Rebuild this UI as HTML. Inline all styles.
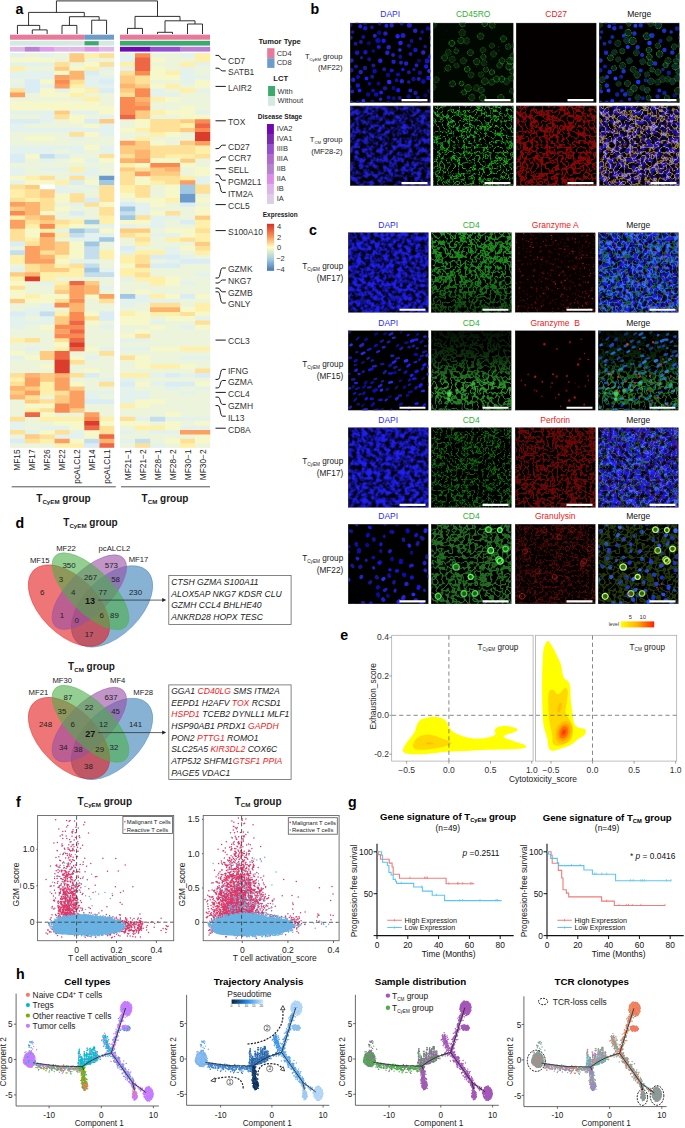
<!DOCTYPE html>
<html><head><meta charset="utf-8"><style>
html,body{margin:0;background:#fff;overflow:hidden;width:685px;height:1128px}
svg{display:block}
text{font-family:"Liberation Sans",sans-serif;fill:#1a1a1a}
.gl{font-size:8.5px;fill:#333}
.lt{font-size:7.6px;font-weight:bold;fill:#1a1a1a}
.lg{font-size:7.5px;fill:#333}
.cl{font-size:8.3px;fill:#222}
.gt{font-size:10px;font-weight:bold}
.pl{font-size:14.2px;font-weight:bold;fill:#000}
.ml{font-size:8.5px}
.vl{font-size:7.7px;fill:#222}
.vn{font-size:7.9px;fill:#222}
.vb{font-size:9px;font-weight:bold;fill:#111}
.bx{font-size:8.6px;font-style:italic;fill:#222}
.rd{fill:#ee1c1c}
.tk{font-size:8.5px;fill:#333}
.ax{font-size:8.4px;fill:#222}
.tn{font-size:4.4px;fill:#333}
.tf{font-size:8.6px;fill:#222}
.af{font-size:8.5px;fill:#222}
.lf{font-size:5.9px;fill:#222}
.tg{font-size:8.4px;fill:#111}
.tg2{font-size:8.4px;fill:#222}
.lk{font-size:7.2px;fill:#111}
.tt{font-size:9.6px;font-weight:bold;fill:#000}
.th{font-size:8.2px;fill:#222}
.ht{font-size:9.8px;font-weight:bold;fill:#000}
.hl{font-size:8.4px;fill:#222}
.tn2{font-size:3.3px;fill:#333}
.cn{font-size:5.2px;fill:#333}
.rl{font-size:7.6px;fill:#222}
.rl2{font-size:8.2px;fill:#222}
</style></head><body>
<svg width="685" height="1128" viewBox="0 0 685 1128">
<path d="M32.29 34V29.9H47.14V34M17.43 34V25.4H39.71V29.9M62 34V25.4H76.86V34M91.71 34V20.2H106.57V34M69.43 25.4V16.7H99.14V20.2M28.57 25.4V12.4H84.29V16.7M127.5 34V28.4H142.5V34M157.5 34V32.3H172.5V34M187.5 34V24H202.5V34M165 32.3V20.8H195V24M135 28.4V16.4H180V20.8M56.43 12.4V0.9H157.5V16.4" fill="none" stroke="#1a1a1a" stroke-width="0.9"/>
<rect x="10" y="34.7" width="74.29" height="5" fill="#E8799A"/>
<rect x="84.29" y="34.7" width="29.71" height="5" fill="#6F9BC8"/>
<rect x="120" y="34.7" width="90" height="5" fill="#E8799A"/>
<rect x="10" y="40.8" width="104" height="4.8" fill="#D2EAE0"/>
<rect x="84.59" y="41.2" width="14.06" height="4.1" fill="#3DAA6D"/>
<rect x="120" y="40.8" width="90" height="4.8" fill="#3DAA6D"/>
<rect x="10" y="46.8" width="15.06" height="4.8" fill="#DFB8E6"/>
<rect x="24.86" y="46.8" width="15.06" height="4.8" fill="#B983D3"/>
<rect x="39.71" y="46.8" width="15.06" height="4.8" fill="#DE9CE9"/>
<rect x="54.57" y="46.8" width="15.06" height="4.8" fill="#DFB8E8"/>
<rect x="69.43" y="46.8" width="15.06" height="4.8" fill="#DFB8E8"/>
<rect x="84.29" y="46.8" width="15.06" height="4.8" fill="#DE96EA"/>
<rect x="99.14" y="46.8" width="15.06" height="4.8" fill="#DFB8E8"/>
<rect x="120" y="46.8" width="15.2" height="4.8" fill="#6E0AAE"/>
<rect x="135" y="46.8" width="15.2" height="4.8" fill="#6E0AAE"/>
<rect x="150" y="46.8" width="15.2" height="4.8" fill="#9550D0"/>
<rect x="165" y="46.8" width="15.2" height="4.8" fill="#9550D0"/>
<rect x="180" y="46.8" width="15.2" height="4.8" fill="#B87ED4"/>
<rect x="195" y="46.8" width="15.2" height="4.8" fill="#B87ED4"/>
<rect x="10" y="53.2" width="104" height="394.2" fill="#ECF5DC"/><rect x="120" y="53.2" width="90" height="394.2" fill="#ECF5DC"/>
<path d="M10 53.2h15.11v4.68h-15.11zM39.71 53.2h15.11v4.68h-15.11zM120 53.2h15.25v4.68h-15.25zM180 53.2h15.25v4.68h-15.25zM120 57.58h15.25v4.68h-15.25zM10 61.96h44.82v4.68h-44.82zM195 61.96h15.25v4.68h-15.25zM99.14 66.34h15.11v4.68h-15.11zM120 66.34h15.25v4.68h-15.25zM180 66.34h15.25v4.68h-15.25zM10 70.72h44.82v4.68h-44.82zM180 70.72h15.25v4.68h-15.25zM10 75.1h44.82v4.68h-44.82zM84.29 75.1h29.96v4.68h-29.96zM180 75.1h30.25v4.68h-30.25zM84.29 79.48h15.11v4.68h-15.11zM180 79.48h15.25v4.68h-15.25zM10 83.86h15.11v4.68h-15.11zM39.71 83.86h15.11v4.68h-15.11zM84.29 83.86h29.96v4.68h-29.96zM54.57 88.24h15.11v4.68h-15.11zM150 88.24h15.25v4.68h-15.25zM195 88.24h15.25v4.68h-15.25zM150 92.62h30.25v4.68h-30.25zM10 110.14h44.82v4.68h-44.82zM69.43 110.14h29.96v4.68h-29.96zM195 110.14h15.25v4.68h-15.25zM39.71 114.52h15.11v4.68h-15.11zM99.14 114.52h15.11v4.68h-15.11zM39.71 118.9h15.11v4.68h-15.11zM10 123.28h15.11v4.68h-15.11zM99.14 123.28h15.11v4.68h-15.11zM10 127.66h104.25v4.68h-104.25zM99.14 132.04h15.11v4.68h-15.11zM69.43 136.42h15.11v4.68h-15.11zM10 145.18h74.54v4.68h-74.54zM99.14 145.18h15.11v4.68h-15.11zM10 149.56h44.82v4.68h-44.82zM69.43 149.56h15.11v4.68h-15.11zM99.14 149.56h15.11v4.68h-15.11zM39.71 158.32h15.11v4.68h-15.11zM84.29 158.32h15.11v4.68h-15.11zM10 167.08h15.11v4.68h-15.11zM39.71 167.08h29.96v4.68h-29.96zM84.29 167.08h15.11v4.68h-15.11zM10 171.46h15.11v4.68h-15.11zM69.43 171.46h29.96v4.68h-29.96zM195 175.84h15.25v4.68h-15.25zM10 180.22h15.11v4.68h-15.11zM195 180.22h15.25v4.68h-15.25zM54.57 184.6h15.11v4.68h-15.11zM84.29 184.6h15.11v4.68h-15.11zM54.57 188.98h29.96v4.68h-29.96zM69.43 202.12h15.11v4.68h-15.11zM135 202.12h15.25v4.68h-15.25zM135 206.5h15.25v4.68h-15.25zM135 210.88h15.25v4.68h-15.25zM150 215.26h30.25v4.68h-30.25zM150 219.64h15.25v4.68h-15.25zM99.14 224.02h15.11v4.68h-15.11zM120 224.02h15.25v4.68h-15.25zM150 224.02h15.25v4.68h-15.25zM54.57 228.4h15.11v4.68h-15.11zM84.29 232.78h29.96v4.68h-29.96zM150 232.78h30.25v4.68h-30.25zM69.43 237.16h29.96v4.68h-29.96zM165 245.92h15.25v4.68h-15.25zM120 250.3h15.25v4.68h-15.25zM165 250.3h15.25v4.68h-15.25zM180 254.68h15.25v4.68h-15.25zM69.43 259.06h29.96v4.68h-29.96zM165 259.06h15.25v4.68h-15.25zM10 267.82h15.11v4.68h-15.11zM99.14 267.82h15.11v4.68h-15.11zM195 272.2h15.25v4.68h-15.25zM120 276.58h15.25v4.68h-15.25zM39.71 280.96h15.11v4.68h-15.11zM180 280.96h15.25v4.68h-15.25zM99.14 285.34h15.11v4.68h-15.11zM135 294.1h15.25v4.68h-15.25zM120 298.48h60.25v4.68h-60.25zM39.71 302.86h15.11v4.68h-15.11zM120 302.86h15.25v4.68h-15.25zM24.86 307.24h29.96v4.68h-29.96zM24.86 311.62h15.11v4.68h-15.11zM10 316h15.11v4.68h-15.11zM39.71 316h15.11v4.68h-15.11zM195 316h15.25v4.68h-15.25zM10 320.38h44.82v4.68h-44.82zM150 320.38h15.25v4.68h-15.25zM10 324.76h15.11v4.68h-15.11zM99.14 324.76h15.11v4.68h-15.11zM180 324.76h15.25v4.68h-15.25zM120 337.9h30.25v4.68h-30.25zM24.86 346.66h15.11v4.68h-15.11zM99.14 346.66h15.11v4.68h-15.11zM120 346.66h30.25v4.68h-30.25zM10 355.42h15.11v4.68h-15.11zM84.29 355.42h15.11v4.68h-15.11zM180 355.42h30.25v4.68h-30.25zM150 372.94h15.25v4.68h-15.25zM180 372.94h15.25v4.68h-15.25zM99.14 377.32h15.11v4.68h-15.11zM120 377.32h15.25v4.68h-15.25zM150 381.7h15.25v4.68h-15.25zM120 386.08h15.25v4.68h-15.25zM165 386.08h15.25v4.68h-15.25zM195 386.08h15.25v4.68h-15.25zM84.29 390.46h29.96v4.68h-29.96zM120 390.46h30.25v4.68h-30.25zM180 390.46h15.25v4.68h-15.25zM84.29 394.84h15.11v4.68h-15.11zM120 394.84h30.25v4.68h-30.25zM120 399.22h15.25v4.68h-15.25zM135 416.74h15.25v4.68h-15.25zM165 416.74h45.25v4.68h-45.25zM10 421.12h15.11v4.68h-15.11zM10 425.5h15.11v4.68h-15.11zM39.71 425.5h29.96v4.68h-29.96zM180 425.5h30.25v4.68h-30.25zM24.86 429.88h15.11v4.68h-15.11zM69.43 429.88h15.11v4.68h-15.11zM120 429.88h15.25v4.68h-15.25zM150 429.88h30.25v4.68h-30.25zM54.57 434.26h29.96v4.68h-29.96zM120 438.64h15.25v4.68h-15.25zM150 443.02h15.25v4.68h-15.25z" fill="#E3F2EC"/>
<path d="M24.86 53.2h15.11v4.68h-15.11zM54.57 53.2h15.11v4.68h-15.11zM150 53.2h30.25v4.68h-30.25zM54.57 57.58h15.11v4.68h-15.11zM84.29 57.58h29.96v4.68h-29.96zM165 57.58h30.25v4.68h-30.25zM69.43 61.96h15.11v4.68h-15.11zM150 61.96h30.25v4.68h-30.25zM24.86 66.34h29.96v4.68h-29.96zM165 66.34h15.25v4.68h-15.25zM195 66.34h15.25v4.68h-15.25zM99.14 70.72h15.11v4.68h-15.11zM195 70.72h15.25v4.68h-15.25zM10 79.48h15.11v4.68h-15.11zM150 79.48h30.25v4.68h-30.25zM180 83.86h15.25v4.68h-15.25zM165 88.24h15.25v4.68h-15.25zM24.86 92.62h15.11v4.68h-15.11zM84.29 92.62h29.96v4.68h-29.96zM180 92.62h30.25v4.68h-30.25zM10 97h74.54v4.68h-74.54zM99.14 97h15.11v4.68h-15.11zM180 97h30.25v4.68h-30.25zM99.14 101.38h15.11v4.68h-15.11zM150 101.38h60.25v4.68h-60.25zM150 105.76h30.25v4.68h-30.25zM195 105.76h15.25v4.68h-15.25zM10 114.52h29.96v4.68h-29.96zM84.29 114.52h15.11v4.68h-15.11zM150 114.52h30.25v4.68h-30.25zM54.57 118.9h15.11v4.68h-15.11zM120 118.9h15.25v4.68h-15.25zM24.86 123.28h59.68v4.68h-59.68zM120 123.28h15.25v4.68h-15.25zM10 132.04h59.68v4.68h-59.68zM120 132.04h30.25v4.68h-30.25zM180 132.04h15.25v4.68h-15.25zM10 136.42h15.11v4.68h-15.11zM54.57 136.42h15.11v4.68h-15.11zM84.29 136.42h29.96v4.68h-29.96zM120 136.42h15.25v4.68h-15.25zM150 136.42h45.25v4.68h-45.25zM10 140.8h104.25v4.68h-104.25zM165 140.8h15.25v4.68h-15.25zM54.57 149.56h15.11v4.68h-15.11zM84.29 149.56h15.11v4.68h-15.11zM69.43 153.94h29.96v4.68h-29.96zM24.86 158.32h15.11v4.68h-15.11zM54.57 158.32h15.11v4.68h-15.11zM195 158.32h15.25v4.68h-15.25zM10 162.7h104.25v4.68h-104.25zM195 162.7h15.25v4.68h-15.25zM24.86 167.08h15.11v4.68h-15.11zM99.14 167.08h15.11v4.68h-15.11zM180 167.08h15.25v4.68h-15.25zM24.86 171.46h44.82v4.68h-44.82zM99.14 171.46h15.11v4.68h-15.11zM180 171.46h15.25v4.68h-15.25zM54.57 175.84h15.11v4.68h-15.11zM84.29 175.84h15.11v4.68h-15.11zM69.43 184.6h15.11v4.68h-15.11zM150 184.6h15.25v4.68h-15.25zM84.29 188.98h15.11v4.68h-15.11zM150 188.98h15.25v4.68h-15.25zM84.29 193.36h15.11v4.68h-15.11zM150 193.36h15.25v4.68h-15.25zM195 193.36h15.25v4.68h-15.25zM120 197.74h15.25v4.68h-15.25zM54.57 202.12h15.11v4.68h-15.11zM165 202.12h15.25v4.68h-15.25zM195 202.12h15.25v4.68h-15.25zM69.43 206.5h29.96v4.68h-29.96zM150 206.5h45.25v4.68h-45.25zM54.57 210.88h15.11v4.68h-15.11zM84.29 210.88h15.11v4.68h-15.11zM180 210.88h15.25v4.68h-15.25zM54.57 215.26h44.82v4.68h-44.82zM180 215.26h15.25v4.68h-15.25zM165 219.64h15.25v4.68h-15.25zM84.29 224.02h15.11v4.68h-15.11zM135 224.02h15.25v4.68h-15.25zM165 224.02h30.25v4.68h-30.25zM150 228.4h15.25v4.68h-15.25zM54.57 237.16h15.11v4.68h-15.11zM120 237.16h15.25v4.68h-15.25zM150 237.16h15.25v4.68h-15.25zM99.14 241.54h15.11v4.68h-15.11zM120 241.54h15.25v4.68h-15.25zM150 241.54h45.25v4.68h-45.25zM10 245.92h15.11v4.68h-15.11zM99.14 245.92h15.11v4.68h-15.11zM135 245.92h30.25v4.68h-30.25zM180 250.3h15.25v4.68h-15.25zM195 254.68h15.25v4.68h-15.25zM99.14 259.06h15.11v4.68h-15.11zM150 259.06h15.25v4.68h-15.25zM10 263.44h15.11v4.68h-15.11zM99.14 263.44h15.11v4.68h-15.11zM180 263.44h30.25v4.68h-30.25zM150 267.82h60.25v4.68h-60.25zM150 272.2h45.25v4.68h-45.25zM54.57 276.58h59.68v4.68h-59.68zM180 276.58h30.25v4.68h-30.25zM24.86 280.96h15.11v4.68h-15.11zM99.14 280.96h15.11v4.68h-15.11zM120 280.96h30.25v4.68h-30.25zM195 280.96h15.25v4.68h-15.25zM24.86 285.34h29.96v4.68h-29.96zM120 285.34h90.25v4.68h-90.25zM24.86 289.72h29.96v4.68h-29.96zM99.14 289.72h15.11v4.68h-15.11zM120 289.72h15.25v4.68h-15.25zM150 289.72h60.25v4.68h-60.25zM84.29 298.48h15.11v4.68h-15.11zM180 298.48h30.25v4.68h-30.25zM10 302.86h29.96v4.68h-29.96zM84.29 302.86h29.96v4.68h-29.96zM135 302.86h15.25v4.68h-15.25zM180 302.86h15.25v4.68h-15.25zM10 307.24h15.11v4.68h-15.11zM54.57 307.24h15.11v4.68h-15.11zM84.29 307.24h29.96v4.68h-29.96zM120 307.24h30.25v4.68h-30.25zM24.86 316h15.11v4.68h-15.11zM150 316h15.25v4.68h-15.25zM99.14 320.38h15.11v4.68h-15.11zM165 320.38h30.25v4.68h-30.25zM24.86 324.76h15.11v4.68h-15.11zM84.29 324.76h15.11v4.68h-15.11zM120 324.76h30.25v4.68h-30.25zM165 324.76h15.25v4.68h-15.25zM10 329.14h44.82v4.68h-44.82zM84.29 329.14h29.96v4.68h-29.96zM120 329.14h15.25v4.68h-15.25zM150 329.14h60.25v4.68h-60.25zM10 333.52h44.82v4.68h-44.82zM84.29 333.52h29.96v4.68h-29.96zM150 333.52h60.25v4.68h-60.25zM39.71 337.9h15.11v4.68h-15.11zM84.29 337.9h29.96v4.68h-29.96zM150 337.9h60.25v4.68h-60.25zM10 342.28h44.82v4.68h-44.82zM84.29 342.28h29.96v4.68h-29.96zM120 342.28h90.25v4.68h-90.25zM10 346.66h15.11v4.68h-15.11zM39.71 346.66h15.11v4.68h-15.11zM24.86 351.04h15.11v4.68h-15.11zM69.43 351.04h29.96v4.68h-29.96zM120 351.04h90.25v4.68h-90.25zM99.14 355.42h15.11v4.68h-15.11zM150 355.42h30.25v4.68h-30.25zM10 359.8h44.82v4.68h-44.82zM84.29 359.8h29.96v4.68h-29.96zM120 359.8h15.25v4.68h-15.25zM150 359.8h60.25v4.68h-60.25zM10 364.18h29.96v4.68h-29.96zM69.43 364.18h44.82v4.68h-44.82zM120 364.18h15.25v4.68h-15.25zM195 364.18h15.25v4.68h-15.25zM10 368.56h44.82v4.68h-44.82zM69.43 368.56h15.11v4.68h-15.11zM99.14 368.56h15.11v4.68h-15.11zM120 368.56h75.25v4.68h-75.25zM99.14 372.94h15.11v4.68h-15.11zM69.43 377.32h29.96v4.68h-29.96zM135 377.32h75.25v4.68h-75.25zM84.29 381.7h15.11v4.68h-15.11zM84.29 386.08h29.96v4.68h-29.96zM135 386.08h30.25v4.68h-30.25zM180 386.08h15.25v4.68h-15.25zM150 390.46h30.25v4.68h-30.25zM195 390.46h15.25v4.68h-15.25zM39.71 394.84h15.11v4.68h-15.11zM99.14 394.84h15.11v4.68h-15.11zM150 394.84h60.25v4.68h-60.25zM10 399.22h15.11v4.68h-15.11zM165 399.22h45.25v4.68h-45.25zM10 403.6h15.11v4.68h-15.11zM84.29 403.6h29.96v4.68h-29.96zM150 403.6h60.25v4.68h-60.25zM10 407.98h15.11v4.68h-15.11zM84.29 407.98h29.96v4.68h-29.96zM120 407.98h90.25v4.68h-90.25zM10 412.36h15.11v4.68h-15.11zM54.57 412.36h29.96v4.68h-29.96zM99.14 412.36h15.11v4.68h-15.11zM120 412.36h45.25v4.68h-45.25zM180 412.36h30.25v4.68h-30.25zM24.86 416.74h15.11v4.68h-15.11zM24.86 421.12h29.96v4.68h-29.96zM150 421.12h15.25v4.68h-15.25zM180 421.12h15.25v4.68h-15.25zM24.86 425.5h15.11v4.68h-15.11zM120 425.5h15.25v4.68h-15.25zM135 429.88h15.25v4.68h-15.25zM10 434.26h15.11v4.68h-15.11zM120 434.26h75.25v4.68h-75.25zM150 438.64h15.25v4.68h-15.25zM10 443.02h44.82v4.68h-44.82zM120 443.02h15.25v4.68h-15.25zM165 443.02h15.25v4.68h-15.25zM195 443.02h15.25v4.68h-15.25z" fill="#ECF5DC"/>
<path d="M69.43 53.2h15.11v4.68h-15.11zM69.43 57.58h15.11v4.68h-15.11zM54.57 66.34h15.11v4.68h-15.11zM120 75.1h15.25v4.68h-15.25zM120 79.48h15.25v4.68h-15.25zM135 83.86h15.25v4.68h-15.25zM120 88.24h15.25v4.68h-15.25zM54.57 110.14h15.11v4.68h-15.11zM135 110.14h15.25v4.68h-15.25zM135 114.52h15.25v4.68h-15.25zM99.14 118.9h15.11v4.68h-15.11zM180 118.9h15.25v4.68h-15.25zM180 127.66h15.25v4.68h-15.25zM135 140.8h15.25v4.68h-15.25zM180 140.8h15.25v4.68h-15.25zM120 145.18h30.25v4.68h-30.25zM120 149.56h15.25v4.68h-15.25zM180 158.32h15.25v4.68h-15.25zM120 167.08h15.25v4.68h-15.25zM150 167.08h15.25v4.68h-15.25zM150 171.46h30.25v4.68h-30.25zM24.86 184.6h15.11v4.68h-15.11zM39.71 188.98h15.11v4.68h-15.11zM39.71 193.36h15.11v4.68h-15.11zM10 206.5h15.11v4.68h-15.11zM24.86 215.26h15.11v4.68h-15.11zM195 215.26h15.25v4.68h-15.25zM39.71 219.64h15.11v4.68h-15.11zM120 228.4h30.25v4.68h-30.25zM54.57 241.54h15.11v4.68h-15.11zM195 241.54h15.25v4.68h-15.25zM54.57 245.92h15.11v4.68h-15.11zM54.57 250.3h15.11v4.68h-15.11zM39.71 263.44h15.11v4.68h-15.11zM135 263.44h15.25v4.68h-15.25zM39.71 267.82h29.96v4.68h-29.96zM10 272.2h15.11v4.68h-15.11zM84.29 280.96h15.11v4.68h-15.11zM54.57 289.72h15.11v4.68h-15.11zM10 298.48h15.11v4.68h-15.11zM54.57 316h15.11v4.68h-15.11zM54.57 320.38h15.11v4.68h-15.11zM39.71 351.04h15.11v4.68h-15.11zM39.71 355.42h15.11v4.68h-15.11zM39.71 372.94h15.11v4.68h-15.11zM39.71 377.32h15.11v4.68h-15.11zM24.86 386.08h15.11v4.68h-15.11zM69.43 386.08h15.11v4.68h-15.11zM10 390.46h15.11v4.68h-15.11zM54.57 394.84h15.11v4.68h-15.11zM24.86 399.22h15.11v4.68h-15.11zM54.57 399.22h15.11v4.68h-15.11zM69.43 407.98h15.11v4.68h-15.11zM24.86 434.26h15.11v4.68h-15.11z" fill="#FDCB82"/>
<path d="M84.29 53.2h15.11v4.68h-15.11zM195 53.2h15.25v4.68h-15.25zM195 57.58h15.25v4.68h-15.25zM120 61.96h15.25v4.68h-15.25zM180 61.96h15.25v4.68h-15.25zM10 66.34h15.11v4.68h-15.11zM84.29 66.34h15.11v4.68h-15.11zM165 70.72h15.25v4.68h-15.25zM69.43 83.86h15.11v4.68h-15.11zM165 83.86h15.25v4.68h-15.25zM84.29 88.24h15.11v4.68h-15.11zM180 88.24h15.25v4.68h-15.25zM69.43 92.62h15.11v4.68h-15.11zM84.29 97h15.11v4.68h-15.11zM150 97h15.25v4.68h-15.25zM150 110.14h15.25v4.68h-15.25zM180 123.28h15.25v4.68h-15.25zM135 127.66h15.25v4.68h-15.25zM150 132.04h15.25v4.68h-15.25zM135 136.42h15.25v4.68h-15.25zM195 145.18h15.25v4.68h-15.25zM195 149.56h15.25v4.68h-15.25zM165 153.94h30.25v4.68h-30.25zM120 162.7h15.25v4.68h-15.25zM69.43 167.08h15.11v4.68h-15.11zM24.86 175.84h15.11v4.68h-15.11zM180 175.84h15.25v4.68h-15.25zM54.57 180.22h15.11v4.68h-15.11zM150 180.22h15.25v4.68h-15.25zM120 184.6h15.25v4.68h-15.25zM10 188.98h15.11v4.68h-15.11zM120 188.98h15.25v4.68h-15.25zM10 193.36h15.11v4.68h-15.11zM24.86 197.74h15.11v4.68h-15.11zM165 197.74h15.25v4.68h-15.25zM10 215.26h15.11v4.68h-15.11zM99.14 215.26h15.11v4.68h-15.11zM69.43 219.64h15.11v4.68h-15.11zM99.14 219.64h15.11v4.68h-15.11zM195 219.64h15.25v4.68h-15.25zM24.86 224.02h15.11v4.68h-15.11zM54.57 224.02h15.11v4.68h-15.11zM195 224.02h15.25v4.68h-15.25zM39.71 228.4h15.11v4.68h-15.11zM54.57 232.78h15.11v4.68h-15.11zM135 232.78h15.25v4.68h-15.25zM195 232.78h15.25v4.68h-15.25zM24.86 237.16h15.11v4.68h-15.11zM165 237.16h15.25v4.68h-15.25zM195 237.16h15.25v4.68h-15.25zM135 241.54h15.25v4.68h-15.25zM99.14 250.3h15.11v4.68h-15.11zM135 250.3h30.25v4.68h-30.25zM195 250.3h15.25v4.68h-15.25zM10 254.68h15.11v4.68h-15.11zM54.57 254.68h15.11v4.68h-15.11zM99.14 254.68h15.11v4.68h-15.11zM120 254.68h15.25v4.68h-15.25zM10 259.06h15.11v4.68h-15.11zM120 259.06h15.25v4.68h-15.25zM54.57 263.44h15.11v4.68h-15.11zM69.43 267.82h15.11v4.68h-15.11zM120 267.82h30.25v4.68h-30.25zM39.71 272.2h44.82v4.68h-44.82zM120 272.2h15.25v4.68h-15.25zM10 276.58h15.11v4.68h-15.11zM39.71 276.58h15.11v4.68h-15.11zM135 276.58h30.25v4.68h-30.25zM54.57 280.96h15.11v4.68h-15.11zM150 280.96h15.25v4.68h-15.25zM24.86 294.1h15.11v4.68h-15.11zM150 294.1h15.25v4.68h-15.25zM195 302.86h15.25v4.68h-15.25zM195 307.24h15.25v4.68h-15.25zM54.57 311.62h15.11v4.68h-15.11zM120 311.62h15.25v4.68h-15.25zM150 311.62h30.25v4.68h-30.25zM10 337.9h15.11v4.68h-15.11zM54.57 346.66h15.11v4.68h-15.11zM180 346.66h30.25v4.68h-30.25zM150 364.18h30.25v4.68h-30.25zM120 372.94h30.25v4.68h-30.25zM10 377.32h15.11v4.68h-15.11zM39.71 381.7h15.11v4.68h-15.11zM39.71 386.08h15.11v4.68h-15.11zM39.71 390.46h15.11v4.68h-15.11zM120 403.6h15.25v4.68h-15.25zM24.86 407.98h15.11v4.68h-15.11zM39.71 416.74h44.82v4.68h-44.82zM99.14 416.74h15.11v4.68h-15.11zM135 425.5h30.25v4.68h-30.25zM39.71 438.64h15.11v4.68h-15.11zM54.57 443.02h29.96v4.68h-29.96zM180 443.02h15.25v4.68h-15.25z" fill="#FEF0A8"/>
<path d="M99.14 53.2h15.11v4.68h-15.11zM54.57 61.96h15.11v4.68h-15.11zM99.14 61.96h15.11v4.68h-15.11zM120 70.72h15.25v4.68h-15.25zM135 75.1h15.25v4.68h-15.25zM69.43 79.48h15.11v4.68h-15.11zM135 79.48h15.25v4.68h-15.25zM10 88.24h15.11v4.68h-15.11zM120 92.62h15.25v4.68h-15.25zM54.57 114.52h15.11v4.68h-15.11zM150 118.9h30.25v4.68h-30.25zM150 123.28h30.25v4.68h-30.25zM150 127.66h30.25v4.68h-30.25zM69.43 132.04h15.11v4.68h-15.11zM150 145.18h45.25v4.68h-45.25zM150 149.56h45.25v4.68h-45.25zM99.14 153.94h15.11v4.68h-15.11zM120 153.94h15.25v4.68h-15.25zM150 153.94h15.25v4.68h-15.25zM195 153.94h15.25v4.68h-15.25zM135 167.08h15.25v4.68h-15.25zM120 171.46h15.25v4.68h-15.25zM39.71 175.84h15.11v4.68h-15.11zM69.43 175.84h15.11v4.68h-15.11zM120 175.84h15.25v4.68h-15.25zM150 175.84h30.25v4.68h-30.25zM120 180.22h15.25v4.68h-15.25zM165 180.22h15.25v4.68h-15.25zM10 184.6h15.11v4.68h-15.11zM99.14 184.6h15.11v4.68h-15.11zM135 184.6h15.25v4.68h-15.25zM195 184.6h15.25v4.68h-15.25zM24.86 188.98h15.11v4.68h-15.11zM99.14 188.98h15.11v4.68h-15.11zM135 188.98h15.25v4.68h-15.25zM195 188.98h15.25v4.68h-15.25zM24.86 193.36h15.11v4.68h-15.11zM69.43 193.36h15.11v4.68h-15.11zM99.14 193.36h15.11v4.68h-15.11zM135 193.36h15.25v4.68h-15.25zM10 197.74h15.11v4.68h-15.11zM39.71 197.74h15.11v4.68h-15.11zM69.43 197.74h15.11v4.68h-15.11zM99.14 197.74h15.11v4.68h-15.11zM39.71 202.12h15.11v4.68h-15.11zM84.29 202.12h15.11v4.68h-15.11zM39.71 206.5h15.11v4.68h-15.11zM99.14 206.5h15.11v4.68h-15.11zM99.14 210.88h15.11v4.68h-15.11zM165 210.88h15.25v4.68h-15.25zM135 215.26h15.25v4.68h-15.25zM24.86 219.64h15.11v4.68h-15.11zM54.57 219.64h15.11v4.68h-15.11zM10 228.4h15.11v4.68h-15.11zM195 228.4h15.25v4.68h-15.25zM10 232.78h15.11v4.68h-15.11zM120 232.78h15.25v4.68h-15.25zM10 237.16h15.11v4.68h-15.11zM135 237.16h15.25v4.68h-15.25zM180 237.16h15.25v4.68h-15.25zM24.86 241.54h15.11v4.68h-15.11zM195 245.92h15.25v4.68h-15.25zM39.71 250.3h15.11v4.68h-15.11zM135 254.68h15.25v4.68h-15.25zM135 259.06h15.25v4.68h-15.25zM24.86 263.44h15.11v4.68h-15.11zM69.43 263.44h15.11v4.68h-15.11zM24.86 267.82h15.11v4.68h-15.11zM135 272.2h15.25v4.68h-15.25zM10 285.34h15.11v4.68h-15.11zM54.57 285.34h15.11v4.68h-15.11zM54.57 298.48h15.11v4.68h-15.11zM99.14 298.48h15.11v4.68h-15.11zM150 302.86h30.25v4.68h-30.25zM180 311.62h15.25v4.68h-15.25zM84.29 316h15.11v4.68h-15.11zM195 320.38h15.25v4.68h-15.25zM135 333.52h15.25v4.68h-15.25zM24.86 337.9h15.11v4.68h-15.11zM54.57 337.9h15.11v4.68h-15.11zM99.14 351.04h15.11v4.68h-15.11zM120 355.42h15.25v4.68h-15.25zM69.43 359.8h15.11v4.68h-15.11zM195 368.56h15.25v4.68h-15.25zM10 372.94h15.11v4.68h-15.11zM69.43 372.94h15.11v4.68h-15.11zM10 381.7h15.11v4.68h-15.11zM99.14 381.7h15.11v4.68h-15.11zM54.57 390.46h15.11v4.68h-15.11zM24.86 394.84h15.11v4.68h-15.11zM39.71 399.22h15.11v4.68h-15.11zM39.71 407.98h15.11v4.68h-15.11zM10 416.74h15.11v4.68h-15.11zM120 416.74h15.25v4.68h-15.25zM99.14 425.5h15.11v4.68h-15.11zM10 429.88h15.11v4.68h-15.11zM54.57 429.88h15.11v4.68h-15.11zM99.14 429.88h15.11v4.68h-15.11zM39.71 434.26h15.11v4.68h-15.11zM24.86 438.64h15.11v4.68h-15.11zM180 438.64h15.25v4.68h-15.25zM135 443.02h15.25v4.68h-15.25z" fill="#FEE096"/>
<path d="M135 53.2h15.25v4.68h-15.25zM135 70.72h15.25v4.68h-15.25zM54.57 79.48h15.11v4.68h-15.11zM135 88.24h15.25v4.68h-15.25zM135 92.62h15.25v4.68h-15.25zM120 97h15.25v4.68h-15.25zM120 101.38h15.25v4.68h-15.25zM120 105.76h30.25v4.68h-30.25zM120 110.14h15.25v4.68h-15.25zM195 118.9h15.25v4.68h-15.25zM195 127.66h15.25v4.68h-15.25zM150 162.7h30.25v4.68h-30.25zM10 210.88h15.11v4.68h-15.11zM39.71 224.02h15.11v4.68h-15.11zM39.71 232.78h15.11v4.68h-15.11zM69.43 298.48h15.11v4.68h-15.11zM54.57 302.86h15.11v4.68h-15.11zM69.43 311.62h15.11v4.68h-15.11zM69.43 316h15.11v4.68h-15.11zM54.57 324.76h29.96v4.68h-29.96zM54.57 333.52h29.96v4.68h-29.96zM54.57 403.6h15.11v4.68h-15.11zM54.57 407.98h15.11v4.68h-15.11zM84.29 416.74h15.11v4.68h-15.11z" fill="#F88A52"/>
<path d="M10 57.58h44.82v4.68h-44.82zM150 57.58h15.25v4.68h-15.25zM84.29 61.96h15.11v4.68h-15.11zM69.43 66.34h15.11v4.68h-15.11zM150 66.34h15.25v4.68h-15.25zM54.57 70.72h15.11v4.68h-15.11zM150 70.72h15.25v4.68h-15.25zM150 75.1h30.25v4.68h-30.25zM39.71 79.48h15.11v4.68h-15.11zM195 79.48h15.25v4.68h-15.25zM150 83.86h15.25v4.68h-15.25zM195 83.86h15.25v4.68h-15.25zM39.71 88.24h15.11v4.68h-15.11zM69.43 88.24h15.11v4.68h-15.11zM39.71 92.62h29.96v4.68h-29.96zM165 97h15.25v4.68h-15.25zM10 101.38h89.39v4.68h-89.39zM10 105.76h104.25v4.68h-104.25zM180 105.76h15.25v4.68h-15.25zM99.14 110.14h15.11v4.68h-15.11zM165 110.14h30.25v4.68h-30.25zM69.43 114.52h15.11v4.68h-15.11zM180 114.52h30.25v4.68h-30.25zM69.43 118.9h15.11v4.68h-15.11zM135 118.9h15.25v4.68h-15.25zM84.29 123.28h15.11v4.68h-15.11zM135 123.28h15.25v4.68h-15.25zM120 127.66h15.25v4.68h-15.25zM84.29 132.04h15.11v4.68h-15.11zM165 132.04h15.25v4.68h-15.25zM24.86 136.42h29.96v4.68h-29.96zM150 140.8h15.25v4.68h-15.25zM84.29 145.18h15.11v4.68h-15.11zM24.86 153.94h15.11v4.68h-15.11zM69.43 158.32h15.11v4.68h-15.11zM99.14 158.32h15.11v4.68h-15.11zM150 158.32h30.25v4.68h-30.25zM135 162.7h15.25v4.68h-15.25zM180 162.7h15.25v4.68h-15.25zM195 167.08h15.25v4.68h-15.25zM195 171.46h15.25v4.68h-15.25zM10 175.84h15.11v4.68h-15.11zM135 175.84h15.25v4.68h-15.25zM24.86 180.22h29.96v4.68h-29.96zM84.29 180.22h15.11v4.68h-15.11zM135 180.22h15.25v4.68h-15.25zM165 184.6h15.25v4.68h-15.25zM165 188.98h15.25v4.68h-15.25zM54.57 193.36h15.11v4.68h-15.11zM120 193.36h15.25v4.68h-15.25zM165 193.36h15.25v4.68h-15.25zM54.57 197.74h15.11v4.68h-15.11zM135 197.74h30.25v4.68h-30.25zM195 197.74h15.25v4.68h-15.25zM99.14 202.12h15.11v4.68h-15.11zM150 202.12h15.25v4.68h-15.25zM54.57 206.5h15.11v4.68h-15.11zM195 206.5h15.25v4.68h-15.25zM39.71 210.88h15.11v4.68h-15.11zM150 210.88h15.25v4.68h-15.25zM195 210.88h15.25v4.68h-15.25zM120 219.64h30.25v4.68h-30.25zM69.43 224.02h15.11v4.68h-15.11zM24.86 228.4h15.11v4.68h-15.11zM99.14 228.4h15.11v4.68h-15.11zM165 228.4h30.25v4.68h-30.25zM24.86 232.78h15.11v4.68h-15.11zM180 232.78h15.25v4.68h-15.25zM69.43 241.54h15.11v4.68h-15.11zM69.43 245.92h15.11v4.68h-15.11zM180 245.92h15.25v4.68h-15.25zM69.43 250.3h15.11v4.68h-15.11zM69.43 254.68h15.11v4.68h-15.11zM54.57 259.06h15.11v4.68h-15.11zM120 263.44h15.25v4.68h-15.25zM165 276.58h15.25v4.68h-15.25zM10 280.96h15.11v4.68h-15.11zM165 280.96h15.25v4.68h-15.25zM10 289.72h15.11v4.68h-15.11zM135 289.72h15.25v4.68h-15.25zM10 294.1h15.11v4.68h-15.11zM39.71 294.1h29.96v4.68h-29.96zM84.29 294.1h15.11v4.68h-15.11zM165 294.1h15.25v4.68h-15.25zM195 294.1h15.25v4.68h-15.25zM24.86 298.48h29.96v4.68h-29.96zM180 307.24h15.25v4.68h-15.25zM84.29 311.62h15.11v4.68h-15.11zM135 311.62h15.25v4.68h-15.25zM195 311.62h15.25v4.68h-15.25zM120 316h30.25v4.68h-30.25zM165 316h30.25v4.68h-30.25zM84.29 320.38h15.11v4.68h-15.11zM120 320.38h30.25v4.68h-30.25zM39.71 324.76h15.11v4.68h-15.11zM150 324.76h15.25v4.68h-15.25zM195 324.76h15.25v4.68h-15.25zM135 329.14h15.25v4.68h-15.25zM120 333.52h15.25v4.68h-15.25zM54.57 342.28h15.11v4.68h-15.11zM84.29 346.66h15.11v4.68h-15.11zM150 346.66h30.25v4.68h-30.25zM10 351.04h15.11v4.68h-15.11zM24.86 355.42h15.11v4.68h-15.11zM69.43 355.42h15.11v4.68h-15.11zM135 355.42h15.25v4.68h-15.25zM135 359.8h15.25v4.68h-15.25zM39.71 364.18h15.11v4.68h-15.11zM135 364.18h15.25v4.68h-15.25zM180 364.18h15.25v4.68h-15.25zM84.29 368.56h15.11v4.68h-15.11zM69.43 381.7h15.11v4.68h-15.11zM135 381.7h15.25v4.68h-15.25zM195 381.7h15.25v4.68h-15.25zM135 399.22h30.25v4.68h-30.25zM24.86 403.6h29.96v4.68h-29.96zM135 403.6h15.25v4.68h-15.25zM39.71 412.36h15.11v4.68h-15.11zM165 412.36h15.25v4.68h-15.25zM54.57 421.12h29.96v4.68h-29.96zM99.14 421.12h15.11v4.68h-15.11zM120 421.12h30.25v4.68h-30.25zM165 421.12h15.25v4.68h-15.25zM195 421.12h15.25v4.68h-15.25zM69.43 425.5h15.11v4.68h-15.11zM165 425.5h15.25v4.68h-15.25zM39.71 429.88h15.11v4.68h-15.11zM84.29 429.88h15.11v4.68h-15.11zM84.29 434.26h15.11v4.68h-15.11zM195 434.26h15.25v4.68h-15.25zM69.43 438.64h15.11v4.68h-15.11zM165 438.64h15.25v4.68h-15.25zM195 438.64h15.25v4.68h-15.25z" fill="#F7F8CA"/>
<path d="M135 57.58h15.25v4.68h-15.25zM135 61.96h15.25v4.68h-15.25zM135 66.34h15.25v4.68h-15.25zM120 114.52h15.25v4.68h-15.25zM195 123.28h15.25v4.68h-15.25zM69.43 280.96h15.11v4.68h-15.11zM69.43 320.38h15.11v4.68h-15.11zM69.43 329.14h15.11v4.68h-15.11zM69.43 337.9h15.11v4.68h-15.11zM69.43 346.66h15.11v4.68h-15.11zM54.57 351.04h15.11v4.68h-15.11zM54.57 355.42h15.11v4.68h-15.11zM24.86 412.36h15.11v4.68h-15.11zM84.29 425.5h15.11v4.68h-15.11zM99.14 434.26h15.11v4.68h-15.11zM99.14 443.02h15.11v4.68h-15.11z" fill="#EE6643"/>
<path d="M69.43 70.72h15.11v4.68h-15.11zM69.43 75.1h15.11v4.68h-15.11zM120 83.86h15.25v4.68h-15.25zM135 97h15.25v4.68h-15.25zM135 149.56h15.25v4.68h-15.25zM135 153.94h15.25v4.68h-15.25zM120 158.32h15.25v4.68h-15.25zM165 167.08h15.25v4.68h-15.25zM24.86 202.12h15.11v4.68h-15.11zM24.86 206.5h15.11v4.68h-15.11zM24.86 210.88h15.11v4.68h-15.11zM39.71 215.26h15.11v4.68h-15.11zM39.71 237.16h15.11v4.68h-15.11zM39.71 241.54h15.11v4.68h-15.11zM39.71 245.92h15.11v4.68h-15.11zM39.71 254.68h15.11v4.68h-15.11zM24.86 272.2h15.11v4.68h-15.11zM84.29 285.34h15.11v4.68h-15.11zM84.29 289.72h15.11v4.68h-15.11zM69.43 302.86h15.11v4.68h-15.11zM69.43 307.24h15.11v4.68h-15.11zM150 307.24h30.25v4.68h-30.25zM24.86 372.94h15.11v4.68h-15.11zM54.57 372.94h15.11v4.68h-15.11zM10 386.08h15.11v4.68h-15.11zM10 394.84h15.11v4.68h-15.11zM99.14 438.64h15.11v4.68h-15.11z" fill="#FDB46E"/>
<path d="M84.29 70.72h15.11v4.68h-15.11zM24.86 79.48h15.11v4.68h-15.11zM99.14 79.48h15.11v4.68h-15.11zM24.86 83.86h15.11v4.68h-15.11zM24.86 88.24h15.11v4.68h-15.11zM99.14 88.24h15.11v4.68h-15.11zM10 118.9h29.96v4.68h-29.96zM84.29 118.9h15.11v4.68h-15.11zM10 153.94h15.11v4.68h-15.11zM54.57 153.94h15.11v4.68h-15.11zM10 158.32h15.11v4.68h-15.11zM69.43 180.22h15.11v4.68h-15.11zM84.29 197.74h15.11v4.68h-15.11zM120 202.12h15.25v4.68h-15.25zM180 202.12h15.25v4.68h-15.25zM69.43 210.88h15.11v4.68h-15.11zM180 219.64h15.25v4.68h-15.25zM10 241.54h15.11v4.68h-15.11zM120 245.92h15.25v4.68h-15.25zM150 254.68h30.25v4.68h-30.25zM180 259.06h30.25v4.68h-30.25zM150 263.44h30.25v4.68h-30.25zM180 294.1h15.25v4.68h-15.25zM10 311.62h15.11v4.68h-15.11zM99.14 311.62h15.11v4.68h-15.11zM99.14 316h15.11v4.68h-15.11zM84.29 372.94h15.11v4.68h-15.11zM165 372.94h15.25v4.68h-15.25zM195 372.94h15.25v4.68h-15.25zM120 381.7h15.25v4.68h-15.25zM165 381.7h30.25v4.68h-30.25zM84.29 399.22h29.96v4.68h-29.96zM10 438.64h15.11v4.68h-15.11zM84.29 443.02h15.11v4.68h-15.11z" fill="#DAECF4"/>
<path d="M54.57 75.1h15.11v4.68h-15.11zM54.57 83.86h15.11v4.68h-15.11zM10 92.62h15.11v4.68h-15.11zM135 101.38h15.25v4.68h-15.25zM120 140.8h15.25v4.68h-15.25zM195 140.8h15.25v4.68h-15.25zM135 158.32h15.25v4.68h-15.25zM135 171.46h15.25v4.68h-15.25zM180 180.22h15.25v4.68h-15.25zM10 202.12h15.11v4.68h-15.11zM10 219.64h15.11v4.68h-15.11zM10 224.02h15.11v4.68h-15.11zM24.86 245.92h15.11v4.68h-15.11zM24.86 250.3h15.11v4.68h-15.11zM24.86 254.68h15.11v4.68h-15.11zM24.86 259.06h29.96v4.68h-29.96zM69.43 285.34h15.11v4.68h-15.11zM69.43 289.72h15.11v4.68h-15.11zM69.43 294.1h15.11v4.68h-15.11zM99.14 294.1h15.11v4.68h-15.11zM54.57 329.14h15.11v4.68h-15.11zM24.86 377.32h15.11v4.68h-15.11zM54.57 377.32h15.11v4.68h-15.11zM24.86 381.7h15.11v4.68h-15.11zM54.57 381.7h15.11v4.68h-15.11zM54.57 386.08h15.11v4.68h-15.11zM24.86 390.46h15.11v4.68h-15.11zM69.43 390.46h15.11v4.68h-15.11zM69.43 394.84h15.11v4.68h-15.11zM69.43 399.22h15.11v4.68h-15.11zM69.43 403.6h15.11v4.68h-15.11zM84.29 412.36h15.11v4.68h-15.11zM180 429.88h30.25v4.68h-30.25zM54.57 438.64h15.11v4.68h-15.11z" fill="#FCA062"/>
<path d="M195 132.04h15.25v4.68h-15.25zM195 136.42h15.25v4.68h-15.25zM24.86 276.58h15.11v4.68h-15.11zM69.43 342.28h15.11v4.68h-15.11zM54.57 359.8h15.11v4.68h-15.11zM54.57 364.18h15.11v4.68h-15.11zM54.57 368.56h15.11v4.68h-15.11zM84.29 421.12h15.11v4.68h-15.11z" fill="#DB3D2C"/>
<path d="M39.71 153.94h15.11v4.68h-15.11zM120 210.88h15.25v4.68h-15.25zM84.29 228.4h15.11v4.68h-15.11zM69.43 232.78h15.11v4.68h-15.11zM84.29 245.92h15.11v4.68h-15.11zM10 250.3h15.11v4.68h-15.11zM84.29 250.3h15.11v4.68h-15.11zM84.29 254.68h15.11v4.68h-15.11zM84.29 263.44h15.11v4.68h-15.11zM84.29 272.2h29.96v4.68h-29.96zM39.71 311.62h15.11v4.68h-15.11zM150 416.74h15.25v4.68h-15.25zM84.29 438.64h15.11v4.68h-15.11zM135 438.64h15.25v4.68h-15.25z" fill="#C4DEEE"/>
<path d="M99.14 175.84h15.11v4.68h-15.11zM180 193.36h15.25v4.68h-15.25zM180 197.74h15.25v4.68h-15.25z" fill="#6C9BCB"/>
<path d="M99.14 180.22h15.11v4.68h-15.11zM180 184.6h15.25v4.68h-15.25zM180 188.98h15.25v4.68h-15.25zM120 206.5h15.25v4.68h-15.25zM120 215.26h15.25v4.68h-15.25zM84.29 219.64h15.11v4.68h-15.11zM69.43 228.4h15.11v4.68h-15.11zM99.14 237.16h15.11v4.68h-15.11zM84.29 241.54h15.11v4.68h-15.11zM84.29 267.82h15.11v4.68h-15.11zM120 294.1h15.25v4.68h-15.25z" fill="#A0C8E2"/>
<path d="M39.71 184.6h15.11v4.68h-15.11z" fill="#FFFFFF"/>
<path d="M215.5 55.4H218 C220.5 55.4 220 59.2 222.5 59.2 H225.8M215.5 68.2H218 C220.5 68.2 220 70.9 222.5 70.9 H225.8M215.5 86.4H225.8M215.5 120.8H225.8M215.5 148.6H218 C220.5 148.6 220 145.2 222.5 145.2 H225.8M215.5 160.8H218 C220.5 160.8 220 157 222.5 157 H225.8M215.5 168.7H225.8M215.5 174.8H218 C220.5 174.8 220 180.2 222.5 180.2 H225.8M215.5 182.6H218 C220.5 182.6 220 192.4 222.5 192.4 H225.8M215.5 204.6H225.8M215.5 230.6H225.8M215.5 278H218 C220.5 278 220 268 222.5 268 H225.8M215.5 283H218 C220.5 283 220 280 222.5 280 H225.8M215.5 288.1H218 C220.5 288.1 220 291.8 222.5 291.8 H225.8M215.5 291.8H218 C220.5 291.8 220 303 222.5 303 H225.8M215.5 340.1H225.8M215.5 379.4H218 C220.5 379.4 220 369.4 222.5 369.4 H225.8M215.5 387.9H218 C220.5 387.9 220 380.5 222.5 380.5 H225.8M215.5 392.4H225.8M215.5 397.1H218 C220.5 397.1 220 404.4 222.5 404.4 H225.8M215.5 405.6H218 C220.5 405.6 220 416.2 222.5 416.2 H225.8M215.5 428.2H225.8" fill="none" stroke="#1a1a1a" stroke-width="1"/>
<text x="228" y="63.5" class="gl">CD7</text>
<text x="228" y="75.2" class="gl">SATB1</text>
<text x="228" y="90.7" class="gl">LAIR2</text>
<text x="228" y="125.1" class="gl">TOX</text>
<text x="228" y="149.5" class="gl">CD27</text>
<text x="228" y="161.3" class="gl">CCR7</text>
<text x="228" y="173" class="gl">SELL</text>
<text x="228" y="184.5" class="gl">PGM2L1</text>
<text x="228" y="196.7" class="gl">ITM2A</text>
<text x="228" y="208.9" class="gl">CCL5</text>
<text x="228" y="234.9" class="gl">S100A10</text>
<text x="228" y="272.3" class="gl">GZMK</text>
<text x="228" y="284.3" class="gl">NKG7</text>
<text x="228" y="296.1" class="gl">GZMB</text>
<text x="228" y="307.3" class="gl">GNLY</text>
<text x="228" y="344.4" class="gl">CCL3</text>
<text x="228" y="373.7" class="gl">IFNG</text>
<text x="228" y="384.8" class="gl">GZMA</text>
<text x="228" y="396.7" class="gl">CCL4</text>
<text x="228" y="408.7" class="gl">GZMH</text>
<text x="228" y="420.5" class="gl">IL13</text>
<text x="228" y="432.5" class="gl">CD8A</text>
<text x="258.5" y="43.8" class="lt">Tumor Type</text>
<rect x="267.2" y="48.2" width="7.3" height="10" fill="#E8799A"/>
<rect x="267.2" y="58.2" width="7.3" height="9.7" fill="#6F9BC8"/>
<text x="276.7" y="55.8" class="lg">CD4</text>
<text x="276.7" y="64.5" class="lg">CD8</text>
<text x="280.7" y="81.2" class="lt" text-anchor="middle">LCT</text>
<rect x="268.1" y="86" width="7" height="10" fill="#3DAA6D"/>
<rect x="268.1" y="96" width="7" height="9.8" fill="#D2EAE0"/>
<text x="277.6" y="93.8" class="lg">With</text>
<text x="277.6" y="102.6" class="lg">Without</text>
<text x="257.7" y="119" class="lt" textLength="44.5" lengthAdjust="spacingAndGlyphs">Disease Stage</text>
<rect x="267" y="124" width="6.9" height="10.1" fill="#7209B0"/>
<text x="276.7" y="130.7" class="lg">IVA2</text>
<rect x="267" y="133.98" width="6.9" height="10.1" fill="#7A2AAE"/>
<text x="276.7" y="140.68" class="lg">IVA1</text>
<rect x="267" y="143.96" width="6.9" height="10.1" fill="#9550D0"/>
<text x="276.7" y="150.66" class="lg">IIIB</text>
<rect x="267" y="153.94" width="6.9" height="10.1" fill="#B26BC8"/>
<text x="276.7" y="160.64" class="lg">IIIA</text>
<rect x="267" y="163.92" width="6.9" height="10.1" fill="#B582CE"/>
<text x="276.7" y="170.62" class="lg">IIB</text>
<rect x="267" y="173.9" width="6.9" height="10.1" fill="#DD8CE8"/>
<text x="276.7" y="180.6" class="lg">IIA</text>
<rect x="267" y="183.88" width="6.9" height="10.1" fill="#DDB5E8"/>
<text x="276.7" y="190.58" class="lg">IB</text>
<rect x="267" y="193.86" width="6.9" height="10.1" fill="#DDCDE8"/>
<text x="276.7" y="200.56" class="lg">IA</text>
<text x="262.8" y="217" class="lt" textLength="34.8" lengthAdjust="spacingAndGlyphs">Expression</text>
<defs><linearGradient id="expg" x1="0" y1="0" x2="0" y2="1"><stop offset="0" stop-color="#D73027"/><stop offset="0.25" stop-color="#F88D52"/><stop offset="0.5" stop-color="#FFFFBF"/><stop offset="0.75" stop-color="#A5CDE3"/><stop offset="1" stop-color="#4575B4"/></linearGradient></defs>
<rect x="267" y="223.8" width="7.1" height="47" fill="url(#expg)"/>
<text x="276.9" y="228.8" class="lg">4</text>
<text x="276.9" y="239.7" class="lg">2</text>
<text x="276.9" y="250.3" class="lg">0</text>
<text x="276.2" y="261.2" class="lg">−2</text>
<text x="276.2" y="271.8" class="lg">−4</text>
<text transform="translate(20.43 449.5) rotate(-90)" text-anchor="end" class="cl">MF15</text>
<text transform="translate(35.29 449.5) rotate(-90)" text-anchor="end" class="cl">MF17</text>
<text transform="translate(50.14 449.5) rotate(-90)" text-anchor="end" class="cl">MF26</text>
<text transform="translate(65 449.5) rotate(-90)" text-anchor="end" class="cl">MF22</text>
<text transform="translate(79.86 449.5) rotate(-90)" text-anchor="end" class="cl">pcALCL2</text>
<text transform="translate(94.71 449.5) rotate(-90)" text-anchor="end" class="cl">MF14</text>
<text transform="translate(109.57 449.5) rotate(-90)" text-anchor="end" class="cl">pcALCL1</text>
<text transform="translate(130.5 449.5) rotate(-90)" text-anchor="end" class="cl">MF21−1</text>
<text transform="translate(145.5 449.5) rotate(-90)" text-anchor="end" class="cl">MF21−2</text>
<text transform="translate(160.5 449.5) rotate(-90)" text-anchor="end" class="cl">MF28−1</text>
<text transform="translate(175.5 449.5) rotate(-90)" text-anchor="end" class="cl">MF28−2</text>
<text transform="translate(190.5 449.5) rotate(-90)" text-anchor="end" class="cl">MF30−1</text>
<text transform="translate(205.5 449.5) rotate(-90)" text-anchor="end" class="cl">MF30−2</text>
<path d="M11.7 486.8H115.8M121 486.8H210" stroke="#555" stroke-width="1"/>
<text x="63.5" y="502" class="gt" text-anchor="middle">T<tspan font-size="6.2" dy="2">CyEM</tspan><tspan dy="-2"> group</tspan></text>
<text x="165" y="502" class="gt" text-anchor="middle">T<tspan font-size="6.2" dy="2">CM</tspan><tspan dy="-2"> group</tspan></text>
<text x="15.5" y="13.8" class="pl">a</text>
<defs><filter id="mb" x="-5%" y="-5%" width="110%" height="110%"><feGaussianBlur stdDeviation=".4"/></filter><filter id="q1b" x="0" y="0" width="100%" height="100%" color-interpolation-filters="sRGB"><feTurbulence type="fractalNoise" baseFrequency="0.21" numOctaves="2" seed="11"/><feComponentTransfer><feFuncR type="table" tableValues="0 0 0 .08 .4 .8 1 1 1"/></feComponentTransfer><feColorMatrix type="matrix" values="0.12 0 0 0 0 0.12 0 0 0 0 0.85 0 0 0 0 0 0 0 0 1" result="b"/><feGaussianBlur in="b" stdDeviation="0.3"/></filter><filter id="q1g" x="0" y="0" width="100%" height="100%" color-interpolation-filters="sRGB"><feTurbulence type="fractalNoise" baseFrequency="0.19" numOctaves="2" seed="12"/><feComponentTransfer><feFuncR type="table" tableValues="0 0 0 0 0 0 0 0 0 0 .35 1 .35 0 0 0 0 0 0 0 0 0 0"/></feComponentTransfer><feColorMatrix type="matrix" values="0.12 0 0 0 0 0.7 0 0 0 0 0.12 0 0 0 0 0 0 0 0 1" result="g"/><feGaussianBlur in="g" stdDeviation="0.3"/></filter><filter id="q1r" x="0" y="0" width="100%" height="100%" color-interpolation-filters="sRGB"><feTurbulence type="fractalNoise" baseFrequency="0.19" numOctaves="2" seed="12"/><feComponentTransfer><feFuncR type="table" tableValues="0 0 0 0 0 0 0 0 0 .25 .85 1 .85 .25 0 0 0 0 0 0 0 0 0"/></feComponentTransfer><feColorMatrix type="matrix" values="0.56 0 0 0 0 0.03 0 0 0 0 0.03 0 0 0 0 0 0 0 0 1" result="r"/><feGaussianBlur in="r" stdDeviation="0.3"/></filter><filter id="q1m" x="0" y="0" width="100%" height="100%" color-interpolation-filters="sRGB"><feTurbulence type="fractalNoise" baseFrequency="0.21" numOctaves="2" seed="11"/><feComponentTransfer><feFuncR type="table" tableValues="0 0 0 .08 .4 .8 1 1 1"/></feComponentTransfer><feColorMatrix type="matrix" values="0.108 0 0 0 0 0.108 0 0 0 0 0.765 0 0 0 0 0 0 0 0 1" result="b"/><feTurbulence type="fractalNoise" baseFrequency="0.19" numOctaves="2" seed="12"/><feComponentTransfer><feFuncR type="table" tableValues="0 0 0 0 0 0 0 0 0 0 .35 1 .35 0 0 0 0 0 0 0 0 0 0"/></feComponentTransfer><feColorMatrix type="matrix" values="0.096 0 0 0 0 0.56 0 0 0 0 0.096 0 0 0 0 0 0 0 0 1" result="g"/><feTurbulence type="fractalNoise" baseFrequency="0.19" numOctaves="2" seed="12"/><feComponentTransfer><feFuncR type="table" tableValues="0 0 0 0 0 0 0 0 0 .25 .85 1 .85 .25 0 0 0 0 0 0 0 0 0"/></feComponentTransfer><feColorMatrix type="matrix" values="0.42 0 0 0 0 0.0225 0 0 0 0 0.0225 0 0 0 0 0 0 0 0 1" result="r"/><feComposite in="b" in2="g" operator="arithmetic" k2="1" k3="1" result="s0"/><feComposite in="s0" in2="r" operator="arithmetic" k2="1" k3="1" result="s1"/><feGaussianBlur in="s1" stdDeviation="0.3"/></filter><linearGradient id="gm1" x1="0" y1="0" x2="0" y2="1"><stop offset="0" stop-color="#000" stop-opacity="0"/><stop offset=".55" stop-color="#000" stop-opacity=".1"/><stop offset="1" stop-color="#000" stop-opacity=".55"/></linearGradient><filter id="t1r" x="0" y="0" width="100%" height="100%" color-interpolation-filters="sRGB"><feTurbulence type="fractalNoise" baseFrequency="0.33" numOctaves="2" seed="23"/><feComponentTransfer><feFuncR type="table" tableValues="0 0 0 0 0 .05 .35 .8 1"/></feComponentTransfer><feColorMatrix type="matrix" values="0 0 0 0 0.753 0 0 0 0 0.078 0 0 0 0 0.078 0.8 0 0 0 0"/><feGaussianBlur stdDeviation="0.3"/></filter><filter id="q2b" x="0" y="0" width="100%" height="100%" color-interpolation-filters="sRGB"><feTurbulence type="fractalNoise" baseFrequency="0.22" numOctaves="2" seed="21"/><feComponentTransfer><feFuncR type="table" tableValues="0 0 .05 .2 .55 .9 1 1 1"/></feComponentTransfer><feColorMatrix type="matrix" values="0.12 0 0 0 0 0.12 0 0 0 0 0.95 0 0 0 0 0 0 0 0 1" result="b"/><feGaussianBlur in="b" stdDeviation="0.3"/></filter><filter id="q2g" x="0" y="0" width="100%" height="100%" color-interpolation-filters="sRGB"><feTurbulence type="fractalNoise" baseFrequency="0.2" numOctaves="2" seed="22"/><feComponentTransfer><feFuncR type="table" tableValues="0 0 0 0 0 0 0 0 0 .25 .85 1 .85 .25 0 0 0 0 0 0 0 0 0"/></feComponentTransfer><feColorMatrix type="matrix" values="0.12 0 0 0 0 0.6 0 0 0 0 0.12 0 0 0 0 0 0 0 0 1" result="g"/><feGaussianBlur in="g" stdDeviation="0.3"/></filter><filter id="q2m" x="0" y="0" width="100%" height="100%" color-interpolation-filters="sRGB"><feTurbulence type="fractalNoise" baseFrequency="0.22" numOctaves="2" seed="21"/><feComponentTransfer><feFuncR type="table" tableValues="0 0 .05 .2 .55 .9 1 1 1"/></feComponentTransfer><feColorMatrix type="matrix" values="0.12 0 0 0 0 0.12 0 0 0 0 0.95 0 0 0 0 0 0 0 0 1" result="b"/><feTurbulence type="fractalNoise" baseFrequency="0.2" numOctaves="2" seed="22"/><feComponentTransfer><feFuncR type="table" tableValues="0 0 0 0 0 0 0 0 0 .25 .85 1 .85 .25 0 0 0 0 0 0 0 0 0"/></feComponentTransfer><feColorMatrix type="matrix" values="0.072 0 0 0 0 0.36 0 0 0 0 0.072 0 0 0 0 0 0 0 0 1" result="g"/><feComposite in="b" in2="g" operator="arithmetic" k2="1" k3="1" result="s0"/><feGaussianBlur in="s0" stdDeviation="0.3"/></filter><linearGradient id="gm2" x1="0" y1="0" x2="0" y2="1"><stop offset="0" stop-color="#fff" stop-opacity=".12"/><stop offset=".35" stop-color="#fff" stop-opacity=".35"/><stop offset=".7" stop-color="#fff" stop-opacity="1"/><stop offset="1" stop-color="#fff" stop-opacity=".75"/></linearGradient><mask id="mk2" maskContentUnits="objectBoundingBox"><rect width="1" height="1" fill="url(#gm2)"/></mask><filter id="t2g" x="0" y="0" width="100%" height="100%" color-interpolation-filters="sRGB"><feTurbulence type="fractalNoise" baseFrequency="0.19" numOctaves="2" seed="41"/><feComponentTransfer><feFuncR type="table" tableValues="0 0 0 0 0 0 0 0 0 .25 .85 1 .85 .25 0 0 0 0 0 0 0 0 0"/></feComponentTransfer><feColorMatrix type="matrix" values="0 0 0 0 0.227 0 0 0 0 0.824 0 0 0 0 0.227 0.75 0 0 0 0"/><feGaussianBlur stdDeviation="0.3"/></filter><filter id="q3b" x="0" y="0" width="100%" height="100%" color-interpolation-filters="sRGB"><feTurbulence type="fractalNoise" baseFrequency="0.21" numOctaves="2" seed="31"/><feComponentTransfer><feFuncR type="table" tableValues="0 0 .05 .2 .55 .9 1 1 1"/></feComponentTransfer><feColorMatrix type="matrix" values="0.12 0 0 0 0 0.12 0 0 0 0 0.95 0 0 0 0 0 0 0 0 1" result="b"/><feGaussianBlur in="b" stdDeviation="0.3"/></filter><filter id="q3g" x="0" y="0" width="100%" height="100%" color-interpolation-filters="sRGB"><feTurbulence type="fractalNoise" baseFrequency="0.19" numOctaves="2" seed="32"/><feComponentTransfer><feFuncR type="table" tableValues="0 0 0 0 0 0 0 0 0 0 .35 1 .35 0 0 0 0 0 0 0 0 0 0"/></feComponentTransfer><feColorMatrix type="matrix" values="0.07 0 0 0 0 0.44 0 0 0 0 0.07 0 0 0 0 0 0 0 0 1" result="g"/><feGaussianBlur in="g" stdDeviation="0.3"/></filter><filter id="q3r" x="0" y="0" width="100%" height="100%" color-interpolation-filters="sRGB"><feTurbulence type="fractalNoise" baseFrequency="0.21" numOctaves="2" seed="33"/><feComponentTransfer><feFuncR type="table" tableValues="0 0 0 0 0 0 0 0 0 .25 .85 1 .85 .25 0 0 0 0 0 0 0 0 0"/></feComponentTransfer><feColorMatrix type="matrix" values="0.45 0 0 0 0 0.03 0 0 0 0 0.03 0 0 0 0 0 0 0 0 1" result="r"/><feGaussianBlur in="r" stdDeviation="0.3"/></filter><filter id="q3m" x="0" y="0" width="100%" height="100%" color-interpolation-filters="sRGB"><feTurbulence type="fractalNoise" baseFrequency="0.21" numOctaves="2" seed="31"/><feComponentTransfer><feFuncR type="table" tableValues="0 0 .05 .2 .55 .9 1 1 1"/></feComponentTransfer><feColorMatrix type="matrix" values="0.12 0 0 0 0 0.12 0 0 0 0 0.95 0 0 0 0 0 0 0 0 1" result="b"/><feTurbulence type="fractalNoise" baseFrequency="0.19" numOctaves="2" seed="32"/><feComponentTransfer><feFuncR type="table" tableValues="0 0 0 0 0 0 0 0 0 0 .35 1 .35 0 0 0 0 0 0 0 0 0 0"/></feComponentTransfer><feColorMatrix type="matrix" values="0.056 0 0 0 0 0.352 0 0 0 0 0.056 0 0 0 0 0 0 0 0 1" result="g"/><feTurbulence type="fractalNoise" baseFrequency="0.21" numOctaves="2" seed="33"/><feComponentTransfer><feFuncR type="table" tableValues="0 0 0 0 0 0 0 0 0 .25 .85 1 .85 .25 0 0 0 0 0 0 0 0 0"/></feComponentTransfer><feColorMatrix type="matrix" values="0.135 0 0 0 0 0.009 0 0 0 0 0.009 0 0 0 0 0 0 0 0 1" result="r"/><feComposite in="b" in2="g" operator="arithmetic" k2="1" k3="1" result="s0"/><feComposite in="s0" in2="r" operator="arithmetic" k2="1" k3="1" result="s1"/><feGaussianBlur in="s1" stdDeviation="0.3"/></filter><filter id="t4g" x="0" y="0" width="100%" height="100%" color-interpolation-filters="sRGB"><feTurbulence type="fractalNoise" baseFrequency="0.18" numOctaves="2" seed="51"/><feComponentTransfer><feFuncR type="table" tableValues="0 0 0 0 0 0 0 0 0 .25 .85 1 .85 .25 0 0 0 0 0 0 0 0 0"/></feComponentTransfer><feColorMatrix type="matrix" values="0 0 0 0 0.204 0 0 0 0 0.659 0 0 0 0 0.204 0.68 0 0 0 0"/><feGaussianBlur stdDeviation="0.35"/></filter><filter id="t4r" x="0" y="0" width="100%" height="100%" color-interpolation-filters="sRGB"><feTurbulence type="fractalNoise" baseFrequency="0.19" numOctaves="2" seed="52"/><feComponentTransfer><feFuncR type="table" tableValues="0 0 0 0 0 0 0 0 0 0 .35 1 .35 0 0 0 0 0 0 0 0 0 0"/></feComponentTransfer><feColorMatrix type="matrix" values="0 0 0 0 0.604 0 0 0 0 0.078 0 0 0 0 0.078 0.55 0 0 0 0"/><feGaussianBlur stdDeviation="0.35"/></filter><filter id="t4m" x="0" y="0" width="100%" height="100%" color-interpolation-filters="sRGB"><feTurbulence type="fractalNoise" baseFrequency="0.18" numOctaves="2" seed="51"/><feComponentTransfer><feFuncR type="table" tableValues="0 0 0 0 0 0 0 0 0 .25 .85 1 .85 .25 0 0 0 0 0 0 0 0 0"/></feComponentTransfer><feColorMatrix type="matrix" values="0 0 0 0 0.290 0 0 0 0 0.478 0 0 0 0 0.102 0.5 0 0 0 0"/><feGaussianBlur stdDeviation="0.35"/></filter></defs>
<svg x="350" y="22.8" width="80.5" height="80"><rect width="100%" height="100%" fill="#000"/><g filter="url(#mb)"><path d="M22.4 78.8h0" stroke="#2c2cff" stroke-width="4" stroke-linecap="round" stroke-opacity=".4"/><path d="M23.2 28.3h0" stroke="#1414ec" stroke-width="3.5" stroke-linecap="round" stroke-opacity=".6"/><path d="M10.3 3.5h0m26.1-.5h0" stroke="#2424f4" stroke-width="4" stroke-linecap="round"/><path d="M41.7 2.5h0m23.5 5.4h0m-27.9 22h0m1.3-5.4h0m34.7 5.1h0m-21.5 28.9h0" stroke="#2c2cff" stroke-width="4.5" stroke-linecap="round" stroke-opacity=".8"/><path d="M.3 2.3h0m77.6 3.4h0m-8.1 44.2h0m-6.3 6.4h0m-64 7.9h0" stroke="#1a1aff" stroke-width="4.5" stroke-linecap="round" stroke-opacity=".6"/><path d="M46.9 -1.2h0m-18.4 61.8h0m14.9 4.5h0m.4 10.3h0" stroke="#1414ec" stroke-width="4" stroke-linecap="round" stroke-opacity=".6"/><path d="M79.2 48.3h0m-65.9 29.9h0" stroke="#2c2cff" stroke-width="4" stroke-linecap="round"/><path d="M15 45.2h0m-13.6 2.3h0m64 22.7h0" stroke="#2c2cff" stroke-width="4.5" stroke-linecap="round" stroke-opacity=".6"/><path d="M.8 15h0m10.1 4.3h0m49.6 11.9h0m-26.3 15.3h0m-10.8-3.7h0m35.5 6.6h0m-9.3 25.7h0" stroke="#2c2cff" stroke-width="4" stroke-linecap="round" stroke-opacity=".6"/><path d="M33.6 18h0m42.5 25.8h0m2.3 11.4h0m-30.2 12.2h0" stroke="#1414ec" stroke-width="4.5" stroke-linecap="round"/><path d="M24.8 12.9h0m35.5 54.7h0m-59.1 12h0" stroke="#2c2cff" stroke-width="4" stroke-linecap="round" stroke-opacity=".8"/><path d="M43.1 32.1h0m7.9 7.8h0m15.5 2.5h0m2.2 13.9h0m-66.6 12.4h0" stroke="#2424f4" stroke-width="4" stroke-linecap="round" stroke-opacity=".8"/><path d="M29.2 9.9h0m8.9 42.3h0m-19.9 19.5h0m40.4 1.9h0m11.4 6.4h0" stroke="#1414ec" stroke-width="4.5" stroke-linecap="round" stroke-opacity=".6"/><path d="M-1.9 32.1h0m41.1 27.2h0" stroke="#2c2cff" stroke-width="4.5" stroke-linecap="round"/><path d="M22 4.5h0m29.7-3.5h0m-46.2 19.9h0m.5 22.9h0m16.2 10.2h0" stroke="#2424f4" stroke-width="4" stroke-linecap="round" stroke-opacity=".6"/><path d="M52.9 46.8h0" stroke="#1414ec" stroke-width="3.5" stroke-linecap="round"/><path d="M6.9 -1.5h0m8.4 6.9h0m67 3.8h0m-75.2 20.7h0m8.3-.4h0m50-2.3h0m14.8 6.7h0m-72.4 28.8h0" stroke="#1a1aff" stroke-width="4.5" stroke-linecap="round" stroke-opacity=".8"/><path d="M13.3 14.2h0m48.2 4.1h0m-2.6 4.6h0m-8.6 11.1h0m-31.1 2.5h0m27.4 21h0m-23.6 10.2h0m44.8 7.2h0m12.7 3.4h0" stroke="#1a1aff" stroke-width="4" stroke-linecap="round" stroke-opacity=".6"/><path d="M77.2 38.1h0" stroke="#1a1aff" stroke-width="5" stroke-linecap="round" stroke-opacity=".8"/><path d="M2.6 9.2h0m56.2 50.1h0" stroke="#2c2cff" stroke-width="3.5" stroke-linecap="round" stroke-opacity=".6"/><path d="M80.4 -1.5h0m-10 17.5h0m4.7 7.8h0m-63.6 11.2h0m52.4 11.8h0" stroke="#2424f4" stroke-width="3.5" stroke-linecap="round" stroke-opacity=".6"/><path d="M16.5 55.6h0m14.6 14h0m-21.6-1.8h0m34.8 13.3h0" stroke="#1a1aff" stroke-width="4" stroke-linecap="round"/><path d="M35.4 10.7h0m46.2 4.2h0m-80.1 22.7h0m42.1 1.3h0m12.5 1.8h0m-45.4 8.6h0m-7.5 7.6h0m35.2 23.8h0" stroke="#2424f4" stroke-width="4.5" stroke-linecap="round" stroke-opacity=".8"/><path d="M29.6 1h0m42.6 8.3h0m-52.7 51.7h0" stroke="#1414ec" stroke-width="3.5" stroke-linecap="round" stroke-opacity=".8"/><path d="M18.8 20.5h0m50.2 17.5h0" stroke="#1414ec" stroke-width="4.5" stroke-linecap="round" stroke-opacity=".4"/><path d="M81.6 22.6h0" stroke="#1a1aff" stroke-width="3.5" stroke-linecap="round" stroke-opacity=".8"/><path d="M75.5 72.6h0" stroke="#1a1aff" stroke-width="4.5" stroke-linecap="round" stroke-opacity=".4"/><path d="M48 51.7h0m-40 2.5h0m30.7 20.4h0m-30.9 5.1h0" stroke="#1414ec" stroke-width="4" stroke-linecap="round" stroke-opacity=".8"/><path d="M24.6 48.4h0m48.8 10.2h0m-47.2 13.1h0" stroke="#1414ec" stroke-width="4.5" stroke-linecap="round" stroke-opacity=".8"/><path d="M47.6 13.5h0m2.9 6.6h0m-20.2 17.9h0" stroke="#2424f4" stroke-width="4.5" stroke-linecap="round"/><path d="M59.3 2.5h0" stroke="#2c2cff" stroke-width="5" stroke-linecap="round" stroke-opacity=".8"/><path d="M27.9 17.7h0" stroke="#1414ec" stroke-width="5" stroke-linecap="round" stroke-opacity=".8"/><path d="M49.9 27.3h0" stroke="#2c2cff" stroke-width="3.5" stroke-linecap="round"/><path d="M41.7 47.8h0" stroke="#1a1aff" stroke-width="4" stroke-linecap="round" stroke-opacity=".8"/><path d="M15 .1h0" stroke="#2c2cff" stroke-width="4.5" stroke-linecap="round" stroke-opacity=".4"/><path d="M28.8 24.2h0" stroke="#1414ec" stroke-width="4" stroke-linecap="round"/><path d="M30.6 76.4h0" stroke="#2c2cff" stroke-width="3.5" stroke-linecap="round" stroke-opacity=".8"/><path d="M53 12.7h0" stroke="#2424f4" stroke-width="5" stroke-linecap="round" stroke-opacity=".8"/><path d="M35 65.4h0" stroke="#2424f4" stroke-width="4.5" stroke-linecap="round" stroke-opacity=".6"/><path d="M78.9 68.1h0" stroke="#1a1aff" stroke-width="4" stroke-linecap="round" stroke-opacity=".4"/></g><path d="M51.5 77.3h26" stroke="#fff" stroke-width="2.1"/><rect x=".25" y=".25" width="80" height="79.5" fill="none" stroke="#4a4a4a" stroke-width=".5"/></svg>
<svg x="433" y="22.8" width="80.5" height="80"><rect width="100%" height="100%" fill="#010801"/><g filter="url(#mb)"><path d="M.3 5.3a3 3 0 1 1 .1 0zm29.3-1.3a3 3 0 1 1 .1 0zm22.1-.2a2.8 2.8 0 1 1 .1 0zm7.6 1.7a3 3 0 1 1 .1 0zm-30.1 7.8a3.4 3.4 0 1 1 .1 0zm18.4 3.4a3.2 3.2 0 1 1 .1 0zm22.8 2.3a3 3 0 1 1 .1 0zm-36.8 2.2a3.2 3.2 0 1 1 .1 0zm-5.7-.3a3.2 3.2 0 1 1 .1 0zm-9.1 2.6a3 3 0 1 1 .1 0zm40.1 2a2.6 2.6 0 1 1 .1 0zm16.2 1.1a2.8 2.8 0 1 1 .1 0zm6.5-1.4a2.6 2.6 0 1 1 .1 0zm-21.1 9a3 3 0 1 1 .1 0zm-10.6-4.1a2.8 2.8 0 1 1 .1 0zm-12.6 2.8a3 3 0 1 1 .1 0zm-14.1-2.2a2.4 2.4 0 1 1 .1 0zm-7.8 1.8a3 3 0 1 1 .1 0zm-3.9 5.5a3 3 0 1 1 .1 0zm7.7 1.7a3.2 3.2 0 1 1 .1 0zm11.1 1.5a3.2 3.2 0 1 1 .1 0zm20-4.6a2.6 2.6 0 1 1 .1 0zm18.7 4.4a3 3 0 1 1 .1 0zm8.2 .7a3.6 3.6 0 1 1 .1 0zm3-4.2a3.6 3.6 0 1 1 .1 0zm-4.1 9.7a3.4 3.4 0 1 1 .1 0zm-9.6-2a2.8 2.8 0 1 1 .1 0zm-15.5-2.3a3 3 0 1 1 .1 0zm-7.4-.8a3.2 3.2 0 1 1 .1 0zm-20.2 3.3a2.6 2.6 0 1 1 .1 0zm-8.4 2.8a3 3 0 1 1 .1 0zm19.2 1.1a2.8 2.8 0 1 1 .1 0zm18.7 .1a2.6 2.6 0 1 1 .1 0zm6 2.6a2.6 2.6 0 1 1 .1 0zm20.3-.9a2.8 2.8 0 1 1 .1 0zm-.8 7.1a3 3 0 1 1 .1 0zm-9.7 1.1a3 3 0 1 1 .1 0zm-5.2 .2a3.2 3.2 0 1 1 .1 0zm-15.5-5a2.8 2.8 0 1 1 .1 0zm-9.9 .7a3 3 0 1 1 .1 0zm-34.9 4.7a3 3 0 1 1 .1 0zm16.3 4.1a3 3 0 1 1 .1 0zm9-1a2.4 2.4 0 1 1 .1 0zm23.3-1.1a3.4 3.4 0 1 1 .1 0zm7 .4a3 3 0 1 1 .1 0zm14.6-.5a3.2 3.2 0 1 1 .1 0zm5.5 8.9a2.6 2.6 0 1 1 .1 0zm-30.7-.3a3 3 0 1 1 .1 0zm-4.8-2.1a3.2 3.2 0 1 1 .1 0zm-8.4 .7a3.6 3.6 0 1 1 .1 0zm-35.5-1.4a3.4 3.4 0 1 1 .1 0zm31.6 4.6a2.6 2.6 0 1 1 .1 0zm7.6 5.6a3.2 3.2 0 1 1 .1 0zm41.8 3.5a3 3 0 1 1 .1 0zm-12.7-3.2a3.2 3.2 0 1 1 .1 0zm-18.2 .2a3.2 3.2 0 1 1 .1 0z" fill="#092609" fill-opacity=".8"/><path d="M75.1 26.6a2.8 2.8 0 1 1 .1 0m-52 4.1a2.4 2.4 0 1 1 .1 0m20.3 11.4a3.2 3.2 0 1 1 .1 0m35.5 9a2.8 2.8 0 1 1 .1 0m-15.8 8.4a3.2 3.2 0 1 1 .1 0m-44.1 4.5a3 3 0 1 1 .1 0m28.6 6.4a3 3 0 1 1 .1 0m19.5 7.7a3.2 3.2 0 1 1 .1 0" fill="none" stroke="#239023" stroke-width="1" stroke-dasharray="3.2 .9" stroke-opacity=".6"/><path d="M33.6 21.2a3.2 3.2 0 1 1 .1 0m25.2 4.3a2.6 2.6 0 1 1 .1 0m-43.6 7a3 3 0 1 1 .1 0m3.7 7.2a3.2 3.2 0 1 1 .1 0m31.7 3.2a3 3 0 1 1 .1 0m-13 12.3a3 3 0 1 1 .1 0m35.2 6.6a3.2 3.2 0 1 1 .1 0m5.4 8.9a2.6 2.6 0 1 1 .1 0m-35.6-2.4a3.2 3.2 0 1 1 .1 0m-44-.7a3.4 3.4 0 1 1 .1 0" fill="none" stroke="#239023" stroke-width="1" stroke-dasharray="5 1.2 1.5 .8" stroke-opacity=".4"/><path d="M49.6 78.3a3.2 3.2 0 1 1 .1 0" fill="none" stroke="#239023" stroke-width="1" stroke-dasharray="3.2 .9" stroke-opacity=".8"/><path d="M59.3 5.5a3 3 0 1 1 .1 0m-31.5 15.4a3.2 3.2 0 1 1 .1 0m22.3 15.7a2.6 2.6 0 1 1 .1 0m29.8 .9a3.6 3.6 0 1 1 .1 0m-4.2 9.7a3.4 3.4 0 1 1 .1 0m-9.7-2a2.8 2.8 0 1 1 .1 0m-51.6 3a3 3 0 1 1 .1 0m43.7 14.1a3 3 0 1 1 .1 0m-23.9 6.7a3.6 3.6 0 1 1 .1 0m3.6 8.8a3.2 3.2 0 1 1 .1 0" fill="none" stroke="#239023" stroke-width="1" stroke-dasharray="5 1.2 1.5 .8" stroke-opacity=".6"/><path d="M47.6 16.7a3.2 3.2 0 1 1 .1 0m22.7 2.3a3 3 0 1 1 .1 0m-33.2 13.9a3 3 0 1 1 .1 0m-25.9 5.1a3 3 0 1 1 .1 0m57.4 3a3 3 0 1 1 .1 0m-16.2 8.4a2.6 2.6 0 1 1 .1 0m-1.2 12.5a3.4 3.4 0 1 1 .1 0m-20.8 10.3a2.6 2.6 0 1 1 .1 0" fill="none" stroke="#239023" stroke-width="1" stroke-dasharray="2.2 .7 4 1" stroke-opacity=".6"/><path d="M.3 5.3a3 3 0 1 1 .1 0m60.1 28.9a3 3 0 1 1 .1 0m-10.7-4.1a2.8 2.8 0 1 1 .1 0m-26.6 15.3a2.6 2.6 0 1 1 .1 0m54.9 12.8a3 3 0 1 1 .1 0m-75.3 1.7a3 3 0 1 1 .1 0m77.2 21.4a3 3 0 1 1 .1 0" fill="none" stroke="#239023" stroke-width="1" stroke-dasharray="2.2 .7 4 1" stroke-opacity=".4"/><path d="M29.6 4a3 3 0 1 1 .1 0m47.5 37.7a3.6 3.6 0 1 1 .1 0m-18.4 10.3a2.6 2.6 0 1 1 .1 0" fill="none" stroke="#239023" stroke-width="1" stroke-dasharray="5 1.2 1.5 .8" stroke-opacity=".8"/><path d="M29.2 13.3a3.4 3.4 0 1 1 .1 0m52.3 11.9a2.6 2.6 0 1 1 .1 0m-51.4 16a3.2 3.2 0 1 1 .1 0m17.6 13.3a2.8 2.8 0 1 1 .1 0" fill="none" stroke="#239023" stroke-width="1" stroke-dasharray="3.2 .9" stroke-opacity=".4"/><path d="M51.7 3.8a2.8 2.8 0 1 1 .1 0m-33 19.7a3 3 0 1 1 .1 0m15.3 25.8a2.8 2.8 0 1 1 .1 0m34.4 10a3 3 0 1 1 .1 0m-40.3 3.7a2.4 2.4 0 1 1 .1 0" fill="none" stroke="#239023" stroke-width="1" stroke-dasharray="2.2 .7 4 1" stroke-opacity=".8"/><path d="M76.9 10h0m-17.9-2.2h0m7.2 8.3h0m-52.4 10.3h0m66.4 6.9h0m-51.2-.7h0m-13 2.4h0m18.5 2h0m30.2 9.2h0m12.8 17.9h0" stroke="#239023" stroke-width="0.5" stroke-linecap="round" stroke-opacity=".6"/><path d="M68.5 19.5h0m-19 10h0m13.4 1.5h0m-31.1 6.2h0m26.7-1h0m-14.7 7.5h0m-38.1 6.3h0m33.9 3.9h0m23.3 4.2h0m-2.5-1.9h0m-11.3 3.9h0m26.8 10.9h0m-29.9-3.6h0m5.6 12.1h0" stroke="#239023" stroke-width="1" stroke-linecap="round" stroke-opacity=".4"/><path d="M22.7 24.8h0m42.9-.6h0m.4 3.4h0m-54.4 20.8h0m65.8 5.2h0m.4 2.2h0m-30.4 6.8h0m-3.3 6.2h0m-16.8 .8h0" stroke="#239023" stroke-width="1" stroke-linecap="round" stroke-opacity=".6"/><path d="M10.6 16.9h0m1.6 12.6h0m11.5 6.1h0m17.2 24.3h0m-20.9 3.9h0m6.2 10.2h0" stroke="#239023" stroke-width="1" stroke-linecap="round" stroke-opacity=".2"/><path d="M13.8 8.3h0" stroke="#239023" stroke-width="0.5" stroke-linecap="round" stroke-opacity=".4"/></g><path d="M51.5 77.3h26" stroke="#fff" stroke-width="2.1"/><rect x=".25" y=".25" width="80" height="79.5" fill="none" stroke="#4a4a4a" stroke-width=".5"/></svg>
<svg x="516" y="22.8" width="80.5" height="80"><rect width="100%" height="100%" fill="#050000"/><path d="M51.5 77.3h26" stroke="#fff" stroke-width="2.1"/><rect x=".25" y=".25" width="80" height="79.5" fill="none" stroke="#4a4a4a" stroke-width=".5"/></svg>
<svg x="599" y="22.8" width="80.5" height="80"><rect width="100%" height="100%" fill="#000"/><g filter="url(#mb)"><path d="M22.4 78.8h0" stroke="#2040f8" stroke-width="4" stroke-linecap="round" stroke-opacity=".4"/><path d="M70.4 16h0m4.7 7.8h0m-51.9 4.5h0m40.7 18.5h0" stroke="#2040f8" stroke-width="3.5" stroke-linecap="round" stroke-opacity=".6"/><path d="M10.3 3.5h0m26.1-.5h0m-19.9 52.6h0m-7 12.2h0" stroke="#2040f8" stroke-width="4" stroke-linecap="round"/><path d="M6.9 -1.5h0m34.8 4h0m-6.3 8.2h0m46.2 4.2h0m-44.3 15h0m1.3-5.4h0m26.8 2.7h0m7.9 2.4h0m6.9 4.3h0m-78.7 3.7h0m23.1 10.8h0" stroke="#2040f8" stroke-width="4.5" stroke-linecap="round" stroke-opacity=".8"/><path d="M77.9 5.7h0m-48.7 4.2h0m-27.8 37.6h0m68.4 2.4h0m-70.3 14.3h0m65.9 6h0m-47.2 1.5h0" stroke="#1838ff" stroke-width="4.5" stroke-linecap="round" stroke-opacity=".6"/><path d="M46.9 -1.2h0m14.6 19.5h0m-55.5 25.5h0m16.2 10.2h0m24.4 3.5h0m-2.8 17.9h0" stroke="#1838ff" stroke-width="4" stroke-linecap="round" stroke-opacity=".6"/><path d="M79.2 48.3h0m-48.1 21.3h0m13.2 11.5h0m-31-2.9h0" stroke="#1838ff" stroke-width="4" stroke-linecap="round"/><path d="M22 4.5h0m-21.2 10.5h0m12.5-.8h0m-2.4 5.1h0m49.6 11.9h0m-41.3 5.3h0m24.2 28.6h0m6.2 10h0" stroke="#1a40ff" stroke-width="4" stroke-linecap="round" stroke-opacity=".6"/><path d="M33.6 18h0m14-4.5h0m28.5 30.3h0" stroke="#2040f8" stroke-width="4.5" stroke-linecap="round"/><path d="M24.8 12.9h0m18.3 19.2h0m-35.1 22.1h0m30.7 20.4h0m-37.5 5h0" stroke="#1a40ff" stroke-width="4" stroke-linecap="round" stroke-opacity=".8"/><path d="M30.3 38h0m8.9 21.3h0m9 8.1h0" stroke="#1838ff" stroke-width="4.5" stroke-linecap="round"/><path d="M15 45.2h0m48.5 11.1h0m-4.9 17.3h0m11.4 6.4h0" stroke="#1a40ff" stroke-width="4.5" stroke-linecap="round" stroke-opacity=".6"/><path d="M51 39.9h0m9.3 27.7h0m-58.2 1.1h0m5.7 11h0" stroke="#1838ff" stroke-width="4" stroke-linecap="round" stroke-opacity=".8"/><path d="M51.7 1h0m7.2 21.9h0m-53.4-2h0m44.8 13.1h0m-16.1 12.5h0m-10.8-3.7h0m35.5 6.6h0m-30.4 11.2h0m-5.5 7.1h0m44.8 7.2h0m12.7 3.4h0" stroke="#2040f8" stroke-width="4" stroke-linecap="round" stroke-opacity=".6"/><path d="M52.9 46.8h0" stroke="#1a40ff" stroke-width="3.5" stroke-linecap="round"/><path d="M77.2 38.1h0" stroke="#2040f8" stroke-width="5" stroke-linecap="round" stroke-opacity=".8"/><path d="M80.4 -1.5h0m-77.8 10.7h0m56.2 50.1h0" stroke="#1a40ff" stroke-width="3.5" stroke-linecap="round" stroke-opacity=".6"/><path d="M15.3 5.4h0m-8.2 24.5h0m8.3-.4h0m36.4 29h0m-25.6 13.2h0m12.2 9h0" stroke="#1838ff" stroke-width="4.5" stroke-linecap="round" stroke-opacity=".8"/><path d="M11.5 35h0" stroke="#1838ff" stroke-width="3.5" stroke-linecap="round" stroke-opacity=".6"/><path d="M50.5 20.1h0m-52.4 12h0m80.3 23.1h0" stroke="#1a40ff" stroke-width="4.5" stroke-linecap="round"/><path d="M29.6 1h0" stroke="#1a40ff" stroke-width="3.5" stroke-linecap="round" stroke-opacity=".8"/><path d="M18.8 20.5h0m56.7 52.1h0" stroke="#1838ff" stroke-width="4.5" stroke-linecap="round" stroke-opacity=".4"/><path d="M81.6 22.6h0m-62.1 38.4h0" stroke="#1838ff" stroke-width="3.5" stroke-linecap="round" stroke-opacity=".8"/><path d="M.3 2.3h0m37.8 49.9h0m-3.1 13.2h0" stroke="#2040f8" stroke-width="4.5" stroke-linecap="round" stroke-opacity=".6"/><path d="M66.5 42.4h0m-24.8 5.4h0m6.3 3.9h0m20.7 4.6h0" stroke="#2040f8" stroke-width="4" stroke-linecap="round" stroke-opacity=".8"/><path d="M82.3 9.2h0m-17.1-1.3h0m-21.6 31h0m12.5 1.8h0m-45.4 8.6h0m62.7 9.3h0m-70.2-1.7h0m4.6 5.8h0" stroke="#1a40ff" stroke-width="4.5" stroke-linecap="round" stroke-opacity=".8"/><path d="M72.2 9.3h0m-41.6 67.1h0" stroke="#2040f8" stroke-width="3.5" stroke-linecap="round" stroke-opacity=".8"/><path d="M59.3 2.5h0" stroke="#1838ff" stroke-width="5" stroke-linecap="round" stroke-opacity=".8"/><path d="M27.9 17.7h0m25.1-5h0" stroke="#1a40ff" stroke-width="5" stroke-linecap="round" stroke-opacity=".8"/><path d="M49.9 27.3h0" stroke="#2040f8" stroke-width="3.5" stroke-linecap="round"/><path d="M15 .1h0m54 37.9h0" stroke="#1a40ff" stroke-width="4.5" stroke-linecap="round" stroke-opacity=".4"/><path d="M28.8 24.2h0" stroke="#1a40ff" stroke-width="4" stroke-linecap="round"/><path d="M78.9 68.1h0" stroke="#1838ff" stroke-width="4" stroke-linecap="round" stroke-opacity=".4"/><path d="M.3 5.3a3 3 0 1 1 .1 0zm29.3-1.9a2.4 2.4 0 1 1 .1 0zm22.1 .4a2.8 2.8 0 1 1 .1 0zm7.6 2.1a3.4 3.4 0 1 1 .1 0zm-30.1 7.4a3.4 3.4 0 1 1 .1 0zm18.4 3.6a3.4 3.4 0 1 1 .1 0zm22.8 1.7a2.6 2.6 0 1 1 .1 0zm-36.8 3a3.6 3.6 0 1 1 .1 0zm-5.7-.7a3.2 3.2 0 1 1 .1 0zm-9.1 2.8a3.2 3.2 0 1 1 .1 0zm40.1 2a2.8 2.8 0 1 1 .1 0zm16.2 .9a2.8 2.8 0 1 1 .1 0zm6.5-1.2a2.8 2.8 0 1 1 .1 0zm-21.1 9a3.2 3.2 0 1 1 .1 0zm-10.6-4.3a2.8 2.8 0 1 1 .1 0zm-12.6 2.8a3 3 0 1 1 .1 0zm-14.1-2a2.6 2.6 0 1 1 .1 0zm-7.8 1.4a2.8 2.8 0 1 1 .1 0zm-3.9 5.7a3 3 0 1 1 .1 0zm7.7 1.1a2.6 2.6 0 1 1 .1 0zm11.1 1.9a3 3 0 1 1 .1 0zm13.3 .9a3 3 0 1 1 .1 0zm6.7-5.1a2.8 2.8 0 1 1 .1 0zm18.7 4.4a3.2 3.2 0 1 1 .1 0zm8.2-.1a3 3 0 1 1 .1 0zm3-4a3.2 3.2 0 1 1 .1 0zm-4.1 9.9a3.2 3.2 0 1 1 .1 0zm-9.6-2a2.6 2.6 0 1 1 .1 0zm-15.5-2.1a3 3 0 1 1 .1 0zm-27.6 3.1a3.2 3.2 0 1 1 .1 0zm-8.4 1.8a2.6 2.6 0 1 1 .1 0zm19.2 1.7a3 3 0 1 1 .1 0zm18.7-.3a2.4 2.4 0 1 1 .1 0zm6 3.2a3 3 0 1 1 .1 0zm20.3-1.3a2.8 2.8 0 1 1 .1 0zm-.8 7.3a3.2 3.2 0 1 1 .1 0zm-9.7 .9a3 3 0 1 1 .1 0zm-5.2 .4a3.4 3.4 0 1 1 .1 0zm-15.5-5.2a2.8 2.8 0 1 1 .1 0zm-9.9 .9a3.2 3.2 0 1 1 .1 0zm-34.9 4.5a3 3 0 1 1 .1 0zm16.3 3.7a2.6 2.6 0 1 1 .1 0zm9 0a3 3 0 1 1 .1 0zm23.3-1.9a3.2 3.2 0 1 1 .1 0zm7 .6a3 3 0 1 1 .1 0zm14.6-.5a3.2 3.2 0 1 1 .1 0zm5.5 9.7a3.4 3.4 0 1 1 .1 0zm-30.7-1.3a2.8 2.8 0 1 1 .1 0zm-4.8-2.5a2.6 2.6 0 1 1 .1 0zm-8.4 .9a3.2 3.2 0 1 1 .1 0zm-35.5-1.2a3.2 3.2 0 1 1 .1 0zm31.6 5.4a3.2 3.2 0 1 1 .1 0zm7.6 4.6a2.8 2.8 0 1 1 .1 0zm10.9 .3a2.6 2.6 0 1 1 .1 0zm18.2-.2a2.6 2.6 0 1 1 .1 0zm12.7 3.6a2.8 2.8 0 1 1 .1 0z" fill="#092609" fill-opacity=".8"/><path d="M58.9 25.7a2.8 2.8 0 1 1 .1 0m-35.8 5.2a2.6 2.6 0 1 1 .1 0m56.9 6.2a3.2 3.2 0 1 1 .1 0m-4.2 9.9a3.2 3.2 0 1 1 .1 0m-23.3 2.2a2.4 2.4 0 1 1 .1 0m26.2 1.9a2.8 2.8 0 1 1 .1 0m-41.2 4.3a3.2 3.2 0 1 1 .1 0m40.7 16.1a3.4 3.4 0 1 1 .1 0m-29.4 6.2a2.6 2.6 0 1 1 .1 0" fill="none" stroke="#2a9a2a" stroke-width="1" stroke-dasharray="3.2 .9" stroke-opacity=".6"/><path d="M75.1 26.6a2.8 2.8 0 1 1 .1 0m-6.2 14.6a3.2 3.2 0 1 1 .1 0m-45.7 4.8a3.2 3.2 0 1 1 .1 0m10.7 3.5a3 3 0 1 1 .1 0m44.1 8.9a3.2 3.2 0 1 1 .1 0m-75.3 1.5a3 3 0 1 1 .1 0m44.9 10.3a2.8 2.8 0 1 1 .1 0m-48.8-2.8a3.2 3.2 0 1 1 .1 0m68.2 10.1a2.6 2.6 0 1 1 .1 0" fill="none" stroke="#2a9a2a" stroke-width="1" stroke-dasharray="5 1.2 1.5 .8" stroke-opacity=".6"/><path d="M29.2 13.3a3.4 3.4 0 1 1 .1 0m-17.8 24.7a3 3 0 1 1 .1 0m38.7-1.2a2.8 2.8 0 1 1 .1 0m.6 6.1a3 3 0 1 1 .1 0" fill="none" stroke="#2a9a2a" stroke-width="1" stroke-dasharray="5 1.2 1.5 .8" stroke-opacity=".8"/><path d="M.3 5.3a3 3 0 1 1 .1 0m29.9 35.7a3 3 0 1 1 .1 0m13.2 .9a3 3 0 1 1 .1 0m19.8 17.8a3.4 3.4 0 1 1 .1 0m-15.6-5.2a2.8 2.8 0 1 1 .1 0m25.3 7.3a3.2 3.2 0 1 1 .1 0m-42.4 11a3.2 3.2 0 1 1 .1 0" fill="none" stroke="#2a9a2a" stroke-width="1" stroke-dasharray="3.2 .9" stroke-opacity=".4"/><path d="M70.4 18.6a2.6 2.6 0 1 1 .1 0m-51.7 5.1a3.2 3.2 0 1 1 .1 0m62.7 1.7a2.8 2.8 0 1 1 .1 0m-66.3 6.9a2.8 2.8 0 1 1 .1 0m3.7 6.8a2.6 2.6 0 1 1 .1 0m.2 24.5a2.6 2.6 0 1 1 .1 0m19.1 13.8a2.8 2.8 0 1 1 .1 0m41.7 3.7a2.8 2.8 0 1 1 .1 0" fill="none" stroke="#2a9a2a" stroke-width="1" stroke-dasharray="5 1.2 1.5 .8" stroke-opacity=".4"/><path d="M51.7 3.8a2.8 2.8 0 1 1 .1 0m-23.9 17.1a3.2 3.2 0 1 1 .1 0m9.3 12a3 3 0 1 1 .1 0m39.8 8.2a3 3 0 1 1 .1 0m-8.6 18.2a3 3 0 1 1 .1 0m-10 3a3 3 0 1 1 .1 0m-15.5 5.4a2.6 2.6 0 1 1 .1 0" fill="none" stroke="#2a9a2a" stroke-width="1" stroke-dasharray="2.2 .7 4 1" stroke-opacity=".4"/><path d="M29.6 3.4a2.4 2.4 0 1 1 .1 0m-14.7 44.4a2.6 2.6 0 1 1 .1 0m43.8 4.6a3 3 0 1 1 .1 0m-30.5 11.2a3 3 0 1 1 .1 0m23.2-1.9a3.2 3.2 0 1 1 .1 0" fill="none" stroke="#2a9a2a" stroke-width="1" stroke-dasharray="2.2 .7 4 1" stroke-opacity=".6"/><path d="M59.3 5.9a3.4 3.4 0 1 1 .1 0m-11.8 11a3.4 3.4 0 1 1 .1 0" fill="none" stroke="#2a9a2a" stroke-width="1" stroke-dasharray="3.2 .9" stroke-opacity=".8"/><path d="M33.6 21.6a3.6 3.6 0 1 1 .1 0m26.8 12.8a3.2 3.2 0 1 1 .1 0m-10.7-4.3a2.8 2.8 0 1 1 .1 0m16.5 14.9a2.6 2.6 0 1 1 .1 0m-31.6 23.6a3.2 3.2 0 1 1 .1 0" fill="none" stroke="#2a9a2a" stroke-width="1" stroke-dasharray="2.2 .7 4 1" stroke-opacity=".8"/></g><path d="M51.5 77.3h26" stroke="#fff" stroke-width="2.1"/><rect x=".25" y=".25" width="80" height="79.5" fill="none" stroke="#4a4a4a" stroke-width=".5"/></svg>
<svg x="350" y="105.8" width="80.5" height="80"><rect width="100%" height="100%" filter="url(#q1b)"/><path d="M51.5 77.3h26" stroke="#fff" stroke-width="2.1"/><rect x=".25" y=".25" width="80" height="79.5" fill="none" stroke="#4a4a4a" stroke-width=".5"/></svg>
<svg x="433" y="105.8" width="80.5" height="80"><rect width="100%" height="100%" filter="url(#q1g)"/><path d="M51.5 77.3h26" stroke="#fff" stroke-width="2.1"/><rect x=".25" y=".25" width="80" height="79.5" fill="none" stroke="#4a4a4a" stroke-width=".5"/></svg>
<svg x="516" y="105.8" width="80.5" height="80"><rect width="100%" height="100%" filter="url(#q1r)"/><path d="M51.5 77.3h26" stroke="#fff" stroke-width="2.1"/><rect x=".25" y=".25" width="80" height="79.5" fill="none" stroke="#4a4a4a" stroke-width=".5"/></svg>
<svg x="599" y="105.8" width="80.5" height="80"><rect width="100%" height="100%" filter="url(#q1m)"/><path d="M51.5 77.3h26" stroke="#fff" stroke-width="2.1"/><rect x=".25" y=".25" width="80" height="79.5" fill="none" stroke="#4a4a4a" stroke-width=".5"/></svg>
<svg x="348" y="232.5" width="80.5" height="80"><rect width="100%" height="100%" filter="url(#q2b)"/><path d="M51.5 77.3h26" stroke="#fff" stroke-width="2.1"/><rect x=".25" y=".25" width="80" height="79.5" fill="none" stroke="#4a4a4a" stroke-width=".5"/></svg>
<svg x="431" y="232.5" width="80.5" height="80"><rect width="100%" height="100%" filter="url(#q2g)"/><rect width="100%" height="100%" fill="url(#gm1)"/><path d="M51.5 77.3h26" stroke="#fff" stroke-width="2.1"/><rect x=".25" y=".25" width="80" height="79.5" fill="none" stroke="#4a4a4a" stroke-width=".5"/></svg>
<svg x="598" y="232.5" width="80.5" height="80"><rect width="100%" height="100%" filter="url(#q2m)"/><rect width="100%" height="100%" filter="url(#t1r)" opacity=".5"/><g filter="url(#mb)"><path d="M42.1 2.4h0m29.5 2h0m6.7 7.6h0m-31-5.1h0m-21.4 4h0m-11.7-1.2h0m34.3 4.2h0m1 2h0m13.8-.6h0m7.1 .1h0m8.5-2.1h0m-14.2 10h0m-14.6 .5h0m-35.5 3.6h0m12.9 1.9h0m19.7-.3h0m-6.7 6.5h0m-37.7-1.1h0m16.5 4.9h0m16.1-1.7h0m.8 3.9h0m11.1-2.3h0m-23.2 4.1h0m-5.8 .4h0m29.2 9.3h0m29.1 3.2h0m-44.9 .7h0m2.1 6.6h0m14.8 1.4h0m3.1-2.4h0m25.4 8.3h0m-3.8 .8h0m-.5-1.6h0m-.9 0h0m-21.8 .2h0m-23.6 .2h0m-23.4-3.7h0m8.7 10.3h0m14.3-3.8h0m-25.2 6.5h0" stroke="#e02080" stroke-width="1" stroke-linecap="round" stroke-opacity=".4"/><path d="M16.8 2.5h0m62.3 6.1h0m-18.5 1.1h0m-22.5-.1h0m-9.5-.6h0m-15 0h0m-1.9-.7h0m13.8 6.1h0m30.7 4.5h0m-1.6 1.9h0m-42.8-1.5h0m53.4 16.5h0m-5.3-2.5h0m-2.8 2.2h0m-56.4-3.5h0m5 7.3h0m21.2 .8h0m47.8 2.7h0m-30.2 .3h0m-14 2.8h0m-11.8-2.6h0m41.4 10.2h0m10.6 5.5h0m-7.6 3.7h0m6.8 2.9h0m-9.4 1.3h0m-1.1 3.2h0m-46.2 4.8h0m35.4-2.4h0m29.7 4.7h0m-7.3 2.7h0m-10.1-1.8h0m-48.2 1.7h0" stroke="#e02080" stroke-width="1" stroke-linecap="round" stroke-opacity=".8"/><path d="M57.7 5.6h0m-14.5 6.2h0m-25.9-1.6h0m58.5 10.1h0m-60.1 2.8h0m25 3.4h0m33.7 11h0m-9.8 8.9h0m-14.3-3.7h0m-1.1 12.7h0m21.6 15.9h0m-35.5-.8h0m-22.8-4.1h0m-9.4 7.3h0m13.1-1.7h0m40.1 3.8h0m20.5 2.7h0" stroke="#e02080" stroke-width="1.5" stroke-linecap="round" stroke-opacity=".4"/><path d="M1.6 9.9h0m44.3 6.4h0m25.9 6.5h0m-3.9-.2h0m-48.9 4.6h0m59.5 6.7h0m-40.4-2.1h0m10.2 6.9h0m-4.3 3.9h0m23.7 17.1h0m-39.5 1.1h0m.5 .1h0m16.9 2.9h0m28 0h0m-53.3 6h0m-16.9 4h0m60.2 1.2h0m12.1 1.3h0m3.2 3.2h0" stroke="#e02080" stroke-width="1.5" stroke-linecap="round" stroke-opacity=".6"/><path d="M49.3 10.8h0m-11.1 .6h0m-17.3-5.3h0m-4.1 .4h0m-.7 3.5h0m50.9 8.8h0m-.7 3.7h0m-64.2 2.8h0m23.6 1.3h0m46.2-1.8h0m-.2 7.1h0m-19.1 14.5h0m-17.1-3.4h0m-8 1.9h0m11.3 4.4h0m13 7.7h0m-36-1.9h0m13.2 5.5h0m45.3 2.5h0m-33.2 3.9h0m-38.3 9.1h0m22.2 .2h0m42.9-2.2h0m-9.5 4.2h0" stroke="#e02080" stroke-width="1" stroke-linecap="round" stroke-opacity=".6"/><path d="M72.3 3h0m7.3-.6h0m-8.6 6.9h0m-10.6-2.7h0m-19.7 1.5h0m9.2 8.9h0m19.7 18.5h0m-1.5-4.6h0m3.6 40.5h0m-20 4.2h0m15.8-2.4h0" stroke="#e02080" stroke-width="1.5" stroke-linecap="round" stroke-opacity=".8"/><path d="M1.1 .6h0m13.9 13.4h0m49.5 12.4h0m10.9 14.6h0m-48.6 8.1h0m15.9 6.9h0m-9.3 .6h0m29.4 12.5h0m-45.6 6.3h0m3.1 .2h0m6.3-1.6h0m21.4 4.3h0m-41.5 1.7h0" stroke="#e02080" stroke-width="1" stroke-linecap="round"/><path d="M50.5 43.7h0m-29.7 6.2h0m48.9 9h0m-50.8 3.6h0" stroke="#e02080" stroke-width="1" stroke-linecap="round" stroke-opacity=".2"/><path d="M8.6 1h0m27.9 2.1h0m-18.5 11.6h0m39.9 4.4h0m-31.1 8h0m39.7-1.9h0m-13.2 9.2h0m5.8 2.2h0m-9.1 11.2h0m-9.6 3.7h0m32.7-1.7h0m4.2 16.3h0m-24.2 8.7h0" stroke="#e02080" stroke-width="1.5" stroke-linecap="round"/><path d="M2.4 28.1h0m47.5-3.8h0m-36.4 55.6h0" stroke="#e02080" stroke-width="0.5" stroke-linecap="round" stroke-opacity=".4"/><path d="M36.8 20h0m-3.5 10.6h0m-27.6 34.4h0" stroke="#e02080" stroke-width="0.5" stroke-linecap="round" stroke-opacity=".8"/><path d="M0 2.8h0m8.6 4.8h0m60.9 17.4h0m-64.2 24.9h0m18.4-1.5h0m8.1 5.4h0m-1 7.7h0" stroke="#e02080" stroke-width="1.5" stroke-linecap="round" stroke-opacity=".2"/><path d="M8.9 12.7h0" stroke="#e02080" stroke-width="0.5" stroke-linecap="round"/><path d="M47.7 13.4h0" stroke="#e02080" stroke-width="0.5" stroke-linecap="round" stroke-opacity=".2"/><path d="M64.3 31.1h0" stroke="#e02080" stroke-width="0.5" stroke-linecap="round" stroke-opacity=".6"/></g><path d="M51.5 77.3h26" stroke="#fff" stroke-width="2.1"/><rect x=".25" y=".25" width="80" height="79.5" fill="none" stroke="#4a4a4a" stroke-width=".5"/></svg>
<svg x="515" y="232.5" width="80.5" height="80"><rect width="100%" height="100%" fill="#080000"/><rect width="100%" height="100%" filter="url(#t1r)"/><g filter="url(#mb)"><path d="M42.1 2.4h0m29.5 2h0m6.7 7.6h0m-31-5.1h0m-21.4 4h0m-11.7-1.2h0m34.3 4.2h0m1 2h0m13.8-.6h0m7.1 .1h0m8.5-2.1h0m-14.2 10h0m-14.6 .5h0m-35.5 3.6h0m12.9 1.9h0m19.7-.3h0m-6.7 6.5h0m-37.7-1.1h0m16.5 4.9h0m16.1-1.7h0m.8 3.9h0m11.1-2.3h0m-23.2 4.1h0m-5.8 .4h0m29.2 9.3h0m29.1 3.2h0m-44.9 .7h0m2.1 6.6h0m14.8 1.4h0m3.1-2.4h0m25.4 8.3h0m-3.8 .8h0m-.5-1.6h0m-.9 0h0m-21.8 .2h0m-23.6 .2h0m-23.4-3.7h0m8.7 10.3h0m14.3-3.8h0m-25.2 6.5h0" stroke="#c81a1a" stroke-width="1" stroke-linecap="round" stroke-opacity=".4"/><path d="M16.8 2.5h0m62.3 6.1h0m-18.5 1.1h0m-22.5-.1h0m-9.5-.6h0m-15 0h0m-1.9-.7h0m13.8 6.1h0m30.7 4.5h0m-1.6 1.9h0m-42.8-1.5h0m53.4 16.5h0m-5.3-2.5h0m-2.8 2.2h0m-56.4-3.5h0m5 7.3h0m21.2 .8h0m47.8 2.7h0m-30.2 .3h0m-14 2.8h0m-11.8-2.6h0m41.4 10.2h0m10.6 5.5h0m-7.6 3.7h0m6.8 2.9h0m-9.4 1.3h0m-1.1 3.2h0m-46.2 4.8h0m35.4-2.4h0m29.7 4.7h0m-7.3 2.7h0m-10.1-1.8h0m-48.2 1.7h0" stroke="#c81a1a" stroke-width="1" stroke-linecap="round" stroke-opacity=".8"/><path d="M57.7 5.6h0m-14.5 6.2h0m-25.9-1.6h0m58.5 10.1h0m-60.1 2.8h0m25 3.4h0m33.7 11h0m-9.8 8.9h0m-14.3-3.7h0m-1.1 12.7h0m21.6 15.9h0m-35.5-.8h0m-22.8-4.1h0m-9.4 7.3h0m13.1-1.7h0m40.1 3.8h0m20.5 2.7h0" stroke="#c81a1a" stroke-width="1.5" stroke-linecap="round" stroke-opacity=".4"/><path d="M1.6 9.9h0m44.3 6.4h0m25.9 6.5h0m-3.9-.2h0m-48.9 4.6h0m59.5 6.7h0m-40.4-2.1h0m10.2 6.9h0m-4.3 3.9h0m23.7 17.1h0m-39.5 1.1h0m.5 .1h0m16.9 2.9h0m28 0h0m-53.3 6h0m-16.9 4h0m60.2 1.2h0m12.1 1.3h0m3.2 3.2h0" stroke="#c81a1a" stroke-width="1.5" stroke-linecap="round" stroke-opacity=".6"/><path d="M49.3 10.8h0m-11.1 .6h0m-17.3-5.3h0m-4.1 .4h0m-.7 3.5h0m50.9 8.8h0m-.7 3.7h0m-64.2 2.8h0m23.6 1.3h0m46.2-1.8h0m-.2 7.1h0m-19.1 14.5h0m-17.1-3.4h0m-8 1.9h0m11.3 4.4h0m13 7.7h0m-36-1.9h0m13.2 5.5h0m45.3 2.5h0m-33.2 3.9h0m-38.3 9.1h0m22.2 .2h0m42.9-2.2h0m-9.5 4.2h0" stroke="#c81a1a" stroke-width="1" stroke-linecap="round" stroke-opacity=".6"/><path d="M72.3 3h0m7.3-.6h0m-8.6 6.9h0m-10.6-2.7h0m-19.7 1.5h0m9.2 8.9h0m19.7 18.5h0m-1.5-4.6h0m3.6 40.5h0m-20 4.2h0m15.8-2.4h0" stroke="#c81a1a" stroke-width="1.5" stroke-linecap="round" stroke-opacity=".8"/><path d="M1.1 .6h0m13.9 13.4h0m49.5 12.4h0m10.9 14.6h0m-48.6 8.1h0m15.9 6.9h0m-9.3 .6h0m29.4 12.5h0m-45.6 6.3h0m3.1 .2h0m6.3-1.6h0m21.4 4.3h0m-41.5 1.7h0" stroke="#c81a1a" stroke-width="1" stroke-linecap="round"/><path d="M50.5 43.7h0m-29.7 6.2h0m48.9 9h0m-50.8 3.6h0" stroke="#c81a1a" stroke-width="1" stroke-linecap="round" stroke-opacity=".2"/><path d="M8.6 1h0m27.9 2.1h0m-18.5 11.6h0m39.9 4.4h0m-31.1 8h0m39.7-1.9h0m-13.2 9.2h0m5.8 2.2h0m-9.1 11.2h0m-9.6 3.7h0m32.7-1.7h0m4.2 16.3h0m-24.2 8.7h0" stroke="#c81a1a" stroke-width="1.5" stroke-linecap="round"/><path d="M2.4 28.1h0m47.5-3.8h0m-36.4 55.6h0" stroke="#c81a1a" stroke-width="0.5" stroke-linecap="round" stroke-opacity=".4"/><path d="M36.8 20h0m-3.5 10.6h0m-27.6 34.4h0" stroke="#c81a1a" stroke-width="0.5" stroke-linecap="round" stroke-opacity=".8"/><path d="M0 2.8h0m8.6 4.8h0m60.9 17.4h0m-64.2 24.9h0m18.4-1.5h0m8.1 5.4h0m-1 7.7h0" stroke="#c81a1a" stroke-width="1.5" stroke-linecap="round" stroke-opacity=".2"/><path d="M8.9 12.7h0" stroke="#c81a1a" stroke-width="0.5" stroke-linecap="round"/><path d="M47.7 13.4h0" stroke="#c81a1a" stroke-width="0.5" stroke-linecap="round" stroke-opacity=".2"/><path d="M64.3 31.1h0" stroke="#c81a1a" stroke-width="0.5" stroke-linecap="round" stroke-opacity=".6"/></g><path d="M51.5 77.3h26" stroke="#fff" stroke-width="2.1"/><rect x=".25" y=".25" width="80" height="79.5" fill="none" stroke="#4a4a4a" stroke-width=".5"/></svg>
<svg x="348" y="330.4" width="80.5" height="80"><rect width="100%" height="100%" fill="#000"/><g filter="url(#mb)"><path d="M66.4 32l2.1-.7m-55.9 50.7l1.7-.5" stroke="#2424f4" stroke-width="2" stroke-linecap="round" stroke-opacity=".8"/><path d="M74.4 48.6l1.7-1.1" stroke="#2424f4" stroke-width="2" stroke-linecap="round" stroke-opacity=".4"/><path d="M68.4 -1.8l1.6-.4m6.3 8.6l1.3-.2m-42.8 10.8l1.7-.3m6.9 8.7l1.8-.1m-20.1 10.7l2.7-.4m-20.7 17.1l1.9-.1m-9.3 5.9l2.4-.7m-.1 19.5l.8-1" stroke="#2424f4" stroke-width="2.5" stroke-linecap="round" stroke-opacity=".8"/><path d="M69.1 4.3l.9-.8m-20.9 12.1l1.1-1.1m7.1-2.1l2.3-.3m-14.7 30.5l2.9-.6m-30.9 11.1l1.5-1.7m37.7 5.8l1-1.1m-18.5 3.3l1.6-1m-24.9-1.4l1.8-1.4m44 6.4l2.6-.9" stroke="#1414ec" stroke-width="2.5" stroke-linecap="round" stroke-opacity=".6"/><path d="M49.7 -1.1l1.5-.8m9.7 51.8l1.4-.8m-35.7 30.7l2.8-.4" stroke="#1a1aff" stroke-width="2.5" stroke-linecap="round" stroke-opacity=".6"/><path d="M39.7 11.9l1.6-.7m23.4 4.6l1.4-.5m-13.7 3.4l1.9-1.3m-34.7 10.9l1.4-1m27.4 .9l2.5-.6m23 11.3l1.4-1.5m-39.4 5.3l1.9-2m-33.7 8.4l2.2-.3m13.9 8.4l2.3-.5m28.6 8.6l1.7-.3" stroke="#2c2cff" stroke-width="2.5" stroke-linecap="round" stroke-opacity=".6"/><path d="M33 11.2l1.8-1.1m25.7 6.8l1.1-.3m19.7-3.9l1.3-.3m-7.4 9.5l2.5-.9m3.2 7.9l2.7-.1m-50.3 5.1l1.9-.2m-11.5-3.2l1.1-.7m-10 11.9l1-.8m30.3-3.5l2.3-1" stroke="#2424f4" stroke-width="2.5" stroke-linecap="round" stroke-opacity=".6"/><path d="M2.5 14.9l1.1-.7m10.2 9.2l2.5-1.1m63.9 14.4l1.2-1m-1.7 8.2l1.5-.2m-39.9 8.5l2.5-.6m37 2.3l1.3-1.2m-49.1 7.4l1-.8" stroke="#2c2cff" stroke-width="2.5" stroke-linecap="round"/><path d="M71.8 55.7l1.5-1.5m-13.3 28.3l1.3-1.3" stroke="#1a1aff" stroke-width="3" stroke-linecap="round"/><path d="M41.8 4.2l2.4-1.2m34.2 22.3l2-1.3m-49.4 32.2l2.3-1.7" stroke="#2c2cff" stroke-width="2.5" stroke-linecap="round" stroke-opacity=".8"/><path d="M67.6 9.3l1.6-.1m6.3 25.8l1.9-1.3m-17.9 2.3l2-1.8m1.4 11.3l1.5-1m3.2 28.8l1.9-.2" stroke="#1a1aff" stroke-width="2.5" stroke-linecap="round"/><path d="M4.7 56.9l1-.9m3.9 17.9l1.3-.1" stroke="#2c2cff" stroke-width="2.5" stroke-linecap="round" stroke-opacity=".4"/><path d="M21.4 39.5l2.7-1" stroke="#1a1aff" stroke-width="3" stroke-linecap="round" stroke-opacity=".8"/><path d="M41.6 35.4l1.5-1.2m13.8 8.1l1.4-1.1" stroke="#1a1aff" stroke-width="3" stroke-linecap="round" stroke-opacity=".6"/><path d="M20.1 19.5l2.4-1m-25.5 .7l2.1-.8m42.1 24.7l2.1 0m-11.9 26.6l2.2-.3m-10.9-1.1l2.1 0" stroke="#1a1aff" stroke-width="2.5" stroke-linecap="round" stroke-opacity=".8"/><path d="M-2.7 24.7l1.3-.7m42.5 42.7l1.8-.9" stroke="#1414ec" stroke-width="2.5" stroke-linecap="round" stroke-opacity=".4"/><path d="M36.1 4l2-1.2m13.6 48l1.5-.8m-10.9 29.9l1.4-1.1" stroke="#1414ec" stroke-width="2" stroke-linecap="round" stroke-opacity=".6"/><path d="M24.4 -.3l2.3-1.4m50.2 17.4l1.4-.2m-9.7 2.6l1.3-.5m2.8 8.2l2.8-.8m-24.7 14.7l1.6-.5m-25.9 9.6l1.9-.6m5.4 3.1l1.4-.8m-24 13.7l1.1-.5" stroke="#2c2cff" stroke-width="2" stroke-linecap="round" stroke-opacity=".6"/><path d="M67.7 41.4l1.7-.7" stroke="#1414ec" stroke-width="3" stroke-linecap="round"/><path d="M57.1 30.7l1.8-.6" stroke="#2c2cff" stroke-width="3" stroke-linecap="round"/><path d="M12.5 15.6l2.3-1.6m33.5 54.7l1.2-1.1m-33.9 12.1l2.9-.5" stroke="#2c2cff" stroke-width="3" stroke-linecap="round" stroke-opacity=".8"/><path d="M65.2 48.3l2.3-.2m-49.8 20.7l1.1-.9m41.5 9.6l1.1-.8m13.9-.8l1.7-1.9" stroke="#1414ec" stroke-width="2.5" stroke-linecap="round"/><path d="M29.1 21.7l2-1" stroke="#2424f4" stroke-width="2" stroke-linecap="round"/><path d="M6.1 63.3l1.4-.7" stroke="#1a1aff" stroke-width="2" stroke-linecap="round" stroke-opacity=".8"/><path d="M17.6 9.5l.9-1" stroke="#1414ec" stroke-width="3" stroke-linecap="round" stroke-opacity=".6"/><path d="M13.8 32.6l2.2-1.1m31.5 26.6l2-2" stroke="#2c2cff" stroke-width="2" stroke-linecap="round" stroke-opacity=".4"/><path d="M8 21.9l1.6-.3m51.2 33.1l1.5-1" stroke="#2424f4" stroke-width="2" stroke-linecap="round" stroke-opacity=".6"/><path d="M72.4 12.1l2.2-1.5m-75.5 33.2l2.6-.4m21.6 9.3l1.8-.9m-17.1 6.8l2.7-1.2m48.2 7.8l1.3-.2m-53.8 5.2l1.9-2" stroke="#1414ec" stroke-width="2" stroke-linecap="round" stroke-opacity=".8"/><path d="M80.7 8.5l1.3-.3m-55 7.5l1.6-1m38.2 9.3l1.9 0m2.5 5.4l1-.7m-65.4 2.1l1.7-1.1m6.8 33.7l1.2-1.3m7.4 13l1.9-2m26.4 1.1l1.5-.9" stroke="#1414ec" stroke-width="2.5" stroke-linecap="round" stroke-opacity=".8"/><path d="M45 32.2l2.4-1.2m26.8 29.7l1.6-.4" stroke="#2424f4" stroke-width="2.5" stroke-linecap="round"/><path d="M27.2 4l1.8-.8" stroke="#1414ec" stroke-width="3" stroke-linecap="round" stroke-opacity=".4"/><path d="M59.7 5l1-.7m-50.3 39.2l1.4 0" stroke="#1a1aff" stroke-width="2" stroke-linecap="round"/><path d="M-.6 2.2l2-.8m-1 26.3l2.3-.3m64.9 30.5l1-1" stroke="#2424f4" stroke-width="3" stroke-linecap="round" stroke-opacity=".6"/><path d="M44.7 7.5l2.2-.3m-9.4 62.8l1.5-1.1" stroke="#2c2cff" stroke-width="2" stroke-linecap="round" stroke-opacity=".8"/><path d="M14 75.9l2-2" stroke="#1a1aff" stroke-width="2" stroke-linecap="round" stroke-opacity=".4"/><path d="M8.6 9.2l2-2.1m-3.8 27.5l1.5-.2" stroke="#1a1aff" stroke-width="2" stroke-linecap="round" stroke-opacity=".6"/><path d="M63.3 10.7l2.1-.8" stroke="#2424f4" stroke-width="3" stroke-linecap="round"/><path d="M7.6 40.2l1-.7" stroke="#2424f4" stroke-width="3" stroke-linecap="round" stroke-opacity=".8"/><path d="M33.3 79.8l1.4-1.1" stroke="#2424f4" stroke-width="2.5" stroke-linecap="round" stroke-opacity=".4"/><path d="M25.9 60.7l2.5-1.5" stroke="#1414ec" stroke-width="3" stroke-linecap="round" stroke-opacity=".8"/><path d="M52.4 2.6l1.3-1.2" stroke="#1414ec" stroke-width="2" stroke-linecap="round" stroke-opacity=".4"/></g><path d="M51.5 77.3h26" stroke="#fff" stroke-width="2.1"/><rect x=".25" y=".25" width="80" height="79.5" fill="none" stroke="#4a4a4a" stroke-width=".5"/></svg>
<svg x="431" y="330.4" width="80.5" height="80"><rect width="100%" height="100%" fill="#000"/><rect width="100%" height="100%" filter="url(#t2g)" mask="url(#mk2)"/><g mask="url(#mk2)"><g filter="url(#mb)"><path d="M17.7 37.6a2.6 2.6 0 1 1 .1 0zm33.5 16.1a2.8 2.8 0 1 1 .1 0zm4.8-5.2a2.6 2.6 0 1 1 .1 0zm-12.7 11.5a1.8 1.8 0 1 1 .1 0zm-7.7-2.4a2.2 2.2 0 1 1 .1 0zm-17.4 5.9a2.2 2.2 0 1 1 .1 0zm7.6-2.1a1.8 1.8 0 1 1 .1 0zm38.5 15.3a1.8 1.8 0 1 1 .1 0z" fill="#50e050" fill-opacity=".6"/><path d="M62.7 44.5a2.8 2.8 0 1 1 .1 0zm-25-2.3a2.2 2.2 0 1 1 .1 0zm25.1 12.7a1.8 1.8 0 1 1 .1 0zm-20.2 .4a2 2 0 1 1 .1 0zm-24.4 11a2.4 2.4 0 1 1 .1 0zm-.6 4.4a1.8 1.8 0 1 1 .1 0z" fill="#50e050" fill-opacity=".8"/></g></g><path d="M51.5 77.3h26" stroke="#fff" stroke-width="2.1"/><rect x=".25" y=".25" width="80" height="79.5" fill="none" stroke="#4a4a4a" stroke-width=".5"/></svg>
<svg x="515" y="330.4" width="80.5" height="80"><rect width="100%" height="100%" fill="#040000"/><g filter="url(#mb)"><path d="M66.2 8.8h0m3.4 14.2h0m-63.2 27h0m67-.2h0m-3.1 6h0m-43.3 10.1h0m18.6 10h0" stroke="#c81818" stroke-width="1.5" stroke-linecap="round" stroke-opacity=".8"/><path d="M51.9 45.5h0m-13.9-1.6h0m-10.6 7.5h0m16.4 12.7h0m25.4 9.9h0" stroke="#c81818" stroke-width="2" stroke-linecap="round" stroke-opacity=".8"/><path d="M63.8 56.6h0m-28.3-.1h0m-16.1 3h0m21.3 8.2h0" stroke="#c81818" stroke-width="1.5" stroke-linecap="round" stroke-opacity=".6"/><path d="M29.4 13.8h0m33.7 20.3h0m-42.9 12.2h0m39.5 20.9h0m-5.5 3h0" stroke="#c81818" stroke-width="2.5" stroke-linecap="round" stroke-opacity=".8"/><path d="M41.9 18.7h0m23.1 9.8h0m7.8 17.2h0m-59.5-1.6h0m23.8 8.6h0m16.7-1.2h0m-43.5 3h0m11.2 6h0" stroke="#c81818" stroke-width="2" stroke-linecap="round" stroke-opacity=".6"/><path d="M55 11.9h0m-13.3 34.2h0" stroke="#c81818" stroke-width="2.5" stroke-linecap="round" stroke-opacity=".6"/><path d="M73.2 29.2h0" stroke="#c81818" stroke-width="1.5" stroke-linecap="round"/><path d="M60.2 52.6h0" stroke="#c81818" stroke-width="1.5" stroke-linecap="round" stroke-opacity=".4"/><path d="M51.5 60.3h0" stroke="#c81818" stroke-width="2.5" stroke-linecap="round" stroke-opacity=".4"/></g><path d="M51.5 77.3h26" stroke="#fff" stroke-width="2.1"/><rect x=".25" y=".25" width="80" height="79.5" fill="none" stroke="#4a4a4a" stroke-width=".5"/></svg>
<svg x="598" y="330.4" width="80.5" height="80"><rect width="100%" height="100%" fill="#000"/><g filter="url(#mb)"><path d="M-.9 43.8l2.6-.4m35.8 26.6l1.5-1.1m-26.4 13.1l1.7-.5" stroke="#1e4ef0" stroke-width="2" stroke-linecap="round" stroke-opacity=".8"/><path d="M52.4 2.6l1.3-1.2m20.7 47.2l1.7-1.1" stroke="#1a60e0" stroke-width="2" stroke-linecap="round" stroke-opacity=".4"/><path d="M41.8 4.2l2.4-1.2m-47.2 16.2l2.1-.8m72.1 11l1-.7m6.2-3.4l2-1.3m-73.6 6.8l1.7-1.1m22.9 40l2.2-.3m-10.9-1.1l2.1 0m-22.8 9l.8-1" stroke="#2a6ae8" stroke-width="2.5" stroke-linecap="round" stroke-opacity=".8"/><path d="M49.7 -1.1l1.5-.8m-11.5 13.8l1.6-.7m19.2 5.7l1.1-.3m19.7-3.9l1.3-.3m-30.2 6.3l1.9-1.3m-21 16.5l1.9-.2m10.9 3.7l2.3-1m25.5 2.5l1.4-1.5m-30.4 5.2l2.9-.6m-30.9 11.1l1.5-1.7m-3.1 5.6l1.8-1.4m34 9.7l1.7-.3" stroke="#1a60e0" stroke-width="2.5" stroke-linecap="round" stroke-opacity=".6"/><path d="M69.1 4.3l.9-.8m-37 7.7l1.8-1.1m14.3 5.5l1.1-1.1m7.1-2.1l2.3-.3m21.3 16.8l2.7-.1m-68.8 12.9l1-.8m45.1 9l1.4-.8m-6.2 8.1l1-1.1m-36.9 1.1l2.3-.5m4.1 23.1l2.8-.4" stroke="#2a6ae8" stroke-width="2.5" stroke-linecap="round" stroke-opacity=".6"/><path d="M64.7 15.8l1.4-.5m9.1 6.6l2.5-.9m-58.1 7.3l1.4-1m27.4 .9l2.5-.6m-27.2 2.9l1.1-.7m11.1 12.9l1.9-2m-33.7 8.4l2.2-.3m32.3 10.6l1.6-1m20.9 3.6l2.6-.9" stroke="#1e4ef0" stroke-width="2.5" stroke-linecap="round" stroke-opacity=".6"/><path d="M45 32.2l2.4-1.2m-6.1 21.2l2.5-.6m37 2.3l1.3-1.2m-7.9 8l1.6-.4" stroke="#2a6ae8" stroke-width="2.5" stroke-linecap="round"/><path d="M63.3 10.7l2.1-.8m6.4 45.8l1.5-1.5" stroke="#1a60e0" stroke-width="3" stroke-linecap="round"/><path d="M68.4 -1.8l1.6-.4m10.7 10.7l1.3-.3m-5.7-1.8l1.3-.2m-57.5 13.3l2.4-1m44.3 5.5l1.9 0m-43.6 12l2.7-.4m-12.5 27.8l1.2-1.3m7.4 13l1.9-2m26.4 1.1l1.5-.9" stroke="#1e4ef0" stroke-width="2.5" stroke-linecap="round" stroke-opacity=".8"/><path d="M27 15.7l1.6-1m6.2 2.3l1.7-.3m6.9 8.7l1.8-.1m-4 17.8l2.1 0m-36.2 9.6l1.9-.1m22 3.6l2.3-1.7m-33.6 4l2.4-.7" stroke="#1a60e0" stroke-width="2.5" stroke-linecap="round" stroke-opacity=".8"/><path d="M67.6 9.3l1.6-.1m-66.7 5.7l1.1-.7m10.2 9.2l2.5-1.1m63.9 14.4l1.2-1m-48.4 24.4l1-.8m-16.3 9.5l1.1-.9m41.5 9.6l1.1-.8m6.2-3.4l1.9-.2m5.8 2.8l1.7-1.9" stroke="#1a60e0" stroke-width="2.5" stroke-linecap="round"/><path d="M4.7 56.9l1-.9m3.9 17.9l1.3-.1" stroke="#1e4ef0" stroke-width="2.5" stroke-linecap="round" stroke-opacity=".4"/><path d="M21.4 39.5l2.7-1m1.8 22.2l2.5-1.5" stroke="#2a6ae8" stroke-width="3" stroke-linecap="round" stroke-opacity=".8"/><path d="M-.6 2.2l2-.8m16.2 8.1l.9-1m-18.1 19.2l2.3-.3m38.9 8l1.5-1.2m13.8 8.1l1.4-1.1m9.3 16.7l1-1" stroke="#1e4ef0" stroke-width="3" stroke-linecap="round" stroke-opacity=".6"/><path d="M-2.7 24.7l1.3-.7m34.7 55.8l1.4-1.1" stroke="#2a6ae8" stroke-width="2.5" stroke-linecap="round" stroke-opacity=".4"/><path d="M24.4 -.3l2.3-1.4m-18.1 10.9l2-2.1m-2.6 14.8l1.6-.3m41.2 18.1l1.6-.5m-.7 11.6l1.5-.8m7.6 4.7l1.5-1m-51.1 10.5l1.1-.5" stroke="#1e4ef0" stroke-width="2" stroke-linecap="round" stroke-opacity=".6"/><path d="M57.1 30.7l1.8-.6m8.8 11.3l1.7-.7" stroke="#2a6ae8" stroke-width="3" stroke-linecap="round"/><path d="M68.6 18.1l1.3-.5m-63.1 17l1.5-.2m34 45.5l1.4-1.1" stroke="#2a6ae8" stroke-width="2" stroke-linecap="round" stroke-opacity=".6"/><path d="M12.5 15.6l2.3-1.6m-7.2 26.2l1-.7m7 40.2l2.9-.5" stroke="#1e4ef0" stroke-width="3" stroke-linecap="round" stroke-opacity=".8"/><path d="M29.1 21.7l2-1" stroke="#1a60e0" stroke-width="2" stroke-linecap="round"/><path d="M66.4 32l2.1-.7m-60.5 27.3l2.7-1.2m-4.6 5.9l1.4-.7m-1.1 7.6l1.9-2" stroke="#2a6ae8" stroke-width="2" stroke-linecap="round" stroke-opacity=".8"/><path d="M47.5 58.1l2-2" stroke="#2a6ae8" stroke-width="2" stroke-linecap="round" stroke-opacity=".4"/><path d="M44.7 7.5l2.2-.3m25.5 4.9l2.2-1.5m-51.3 42.1l1.8-.9m33.8 13.4l1.3-.2" stroke="#1a60e0" stroke-width="2" stroke-linecap="round" stroke-opacity=".8"/><path d="M41.1 66.7l1.8-.9" stroke="#1a60e0" stroke-width="2.5" stroke-linecap="round" stroke-opacity=".4"/><path d="M75.5 35l1.9-1.3m-17.9 2.3l2-1.8m18.2 9.7l1.5-.2m-18.3 1.8l1.5-1m.8 3.8l2.3-.2" stroke="#1e4ef0" stroke-width="2.5" stroke-linecap="round"/><path d="M60 82.5l1.3-1.3" stroke="#1e4ef0" stroke-width="3" stroke-linecap="round"/><path d="M27.2 4l1.8-.8" stroke="#1a60e0" stroke-width="3" stroke-linecap="round" stroke-opacity=".4"/><path d="M59.7 5l1-.7" stroke="#1e4ef0" stroke-width="2" stroke-linecap="round"/><path d="M36.1 4l2-1.2m38.8 12.9l1.4-.2m-5.6 10.3l2.8-.8m-49 23.8l1.9-.6m5.4 3.1l1.4-.8" stroke="#1a60e0" stroke-width="2" stroke-linecap="round" stroke-opacity=".6"/><path d="M13.8 32.6l2.2-1.1m-2 44.4l2-2" stroke="#1e4ef0" stroke-width="2" stroke-linecap="round" stroke-opacity=".4"/><path d="M10.4 43.5l1.4 0" stroke="#2a6ae8" stroke-width="2" stroke-linecap="round"/><path d="M48.3 68.7l1.2-1.1" stroke="#1a60e0" stroke-width="3" stroke-linecap="round" stroke-opacity=".8"/></g><rect width="100%" height="100%" filter="url(#t2g)" mask="url(#mk2)" opacity=".8"/><g mask="url(#mk2)"><g filter="url(#mb)"><path d="M17.7 37.6a2.6 2.6 0 1 1 .1 0zm33.5 16.1a2.8 2.8 0 1 1 .1 0zm4.8-5.2a2.6 2.6 0 1 1 .1 0zm-12.7 11.5a1.8 1.8 0 1 1 .1 0zm-7.7-2.4a2.2 2.2 0 1 1 .1 0zm-17.4 5.9a2.2 2.2 0 1 1 .1 0zm7.6-2.1a1.8 1.8 0 1 1 .1 0zm38.5 15.3a1.8 1.8 0 1 1 .1 0z" fill="#50e050" fill-opacity=".6"/><path d="M62.7 44.5a2.8 2.8 0 1 1 .1 0zm-25-2.3a2.2 2.2 0 1 1 .1 0zm25.1 12.7a1.8 1.8 0 1 1 .1 0zm-20.2 .4a2 2 0 1 1 .1 0zm-24.4 11a2.4 2.4 0 1 1 .1 0zm-.6 4.4a1.8 1.8 0 1 1 .1 0z" fill="#50e050" fill-opacity=".8"/></g></g><g filter="url(#mb)"><path d="M69.6 23h0m-63.2 27h0m63.9 5.8h0m-50.9 3.7h0m26.2 16.4h0" stroke="#e03040" stroke-width="1.5" stroke-linecap="round" stroke-opacity=".6"/><path d="M51.9 45.5h0m-38.6-1.4h0" stroke="#e03040" stroke-width="2" stroke-linecap="round"/><path d="M66.2 8.8h0m7 20.4h0m.2 20.6h0m-9.6 6.8h0m-23.1 11.1h0" stroke="#e03040" stroke-width="1.5" stroke-linecap="round" stroke-opacity=".8"/><path d="M51.5 60.3h0m8.2 6.9h0m-5.5 3h0" stroke="#e03040" stroke-width="2.5" stroke-linecap="round" stroke-opacity=".6"/><path d="M65 28.5h0m-11.2 23h0m-10 12.6h0" stroke="#e03040" stroke-width="2" stroke-linecap="round" stroke-opacity=".6"/><path d="M41.9 18.7h0m30.9 27h0m-34.8-1.8h0m-10.6 7.5h0m9.7 1.3h0m-26.8 1.8h0m11.2 6h0m47.7 13.5h0" stroke="#e03040" stroke-width="2" stroke-linecap="round" stroke-opacity=".8"/><path d="M55 11.9h0m8.1 22.2h0m-21.4 12h0m-21.5 .2h0" stroke="#e03040" stroke-width="2.5" stroke-linecap="round" stroke-opacity=".8"/><path d="M60.2 52.6h0m-24.7 3.9h0m-8.5 9.4h0" stroke="#e03040" stroke-width="1.5" stroke-linecap="round"/><path d="M29.4 13.8h0" stroke="#e03040" stroke-width="2.5" stroke-linecap="round"/></g><path d="M51.5 77.3h26" stroke="#fff" stroke-width="2.1"/><rect x=".25" y=".25" width="80" height="79.5" fill="none" stroke="#4a4a4a" stroke-width=".5"/></svg>
<svg x="348" y="427.6" width="80.5" height="80"><rect width="100%" height="100%" filter="url(#q3b)"/><path d="M51.5 77.3h26" stroke="#fff" stroke-width="2.1"/><rect x=".25" y=".25" width="80" height="79.5" fill="none" stroke="#4a4a4a" stroke-width=".5"/></svg>
<svg x="431" y="427.6" width="80.5" height="80"><rect width="100%" height="100%" filter="url(#q3g)"/><path d="M51.5 77.3h26" stroke="#fff" stroke-width="2.1"/><rect x=".25" y=".25" width="80" height="79.5" fill="none" stroke="#4a4a4a" stroke-width=".5"/></svg>
<svg x="515" y="427.6" width="80.5" height="80"><rect width="100%" height="100%" filter="url(#q3r)"/><path d="M51.5 77.3h26" stroke="#fff" stroke-width="2.1"/><rect x=".25" y=".25" width="80" height="79.5" fill="none" stroke="#4a4a4a" stroke-width=".5"/></svg>
<svg x="598" y="427.6" width="80.5" height="80"><rect width="100%" height="100%" filter="url(#q3m)"/><path d="M51.5 77.3h26" stroke="#fff" stroke-width="2.1"/><rect x=".25" y=".25" width="80" height="79.5" fill="none" stroke="#4a4a4a" stroke-width=".5"/></svg>
<svg x="348" y="524.1" width="80.5" height="80"><rect width="100%" height="100%" fill="#000"/><g filter="url(#mb)"><path d="M37.9 -1.2l-.8 .8m21.6 60.2l-.4 .1m-2.7 13l-.5 1.4" stroke="#2c2cff" stroke-width="4" stroke-linecap="round" stroke-opacity=".8"/><path d="M42.2 26.8l-.6 .7m-32.4 6.7l.5 .5m54.4 6.5l-1.5 .6m-24.7 23.6l-1.4 .7m31.9 9.7l-1.2 .1" stroke="#2424f4" stroke-width="3.5" stroke-linecap="round" stroke-opacity=".8"/><path d="M48.9 -.8l0 1m-30 20.7l.6 .1m24.5 13.7l0 .4m-14.1 35l.4 1.4" stroke="#1414ec" stroke-width="4" stroke-linecap="round" stroke-opacity=".6"/><path d="M36.4 12.1l-.3 .3m-3.3 13.9l0 1.1" stroke="#1a1aff" stroke-width="3" stroke-linecap="round" stroke-opacity=".6"/><path d="M59.4 6.2l.4 .9m-48.8 18.8l-.1 1.6m42 9.2l0 1.4m3 12.5l.5 .2m-26.3 12.1l-.3 .4" stroke="#1414ec" stroke-width="4" stroke-linecap="round" stroke-opacity=".8"/><path d="M73.6 13.5l1.2 1.1m-62.3 28l-.5 .3m16.6 10.2l.4 .3" stroke="#2424f4" stroke-width="4" stroke-linecap="round" stroke-opacity=".6"/><path d="M55.3 15l.3 1.1m23.5 15.9l-.4 1.3m-74.8 7.9l1 1.2m41.2 15.2l-.3 1.2m-23.2-1.1l-.9 1" stroke="#2424f4" stroke-width="3.5" stroke-linecap="round" stroke-opacity=".6"/><path d="M61.1 21.2l.4 .6" stroke="#2424f4" stroke-width="3.5" stroke-linecap="round"/><path d="M70.4 -.5l-.8 .3m.3 18.9l-.6 1.5m-54.7 58.5l1 .2" stroke="#2c2cff" stroke-width="3.5" stroke-linecap="round" stroke-opacity=".6"/><path d="M.3 28l-1.2 .8m5.7 52l-1.1 .4" stroke="#1a1aff" stroke-width="3" stroke-linecap="round" stroke-opacity=".8"/><path d="M18.2 35.9l0 .6" stroke="#2c2cff" stroke-width="3" stroke-linecap="round" stroke-opacity=".6"/><path d="M2.3 6.9l1.1 .3m22.3 26.3l-.6 .1m15.8 17.4l.5 1.3" stroke="#1a1aff" stroke-width="3.5" stroke-linecap="round" stroke-opacity=".6"/><path d="M20.3 10.3l-.8 1.4" stroke="#1414ec" stroke-width="3.5" stroke-linecap="round" stroke-opacity=".8"/><path d="M.5 22.3l.5 .3m-2.5 38.8l.4 .3" stroke="#1414ec" stroke-width="3" stroke-linecap="round" stroke-opacity=".8"/><path d="M22.8 79.2l.2 .4" stroke="#1414ec" stroke-width="3.5" stroke-linecap="round"/><path d="M7.7 -.9l1 1.2" stroke="#2c2cff" stroke-width="3" stroke-linecap="round"/><path d="M63.7 28.4l0 .4m-23.9 42.8l.4 .3" stroke="#1414ec" stroke-width="3.5" stroke-linecap="round" stroke-opacity=".6"/><path d="M47.3 66l-.4 1.1" stroke="#2424f4" stroke-width="3" stroke-linecap="round" stroke-opacity=".8"/><path d="M21.3 3.2l1 .4m10.7 16.2l-.3 .7m9 25.1l.4 .2" stroke="#1414ec" stroke-width="3" stroke-linecap="round"/><path d="M76.6 38.7l-.1 .5m-41.6 35.9l.5 .8" stroke="#2424f4" stroke-width="4" stroke-linecap="round" stroke-opacity=".8"/><path d="M43.3 7.6l1.3 .2m-18.9 7.2l.2 .6m-17.8 4.1l.3 1m72.3 31.7l.8 .7" stroke="#1a1aff" stroke-width="4" stroke-linecap="round" stroke-opacity=".6"/><path d="M77.1 46.1l.4 .5m-64 5.9l-.5 .9m-12.4 2.1l.2 .4" stroke="#2c2cff" stroke-width="3.5" stroke-linecap="round" stroke-opacity=".8"/><path d="M76.4 66l.3 .6" stroke="#2424f4" stroke-width="3" stroke-linecap="round" stroke-opacity=".6"/><path d="M77.7 6.1l-.3 1m-26.1 70l-1 .9" stroke="#2424f4" stroke-width="4" stroke-linecap="round"/><path d="M73.3 79.7l.9 .3" stroke="#1a1aff" stroke-width="4" stroke-linecap="round"/><path d="M70.8 62.7l-.4 1.1" stroke="#1414ec" stroke-width="4" stroke-linecap="round"/><path d="M68.5 10.6l-.7 .7m-18.4 35.4l-1 .1" stroke="#1a1aff" stroke-width="3.5" stroke-linecap="round" stroke-opacity=".8"/><path d="M32 38.2l-.8 .7m32.8 14.3l-.3 .3" stroke="#1a1aff" stroke-width="4" stroke-linecap="round" stroke-opacity=".8"/><path d="M25.5 43.6l.3 .3" stroke="#2c2cff" stroke-width="3" stroke-linecap="round" stroke-opacity=".8"/><path d="M-1.4 -1.8l.9 .6" stroke="#1414ec" stroke-width="3" stroke-linecap="round" stroke-opacity=".6"/><path d="M35.8 54.6l-.8 .5m30.1 15.2l.6 .1" stroke="#2c2cff" stroke-width="3.5" stroke-linecap="round"/></g><path d="M51.5 77.3h26" stroke="#fff" stroke-width="2.1"/><rect x=".25" y=".25" width="80" height="79.5" fill="none" stroke="#4a4a4a" stroke-width=".5"/></svg>
<svg x="431" y="524.1" width="80.5" height="80"><rect width="100%" height="100%" fill="#000"/><rect width="100%" height="100%" filter="url(#t4g)"/><g filter="url(#mb)"><path d="M68.8 8.4a2.4 2.4 0 1 1 .1 0zm-11.4 0a2.8 2.8 0 1 1 .1 0zm2.3 20.9a3 3 0 1 1 .1 0zm14.8-1.8a2.8 2.8 0 1 1 .1 0zm-6.7 10.9a3 3 0 1 1 .1 0zm1.3 1.7a3 3 0 1 1 .1 0zm-44 6a3.2 3.2 0 1 1 .1 0zm14.5 9.3a2.6 2.6 0 1 1 .1 0zm-32.5 19.8a3 3 0 1 1 .1 0zm25.8-2.6a3 3 0 1 1 .1 0zm11-.4a2.8 2.8 0 1 1 .1 0z" fill="#1e7a1e" fill-opacity=".8"/><path d="M57.4 8.4a2.8 2.8 0 1 1 .1 0m17 19.1a2.8 2.8 0 1 1 .1 0m-6.8 10.9a3 3 0 1 1 .1 0m-42.8 7.7a3.2 3.2 0 1 1 .1 0m-18.1 29.1a3 3 0 1 1 .1 0m25.7-2.6a3 3 0 1 1 .1 0m10.9-.4a2.8 2.8 0 1 1 .1 0" fill="none" stroke="#62ff62" stroke-width="1.25" stroke-opacity=".8"/><path d="M68.8 8.4a2.4 2.4 0 1 1 .1 0m-9.2 20.9a3 3 0 1 1 .1 0m9.3 10.8a3 3 0 1 1 .1 0m-29.6 15.3a2.6 2.6 0 1 1 .1 0" fill="none" stroke="#62ff62" stroke-width="1.25"/></g><path d="M51.5 77.3h26" stroke="#fff" stroke-width="2.1"/><rect x=".25" y=".25" width="80" height="79.5" fill="none" stroke="#4a4a4a" stroke-width=".5"/></svg>
<svg x="515" y="524.1" width="80.5" height="80"><rect width="100%" height="100%" fill="#060000"/><rect width="100%" height="100%" filter="url(#t4r)"/><g filter="url(#mb)"><path d="M57.4 8.2a2.6 2.6 0 1 1 .1 0m17 19.1a2.6 2.6 0 1 1 .1 0" fill="none" stroke="#c01818" stroke-width="1" stroke-opacity=".6"/><path d="M69.1 39.7a2.6 2.6 0 1 1 .1 0m-29.6 15.5a2.4 2.4 0 1 1 .1 0" fill="none" stroke="#c01818" stroke-width="1" stroke-opacity=".8"/><path d="M7.1 75a2.8 2.8 0 1 1 .1 0" fill="none" stroke="#c01818" stroke-width="1"/><path d="M44.1 14.9a2.2 2.2 0 1 1 .1 0m-34.3 14.8a2.4 2.4 0 1 1 .1 0m57.8 12.2a2.4 2.4 0 1 1 .1 0" fill="none" stroke="#a01414" stroke-width="1" stroke-opacity=".8"/><path d="M29.1 8.6a2.6 2.6 0 1 1 .1 0m23.1 18.1a2.2 2.2 0 1 1 .1 0m-30.1 22.9a2.4 2.4 0 1 1 .1 0" fill="none" stroke="#a01414" stroke-width="1" stroke-opacity=".6"/><path d="M43.2 7.7a1.8 1.8 0 1 1 .1 0m-28.9 42.2a2.6 2.6 0 1 1 .1 0" fill="none" stroke="#a01414" stroke-width="1" stroke-opacity=".4"/></g><path d="M51.5 77.3h26" stroke="#fff" stroke-width="2.1"/><rect x=".25" y=".25" width="80" height="79.5" fill="none" stroke="#4a4a4a" stroke-width=".5"/></svg>
<svg x="598" y="524.1" width="80.5" height="80"><rect width="100%" height="100%" fill="#000"/><rect width="100%" height="100%" filter="url(#t4m)"/><g filter="url(#mb)"><path d="M37.9 -1.2l-.8 .8" stroke="#2a6aff" stroke-width="4" stroke-linecap="round" stroke-opacity=".8"/><path d="M42.2 26.8l-.6 .7m22.5 13.7l-1.5 .6m-13.2 4.9l-1 .1m20 29l-1.2 .1" stroke="#2a50ff" stroke-width="3.5" stroke-linecap="round" stroke-opacity=".8"/><path d="M48.9 -.8l0 1m-23.2 14.8l.2 .6" stroke="#2a50ff" stroke-width="4" stroke-linecap="round" stroke-opacity=".6"/><path d="M-1.4 -1.8l.9 .6m36.9 13.3l-.3 .3m-3.3 13.9l0 1.1m-14.6 8.5l0 .6m58.2 29.5l.3 .6" stroke="#2a6aff" stroke-width="3" stroke-linecap="round" stroke-opacity=".6"/><path d="M59.4 6.2l.4 .9m-48.8 18.8l-.1 1.6m21.1 10.7l-.8 .7m21.7-2.2l0 1.4m23.7 .6l-.1 .5m-20.6 11.4l.5 .2m7.6 2.4l-.3 .3m-5 6.3l-.4 .1m-28.2 3l-.3 .4m25.8 9.6l-.5 1.4" stroke="#1e40f0" stroke-width="4" stroke-linecap="round" stroke-opacity=".8"/><path d="M43.3 7.6l1.3 .2m-36.5 11.9l.3 1m35.6 14l0 .4m-31.5 7.5l-.5 .3" stroke="#2a6aff" stroke-width="4" stroke-linecap="round" stroke-opacity=".6"/><path d="M73.6 13.5l1.2 1.1m-55.9 6.3l.6 .1m9.1 32.1l.4 .3m51.7-1l.8 .7m-51.6 17l.4 1.4" stroke="#1e40f0" stroke-width="4" stroke-linecap="round" stroke-opacity=".6"/><path d="M55.3 15l.3 1.1m8.1 12.3l0 .4m15.4 3.2l-.4 1.3m-38.9 38.3l.4 .3" stroke="#1e40f0" stroke-width="3.5" stroke-linecap="round" stroke-opacity=".6"/><path d="M61.1 21.2l.4 .6m3.6 48.5l.6 .1m-42.9 8.8l.2 .4" stroke="#2a50ff" stroke-width="3.5" stroke-linecap="round"/><path d="M68.5 10.6l-.7 .7m-47.5-1l-.8 1.4m-6 40.8l-.5 .9m-12.4 2.1l.2 .4m37.1 9.5l-1.4 .7" stroke="#2a6aff" stroke-width="3.5" stroke-linecap="round" stroke-opacity=".8"/><path d="M70.4 -.5l-.8 .3m-67.3 7.1l1.1 .3m.5 34l1 1.2m41.2 15.2l-.3 1.2" stroke="#2a50ff" stroke-width="3.5" stroke-linecap="round" stroke-opacity=".6"/><path d="M.3 28l-1.2 .8" stroke="#2a6aff" stroke-width="3" stroke-linecap="round" stroke-opacity=".8"/><path d="M69.9 18.7l-.6 1.5m-43.6 13.3l-.6 .1m15.8 17.4l.5 1.3m-18.8 5.4l-.9 1m-7.1 20l1 .2" stroke="#2a6aff" stroke-width="3.5" stroke-linecap="round" stroke-opacity=".6"/><path d="M.5 22.3l.5 .3m24.5 21l.3 .3m-27.3 17.5l.4 .3m48.4 4.3l-.4 1.1m-42.1 13.7l-1.1 .4" stroke="#2a50ff" stroke-width="3" stroke-linecap="round" stroke-opacity=".8"/><path d="M7.7 -.9l1 1.2m12.6 2.9l1 .4m19.4 42l.4 .2" stroke="#2a6aff" stroke-width="3" stroke-linecap="round"/><path d="M34.9 75.1l.5 .8" stroke="#2a50ff" stroke-width="4" stroke-linecap="round" stroke-opacity=".8"/><path d="M77.7 6.1l-.3 1m-4.1 72.6l.9 .3" stroke="#2a6aff" stroke-width="4" stroke-linecap="round"/><path d="M70.8 62.7l-.4 1.1" stroke="#1e40f0" stroke-width="4" stroke-linecap="round"/><path d="M51.3 77.1l-1 .9" stroke="#2a50ff" stroke-width="4" stroke-linecap="round"/><path d="M9.2 34.2l.5 .5m67.4 11.4l.4 .5" stroke="#1e40f0" stroke-width="3.5" stroke-linecap="round" stroke-opacity=".8"/><path d="M33 19.8l-.3 .7" stroke="#1e40f0" stroke-width="3" stroke-linecap="round"/><path d="M35.8 54.6l-.8 .5" stroke="#2a6aff" stroke-width="3.5" stroke-linecap="round"/></g><g filter="url(#mb)"><path d="M68.8 8.4a2.4 2.4 0 1 1 .1 0zm-11.4 0a2.8 2.8 0 1 1 .1 0zm2.3 20.9a3 3 0 1 1 .1 0zm14.8-1.8a2.8 2.8 0 1 1 .1 0zm-6.7 10.9a3 3 0 1 1 .1 0zm1.3 1.7a3 3 0 1 1 .1 0zm-44 6a3.2 3.2 0 1 1 .1 0zm14.5 9.3a2.6 2.6 0 1 1 .1 0zm-32.5 19.8a3 3 0 1 1 .1 0zm25.8-2.6a3 3 0 1 1 .1 0zm11-.4a2.8 2.8 0 1 1 .1 0z" fill="#3a7a1a" fill-opacity=".8"/><path d="M68.8 8.4a2.4 2.4 0 1 1 .1 0m-11.5 0a2.8 2.8 0 1 1 .1 0m17 19.1a2.8 2.8 0 1 1 .1 0m-5.5 12.6a3 3 0 1 1 .1 0m-44.1 6a3.2 3.2 0 1 1 .1 0m14.4 9.3a2.6 2.6 0 1 1 .1 0m-32.6 19.8a3 3 0 1 1 .1 0" fill="none" stroke="#c8ff68" stroke-width="1.25"/><path d="M59.7 29.3a3 3 0 1 1 .1 0m8 9.1a3 3 0 1 1 .1 0m-35 34.2a3 3 0 1 1 .1 0m10.9-.4a2.8 2.8 0 1 1 .1 0" fill="none" stroke="#c8ff68" stroke-width="1.25" stroke-opacity=".8"/></g><g filter="url(#mb)"><path d="M59.1 63.4h0m4.8-3.3h0" stroke="#d02080" stroke-width="2" stroke-linecap="round" stroke-opacity=".8"/><path d="M31.3 70h0" stroke="#d02080" stroke-width="2.5" stroke-linecap="round" stroke-opacity=".8"/></g><path d="M51.5 77.3h26" stroke="#fff" stroke-width="2.1"/><rect x=".25" y=".25" width="80" height="79.5" fill="none" stroke="#4a4a4a" stroke-width=".5"/></svg>
<text x="390.2" y="17.3" text-anchor="middle" class="ml" style="fill:#2b2bf0">DAPI</text>
<text x="473.2" y="17.3" text-anchor="middle" class="ml" style="fill:#2fb32f">CD45RO</text>
<text x="556.2" y="17.3" text-anchor="middle" class="ml" style="fill:#ee2020">CD27</text>
<text x="639.2" y="17.3" text-anchor="middle" class="ml" style="fill:#111">Merge</text>
<text x="388.2" y="227.5" text-anchor="middle" class="ml" style="fill:#2b2bf0">DAPI</text>
<text x="471.2" y="227.5" text-anchor="middle" class="ml" style="fill:#2fb32f">CD4</text>
<text x="555.2" y="227.5" text-anchor="middle" class="ml" style="fill:#ee2020">Granzyme A</text>
<text x="638.2" y="227.5" text-anchor="middle" class="ml" style="fill:#111">Merge</text>
<text x="388.2" y="325.6" text-anchor="middle" class="ml" style="fill:#2b2bf0">DAPI</text>
<text x="471.2" y="325.6" text-anchor="middle" class="ml" style="fill:#2fb32f">CD4</text>
<text x="555.2" y="325.6" text-anchor="middle" class="ml" style="fill:#ee2020">Granzyme&#160;&#160;B</text>
<text x="638.2" y="325.6" text-anchor="middle" class="ml" style="fill:#111">Merge</text>
<text x="388.2" y="422.6" text-anchor="middle" class="ml" style="fill:#2b2bf0">DAPI</text>
<text x="471.2" y="422.6" text-anchor="middle" class="ml" style="fill:#2fb32f">CD4</text>
<text x="555.2" y="422.6" text-anchor="middle" class="ml" style="fill:#ee2020">Perforin</text>
<text x="638.2" y="422.6" text-anchor="middle" class="ml" style="fill:#111">Merge</text>
<text x="388.2" y="519.3" text-anchor="middle" class="ml" style="fill:#2b2bf0">DAPI</text>
<text x="471.2" y="519.3" text-anchor="middle" class="ml" style="fill:#2fb32f">CD4</text>
<text x="555.2" y="519.3" text-anchor="middle" class="ml" style="fill:#ee2020">Granulysin</text>
<text x="638.2" y="519.3" text-anchor="middle" class="ml" style="fill:#111">Merge</text>
<text x="342.5" y="59.2" text-anchor="end" class="rl">T<tspan font-size="4.2" dy="1.8">CyEM</tspan><tspan dy="-1.8"> group</tspan></text>
<text x="342.5" y="70.1" text-anchor="end" class="rl">(MF22)</text>
<text x="342.5" y="142.2" text-anchor="end" class="rl">T<tspan font-size="4.2" dy="1.8">CM</tspan><tspan dy="-1.8"> group</tspan></text>
<text x="342.5" y="153.6" text-anchor="end" class="rl">(MF28-2)</text>
<text x="343.2" y="268.9" text-anchor="end" class="rl2">T<tspan font-size="4.7" dy="1.8">CyEM</tspan><tspan dy="-1.8"> group</tspan></text>
<text x="343.2" y="280.6" text-anchor="end" class="rl2">(MF17)</text>
<text x="343.2" y="367.4" text-anchor="end" class="rl2">T<tspan font-size="4.7" dy="1.8">CyEM</tspan><tspan dy="-1.8"> group</tspan></text>
<text x="343.2" y="378.9" text-anchor="end" class="rl2">(MF15)</text>
<text x="343.2" y="464.1" text-anchor="end" class="rl2">T<tspan font-size="4.7" dy="1.8">CyEM</tspan><tspan dy="-1.8"> group</tspan></text>
<text x="343.2" y="476.4" text-anchor="end" class="rl2">(MF17)</text>
<text x="343.2" y="561.1" text-anchor="end" class="rl2">T<tspan font-size="4.7" dy="1.8">CyEM</tspan><tspan dy="-1.8"> group</tspan></text>
<text x="343.2" y="572.5" text-anchor="end" class="rl2">(MF22)</text>
<text x="310.5" y="14.3" class="pl">b</text>
<text x="309" y="234.6" class="pl">c</text>
<text x="15.5" y="528" class="pl">d</text>
<text x="90.5" y="526.3" class="gt" text-anchor="middle">T<tspan font-size="6.2" dy="2">CyEM</tspan><tspan dy="-2"> group</tspan></text>
<text x="91.5" y="669.5" class="gt" text-anchor="middle">T<tspan font-size="6.2" dy="2">CM</tspan><tspan dy="-2"> group</tspan></text>
<ellipse cx="112" cy="606.4" rx="50" ry="28.6" transform="rotate(-45 112 606.4)" fill="#377EB8" fill-opacity=".6" stroke="#377EB8" stroke-opacity=".7" stroke-width=".6"/>
<ellipse cx="69" cy="605.6" rx="50" ry="28.6" transform="rotate(45 69 605.6)" fill="#E41A1C" fill-opacity=".6" stroke="#E41A1C" stroke-opacity=".7" stroke-width=".6"/>
<ellipse cx="89.3" cy="592.1" rx="48.2" ry="21.4" transform="rotate(-45 89.3 592.1)" fill="#984EA3" fill-opacity=".6" stroke="#984EA3" stroke-opacity=".7" stroke-width=".6"/>
<ellipse cx="90.5" cy="591.3" rx="50" ry="21.4" transform="rotate(45 90.5 591.3)" fill="#4DAF4A" fill-opacity=".6" stroke="#4DAF4A" stroke-opacity=".7" stroke-width=".6"/>
<text x="39.8" y="562.7" text-anchor="middle" class="vl">MF15</text>
<text x="66" y="550.7" text-anchor="middle" class="vl">MF22</text>
<text x="114.4" y="550.7" text-anchor="middle" class="vl">pcALCL2</text>
<text x="138.5" y="562.3" text-anchor="middle" class="vl">MF17</text>
<text x="42.1" y="595" text-anchor="middle" class="vn">6</text>
<text x="69" y="568.4" text-anchor="middle" class="vn">350</text>
<text x="111.4" y="568.4" text-anchor="middle" class="vn">573</text>
<text x="135.5" y="595" text-anchor="middle" class="vn">230</text>
<text x="60.9" y="581.7" text-anchor="middle" class="vn">3</text>
<text x="90.5" y="579.7" text-anchor="middle" class="vn">267</text>
<text x="115.6" y="581.7" text-anchor="middle" class="vn">58</text>
<text x="73.1" y="595" text-anchor="middle" class="vn">4</text>
<text x="102.8" y="595" text-anchor="middle" class="vn">77</text>
<text x="61.9" y="617.5" text-anchor="middle" class="vn">1</text>
<text x="76.8" y="622.6" text-anchor="middle" class="vn">0</text>
<text x="101.7" y="617.5" text-anchor="middle" class="vn">6</text>
<text x="114.4" y="617.5" text-anchor="middle" class="vn">89</text>
<text x="89.1" y="636.9" text-anchor="middle" class="vn">17</text>
<text x="90" y="604.3" text-anchor="middle" class="vb">13</text>
<ellipse cx="112" cy="738.9" rx="50" ry="28.6" transform="rotate(-45 112 738.9)" fill="#377EB8" fill-opacity=".6" stroke="#377EB8" stroke-opacity=".7" stroke-width=".6"/>
<ellipse cx="69" cy="738.1" rx="50" ry="28.6" transform="rotate(45 69 738.1)" fill="#E41A1C" fill-opacity=".6" stroke="#E41A1C" stroke-opacity=".7" stroke-width=".6"/>
<ellipse cx="89.3" cy="724.6" rx="48.2" ry="21.4" transform="rotate(-45 89.3 724.6)" fill="#984EA3" fill-opacity=".6" stroke="#984EA3" stroke-opacity=".7" stroke-width=".6"/>
<ellipse cx="90.5" cy="723.8" rx="50" ry="21.4" transform="rotate(45 90.5 723.8)" fill="#4DAF4A" fill-opacity=".6" stroke="#4DAF4A" stroke-opacity=".7" stroke-width=".6"/>
<text x="38.4" y="694.6" text-anchor="middle" class="vl">MF21</text>
<text x="62.3" y="682.7" text-anchor="middle" class="vl">MF30</text>
<text x="117.7" y="682.7" text-anchor="middle" class="vl">MF4</text>
<text x="143.2" y="694.6" text-anchor="middle" class="vl">MF28</text>
<text x="68" y="700.1" text-anchor="middle" class="vn">87</text>
<text x="111" y="700.1" text-anchor="middle" class="vn">637</text>
<text x="61.9" y="714" text-anchor="middle" class="vn">35</text>
<text x="89.1" y="710.3" text-anchor="middle" class="vn">22</text>
<text x="115.6" y="714" text-anchor="middle" class="vn">45</text>
<text x="45.5" y="727.3" text-anchor="middle" class="vn">248</text>
<text x="72.7" y="727.3" text-anchor="middle" class="vn">6</text>
<text x="103.4" y="727.3" text-anchor="middle" class="vn">12</text>
<text x="135.5" y="727.3" text-anchor="middle" class="vn">141</text>
<text x="63.3" y="749.8" text-anchor="middle" class="vn">34</text>
<text x="78.2" y="752.2" text-anchor="middle" class="vn">38</text>
<text x="99.7" y="752.2" text-anchor="middle" class="vn">29</text>
<text x="114" y="749.8" text-anchor="middle" class="vn">32</text>
<text x="88.5" y="768.8" text-anchor="middle" class="vn">38</text>
<text x="90.2" y="736.8" text-anchor="middle" class="vb">27</text>
<path d="M98 600.1H163M98 732.6H163" stroke="#222" stroke-width=".7"/>
<path d="M166.2 600.1l-4 -2v4zM166.2 732.6l-4 -2v4z" fill="#222"/>
<rect x="168.8" y="575.6" width="122.3" height="49" fill="#fff" stroke="#666" stroke-width=".8"/>
<rect x="168.8" y="684.9" width="122.3" height="94.6" fill="#fff" stroke="#666" stroke-width=".8"/>
<text x="171.2" y="585" class="bx">CTSH GZMA S100A11</text>
<text x="171.2" y="596.6" class="bx">ALOX5AP NKG7 KDSR CLU</text>
<text x="171.2" y="608.3" class="bx">GZMH CCL4 BHLHE40</text>
<text x="171.2" y="620" class="bx">ANKRD28 HOPX TESC</text>
<text x="171.2" y="694" class="bx">GGA1 <tspan class="rd">CD40LG</tspan> SMS ITM2A</text>
<text x="171.2" y="705.7" class="bx">EEPD1 H2AFV <tspan class="rd">TOX</tspan> RCSD1</text>
<text x="171.2" y="717.4" class="bx"><tspan class="rd">HSPD1</tspan> TCEB2 DYNLL1 MLF1</text>
<text x="171.2" y="729" class="bx">HSP90AB1 PRDX1 <tspan class="rd">GAPDH</tspan></text>
<text x="171.2" y="740.7" class="bx">PON2 <tspan class="rd">PTTG1</tspan> ROMO1</text>
<text x="171.2" y="752.4" class="bx">SLC25A5 <tspan class="rd">KIR3DL2</tspan> COX6C</text>
<text x="171.2" y="764.1" class="bx">ATP5J2 SHFM1<tspan class="rd">GTSF1 PPIA</tspan></text>
<text x="171.2" y="775.8" class="bx">PAGE5 VDAC1</text>
<text x="340.2" y="640.2" class="pl">e</text>
<rect x="391.7" y="635.3" width="141.4" height="125.8" fill="#fff" stroke="#a8a8a8" stroke-width=".75"/>
<rect x="535.5" y="635.3" width="141.2" height="125.8" fill="#fff" stroke="#a8a8a8" stroke-width=".75"/>
<path d="M403.2 748.9C403.8 747.2 405.4 744.5 407.3 741.8C409.2 739.1 412.8 735.5 414.4 732.6C416 729.7 415.9 726.6 417.1 724.4C418.3 722.2 419.2 720.5 421.6 719.3C424.1 718 428.4 717.1 431.8 716.9C435.2 716.7 439.4 717.4 442 718.3C444.6 719.2 445.9 720.9 447.1 722.4C448.3 723.9 448 725.8 449.2 727.5C450.4 729.2 451.8 731.1 454.3 732.6C456.9 734.1 460.8 735.7 464.5 736.7C468.2 737.7 472.6 738.6 476.7 738.7C480.8 738.8 485.9 738 489 737.3C492.1 736.6 494.6 735.7 495.5 734.6C496.4 733.5 494.2 731.8 494.6 730.5C495 729.2 495.9 727.8 498 727.1C500.1 726.4 504.3 725.9 507.4 726.1C510.5 726.3 515.2 727.6 516.6 728.5C518 729.4 517.8 730.3 515.6 731.6C513.4 732.9 504 734.7 503.5 736.2C503 737.7 508.9 739.3 512.5 740.8C516 742.2 522.8 743.7 524.8 744.9C526.8 746.1 527.1 747.2 524.5 747.9C521.9 748.6 515.6 748.9 509.4 749.2C503.1 749.5 494.1 749.5 487 749.8C479.9 750.1 473.3 750.7 466.5 751C459.7 751.3 452.9 751.3 446.1 751.8C439.3 752.3 431.8 753.6 425.7 754C419.6 754.4 413 754.3 409.3 754C405.6 753.7 404.6 752.9 403.6 752C402.6 751.1 402.6 750.6 403.2 748.9Z" fill="#FFFF00"/>
<path d="M413.4 743.8C414.1 742.3 415.1 739.2 417.5 737.7C419.9 736.2 423.9 734.6 427.7 734.6C431.4 734.6 436.1 736.3 440 737.7C443.9 739.1 450.2 741.4 451.2 742.8C452.2 744.2 449.3 744.9 446.1 745.9C442.9 746.9 436.6 748.3 431.8 748.9C427 749.5 420.6 749.9 417.5 749.6C414.4 749.3 414.1 747.9 413.4 746.9C412.7 745.9 412.7 745.3 413.4 743.8Z" fill="#FFD800"/>
<ellipse cx="429.7" cy="743.4" rx="3.8" ry="1.2" fill="#FFBE00"/>
<path d="M548.3 641.1C549.6 641.8 551.8 645.8 553.3 648.3C554.8 650.8 555.8 653.2 557.1 656C558.4 658.8 560.1 661.9 561 664.9C561.9 667.9 562.2 671.5 562.7 673.8C563.2 676.1 563.4 677.2 564.3 678.5C565.2 679.8 567.2 680.1 568.2 681.5C569.2 682.9 569.8 684 570.2 687C570.6 690 570.4 695.3 570.7 699.2C571 703.1 571.6 706.4 572.1 710.3C572.6 714.2 572.8 719.6 573.8 722.5C574.8 725.4 576.6 726.6 578.2 727.6C579.9 728.6 582.4 728 583.7 728.6C585 729.2 585.9 730.1 585.9 731.3C585.9 732.5 585 734.5 583.7 735.8C582.4 737.1 580.2 737.6 578.2 739.1C576.2 740.6 574.1 743.1 571.5 744.6C568.9 746.1 565.8 747 562.7 748C559.6 749 555 750.7 552.7 750.7C550.4 750.7 549.7 750.1 548.8 748C547.9 745.9 548.1 742.1 547.2 738C546.3 733.9 544.1 729.7 543.3 723.6C542.5 717.5 542.4 709.7 542.2 701.4C542 693.1 542 682.1 542.2 673.8C542.4 665.5 542.8 656.6 543.3 651.6C543.8 646.6 544.7 645.6 545.5 643.9C546.3 642.1 547 640.4 548.3 641.1Z" fill="#FFFF00"/>
<path d="M548.8 692.6C549.5 689.7 551.1 689.5 552.7 689.8C554.3 690.1 556.3 694.5 558.3 694.2C560.3 693.9 563.3 688.7 564.9 688.2C566.5 687.8 567.4 688.9 567.7 691.5C568 694.1 567 700.2 566.6 703.7C566.2 707.2 565 709.9 565.5 712.5C566 715.1 568.1 716.8 569.3 719.2C570.5 721.6 572.2 724 572.7 726.9C573.2 729.8 573 734.2 572.1 736.9C571.2 739.6 569.6 741.5 567.1 743C564.6 744.5 559.5 745.7 557.1 745.7C554.7 745.7 553.5 744.8 552.7 743C551.9 741.2 552.8 738.3 552.2 734.7C551.7 731.1 550 726 549.4 721.4C548.8 716.8 548.4 711.8 548.3 707C548.2 702.2 548.1 695.5 548.8 692.6Z" fill="#FFD800"/>
<ellipse cx="559.6" cy="707.5" rx="1.8" ry="5" transform="rotate(15 559.6 707.5)" fill="#FFBE00"/>
<ellipse cx="563.9" cy="732.3" rx="8.3" ry="11.8" transform="rotate(18 563.9 732.3)" fill="#FFBE00"/>
<ellipse cx="563.9" cy="732.3" rx="6.2" ry="9" transform="rotate(18 563.9 732.3)" fill="#FF9E00"/>
<ellipse cx="563.9" cy="732.3" rx="4.3" ry="6.4" transform="rotate(18 563.9 732.3)" fill="#FF7000"/>
<ellipse cx="563.9" cy="732.3" rx="2.4" ry="3.6" transform="rotate(18 563.9 732.3)" fill="#FF5000"/>
<ellipse cx="563.9" cy="732.3" rx="1" ry="1.5" transform="rotate(18 563.9 732.3)" fill="#FF3000"/>
<path d="M448.9 635.5V761M592.5 635.5V761M392 715.3H533M535.8 715.3H676.5" stroke="#6a6a6a" stroke-width=".8" stroke-dasharray="4.2 3"/>
<text x="388.9" y="640.4" text-anchor="end" class="tk">0.4</text>
<text x="388.9" y="679" text-anchor="end" class="tk">0.2</text>
<text x="388.9" y="718.3" text-anchor="end" class="tk">0.0</text>
<text x="388.9" y="757.2" text-anchor="end" class="tk">-0.2</text>
<text x="406.6" y="773" text-anchor="middle" class="tk">−0.5</text>
<text x="448.9" y="773" text-anchor="middle" class="tk">0.0</text>
<text x="490.5" y="773" text-anchor="middle" class="tk">0.5</text>
<text x="531.8" y="773" text-anchor="middle" class="tk">1.0</text>
<text x="551" y="773" text-anchor="middle" class="tk">−0.5</text>
<text x="592.5" y="773" text-anchor="middle" class="tk">0.0</text>
<text x="634.1" y="773" text-anchor="middle" class="tk">0.5</text>
<text x="675.6" y="773" text-anchor="middle" class="tk">1.0</text>
<path d="M389.3 637.4H391.7M389.3 676H391.7M389.3 715.3H391.7M389.3 754.2H391.7M406.6 761.1V763.6M448.9 761.1V763.6M490.5 761.1V763.6M531.8 761.1V763.6M551 761.1V763.6M592.5 761.1V763.6M634.1 761.1V763.6M675.6 761.1V763.6" stroke="#777" stroke-width=".7"/>
<text transform="translate(375.8 696.3) rotate(-90)" text-anchor="middle" class="ax">Exhaustion_score</text>
<text x="542.9" y="782" text-anchor="middle" class="ax">Cytotoxicity_score</text>
<text x="477.4" y="649.6" class="rl2">T<tspan font-size="4.7" dy="1.8">CyEM</tspan><tspan dy="-1.8"> group</tspan></text>
<text x="629.5" y="649.6" class="rl2">T<tspan font-size="4.7" dy="1.8">CM</tspan><tspan dy="-1.8"> group</tspan></text>
<defs><linearGradient id="lvg" x1="0" x2="1" y1="0" y2="0"><stop offset="0" stop-color="#FFFF00"/><stop offset=".5" stop-color="#FFB000"/><stop offset="1" stop-color="#FF2000"/></linearGradient></defs>
<rect x="620.7" y="621.4" width="33.5" height="6" fill="url(#lvg)"/>
<text x="619" y="626.3" text-anchor="end" class="tn" style="font-size:5px">level</text>
<text x="630.3" y="619.4" text-anchor="middle" class="tn" style="font-size:5.8px">5</text>
<text x="642.8" y="619.4" text-anchor="middle" class="tn" style="font-size:5.8px">10</text>
<text x="15.9" y="806.5" class="pl">f</text>
<rect x="37.6" y="815.5" width="136.1" height="125.2" fill="#fff" stroke="#666" stroke-width=".9"/>
<path d="M74.5 821.1h0m-4.4-.5h0m-1 .6h0m-2.5-.7h0m-10.9-.7h0m28.1 5h0m1-2.5h0m-8.9 4.9h0m-8.1-1.7h0m-1.2 1.5h0m-7.8 2.1h0m14.2 .6h0m3.4 .2h0m1.8-1.8h0m10.3 5h0m-13.2-.4h0m-2.5-1.2h0m-.4 1.4h0m-.6-.9h0m-6.4-.8h0m-2.6 .2h0m-2.6 4.7h0m1.9-1.3h0m.4 .1h0m3.7 1.1h0m5.8 .2h0m7-.1h0m.4-.4h0m.3 1.7h0m-4.3 0h0m-5.8 2.2h0m-2.8-1h0m-4-.1h0m-5.4 4h0m12.7-.4h0m.9-.3h0m3.2-1.7h0m3.5 1.7h0m4.9 3.5h0m-4.3-1.6h0m-1.7 1.3h0m-3.1-.5h0m-1.3 .5h0m-3.4-.2h0m-6.2 1h0m-.6-1.8h0m-8.1-1h0m8 3.1h0m2.5 2.1h0m3.6-.5h0m3.1-1.1h0m1.7 1.8h0m1.2-1.7h0m3.5 .6h0m3 .9h0m-2.4 3.1h0m-1.5 .3h0m-2.5-.8h0m-.9-1.2h0m-.5 .2h0m-.4 .9h0m-.3-.1h0m-1.3 .5h0m-.8-.6h0m-.5-1.2h0m-1.3 0h0m-3.3 0h0m-7.4 1.4h0m-.3-.1h0m5.7 4h0m.5-.7h0m.3-.7h0m2.1 .3h0m1.5 .3h0m2.2 .3h0m1.9 .6h0m6.2 1.8h0m-1.1 .2h0m-3.3 .6h0m-2.3-.8h0m-1-.9h0m-.9 1.7h0m-1.5-1.7h0m-8.6 1.1h0m-2.8 .9h0m3.7 2.6h0m.9 .6h0m5-2.7h0m2.9 0h0m.8 1.8h0m.9 .2h0m2.2-.4h0m.8 .2h0m1.1 .6h0m10.5-2.2h0m18.1 0h0m12.9 .3h0m-25 4.9h0m-7.5-1.6h0m-11.7 .1h0m-.3-.6h0m-1 2.4h0m-1.9-.7h0m-.2 .6h0m-4.6-1.8h0m0 0h0m-1 1.1h0m-12.1 2.9h0m5.5-.3h0m.8-.5h0m.2 1.1h0m3.1-.9h0m6.5 1.3h0m.8-.2h0m.3-1.5h0m1-.1h0m.3 1.5h0m4.6-.7h0m.2 .4h0m1.9-.9h0m4.5-.6h0m2.8-.1h0m3.6 1.8h0m38.6-1.1h0m-45.7 4.1h0m-4.3-1.8h0m0 .1h0m-2.8 .2h0m-.8-.7h0m-.4 1.5h0m-.6 1.1h0m-.4 .2h0m-.2-.2h0m-2.9-2.6h0m-1 1.5h0m-1.8-1h0m-.5 .6h0m-4.3-1.1h0m0 .4h0m-.9-.1h0m-.5 2.5h0m-1.9 .9h0m1.8-.6h0m.1 2.3h0m1.6-1.4h0m1.7-.8h0m.1 1.5h0m.3 .1h0m.3-1.6h0m2 .2h0m1.2 .3h0m.1 1.4h0m.8-.3h0m0 1.1h0m.3-.9h0m1.6 .3h0m1-.7h0m3.6 .6h0m.9-1h0m.2-.6h0m.4 .6h0m3 .7h0m.4-.3h0m.6 0h0m1.5 .4h0m5.4-.3h0m22.4-.5h0m10.8-.1h0m-44.9 2.7h0m-.9-.6h0m-.2 1.1h0m-1.1-.4h0m-1.1 .8h0m-.7-.4h0m-.7 .8h0m-.2-1.5h0m-1.1 1h0m0 1h0m-.7-.4h0m-.2-.6h0m-1.3 1.1h0m-.5-2.2h0m-.7 1.5h0m-.5 .2h0m-.1-1.3h0m-.1 1.2h0m-.7-.2h0m-.1-.6h0m-7.6-.5h0m-.3 4.7h0m2.3-2.3h0m.2 2.3h0m.3-2.4h0m2.3 .4h0m1 1.9h0m.8 .2h0m2.5-.9h0m1.2-.1h0m.2-.6h0m.7-1h0m.6 .9h0m.3 1.8h0m.3-.2h0m.2-1.8h0m1.5 .6h0m1.3 .1h0m.2 .9h0m.3-1.4h0m.2-.6h0m.5 .1h0m.5 1.2h0m4.4-.4h0m1.7-1.1h0m.4 1.4h0m2.1 1h0m2.2-.5h0m12.6-1.2h0m1.5-.2h0m-9.6 3.2h0m-11.9 0h0m-.9 .9h0m-1.9-.8h0m-.9-.1h0m-1 1.6h0m0-.2h0m0-2.1h0m-.7 2.2h0m-2 .3h0m-.2-.6h0m-.3 .6h0m-.1-2.5h0m-1.4 1.7h0m-.6-.8h0m0-.9h0m-.1 1.6h0m-.7 .7h0m0-.6h0m-.3 .6h0m-1.2-1.8h0m-.7-.1h0m-.2 2.2h0m-4.3-.1h0m-11.8-2h0m8.5 3.1h0m2.8 .6h0m3.9 .4h0m2.6-.6h0m.7 1.5h0m.5-.9h0m1.8 .2h0m.6 .7h0m1.1 .2h0m1.8-2.5h0m2 1.5h0m.1-1.5h0m.7 .8h0m.3 1.3h0m4.4-.4h0m1.5-1.1h0m2.1 1h0m51.4 2.9h0m-17.5 0h0m-20.2-1.6h0m-14.4 2.5h0m-1.2-2.1h0m-.9 0h0m-.4 .9h0m-1 1.4h0m0-1.4h0m-1.4 .3h0m-.2-1.7h0m-.4 1.9h0m-.2 .6h0m-.6-1.9h0m-1.2-.3h0m-1.4 0h0m-.2 2h0m-2-.8h0m-1.1-1.6h0m-.9 1.3h0m-.2 .9h0m-.3-1.9h0m-2.7 0h0m-.6 1.6h0m-1.4 .2h0m-1.6-1.9h0m-1.3 .6h0m-.5 1.4h0m-.1-1h0m-.9 1.2h0m-4.2-1.6h0m-2.7 .2h0m-.9 .2h0m4.1 4.1h0m5.6-1.2h0m.7 1h0m.4-1.3h0m1.5 .9h0m0 .5h0m.3-.5h0m0-.7h0m.5 .6h0m.7-.9h0m0 1.6h0m.8-1.3h0m.4-1h0m.7 .2h0m.2 2.6h0m.4-.5h0m.1-.5h0m1.1-1.5h0m.2-.3h0m.1 1.8h0m.9-1.6h0m.5 1.3h0m.3 .5h0m.4 .5h0m.8-.8h0m.1-1.4h0m.4-.1h0m.3 .3h0m1.4-.4h0m.1 .6h0m.9 1.4h0m1 .6h0m.5-.8h0m1.6 .8h0m1.9-.7h0m9.6-1.2h0m34.6 2.2h0m-2.9 1.4h0m-27.4 0h0m-10.3 1.1h0m-2.4-1.2h0m-2.9-.6h0m-1.3 .6h0m-.3 0h0m-.8 1.1h0m-.6-2h0m-.1 .2h0m-.5 2.2h0m-.3-2.3h0m-.4 1.8h0m-.3-.9h0m-.7-1h0m-.5 1.4h0m-.2-1.2h0m-.1 2.1h0m-.5-1.1h0m-.7 .3h0m-.2-1.7h0m-.2-.2h0m-.1 2.3h0m0 .2h0m-1-.7h0m-.1 .6h0m-.5-.3h0m-.6-1.5h0m-.3 1.2h0m-.7-1.7h0m-.2 1.8h0m-.2-1.6h0m-.6 1.5h0m-.2 1.1h0m-.3-1.9h0m0-.2h0m-.2 .3h0m-.1 1.7h0m-.1-.2h0m-.5-.3h0m0-.1h0m-.1 .5h0m-.2-1.3h0m-.1-1.2h0m-.2 1.9h0m-.3-1.7h0m-2.8 .9h0m0 1h0m0-1.6h0m-.2 .6h0m-.8 1.6h0m-.2-1.2h0m-3.7 .3h0m-3.8 .5h0m1.7 2.4h0m7.8 .4h0m.2 .3h0m1.4-2.3h0m.1 1.7h0m.5 .5h0m.3-2.3h0m1 .7h0m.4 1.5h0m.2-.8h0m.1 .7h0m.5-1.5h0m.1-.3h0m.5 .4h0m.1-.5h0m.4 1.1h0m.3-.1h0m0-.5h0m.5 1.9h0m.1-.7h0m0-.3h0m.1-.1h0m2.3 .6h0m.2-.9h0m1.9 .5h0m.1-1.9h0m0 1.3h0m.2 .3h0m.5-.9h0m.8 1.2h0m.5-1.9h0m0 1h0m1.3 0h0m6.4-.4h0m30.3 1h0m-34.8 3.9h0m-.3-1h0m-.4-1.4h0m-.4 .4h0m-.7-.5h0m0 1.3h0m-.3 .5h0m-.2-.9h0m-1 .7h0m-.2 .7h0m-.2-1.6h0m-.5 1.8h0m0-1h0m-.6 1.4h0m-.3-2.1h0m-.5-.8h0m-1 2.7h0m-.1 0h0m-.1-1.5h0m-.1 1.4h0m-.1-1.5h0m-.6-.9h0m-.1 1.1h0m-.2-1.1h0m-.1 1.4h0m-.1 1h0m0-.3h0m0-.6h0m-1.3-1.6h0m-.2 .3h0m-.6 1.7h0m-.9 0h0m-.2-1.4h0m-.6-.4h0m-.1 .2h0m-.1-.4h0m0-.1h0m-.2 2.4h0m0-1h0m-.1 .7h0m-.2-.1h0m-.2-.8h0m-.3-1h0m-.2 1.5h0m-1.1-1.6h0m-.1 1.3h0m-.9 0h0m-.1 1h0m-.7-1.7h0m-.6 1.9h0m-.4-1.2h0m-5-.3h0m-2 2.4h0m.7-.4h0m.4 .9h0m3.1 1.1h0m.5-1.1h0m0 .2h0m.3 .5h0m1.5 .6h0m.1-.3h0m.8-.4h0m.4 .6h0m.3-.5h0m.1 1h0m1.4-1.3h0m.6 .6h0m.5 .5h0m.7-.9h0m.1 1.3h0m.1-1.4h0m.1-1.4h0m.1 0h0m.3 1.6h0m.1-.4h0m.6-.4h0m.8-.4h0m.3 1.5h0m.2-.1h0m.3 .4h0m.4-1h0m0-1h0m.1 2.3h0m0-1h0m.1-1.2h0m.3 0h0m.4 1.6h0m.2-1.8h0m.1-.1h0m.1 .6h0m.2 1.4h0m.2-1.3h0m.1-.1h0m.1-.4h0m.9 .7h0m.3 .3h0m.1 .4h0m.2 1.1h0m.4-1.9h0m.6-.2h0m.8-.5h0m.1 0h0m0 .9h0m.6 1.7h0m1.1-2.6h0m.1 2.1h0m1.3-1.8h0m.4 .5h0m.2 1.8h0m1.1-.3h0m2.1-1.8h0m1 1.9h0m38.7-.1h0m1.9 1.8h0m-42.7 1.3h0m-1.1-.1h0m-1.5-1.6h0m-.4 .2h0m-.8 1.7h0m-.2-1.1h0m0-.3h0m-.2-.9h0m-.2 1.6h0m-.2-.9h0m-.2-.1h0m-.8 .6h0m-.2 .1h0m-.2 .9h0m-.1-.6h0m-.2-1.9h0m-.4 1.3h0m-1.1-1.5h0m-.2 2h0m-.5-1.6h0m0 .1h0m-.2 1.3h0m-.2-1.2h0m-.2 1.6h0m-.2-1.7h0m-1 .6h0m-.2 1.2h0m-.1-.8h0m0 1.2h0m-.4-2.5h0m-.2 1.6h0m-.3-.4h0m-.3-1.2h0m-.5 2.5h0m-.7-.9h0m0 .8h0m-.1-.9h0m-.4 .7h0m-.6-2.1h0m-.2 .3h0m-.2 2.3h0m0-1.3h0m-.9-1.3h0m-.2 2h0m-.3 .6h0m-.2-.5h0m-.2-.5h0m-1.1 .7h0m0-1.1h0m-.1-.2h0m-.1 .5h0m-.1-.7h0m-.9-.7h0m-.1 .7h0m-2.4-.5h0m-.3 2h0m-6 2.5h0m.3-1.7h0m2.5 1.8h0m3.1-1.1h0m.8 1.2h0m0-.7h0m.6-1.4h0m.8 .7h0m.1 2h0m.1-1.5h0m.9 .6h0m.8-1h0m.1-.6h0m.9 .8h0m0 .1h0m.6 1h0m0-1.4h0m.2 1.8h0m.1-.2h0m.2-2h0m.1 1.8h0m.1-2.1h0m.1 .2h0m.2 1.1h0m.9-.8h0m.4-.4h0m.3 1.6h0m0 .9h0m.2-1.1h0m.3 .1h0m.3 .6h0m.1 .3h0m0-1.2h0m0 .5h0m.1-1.4h0m.1 1.5h0m.3-2.1h0m.2 .2h0m.1 2.4h0m.4-.9h0m.1 .6h0m0-1.1h0m0 1h0m.1-.2h0m.6 .4h0m.2-2.2h0m.2 1h0m0 1.1h0m.1-.7h0m1.4 .7h0m.7-2h0m1.1 .9h0m.5 1.5h0m.4-2.7h0m.3 .1h0m.2 1.4h0m.2-.3h0m.1 1.4h0m1.1-1h0m.3-1.1h0m1.3 .6h0m.5 1.7h0m.2-.2h0m.9-1.4h0m2 .8h0m1.5 .3h0m6.7-.9h0m1.3 1h0m16.6-1.6h0m-5 3.9h0m-19.4-1h0m-.6 .6h0m-2.5 .8h0m-2.7-1.1h0m-.7-.9h0m-.6 .2h0m-.2 2h0m-.4 .5h0m-.8-.2h0m-.8-.1h0m-.1 0h0m-.1-.9h0m-.2-1.1h0m-.3-.2h0m-.2 .5h0m-.1 .1h0m-.5 .6h0m0-1.4h0m-1.3 0h0m0 1.9h0m-.1 .6h0m-.1-1.4h0m0 1.7h0m-.4-1.8h0m-.1-.6h0m-.3 1h0m-.3 .5h0m-.1-.4h0m0 .1h0m-.1-1.7h0m-.1 1.4h0m-.1-.4h0m-.1-.4h0m-.3-.3h0m0 1.4h0m-.1-1.4h0m0 1.1h0m-.4 .2h0m-.2 .4h0m-.1-1h0m-.2 .6h0m-.1-1.3h0m-.7 1h0m-.8-.3h0m-.1 .4h0m-.2-1.1h0m-.3 .8h0m0 0h0m-.1 1.8h0m-.7 0h0m-.4-2h0m-.1-.9h0m-.2 1.4h0m-.1 .4h0m-.2-1.5h0m-.1 2.4h0m-.4-.4h0m-.4-.9h0m-.1-1.2h0m-1.8 .9h0m-.1 1.6h0m-.2-.9h0m-.3 .9h0m-.3-1.5h0m-.3-.9h0m-.5 2.1h0m-.4-1.2h0m-4.8-1.1h0m-1.6 5.7h0m3.5-.2h0m2.6-1.2h0m.7-.1h0m.3 .4h0m1.7-1.7h0m.4 1.5h0m.2 .8h0m.2-.4h0m.1-1.8h0m.2 1.1h0m.7-.5h0m.4-.2h0m.1 1.7h0m0 0h0m.6 .5h0m.2-2.1h0m.2 .5h0m.5 .4h0m0 .7h0m0 .3h0m.3-.7h0m0 .9h0m.1-.2h0m.1-.8h0m.5-.2h0m.1-.9h0m.1 .2h0m.2 1.6h0m.2-1.4h0m.1 1.1h0m.3-1h0m.1-.9h0m.3 2.4h0m0-.5h0m.4 .3h0m0-.9h0m.3 .5h0m.1-1.5h0m.3 .5h0m0-.5h0m.1 .6h0m.2 .7h0m.4 1h0m0-1.2h0m.2 .5h0m.4-1.4h0m0 1.9h0m.1-.4h0m.3-1.8h0m0 1.9h0m.5 0h0m0 .1h0m.5-.5h0m0-1.3h0m0 .4h0m.6 .4h0m0 .3h0m0-1.2h0m.3 1.5h0m.2-.4h0m0 1.1h0m.3-.1h0m.1 0h0m.3-1.1h0m.5-.4h0m.2 .7h0m.1 .4h0m.6-1.3h0m0 .2h0m.1 1.4h0m.1-.5h0m0-.3h0m.4 .9h0m.5-.7h0m1.8-1h0m.6 1.4h0m.9-.2h0m1.2 .5h0m4.1-2.1h0m5.7 .3h0m1.8 .2h0m3.8 1.3h0m.5 .6h0m3.4-2h0m7.5 1.6h0m13.1 .2h0m20.5-.7h0m-9.6 3.9h0m-4.8-.2h0m-5.2-2.7h0m-4.1 2.2h0m-3.4-.5h0m-3.3-1h0m-4.4 .8h0m-1.9 1.2h0m-1-.8h0m-1.7-.1h0m-.5-.3h0m-5.6 .9h0m-1.5 .3h0m-.3-1.2h0m-.5 1.1h0m-1.2-.7h0m-1.5-.2h0m-.3-.8h0m-.1 .7h0m-.8-.9h0m-.2 .8h0m0-.6h0m-.1 1.1h0m0-.6h0m-2.4 .6h0m-.3 .8h0m-.3-2.8h0m-5.4 1.4h0m-.8-.8h0m-.5 2.1h0m-2.1-1.5h0m-.2 1.3h0m0-1.8h0m-.2 0h0m-.1 1.8h0m-.2-.5h0m-.8-.3h0m-.1 .4h0m-.2-1.2h0m-.1-.7h0m-.1 1.1h0m0-.6h0m-.2 .2h0m-.5-.4h0m0 0h0m-.3 .5h0m-.1 1.3h0m0-.8h0m0 .4h0m-.3-1.9h0m-.1 2.7h0m0 0h0m-.4-2h0m0 0h0m-.1 1.1h0m-.1 .1h0m0-1.4h0m-.2 2h0m-.1-1.6h0m-.4 1.9h0m-.1-2.1h0m-.2 1.3h0m-.3 .3h0m0 .5h0m-.2-2.8h0m-.1 .4h0m-.3 2h0m-.2-.7h0m-.1-.7h0m0 1.8h0m-.1-2.4h0m-.4 2.3h0m0-1.1h0m-.1-.2h0m-.1 .5h0m-.4-1.8h0m-.5 1.9h0m-.3-.9h0m0 .4h0m-.7 .1h0m0 .4h0m-.1 .6h0m-.1 .3h0m-.1-.3h0m-.2-1.4h0m-.1 1h0m-.3-1.5h0m-.2 0h0m-.1 0h0m0 1.1h0m-.1-1.5h0m-.2-.2h0m0 1.2h0m0 .4h0m-.2 1h0m-.2-1h0m-.4 .1h0m-.1 .9h0m-.1-.7h0m-.6-.7h0m-.2 .9h0m0-1.7h0m-.1 1.4h0m0 .1h0m-.1-.1h0m-.6-.1h0m-.1 0h0m0 .7h0m-.1-2.4h0m-.7 2.8h0m-1.6 0h0m-.1-1.3h0m-.4 .5h0m-.3-2.1h0m-.9 2.4h0m-.2-1.6h0m-.7 .4h0m-1.9-.8h0m-5.1 2.4h0m-.9 1.4h0m5.4 1.2h0m1.9 .2h0m.3-.6h0m.8-.3h0m1-1.6h0m2.6-.1h0m.1 .1h0m.5 2.7h0m1.2-2.3h0m0-.2h0m.1 1.5h0m0-1.7h0m.3-.1h0m.1 .4h0m.2 .4h0m0 1h0m.7 .3h0m.7-1.1h0m0-.8h0m0-.1h0m.5 .3h0m.2-.2h0m0 .1h0m.3-.3h0m.3 1.1h0m.2-1.1h0m.4 .1h0m.5 2.2h0m1.2 .5h0m.2-1.2h0m0-1h0m2.2-.2h0m.6 2.4h0m.8-.8h0m1 .6h0m.1-2.4h0m.9 1.8h0m.5-1.2h0m.3-.4h0m.5 1.1h0m.8 1.1h0m.1-1.9h0m0 2.2h0m.1-2.8h0m.3 .2h0m.1 0h0m.1-.3h0m1.6 2.6h0m.2-1.5h0m2.3 1.7h0m.1-.8h0m.3-.3h0m.3 1.1h0m.5-1.6h0m.2 1.5h0m.3-1h0m.1 .7h0m0-1.5h0m1.8 .2h0m.5 .1h0m.1-.7h0m.4 .6h0m.4 1.1h0m.5-.8h0m.3-1.4h0m1 2.1h0m1.4 .6h0m.1-2.1h0m.3 2.2h0m.4-2.6h0m.1 0h0m0-.1h0m.7 2.1h0m.6 .7h0m.6-1h0m0-1.6h0m.5 1.6h0m.2-1.3h0m.4 1.8h0m.6-2.1h0m1.8 .7h0m1.4 1h0m.1-.4h0m.2-.1h0m.4 .6h0m0-1.5h0m1.6 1.7h0m0-1.1h0m.2-.4h0m.2 .7h0m.2 .2h0m.4-.6h0m.5 1.6h0m.3-.7h0m.3-1.4h0m0 .3h0m0 1.2h0m1.3-1.2h0m0-.2h0m1.1 .9h0m1.1 .3h0m.6-.6h0m.1-1.3h0m.5 2.9h0m.1-2.5h0m.2 1.5h0m.4-.5h0m.1-1.3h0m.3 2.8h0m.3 0h0m.7-2.8h0m5 .1h0m.8 2.7h0m0 0h0m.9-2.2h0m1.6 .6h0m2.4 .6h0m.1-1.8h0m.1 1.1h0m.4 1.5h0m1.7 .1h0m.2 0h0m3-1.8h0m1.1-.1h0m.2 1.3h0m5.3-.1h0m1.7-1.5h0m3.6 .7h0m.7-1.3h0m1 2.4h0m1 .4h0m.5-2.2h0m20.3-.3h0m-3.3 3.8h0m-3.1 1.4h0m-2.8-1.7h0m-3.7 .6h0m-5.5 1.3h0m-.2-1.8h0m-.2 1.8h0m-1.2-2.3h0m-.2 2.1h0m-.1-.8h0m-.2-1.4h0m-.3 2.6h0m-.2-1.8h0m0 .5h0m-2.1 .5h0m-1.4-1.3h0m-.3 1.2h0m-1.3-.8h0m-.1-.4h0m-.6 2.1h0m-.2-1h0m-.3 .7h0m-.1-.4h0m-2.4-.2h0m-.2-.1h0m0 .5h0m-.4-2h0m-.2 1.1h0m-1.7-1h0m0 2.2h0m-.5-.6h0m-.8 .1h0m-.4-.6h0m-.7-1.6h0m-.5 1.2h0m-.2 1.5h0m-.1-.2h0m-.3-2.1h0m-.8-.3h0m-.7 2.2h0m-.8-2.3h0m-.1 1.7h0m-.1-1.3h0m-1.3 .2h0m-1.1 .7h0m-.2 1.1h0m-.5-2h0m-.7 1.9h0m-.2-2.2h0m-.4 2.7h0m-.2-1.9h0m0-.4h0m-.2 1.4h0m-.2 .2h0m-.7 .6h0m-.1-2h0m-1 1.6h0m0 .2h0m-.4-1.7h0m-.2 .5h0m-.1 1.6h0m-.1-2.1h0m-.2 1.8h0m-.5-1.7h0m-.4 .8h0m-.3 .1h0m-.6-.6h0m0 1.3h0m-.2-2.3h0m-.3 1.5h0m-.3 .1h0m-.7 .6h0m0-1.1h0m-.4-.9h0m0 .4h0m-.2-.7h0m-.1 2.3h0m-.1-.9h0m-.2 .2h0m-.7 .4h0m0-.9h0m-.5 1h0m-.1-.2h0m-.1-.6h0m-.3 .4h0m-.3 .6h0m0-2h0m-.1 2.1h0m-.9-.7h0m-.3 .8h0m-.5-1.6h0m-1.8 1.9h0m-.7-1.6h0m-.5 1.2h0m-.3 .3h0m-.1-1.4h0m-.3-.3h0m0 1.2h0m-.7-1.5h0m-.3 1.9h0m-.2-2.7h0m0 2.8h0m-.1-.5h0m0-.3h0m-.1 .8h0m0-1.2h0m-.5 1.2h0m-.1-.4h0m-.8-1.3h0m-.3 1.7h0m-.4-1.7h0m-.2 1.2h0m-.3 .5h0m-.6-1.9h0m-.2 1.2h0m0 .1h0m0-1.7h0m-.6 .1h0m-.6 0h0m-.2 1.2h0m0 1.1h0m-.5-2.1h0m-.4 1.4h0m-.1-1.4h0m-.3-.8h0m-.6 2.5h0m-.4-.2h0m-1.2-.4h0m-.1 .8h0m-.3-.3h0m-.4 .2h0m-.1-2.2h0m-.2 2.4h0m-.1 .1h0m-.8-.7h0m-.5-1.5h0m-.1 .7h0m-.4-.8h0m-.1 .1h0m-.1 .4h0m-.1 1.7h0m0-1h0m-.9-.6h0m-.2-.9h0m-.1 1.7h0m-.7-1.1h0m-.2-.3h0m-.4 1.5h0m-.3-1.3h0m-.8 .3h0m0 .1h0m-.6 .5h0m0 .6h0m-.2-.5h0m0 .9h0m0-1h0m-.1 .3h0m-.6 0h0m-.1-1.7h0m0 .3h0m-.8 1.5h0m-.5-1.4h0m-.2 2.2h0m-.2-.1h0m0-2.5h0m-.4 1.8h0m-.2-1.6h0m-.2-.1h0m-1.1 0h0m-.1 1.9h0m0-1.8h0m-.4 .4h0m-.1 .3h0m-.2 .9h0m0-.7h0m-.2-.5h0m-.3 1.4h0m-.2 0h0m0 0h0m-.2-2.3h0m-.1 2.5h0m0-.1h0m-.1-1.9h0m-.3 .9h0m-.2 .6h0m-1-1.8h0m-.5 .7h0m-.2 1.1h0m-.1-.9h0m-.9 1.7h0m-.2-2.3h0m-.4 1.5h0m-.2-1.4h0m-1 .5h0m-.2 .2h0m-.1 1.5h0m-.3-1.5h0m-.5-.3h0m-.3 1.7h0m-.4-1.4h0m-.2 1.5h0m-.6-1.9h0m-.1 .3h0m-.5 .3h0m0 .4h0m-1.6-.5h0m-.2 1.5h0m-.6-.9h0m-.6-1.8h0m-.8 2.7h0m-.1-.7h0m-.6-1.1h0m-.1-.7h0m-.6 1.7h0m-.9 .1h0m-.4-1.5h0m-1.1 2.2h0m-.2-1.1h0m-.2-1h0m-.6 0h0m-1.7 2h0m-.8-1.8h0m-.1 .7h0m-.7 1.1h0m-.6-.9h0m-.7-.7h0m-.3 1.3h0m-.8-.6h0m-.3-.8h0m-.7 .8h0m-2 .5h0m-5-.3h0m-.4 .6h0m1.2 1.4h0m2.1-.4h0m4.9-.7h0m.9 2.3h0m.4-.3h0m1.6 0h0m.8 .6h0m2.6-.4h0m2.1-.1h0m1.1-1h0m.1-.1h0m.1 1.1h0m.3 .6h0m.4-1.8h0m.2 .9h0m1.8-.1h0m.1 1h0m0-2.7h0m.3 1.6h0m.4-.9h0m.2 1h0m.2 .3h0m.9-2h0m0 .1h0m.1 1.9h0m.7-.8h0m.1 .6h0m1.4-1.7h0m0 2.2h0m.2 .1h0m.3-1.5h0m.2 0h0m.1 1.8h0m.2 .1h0m0-.4h0m.1-.6h0m.6-.6h0m.4 1.3h0m.3-1.6h0m.3-.7h0m.4 1.6h0m.1-1.7h0m.1 1.9h0m.2-.3h0m.4 .5h0m.6-.3h0m.3 .5h0m0-.5h0m0 .2h0m.1-1.3h0m.1 1.2h0m.1-.8h0m.2 .6h0m.1 .4h0m.5 .3h0m.4 0h0m.2-1.5h0m.1-.6h0m.4 .8h0m.1 .3h0m.2 .1h0m.4-.8h0m.2 1.5h0m.3-2.1h0m.1 1.8h0m0 .2h0m.1-2.1h0m0 1.3h0m.3 .6h0m.7 .4h0m.3-1.6h0m0-.6h0m.2 .5h0m.2-.5h0m.1 1.1h0m0 1.5h0m.4-1.8h0m.2 .1h0m.3 1.6h0m.1-2.5h0m.1 1.2h0m.3 1h0m.1-1.7h0m.1-.7h0m.5 .5h0m.1 0h0m.2 1.9h0m.1-1.5h0m.1-.5h0m.4-.4h0m.1 1h0m0 .4h0m.2-1h0m.2 .3h0m.3 1.1h0m0-.9h0m0 .2h0m.1 0h0m.1 .6h0m.2-.4h0m.1-.6h0m.1-.3h0m.1-.4h0m.1 1h0m.8 .5h0m.1 .9h0m0 .3h0m.4-1.5h0m.1-.4h0m.5 .7h0m.1 .1h0m.2 .1h0m.2 .3h0m.3 .3h0m.1-.5h0m0-.9h0m.4 1.4h0m.1 .5h0m.1-2.5h0m0 2.5h0m.1-1.4h0m0-.4h0m.1 .7h0m.1 .4h0m.2 .3h0m0-.4h0m.3-.1h0m.1-1.3h0m.6 1.6h0m0-2.1h0m.1 .1h0m.4 .8h0m.2 .7h0m.6-.3h0m.2 .2h0m.5-1.2h0m0 .3h0m.6-.7h0m.7 1.8h0m.1-.9h0m0-.7h0m.4 1h0m.2 0h0m.1 1.5h0m.1-1.3h0m.3-.8h0m.2 1.2h0m.4 .3h0m.2-.9h0m.3 .4h0m.2 .2h0m.3 .8h0m.6-.5h0m.1 .4h0m.4-.2h0m.3 .5h0m.3-1.1h0m.3-1.7h0m.1 .3h0m.2 1.9h0m.5-.2h0m0-1.2h0m.1 .3h0m.4 .3h0m.1 .4h0m.2 1h0m.1-1.3h0m.3-.7h0m.2 1.2h0m0 .2h0m.2 0h0m.1-2.2h0m0 2h0m.1-1.1h0m0 .3h0m0 .7h0m0 .7h0m.2 .2h0m.2-.5h0m0-1.9h0m.1 .6h0m1.3 .2h0m.4 .3h0m0-.8h0m.4-.2h0m.1 1.7h0m.4 .6h0m.1-1.7h0m0-.2h0m0 .5h0m.4 .7h0m.1 .5h0m.2-.3h0m0-.9h0m.1 1.3h0m.1-2.2h0m.3 1.1h0m.6 .2h0m.5-.5h0m.1-.9h0m.1-.3h0m0 2.1h0m.1-1.5h0m.2 1.1h0m.5-.8h0m.9 .8h0m.5-.1h0m0-1h0m.4 1h0m.2-.2h0m.2 .6h0m0-1.9h0m.3 2.7h0m.2-.4h0m0 .4h0m.2-2.8h0m.1 2.7h0m.3-.5h0m.2-1.4h0m.2 1.7h0m.1-2.3h0m.3 1h0m.2-.2h0m.5 .5h0m0-1h0m.1 2.2h0m.1-2.3h0m.9 1.5h0m1.1 .8h0m.1-.1h0m0-.8h0m0-.6h0m0-1.1h0m.1 2.3h0m.1-1.7h0m0 2h0m.1-2.8h0m0 1.6h0m.2 .1h0m.1-.6h0m.4 1.2h0m.8-1.9h0m.1 .9h0m.4-.5h0m.4 1.3h0m0-1h0m1 .6h0m.2-.4h0m.4 .9h0m.1-.2h0m.7-1.3h0m.4 .7h0m.8 1.3h0m.2-2.6h0m1.1 .3h0m.2 1.5h0m.3-1.9h0m.4 2.6h0m.8-1.3h0m.3 1.4h0m.5-1.1h0m.2 1.3h0m.2-2.9h0m.4 1.7h0m.4-.9h0m.1-.2h0m.7-.4h0m.1 1.6h0m.3-.1h0m.1-1.7h0m1 1.6h0m.1 .9h0m.6 .4h0m.3-2.1h0m.4-.1h0m.2-.1h0m.2-.4h0m.8 1h0m.7 1.2h0m.3-2.4h0m1.1 .8h0m.3-.4h0m1.7 1h0m.3 .1h0m.3-1.1h0m.5 1.5h0m.5-1.7h0m.1 2.1h0m.1-.6h0m.9-1.6h0m.4 2.5h0m.7-2.3h0m.1 1.5h0m.5-1.6h0m4.9 1.3h0m19 .3h0m1 .7h0m.9-.2h0m-1.5 3.2h0m-1-.8h0m-2.5-.1h0m-8.9-1.4h0m-7.6 2.7h0m-.2-2.7h0m-3.2 1h0m-1.7-1.1h0m0 1.3h0m-.7 .5h0m-.1-1.3h0m-.1 1.5h0m-.2-.9h0m-.1 .7h0m0 .3h0m-1.2-.2h0m-.2-1.7h0m-.2 .4h0m-.4 .9h0m-.5-1.4h0m-.2 .4h0m-.2 .9h0m-1.6 .9h0m-.9-2.4h0m-.2 1h0m-.1-.1h0m-.2-.9h0m-2.5 .5h0m-.6 .1h0m-.2 1.6h0m-1.3 .7h0m0-2.6h0m-.2 2.6h0m-.1-.1h0m-.4-1.6h0m-.3-.9h0m-.6 1.5h0m-.3 0h0m0-.9h0m-.1 .5h0m-.2 0h0m0-.2h0m-.4-.6h0m-.5 1.7h0m-.6-.5h0m-.1 .8h0m-.3-1.2h0m-.6 1.5h0m-.4-1.6h0m-.6-.7h0m-.2-.2h0m-.3 1.3h0m-.3-.9h0m-.1-.1h0m-.2-.6h0m-.1 2.2h0m-.4-.9h0m-.2 .2h0m-.2-1.1h0m-.4-.5h0m-1 2.3h0m-.3-1.6h0m-.5 1.7h0m0-1.9h0m-.1 1h0m-.2-.1h0m-.2-.4h0m-.4-.9h0m-.4 1.7h0m-.3-1.6h0m-.8 1.6h0m0-.9h0m-.4-.4h0m-.7 1.5h0m-.8-2h0m-.1 1.6h0m0-1.6h0m-.2 2.1h0m-.1-.8h0m-.6-.6h0m-.3 0h0m-.5 1h0m-.3-.5h0m-.4 1.1h0m-1.1-.9h0m-.3 1.3h0m-.2-.9h0m-.4 .1h0m-.1-.9h0m-.4-.7h0m-.2 .9h0m-.8-.6h0m0 0h0m-.3 .1h0m-.2 .5h0m-.3-.1h0m-.4 1.4h0m-.1-.4h0m-.1 .3h0m-.2-.2h0m-.1-1.8h0m-.2 2.1h0m-.2-.3h0m-.4-.1h0m-.8-2.1h0m-.9 .7h0m-.2-.1h0m-.5 1.8h0m-.2-.7h0m-1.3-.9h0m-.4 1.5h0m-.1-2.2h0m-.2 2.2h0m-.5-.3h0m-.2-1.7h0m-.1 2.3h0m-.3-2.6h0m-.1 .4h0m-.1 .6h0m-.6-.7h0m-.2 1.7h0m-.6-.6h0m-.2 .7h0m-.1-1.8h0m-.1 1h0m-.4-1.2h0m0 1.8h0m-.1 .1h0m-.2 .4h0m-.3-.5h0m-.1-.7h0m-.2 .6h0m-.3-1h0m-.6 1.7h0m0-.1h0m-1.3 .3h0m-.9-1.5h0m-.1-.9h0m-.4 1.5h0m-.2-.4h0m-.2-1h0m-.2 1.3h0m0-.5h0m-.2-1.1h0m-.4 .9h0m-.1-1h0m-.1 1.3h0m-.4 .4h0m-.4-.6h0m-.3 1.8h0m-.2-.7h0m-.4-2.1h0m0 2.2h0m0 .2h0m-.4-1.8h0m-.1 1.2h0m-.5-1.9h0m-.1 2.4h0m-.3-1.9h0m0 .3h0m-.1 0h0m0 1.8h0m-.5-2.2h0m0 1.4h0m-.4 .8h0m-.2-1.1h0m0 .6h0m-.1 .6h0m-.2-1.6h0m-.1 .5h0m-.2-1.3h0m-.6 0h0m-.1 2.3h0m-.1-2.2h0m-.1 .5h0m-.2-.1h0m0 1.6h0m-.3-1.8h0m-.7 1.4h0m0 .5h0m-.1 0h0m-.2-.7h0m-1.1-.3h0m-.1-.7h0m-.1 1.8h0m-.2-1.7h0m-.1-.3h0m-1.4 1.6h0m-.2-1.2h0m0 1.5h0m-.1-2.3h0m-.3 1h0m-.1-1.1h0m-.4 1.4h0m-.1-.4h0m-.4 1.1h0m-.5 .2h0m-.3-.1h0m-.1 .5h0m-.2-1.9h0m0 1.7h0m-.1-.4h0m-.7-.8h0m-.3 0h0m-.1-.6h0m-.1 2h0m0-1.9h0m-.1-.5h0m-.1 .4h0m-.2-.5h0m-.8 .1h0m-.5 1.4h0m-.1-1.5h0m-.3 2.3h0m-.1-1.4h0m-.3-1h0m-.3 2h0m-.2 .1h0m0-1.8h0m-.2-.2h0m-.3 1.1h0m-.5 .1h0m-.4 .9h0m0-.5h0m-.2-.4h0m0 .2h0m-.2 1.2h0m-.4-2.9h0m-.3 2.5h0m-.2-2h0m-.1 .4h0m-1.1 1.5h0m-.3 0h0m-.2-.5h0m-.1-1.6h0m-.1 2h0m-.4-1.5h0m-1 1.4h0m0-.4h0m-.5 1.1h0m-.1-.3h0m-.2-1.1h0m-.3-1.4h0m-.5 .5h0m-.8 .1h0m-.2 .3h0m-1.5 .9h0m0-1h0m-.3 .4h0m-.7 0h0m-.3-.2h0m-1.9-.5h0m-1-.5h0m-1.2 2.7h0m-1.2-.9h0m-4.8 .3h0m-2 .3h0m-.3-.5h0m-4.3 .9h0m.6 .2h0m1.2 1.9h0m.2-.5h0m1.3 .4h0m2.5-.1h0m1.8 .9h0m1.6 .2h0m1.8-1.7h0m.5-.5h0m1.2 1.6h0m.5-.3h0m.3-.7h0m.8-.3h0m.3 1.1h0m1-1.4h0m.5-.7h0m1.6 1.2h0m.2-.3h0m1.1-.8h0m.4 .9h0m.8-.3h0m2.1 .4h0m1.6 1.2h0m.1 .2h0m.8-.8h0m.1-1.6h0m.4 0h0m.9 1.1h0m0-1.1h0m.1 .7h0m.3 0h0m.6 .9h0m1.1 1h0m.9-2.4h0m.2 .3h0m.7 1.5h0m.2-1.7h0m.1 0h0m1.2 1.4h0m.1-1h0m.9-.7h0m1.3 1h0m.1 0h0m1.3-.5h0m.7 1.1h0m.8 .8h0m.2-1.3h0m0 .4h0m.3-.7h0m.7 .1h0m0-.1h0m.2 1.9h0m0-2.4h0m.2 .8h0m.2 .1h0m.1 0h0m.2 .2h0m.3-.2h0m.8 .3h0m.3 .9h0m.4-2h0m.3-.1h0m.5 1.6h0m.6 .2h0m.3-2.1h0m.7 .3h0m.7 .1h0m.3 2.1h0m.4-1.9h0m.2-.5h0m.2-.1h0m0 0h0m.6 1.2h0m.6-.5h0m.6-.3h0m.8-.5h0m.2 2.3h0m1.2-.8h0m.3 .2h0m.1-.7h0m.4-.4h0m.6-.1h0m.2 .6h0m.4-.7h0m.4 1h0m.3-1.2h0m1 .3h0m.7 .3h0m.6 .2h0m.5-.9h0m0 .6h0m0 0h0m.1 1.9h0m0-1.5h0m.3-.7h0m.4 .4h0m0-.8h0m.2 1.9h0m.2-1.8h0m2.2 .2h0m.4 2.5h0m.4-1.7h0m1.1 1.4h0m1-.4h0m.9-1.8h0m.2 2.4h0m1.8-2.1h0m0-.3h0m1.5 2.5h0m.2-2.8h0m0 1.9h0m.1-1.6h0m.4 .8h0m.3 .5h0m.4-1.1h0m.1-.4h0m1.1 .1h0m.1 2.2h0m.2-1.8h0m.5 1.6h0m.5-1.9h0m1.1 1h0m1-.6h0m.6 .4h0m2 0h0m0 .4h0m.5-.3h0m.8 .1h0m1.3 .1h0m0 1h0m.5 .5h0m.4-1.4h0m.4-.6h0m.3 1h0m.2-1.2h0m2.7 .1h0m.7 .1h0m1.5-.3h0m.7-.5h0m1.2 .3h0m.4 .8h0m.1-.3h0m.5 .4h0m0 .8h0m.3-1.5h0m.5 .4h0m.4-.5h0m1.6 1.6h0m.3-1.4h0m.2-.5h0m1.5 .9h0m.3 1.2h0m.1-2.3h0m.8 .5h0m1.8-.2h0m7.1 2.2h0m12.6-2.1h0m4.8 2h0m-27.5 .9h0m-3.4 .2h0m-1.4 .7h0m-.6-.4h0m-4.2 0h0m-.8-.1h0m-.3-.2h0m-.3 2.4h0m-8.9-.6h0m-2-1.1h0m-2.3-.8h0m-3.5 .5h0m-.4 1h0m0 .1h0m-.7-.3h0m-.4-.1h0m-1.5 1.2h0m-.2-.3h0m-.6-1.9h0m-.5 .4h0m-2.3-1h0m-2 2h0m-.9-.2h0m-2.3-.3h0m-.6-.7h0m-.2-.8h0m0 2h0m-.7-1.5h0m-3.6-.3h0m-1.4 .2h0m-.9-.4h0m-.5 .1h0m-3.2 2.7h0m-.7-1h0m-.5 0h0m-.5 .7h0m-1.2-2.4h0m-.2 .6h0m-.1 .2h0m-.8-.1h0m-1.6-.6h0m-3.3 1h0m-1 .3h0m-2.4-.1h0m-1 1.4h0m-3.5-2.8h0m-1.4 .1h0m-.3 .4h0m-.6-.2h0m-11.1 2.3h0m-1.4-1.9h0m-.5-.7h0m-8.1 1.1h0m-1.5-1.1h0m15.6 3.9h0m23.5 .4h0m5.9-.6h0m4.6 .5h0m15.8 .6h0m.8-.5h0m2.2-.7h0m5.5-.5h0m10.2-.1h0m2.7 .5h0m2.6 .4h0m4.9 0h0" stroke="#D93A6B" stroke-width="1.5" stroke-linecap="round"/>
<path d="M52.5 927C52.8 924.8 53.8 921.2 56 919.5C58.2 917.8 62.3 917.3 66 916.5C69.7 915.7 73.7 915 78 914.8C82.3 914.6 87.5 915 92 915.5C96.5 916 101.2 916.8 105 917.5C108.8 918.2 112.2 918.6 115 919.5C117.8 920.4 120.3 921.6 121.5 923C122.7 924.4 122.9 926.4 122 928C121.1 929.6 119.7 931.4 116 932.5C112.3 933.6 106 934.1 100 934.5C94 934.9 86.3 935 80 935C73.7 935 66.2 934.9 62 934.5C57.8 934.1 56.1 933.8 54.5 932.5C52.9 931.2 52.2 929.2 52.5 927Z" fill="#69B2E2"/>
<path d="M60.2 854.3h0m4.7-2.1h0m10.5 2.4h0m-8.3 8.9h0m-2.5-.4h0m-.8 2.5h0m7.3 3.5h0m-11-1.6h0m-1.8-.1h0m16.8 4.9h0m16.5 2h0m-37.1 2.4h0m4.1-.5h0m24.7 .6h0m-5 3.9h0m-4.3 .9h0m-10.5-.1h0m-11 .7h0m8.6 2.5h0m19.7-1.3h0m4.3 3.1h0m-8.2 1.3h0m-2-2.6h0m-3.3 .7h0m-5.2-.2h0m13.4 4.9h0m32.4 2.8h0m-7.2-.9h0m-9.5-.8h0m-19.9 .9h0m-25.4-.7h0m8.8 3.5h0m5.7 0h0m4 1h0m16.9-.7h0m3.8 .8h0m9.3-2.4h0m11.6 4.3h0m-19.5 .6h0m-24.2 2.2h0m8.1 1.5h0m3.8-.1h0m13.6 3.1h0m-22.3-2.4h0m-15.4 5.4h0m31.1 .9h0m-13.6 5.2h0m3.2 .1h0m2.1 0h0m2-.2h0m1.1 0h0m1.8 0h0m1.5 .1h0m.2-1.8h0m.7 1.5h0m1.6 .1h0m2.1-.2h0m4.6 .5h0m.4 0h0m2.6-.1h0m.1 0h0m1.5-.4h0m14.2 3.2h0m-1.2-.4h0m0 .7h0m-.8-.8h0m-.9 .1h0m-.6 .2h0m-.3 .1h0m0-.5h0m-.3 .6h0m0 .2h0m-2.1-.3h0m-.4-.8h0m-1.5 .8h0m-.3-.6h0m-.1-1.2h0m-.4 .8h0m-2.1-.4h0m-.1 1.2h0m-1-.7h0m-1.4 .9h0m-.2-1h0m-.5 .7h0m-.3-2.2h0m-.6 1.6h0m-.1 .4h0m-.4-1.5h0m-.4 1.3h0m-.1-.8h0m-2.7-.1h0m-.2 0h0m-.9 .1h0m-.3 .3h0m-.3 .2h0m-.3-.8h0m-.2 1.6h0m-.2-2.3h0m-.8 1h0m-.4-.1h0m-2.3-.7h0m-.2 .4h0m-.7 .7h0m-.1-1.1h0m-.5-.1h0m-.6 .9h0m-.5 .3h0m-.5-1h0m-2.2 .9h0m-.1 0h0m-.3-1h0m-.1 1.4h0m-.1-1h0m-.7 2h0m0-2.2h0m-.1 .1h0m-.2-.1h0m0 .2h0m-2.2-.3h0m-.5 .5h0m-.8-.2h0m-.6 .9h0m-.8-.6h0m-.7 .5h0m-1-1.1h0m-1.4-.3h0m-.6 1h0m-.9 0h0m-.5 .6h0m0-.4h0m-.4 .9h0m-.4-1.9h0m-.2 1.4h0m-.1-1.3h0m-.3-.3h0m-.1 2.6h0m-.8 .3h0m-.1-.9h0m-1.1-.3h0m-.5 .8h0m-.8 .1h0m-.3-1.2h0m-.1-.6h0m-.6 .9h0m-.4-.9h0m-.1 1.5h0m0 0h0m-1.1-.9h0m-2.4 .8h0m-1-.1h0m-1.8 .7h0m-.4-.3h0m-.1 .3h0m-.5-.1h0m-5 2.9h0m3.4-1.4h0m.3 1.6h0m.1-1h0m0 1.1h0m.1-.9h0m0 .6h0m0-.7h0m1.2 .4h0m.8 .4h0m.2-1h0m.2-1.4h0m0 2.5h0m.7-2.1h0m.1 1.8h0m.1 .2h0m.3-2.2h0m.4 2.2h0m1.1-2.1h0m.2 .6h0m.5 .5h0m.2 .1h0m.3-.2h0m1.8-1.4h0m.7 .2h0m1.6 0h0m3.7 2h0m2.4 .4h0m4-.9h0m.3-.3h0m2.5 .2h0m.5-.1h0m1.6 .8h0m.4-2.4h0m.2 2.3h0m.9 .4h0m.4-.6h0m.7 .2h0m.1-1.2h0m.5 1.1h0m.7 .5h0m2.4-.6h0m.9 .4h0m.2 .1h0m0 .2h0m2.8-.7h0m.3 .4h0m.6-1h0m1.2 1.1h0m.6-2.5h0m2.1 2h0m.1-1h0m5.1-1h0m.2 2.2h0m.2 .5h0m.6-2.7h0m3.2 1.8h0m0-1.5h0m.1 .4h0m.8-.9h0m.2 0h0m.6 1.6h0m.6-.1h0m.3-.5h0m2.2-.4h0m.2 .6h0m.1 .7h0m.3 .3h0m1.1-1.5h0m.2 0h0m.2 2.2h0m.4-.8h0m0-2.1h0m.2 1.9h0m.4 .7h0m0 .3h0m1.1-.5h0m0-.8h0m.2 1.2h0m.1-2h0m.6 1.7h0m2.6-.6h0m.7 .6h0m.4-.4h0m1.9 0h0m2.5 3.5h0m-.5-1h0m-.1 .4h0m-.1-.3h0m-1.7 .1h0m-.3-1.7h0m-.4 2.8h0m-.3-.4h0m-.1-2h0m0 2.4h0m0-1.8h0m-.7-.6h0m-.2-.3h0m-.1 2.4h0m-.1-.7h0m-.1 .4h0m-.3 .6h0m-.1-2.7h0m-.4 2.1h0m-.3 .5h0m-1-2.7h0m-.8 .8h0m-.1-.8h0m-.1 1.3h0m-.5-.4h0m-.1 .1h0m0 .2h0m-.2 1.3h0m0-1.6h0m-.1-.7h0m-1.4 .3h0m-.5 1h0m-.7-.4h0m-.6 1.2h0m-1.5 .5h0m-1.2-2.1h0m-2.3 1.7h0m-.1-2h0m-.8 1.7h0m-2.4-1.3h0m-.2 1h0m-2.6-.5h0m-.4 .7h0m-.3-1.5h0m-1.3 .2h0m-.2 1.2h0m-.3-.1h0m-.6-1.2h0m-.4 1.4h0m0-1h0m-.9 1.8h0m-.3-.6h0m-.1-1.1h0m-.3 .2h0m0 1.2h0m-.2 .3h0m0-.5h0m-.1-.5h0m-.3 .5h0m-1.2-1.1h0m-.1 1.6h0m0-.6h0m-.1-.2h0m-.6-1.1h0m-.6 .5h0m-.1-.1h0m0 .2h0m-.4 .9h0m-.2-.8h0m-.5-.9h0m-1 1.6h0m-.9-1.1h0m-.6-1.3h0m0 2.5h0m-.4-1.2h0m-.2 .6h0m0-.1h0m-1.2 .4h0m-.2-.3h0m-.4 .2h0m-.3-1.8h0m-.3 .8h0m0 0h0m-.2-.3h0m-1-.1h0m-.3 1.5h0m-.4 .4h0m-.1-.4h0m-.7-1.8h0m0 1.8h0m-.9-.5h0m-.2 .9h0m-.1-.1h0m0 .1h0m-.4 0h0m-.4-.4h0m-1.1-.7h0m-.1-1.1h0m-.2-.3h0m-1.2 2.6h0m-.6-1.8h0m-.2 1.6h0m-.2-1.9h0m-.3 .3h0m-.5 .9h0m0-1.7h0m-.3 2.4h0m-.4 .4h0m-1.9-2.8h0m-.6 1h0m0 .6h0m0-1.2h0m-.2 .2h0m0 .5h0m0-.9h0m-1.3 1.3h0m-.2-1.1h0m-.6 1.3h0m-.6 .9h0m-.3-1.2h0m-.4 .2h0m-.1 .3h0m-1-1.2h0m-1-.7h0m0 1.9h0m-.8 .3h0m-2-1.4h0m-1.1 .5h0m-1.1 0h0m-3-1.4h0m-.3 .2h0m-.6 1.2h0m-.9-.9h0m-1.1 0h0m0 1.8h0m-.2-2.2h0m-.5 1.6h0m-.2-.3h0m-.2 .7h0m-.2 .4h0m-.6-2.2h0m-.2 2.1h0m-.2 0h0m-.2-1.9h0m-.5 .5h0m-.8 1.1h0m-.9-.2h0m-.1 1h0m-.5-1.2h0m0-1.6h0m-.7 1.5h0m-.9 1.2h0m-.1-1h0m0 2.7h0m.1-1.4h0m.1 0h0m.1 1.3h0m.6 1.5h0m1.1-.3h0m.5 0h0m.3 .2h0m.2-.1h0m.7 0h0m.1 .2h0m.8-.8h0m.1-2h0m.3 2.2h0m.4-1.5h0m.2-.4h0m.2 2.3h0m.1-.5h0m.4-.2h0m.4-.4h0m.1-.3h0m0-.6h0m1.1 1.7h0m1.8-.6h0m.6 .4h0m.2-1.9h0m.3 1.6h0m.7-1.1h0m1.6 1.7h0m.5-.9h0m0-.3h0m.4 .2h0m2.2 .1h0m.2 0h0m.3-.9h0m.1 .9h0m0-1.6h0m.5 2.1h0m.1-1.2h0m1.5 1.8h0m.8-1.9h0m.1 .1h0m.1 .2h0m.3 .2h0m.7 1.4h0m.7-1.3h0m.4-.6h0m.3 1.3h0m.5 .7h0m.2-1.1h0m.6-1.6h0m0 .9h0m.4-.6h0m.1-.4h0m.2 1.4h0m0 .1h0m.2-.3h0m.7-1.2h0m.1 .7h0m.2 .7h0m.1 1.1h0m.7-2.2h0m.1 2h0m.5-.4h0m.2-1.3h0m.4 2.2h0m0-1.2h0m.2-1.2h0m.2 1.2h0m1.2-.2h0m0 1.4h0m.1-2.8h0m0 .4h0m.3-.1h0m.7 .7h0m.3 .4h0m.2 1.2h0m.2-.2h0m0-.2h0m.1-1.4h0m.3-.6h0m.3 1.1h0m.2 1.3h0m0-1.5h0m.2-1h0m.1 1.4h0m.3-.9h0m.5 .2h0m.3-.3h0m.5 .4h0m.5 1.7h0m0-2.5h0m.1 2.6h0m.8-2.6h0m0 1.3h0m.5-.1h0m.1 .6h0m.2-1.1h0m.1 1.6h0m.3-2.2h0m.3 2.3h0m.2-.5h0m.1 .4h0m0 .4h0m.2-.3h0m.3 0h0m.1-.8h0m.1 .9h0m1-1.9h0m.1 1h0m.5 1.1h0m.3-2.3h0m.3 1.4h0m.5 .4h0m0-1.7h0m.1 1.4h0m.3-1.8h0m0 .8h0m.2 1.9h0m.2-2.3h0m.5 1.4h0m.2 .1h0m.3-.1h0m0-1.6h0m.3 2h0m.3-1h0m.3-.9h0m.1 .3h0m.2-.6h0m0 0h0m.2 2.1h0m.6-1.3h0m.1 .3h0m.4-.2h0m.2-.5h0m.1 .1h0m0 .2h0m.3-.1h0m.7 1.9h0m.4-.2h0m.1-1.9h0m.2 1.7h0m.5-1h0m.1 .6h0m0 .2h0m.1 .8h0m0-.6h0m.2-1.3h0m.2 .2h0m.1 .6h0m.8-1.2h0m.7 2.2h0m1-.3h0m.6-.4h0m.5-1.3h0m.4-.6h0m.1 2.5h0m0-.4h0m.6-.6h0m.7-.2h0m.2 1.2h0m0-2.1h0m.7 2.1h0m.2-.4h0m.6-.8h0m.3-1.2h0m.7 1h0m.1 .8h0m.1-.1h0m.9 .7h0m1.2-1.2h0m1 1.2h0m.6-1.9h0m.5 .1h0m.1 .9h0m.4-1.6h0m.6 .6h0m1.6-.4h0m.3-.2h0m.4 .1h0m1.9 1.3h0m1.2 .2h0m.7-1.6h0m.4 .5h0m0 .9h0m.2 1.1h0m.4-1.2h0m.1 1.4h0m.1-.1h0m0-.4h0m.1-.4h0m.2-1.4h0m.3 0h0m.2 .9h0m0-.5h0m.1 .1h0m.1 1.8h0m0-1.3h0m.3-.4h0m1.4 0h0m.1 1.7h0m.2-.5h0m.1-1.8h0m.7 1.6h0m.3-.6h0m.3-.8h0m.1 .6h0m.2-.9h0m.5 2.1h0m.1 .3h0m.1-2.4h0m.2 .7h0m.1-.5h0m.8 2.2h0m.2-2.8h0m.1 2.5h0m.5-1.4h0m3.7 1.3h0m-3.7 .7h0m-.1 .3h0m-1.2 .8h0m-.6 .7h0m-.2-1.5h0m-.4 .4h0m-.8 1.9h0m-.1-2.8h0m-.7 2.5h0m-.8-1.8h0m-.3-.7h0m-.3 1.3h0m-.1 .9h0m-.2-1.2h0m0 1.7h0m-.2-1.7h0m-.7 .4h0m-.3 .3h0m-.4-.4h0m-1.3 .1h0m-.1-.2h0m-.1 1.4h0m-.3-1h0m-.2-.3h0m-.2 0h0m-.2 .8h0m-.4 .3h0m-2.1-1h0m-2.8-.8h0m-1.6 .3h0m-1.4-.8h0m-.5 1.6h0m-.5 .8h0m0-.7h0m0-1.2h0m-.1-.6h0m-1.8 2.2h0m-.2-1.1h0m-1.5-.4h0m-.6 2.2h0m0-1.4h0m-.6-.2h0m-1.1 0h0m-.7-.8h0m-.5 .9h0m-.2-1.2h0m-.1 2h0m-.5-2.2h0m-.3 1.6h0m0 .2h0m-.1 .2h0m-.4-.2h0m-.4 .9h0m-.1-2.5h0m-.3 .1h0m-.4 1.9h0m0-2h0m-.6 .6h0m-.1 .8h0m-.8-.5h0m-.1 .8h0m0-.3h0m-.2-.4h0m-.8 .4h0m-.1 .6h0m-.2-1.6h0m-.7 .8h0m-.4-1.3h0m0 1.4h0m-.5-.9h0m-.5 1.7h0m-.1-.1h0m-.2-.9h0m-.2 .5h0m-.2 .1h0m-.1 .5h0m0-2.4h0m-.1 2.9h0m-.1-1.8h0m-.7-1h0m-.3 1.1h0m-.2-.7h0m-.1-.1h0m-.1 2h0m0-.9h0m0-.3h0m-.3-.3h0m-1.1-.9h0m0 1h0m-.2 .3h0m-.4 1.1h0m-.3-1.6h0m-.3 1.6h0m-1.3-.1h0m-.1-2.2h0m-.4 2.8h0m-.2-2.1h0m-.1 2h0m-.1-.3h0m-.3-2.5h0m-.4 2.6h0m-.1-.4h0m-.2-.6h0m-.1 .3h0m-.2 .1h0m-.2 .9h0m-.3-.5h0m0-1.6h0m-.5 1.5h0m-.1-2.3h0m-1.5 .4h0m-.2 1.5h0m-1.6 .4h0m-.3-.5h0m-.1-1.1h0m-.9 1h0m-.9-.6h0m-.3-.5h0m-.1 1h0m-.4-1.4h0m-.1 .3h0m0 .7h0m-.1 .3h0m-.1-.1h0m-.1 1.1h0m-.4-2.3h0m-.2 1h0m0-.1h0m-.1 1h0m0-2.1h0m-.1 2.9h0m0-.5h0m0-2.3h0m-.4-.1h0m0 1.7h0m-.1 .2h0m-.1-.5h0m0 1.1h0m-.3-1.3h0m-.3 1.4h0m-.6-.7h0m-1.2-1.9h0m-.4 .5h0m-1.2-.2h0m-.8 .5h0m-1.5 .7h0m0-1h0m-1.5 .8h0m-1.3-.2h0m-.2 .6h0m-1.2-.4h0m-.5 .6h0m-1.4 0h0m-1-1.4h0m-.3 .7h0m-.4 .4h0m-.3-1.2h0m-.2 .1h0m-.4 2.4h0m-1.1-1.4h0m-.2 .6h0m-.2-.7h0m-.1 .9h0m-.1-1.8h0m-.1 2.2h0m-.3-2.1h0m-.2 .5h0m-.2-1.1h0m-.1 2.5h0m-.8-1.7h0m-.4 1.8h0m-.2-1.4h0m-1.8-.3h0m-.2-.3h0m-1.5 .8h0m5.9 1.6h0m.1 0h0m.6 0h0m2.2 0h0m0 2.1h0m.2-1.5h0m.3 1.1h0m.4-.6h0m.9-.1h0m.9-.7h0m.6-.1h0m.4 .7h0m.1-.7h0m.3-.2h0m.4 1.1h0m.3 0h0m0 .4h0m.2-.1h0m.1-.2h0m.1 0h0m0 .7h0m.1 .5h0m.6 .3h0m.3-1.7h0m.1 1h0m.3-.4h0m.8-.4h0m.8 .7h0m.2 .8h0m.1-.7h0m.3-.9h0m2.4 1.4h0m1.1 .3h0m.1-1.9h0m.3 0h0m.7 1.5h0m.2-1.9h0m2.5 0h0m1.3 1.4h0m1.8-1h0m1.1-.3h0m.3 .7h0m.1-.8h0m.1 0h0m.2 .7h0m.3-.8h0m1 0h0m4.3 .8h0m1.5-.7h0m1.3-.2h0m.1 2.6h0m.6-2.3h0m.2 .6h0m3-.7h0m.6 1.8h0m.2 .3h0m.1-1.5h0m.2-.3h0m.9 .5h0m1.1 .9h0m1.4-2.1h0m3.8 .6h0m.9 .7h0m3.3-1.1h0m0 2.6h0m2.5-.3h0m2.5-.6h0m.8-.9h0m.2 1h0m0 0h0m.1-.9h0m.5 .6h0m.3 .1h0m1.2-.1h0m.3-.8h0m.5 1.1h0m1.1-1.4h0m.5 .9h0m.5-.9h0m.4-.4h0m.6 2.6h0m.8-2.2h0m1.2 1.2h0m.1-1.1h0m.3 .1h0m0-.4h0m.1 0h0m.4 .5h0m.3 .2h0m-6.8 1.8h0m-2.8 .3h0m-.8-.3h0m-.5 .2h0m-.4 .6h0m-1.1-.4h0m-.2 .6h0m-.3-.2h0m-.7 .4h0m-.5-.9h0m-.6 1.1h0m-.2 0h0m-.3-1.2h0m-.4 .6h0m-.1 .2h0m-.7-.8h0m-.7-.1h0m-.2-.1h0m-.4 1.6h0m-.3 .7h0m-.5-.4h0m-.7 .4h0m-1.9-1.8h0m-.2 .9h0m-.2 1.3h0m-.3-.7h0m-.2-1h0m-.2 0h0m-.1 .1h0m-.2 .7h0m-.6 .7h0m-1-1.2h0m-.6 .4h0m-.2 1.2h0m-.1-1.4h0m-1 1.2h0m-.2-.5h0m-.2-1.1h0m-.1 0h0m-1.2 1.1h0m-.8-.2h0m-1 .4h0m-.9-1.1h0m-.6 0h0m-.5-.1h0m-.5 .8h0m-.1-1h0m-.5-.2h0m-.1 .8h0m0-.7h0m-.2 1.8h0m-1.6-1.9h0m-1.1 1.3h0m-.1-.9h0m-.9-.3h0m-.2 .4h0m-.8 .2h0m-.8-.2h0m0-.5h0m-.1 1.3h0m-.2-1.5h0m-.4 .4h0m0 .2h0m0-.1h0m-.2 .6h0m-.1 1.1h0m-.1 0h0m-.5-2.2h0m-2.7-.3h0m-.1 2.2h0m-.2-.5h0m-.4-.9h0m-2 .2h0m-.4-1h0m-.3-.2h0m-1 0h0m-1 .1h0m-.4 .3h0m-.4-.2h0m-.9-.2h0m-.9 .3h0m-1 .7h0m-.1 .3h0m-.3-.7h0m-1.9 0h0m-.6-.6h0m-3.8 .6h0m21.7 2.4h0m3.4 .1h0m1.6 0h0m1.2 0h0" stroke="#69B2E2" stroke-width="1.5" stroke-linecap="round"/>
<path d="M76.6 815.8V940.4M38 922.2H173.3" stroke="#333" stroke-width=".8" stroke-dasharray="4 2.6"/>
<text x="34.6" y="925.2" text-anchor="end" class="tf">0</text>
<text x="34.6" y="888.8" text-anchor="end" class="tf">0.5</text>
<text x="34.6" y="852.3" text-anchor="end" class="tf">1.0</text>
<text x="76.6" y="952.7" text-anchor="middle" class="tf">0</text>
<text x="116.5" y="952.7" text-anchor="middle" class="tf">0.2</text>
<text x="156.4" y="952.7" text-anchor="middle" class="tf">0.4</text>
<path d="M36.4 922.2H37.6M36.4 885.8H37.6M36.4 849.3H37.6M76.6 940.7V943M116.5 940.7V943M156.4 940.7V943" stroke="#444" stroke-width=".8"/>
<rect x="122.9" y="816.6" width="49.6" height="16.9" fill="#fff" stroke="#555" stroke-width=".8"/>
<path d="M124.9 821.7h0" stroke="#D93A6B" stroke-width="1.6" stroke-linecap="round"/><path d="M124.9 829.5h0" stroke="#69B2E2" stroke-width="1.6" stroke-linecap="round"/>
<text x="126.8" y="823.8" class="lf">Malignant  T cells</text>
<text x="126.8" y="831.6" class="lf">Reactive T cells</text>
<text transform="translate(18.5 884.5) rotate(-90)" text-anchor="middle" class="af">G2M_score</text>
<text x="109.9" y="961" text-anchor="middle" class="af">T cell activation_score</text>
<text x="104.8" y="805.3" class="gt" text-anchor="middle">T<tspan font-size="6.2" dy="2">CyEM</tspan><tspan dy="-2"> group</tspan></text>
<rect x="203.2" y="815.5" width="135.9" height="125.2" fill="#fff" stroke="#666" stroke-width=".9"/>
<path d="M238.4 818h0m7.5 1.1h0m-3.7 0h0m-.1 1.3h0m-10.2 .5h0m2 1.4h0m4.4 1.1h0m5.6 .3h0m.7-.4h0m8.5 1.4h0m-15.9 2.7h0m-1.8 .3h0m-1.5-1.4h0m-.5 .1h0m-.1 3.7h0m3.3-1.3h0m11.3 3.5h0m-4.5-.3h0m-2.9 .5h0m-3.1-.7h0m-2.9 1h0m-4-.1h0m4.7 3.6h0m3.5 .4h0m4.4-.8h0m1.3 .1h0m1.4-1.5h0m8.1 3.4h0m-10-.9h0m-.9 1.7h0m-6.2 .5h0m-.4 0h0m-.5-1.5h0m-3.6 .3h0m-.1-.1h0m-5.9 3.8h0m7 1.2h0m.9-1.1h0m3.7 .6h0m.5 .5h0m.1-1.1h0m.2 0h0m2.6-.6h0m.2 1.4h0m1.7-2.6h0m.1 1.2h0m7 3.6h0m-1.8-.7h0m-1.9 .9h0m-5.6-.1h0m-.2 1h0m-1.2-2.7h0m-.4 .5h0m-.7 .4h0m-4.5 .4h0m-2.3-.3h0m-10.1 .4h0m3.7 3.3h0m4.4-.6h0m1.6-.6h0m.5 2h0m0-.3h0m2.8 0h0m1.3 .3h0m1.1-2.5h0m.6 .6h0m2.4 1.3h0m1.1-.7h0m1.8-.6h0m9 1.8h0m8.8-2h0m-10.6 4.6h0m-1.1-1h0m-.4 1h0m-4.4 0h0m-2.8-.9h0m-.9 .6h0m-1.9 .4h0m-.6-1.2h0m-2.4 1.5h0m-.8-.4h0m-3.2-1.5h0m-.9 .4h0m-7.1 .6h0m-.6 .3h0m-4.9-1.7h0m7.2 3h0m1.7 2.2h0m7-.4h0m1.2 .7h0m.1-1.4h0m.4-.8h0m.7 .5h0m2.6 1h0m.8-1.3h0m1.5-.5h0m0 2.6h0m.1-1.2h0m.4 .3h0m1-1.3h0m.3 .5h0m1.2 .2h0m2.1 1h0m.2-1.3h0m1.8 .8h0m.9-.1h0m-2.8 3.6h0m-.4-1.8h0m-.9 1.9h0m-.7-.5h0m-1.7-1.8h0m-1.7 1.3h0m-.2-.5h0m-1.9 .3h0m-.1 .2h0m-.3 .1h0m-.4-1.3h0m-.4 2.1h0m-1.5-1.1h0m-.9-.1h0m-.7-1h0m-2 1.7h0m-1.6-1.2h0m-1.8 1.8h0m-4.9 .6h0m3.2 1.8h0m.8 1h0m1-.5h0m.4-2.4h0m0 .7h0m.1 2.1h0m1.6-.8h0m.3-.6h0m1.6-1h0m.9 1h0m1.1 1.3h0m.7-1.9h0m.1 .1h0m2.9 .7h0m.2-.3h0m1.1-1.2h0m2 1.7h0m1.8 .2h0m.4-.1h0m2.7-1.1h0m.5 .4h0m4.1 1.4h0m.4-2.6h0m8 .9h0m-6.8 2.3h0m-1.2 1.4h0m-2.3-.6h0m-4 .3h0m-.8 1h0m-1.5-1.6h0m-.2-.5h0m-.1-.2h0m-.1 .7h0m-.5-.4h0m-.9 .4h0m-2.6 2h0m-.5-1.8h0m-.1-.4h0m-2.6 2.2h0m-1.4-1.1h0m-1.1-1h0m-.8 1.2h0m-1.1 .3h0m-.8-1.7h0m-1.1 1.4h0m-4.9 .1h0m-.7-.3h0m-.5 0h0m-2.1 .5h0m-.3-2h0m-2.7 2.4h0m3.8 .8h0m2.6 .3h0m.9 .8h0m.1-.4h0m.8-.1h0m0 1.1h0m.6-.2h0m.7-.5h0m.1-.2h0m1.7-.5h0m.5-.4h0m.9 1.3h0m.8-.1h0m4.5 1.3h0m.4-.9h0m0-.6h0m.2-1h0m.3 .9h0m.9 .8h0m.4-1.1h0m0-.8h0m1.1 1.2h0m1.1 .8h0m1.7-1.3h0m.3-.5h0m.7 .7h0m.1 .8h0m.2-.3h0m1.8-.6h0m1.4-.3h0m1.3 1.2h0m.8 1.1h0m.1-1.6h0m1.1-.5h0m2.6 1.3h0m.3-1.8h0m.1 2.4h0m.6-1.1h0m4.1 1.9h0m-4.6-.1h0m-.9 0h0m-.3 2.2h0m-.1-1.1h0m-3.5 .7h0m-2.1-1.8h0m-.1 1.3h0m-.5 .1h0m-.7 0h0m-1-1.7h0m-.2 .1h0m-.4-.1h0m-.2 2.9h0m-.5-1.6h0m-.2-1.1h0m-.4 2h0m-.4-.6h0m-.2-.8h0m-.4 .9h0m-.1-.9h0m-.1 .4h0m-.8-.5h0m-.1 1.2h0m0 0h0m-1.4-.5h0m-.7-.7h0m-.2 2h0m-.5-.1h0m-.1-2h0m-.1-.2h0m-1.1 1.1h0m-.4 .7h0m-.1-.6h0m-.2-.2h0m-.9 1h0m-.4-.9h0m-.6 1.2h0m-.5-.5h0m-.6 0h0m-.7 .5h0m-.6-2.6h0m-.1 1.7h0m0 .6h0m-1.4-.2h0m0-2.1h0m-.7 .9h0m-1.2 1.7h0m-1.3-2.2h0m-12.1 2.8h0m5.5 1.5h0m1.6-1.8h0m.6 .1h0m4.3 .4h0m1.4 1.8h0m.1-2.2h0m1 2.5h0m1.3-.4h0m0 .1h0m.7-.6h0m2.3-.3h0m1.1 .7h0m.5-.3h0m1.4-.9h0m.3 2h0m1-.8h0m.8-.5h0m.2-1.6h0m.3 .3h0m0 .1h0m.2 .9h0m2.8 0h0m.3-.5h0m.5 2h0m.1-.2h0m1.9-2.4h0m.1 .9h0m.2-.1h0m.8 .4h0m.1 .1h0m.1-.5h0m1.6 .8h0m1.3-1.8h0m1.4 1.5h0m0 1.2h0m6.5-.3h0m6.9 3.5h0m-8.7-1.8h0m-1.7 .9h0m-2.6-1.6h0m-.8 2h0m-.9-1.6h0m-.2 1.6h0m-.6-1.1h0m-.2 .8h0m-.6-1h0m-.2-1h0m-.1 1.9h0m-.5-1h0m-1.5 .7h0m-.2 .8h0m-.2-1.7h0m-.5 .4h0m-.9 .8h0m-.8-1.7h0m-.2 .5h0m-.4 .8h0m-.9 .4h0m-.3-1.3h0m-.4 .7h0m-.6 .7h0m-.4 .5h0m-.6-.7h0m-.2-.7h0m0-1.2h0m-1.1 1.1h0m-.2 .4h0m-.2-1.1h0m-.3 2.3h0m-.2-1.2h0m-1.1 1.3h0m-1.2-.2h0m0-.1h0m-.2-.3h0m-.6 0h0m0-1.4h0m-.2 .1h0m-.2-.2h0m-1 1.6h0m0-.5h0m-.1-.2h0m-.3 .9h0m-.5-.4h0m-.1 .3h0m-.8-.9h0m-.1 .8h0m-.2-1h0m0 1.4h0m-.2-1.4h0m-.2-.9h0m-1.1 2.5h0m-.7-.1h0m-1.6-2h0m-.5 1.7h0m0-2.3h0m0 1.8h0m-.5 .7h0m-.3-1.9h0m-1.9 .9h0m-1.2-.1h0m-.5-.1h0m-2.4-1.2h0m-.8 1.8h0m-1.9 1.7h0m2.5 1.3h0m1.6-.1h0m.4-.3h0m.4 1h0m.3-2.1h0m3 1.1h0m1.5 .5h0m.3-.4h0m.1-.7h0m.7-.6h0m.2 2.3h0m0-1.4h0m1.4-.3h0m.3 .8h0m.3 .7h0m.2-1.4h0m.8-.7h0m.6 .2h0m.4 .1h0m.5 .3h0m.1-.9h0m.3 .2h0m.3-.3h0m.2 2.3h0m.1-2.1h0m.1 1.6h0m0 .9h0m1.2-2.1h0m0 1.6h0m.9-.6h0m.3-.5h0m1.1 1.1h0m.4-2.3h0m.2 2.2h0m.2-.6h0m.2 1.1h0m.1-1.6h0m.2-.5h0m.5 2h0m.3-1h0m.5-1.1h0m.6 1.8h0m.2-1.1h0m.5-.6h0m.1 2h0m.2-1.1h0m0 .5h0m0-1.6h0m.6 2.1h0m.1 .2h0m.6-2.4h0m.4 1.1h0m.8-1h0m0-.3h0m.5 1.2h0m.8 .3h0m.3 1.3h0m.1-1.8h0m.3 1.2h0m1.8-1h0m1.4 1.4h0m.1-.5h0m.6-1.3h0m2.3 .6h0m2.9-1h0m.5 .1h0m3.6 .4h0m2.8 .8h0m35.4 3.6h0m-12.6-1.9h0m-21.3 .5h0m-6-.6h0m-.6 1.4h0m-1.3 .2h0m-.9 .5h0m-.6-.3h0m-.6-1.6h0m-1 .2h0m-.6 .1h0m-.6 .4h0m-.1-1.1h0m-.2 0h0m-.3 0h0m-.1 .2h0m-.1 1.6h0m-.5-1.6h0m-.6 .7h0m-.4 1h0m-.6-1.6h0m-.4 .6h0m-.4-1.1h0m-.3 .8h0m-.5 1.2h0m-.2 .4h0m-.2-.3h0m-.4 .1h0m-.4-1.1h0m-.9 .3h0m-.1 .6h0m-.1-.7h0m-.2 1.3h0m-.3 .2h0m0-.8h0m-.3-1.8h0m-.2 1.9h0m0-.1h0m-.3-1.6h0m-1-.1h0m-.2 1.3h0m-.2-1.4h0m-.2 2.5h0m-.2 .1h0m-.1 .1h0m-1.1-1.8h0m-.5-.7h0m0 2.2h0m-.1-1.9h0m-.5-.7h0m-1 2.3h0m-.6-1.4h0m-.1 1.9h0m-.7-2.6h0m-.3 .4h0m0 2.2h0m-2.2-.2h0m-.2-.7h0m-.4 .2h0m-.1-.8h0m-.2-.5h0m-.6-.6h0m-.1 1.6h0m-.1 0h0m0-.1h0m-.6 1.1h0m-.1-.9h0m-2.5-.7h0m-.6-.3h0m-1.1 .1h0m-.2 0h0m-1 .8h0m-.2 0h0m-.1-1.3h0m-1.1 .1h0m-.1 1.6h0m-.5-.2h0m-.8 .7h0m-.5-1.3h0m-1.4-1.1h0m-3.6 2.1h0m-1 .4h0m-4.2 1.1h0m1.3-.1h0m4-.5h0m1.2 .8h0m1.3 0h0m2.4-.3h0m.3 .2h0m2.3 .8h0m.3-.5h0m1.6-1.3h0m.1 .6h0m.4 .2h0m.2 .8h0m0 0h0m.1-.3h0m0 1.4h0m0-.8h0m.3 .9h0m.5-1.2h0m0-.5h0m.7 1h0m.5 .7h0m0-.1h0m.4-2.7h0m.4 .1h0m.1 .9h0m.9 0h0m.1-.5h0m.2 0h0m.4 2.4h0m1.1-1.8h0m.1-.4h0m.4 1.4h0m.4-2.1h0m.1 .9h0m.1-.9h0m.3 1.8h0m.2-1.5h0m2.1 2.3h0m.5-.5h0m.2 .5h0m.2 .3h0m.1-2.4h0m.3 2h0m.7-.2h0m0 .3h0m0-.4h0m.2-1.3h0m.1 .2h0m.1 .1h0m.9 .6h0m.1 .1h0m.5-.5h0m0 .1h0m.4 .5h0m.2-2h0m0 1.5h0m.2-1.5h0m.1 2.8h0m.5-.9h0m0 0h0m0-.2h0m.1-.6h0m.4 .2h0m.1 .7h0m0 .2h0m1.7 .6h0m.4 .1h0m.1-2.7h0m0 2.4h0m0 .3h0m.2-1.8h0m.3 .7h0m.8 .7h0m0-1.8h0m.5-.1h0m.3 1.5h0m.2 .5h0m.1-.9h0m.4 .2h0m.5-1.9h0m.1 .4h0m.2 2.2h0m.1-1.9h0m.4 .7h0m.1-.9h0m.5 .8h0m.2 1.6h0m.3-2.8h0m0-.1h0m0 .7h0m.1 1.8h0m.2-1.6h0m.3-.2h0m.3-.3h0m.4 .9h0m1.8-1h0m.6 .2h0m.3 .9h0m.2-.6h0m1 .9h0m.7-.4h0m.2-.6h0m2.7 .8h0m4.8-.5h0m.6 1.8h0m67.9 1.7h0m-12.6 1.3h0m-53.8-.4h0m0-.8h0m-4.3 1.3h0m-2-2.8h0m-1 2.3h0m-1.1-.2h0m-2.3-.6h0m-.4-1.2h0m-.5 .2h0m-.5-.2h0m-2.6 .6h0m-.1-.3h0m0-.7h0m-.2 2.4h0m-.2-1.8h0m-.2 1.6h0m-.1 .7h0m-.1-1h0m0-1.9h0m-1 1.8h0m-.1 .5h0m-.1-1.4h0m-.1 .9h0m-.6 .4h0m-.2-2.2h0m-.2 .5h0m-.7 .2h0m-.2 1.3h0m-1.7-1.1h0m-.1 .2h0m-.4 1.6h0m-.2 .1h0m0-2.2h0m-.2-.5h0m-.2 1.6h0m-.3-.6h0m0-.4h0m-.1 1h0m-.4-.6h0m-.1 1.1h0m-.2-.6h0m-.8 .7h0m0 .3h0m-.1-2.5h0m-.3 2.2h0m-.5-.5h0m-.3 .3h0m-.3-.1h0m-1.3 .3h0m-.1-1.5h0m-.1-.2h0m-.2 .9h0m-.3 .6h0m-.1-1.3h0m-.3 .3h0m-.1 1.5h0m-.1-.4h0m-.3 .7h0m-.6-.5h0m-.2-2.1h0m0 1.6h0m-.1-.7h0m-.3 .7h0m-.2 .1h0m-.8-1.1h0m0-.6h0m-.2 .4h0m-.2-.2h0m-.3 2.1h0m-.1-1.5h0m-.2-1h0m-.2 2.8h0m-.1 0h0m0-.7h0m-.2-1.5h0m-.6 .6h0m-.3 .4h0m-.7 .4h0m-.6-.9h0m-.6 0h0m-.5-1.1h0m-.1 1.1h0m-.1-.7h0m-.1 .4h0m-.2 .7h0m0 .2h0m0-1.4h0m-1 1.9h0m-.6 .1h0m-.5-.8h0m-.9-.7h0m-.2 1.1h0m-.3-1.8h0m-.2 1h0m-1.2-.8h0m-1.3 .8h0m-.6-1.2h0m-.8 1.5h0m-.1-.6h0m-.1 1.4h0m0-1.9h0m-.1 .2h0m-.1 2h0m-.4-.5h0m-.3 0h0m-2.3-1.4h0m-.1 1.8h0m-1.4-.7h0m-8.9 4h0m3.4-.9h0m1.5 .9h0m1-.6h0m2.3-.5h0m.2-1.3h0m.2-.1h0m1.1-.3h0m1.5 1.9h0m.1-.6h0m.2-.8h0m1 1.7h0m.8-.3h0m.3 .4h0m2.7-.1h0m0-1.4h0m.8-.1h0m.6 1.1h0m.1-1h0m.5-.5h0m.1 2.3h0m.2-1.2h0m.9 1.1h0m.4-.3h0m0 .2h0m.2 .5h0m0-.3h0m.3-.2h0m0-.3h0m1.6-.8h0m.1-.5h0m0-.4h0m0 .4h0m.1-.5h0m.1 2.4h0m.3 0h0m.1-.5h0m.1-1.5h0m.8 0h0m.2 1.2h0m.6 .6h0m1.2-1.4h0m.1 .7h0m.1 .9h0m.2-1.7h0m0-1h0m.1 2.5h0m0-.9h0m.4 .1h0m.1 1.1h0m0-.3h0m.2-1.7h0m.5 1.9h0m.2-1.7h0m.2-.6h0m.1 .1h0m.2 .9h0m.6 .9h0m.7-1.1h0m.2-.9h0m.3 .5h0m.1 1.2h0m.4-1.8h0m.1 1.1h0m.1 .2h0m.1 0h0m.1-.1h0m.1-1.2h0m.3 .9h0m0 1.4h0m.9-.8h0m.1-1.4h0m0 2h0m.6-.7h0m0 1.1h0m.2-2.3h0m.1 1.7h0m0 .6h0m.1-2.1h0m0 1.1h0m.3 1h0m0-.1h0m1.3-.4h0m.8-2.2h0m.1 2.8h0m.4-2.7h0m.2 .4h0m.1 2.4h0m.8-2.5h0m.1-.4h0m0 1.9h0m1 .6h0m0-.9h0m.2-.5h0m.2 .7h0m.7 .9h0m0-.4h0m.3 .1h0m0-1.2h0m.3 1.4h0m.6-.1h0m0 .3h0m.4-2.4h0m.1 .8h0m.7 1.2h0m.3 .4h0m.1-.6h0m.3-.9h0m.3-1.1h0m.6 1.1h0m.2 .4h0m.3 .2h0m.5 .9h0m.3-.7h0m.5-.8h0m.5 1.5h0m.1-.4h0m.6-.8h0m2.6-1.3h0m.7 .3h0m.5 .6h0m.8 1.3h0m.5-.2h0m1.1-1.1h0m.2 1.5h0m1.1-1.6h0m.6-.7h0m-.3 4h0m-2.5-1.2h0m-.6 1.5h0m-.2-1.5h0m-.1 1.7h0m-.9-.9h0m-.9 1.4h0m-.2-2h0m-.7 .7h0m0 .4h0m-.3-.8h0m-.6 .9h0m-.4-.6h0m-1.4 1.2h0m-.9-.2h0m-1.1-.7h0m-.2 1h0m-.2-1.5h0m-.4-.1h0m-.1 1.6h0m-.5-1.3h0m-.2 .5h0m0 1.2h0m-.2-2.3h0m-.1 0h0m0 .2h0m-1.9 1.4h0m-.4-.7h0m-.8 .4h0m-.3-.2h0m-.3-1.3h0m-.5 1.2h0m-.2-1.4h0m-.1 1.5h0m0 .7h0m0-1.5h0m-.1 1.2h0m-.4 1h0m-.2-.7h0m-.3-.3h0m-.1 0h0m-.1-1.3h0m-.2 2h0m-.2-.1h0m-.2-.8h0m-.1 .9h0m-.6-1.2h0m-.2 .7h0m-.1-.6h0m0-.2h0m-.8-1.1h0m-.1 1.4h0m-.1 .6h0m0-1.7h0m-.1 .3h0m-.2 .6h0m-.1-.7h0m0 1h0m0 1.1h0m-.1-.7h0m-.4-1h0m0 0h0m0 1.3h0m-.2-1.8h0m-.2-.2h0m0 1.2h0m-.3 .8h0m-.1-1.6h0m-.2-.6h0m-.6 2.3h0m-.1-.5h0m-.4 .6h0m-.4-2.3h0m0 1h0m-.2-.8h0m0-.4h0m-.2 0h0m-.2 2h0m-.2-.8h0m-.4 .8h0m-.1-1.7h0m-.1 .4h0m-.2 .6h0m-.4-.2h0m0-.8h0m-.4 .3h0m0 .6h0m-.2 .7h0m-.1-1.2h0m-.3-.4h0m0 1.7h0m0 .6h0m-.7-1.2h0m-.1-1.3h0m-.4 .6h0m-.2 1.1h0m-.3-1h0m-.1 .4h0m-.2-.3h0m-.3 .4h0m0 .3h0m-.2-1.3h0m-.5 .4h0m-.2 .7h0m-.7 .2h0m0 .8h0m-.5-.6h0m-.3-.4h0m-.4 .4h0m-.1-.6h0m-.1 1h0m-.4-1.9h0m0 1.4h0m-.5-1.3h0m-.1-.1h0m-.3-.3h0m-.3 2.5h0m-.1-2.6h0m0 .2h0m-1.3 1.1h0m-.4 .7h0m-1 .5h0m-1-1.7h0m-.8 1.4h0m-.6-.6h0m-.2 .2h0m-.2-1h0m-1.3 1.2h0m0-1.1h0m-.3 .5h0m-.2 .7h0m0-1h0m-.2 0h0m-.1-1.1h0m-.3 .2h0m-.2 2h0m-.3-.4h0m-.3-1h0m-.5 1.2h0m-.4 .6h0m-1.8-1.8h0m-.6 1.8h0m-.2-.3h0m-.4 .1h0m-.2-.6h0m-.5-.2h0m-1.1-1.1h0m-6.3 3.8h0m1.4 1.2h0m2.1 .4h0m1.5-.5h0m3.5-1.9h0m1.7 2.2h0m.2-.2h0m0-1.4h0m.1 1.8h0m1.1-2.4h0m0-.5h0m.4 .6h0m.4 .4h0m.3 .1h0m.1-.2h0m.5-.9h0m0 1.6h0m.2-1.3h0m.5 .7h0m.7 .4h0m.9 1.4h0m0-.4h0m.1-1.2h0m1 .5h0m.1-1.6h0m0 .2h0m.2 1.1h0m0-.1h0m0-.2h0m.1 1h0m.1-1.3h0m.4 .7h0m.4 .9h0m.4-1.9h0m.6 .5h0m.2 1.7h0m0-2.4h0m.1 .2h0m0 .4h0m.1 .9h0m.9 .2h0m.1 .2h0m0-1.5h0m.8 .3h0m0 0h0m.8 .2h0m.3-.3h0m.2 1.5h0m.1 .4h0m.4-.7h0m.1-.6h0m.2-1.2h0m.3 .5h0m0-.1h0m.1-.5h0m.5 2.1h0m0-1h0m.1 .5h0m.2-1.3h0m.6 1.1h0m.2 1.3h0m.1-2.2h0m.2 0h0m1.3 1.1h0m0-.5h0m.2-1.1h0m.1 .5h0m0-.3h0m1.1 2h0m.1-1h0m.1-.4h0m0 .2h0m0 1.5h0m.3-2.4h0m.2 2h0m.5 .1h0m.1-1.7h0m0-.4h0m.1 .9h0m.1-1.1h0m.3 1.4h0m.1 .8h0m0-.6h0m1-.3h0m.2-.8h0m0 .3h0m0-.2h0m0-.2h0m.2 1.2h0m.2-1.6h0m0 0h0m.2 1.3h0m.3-.8h0m.4 1.6h0m0-1.5h0m0 2.2h0m.1-2.9h0m.4 2.1h0m.2-1.1h0m.2 1.1h0m.2-.9h0m.2-.2h0m.3 1.6h0m.2-.2h0m.1-1.5h0m0 1.8h0m.1-1.9h0m.5-.2h0m0 2.2h0m.7-1.4h0m0-.3h0m.2 1.5h0m0 .3h0m.2-1.6h0m.4 1.5h0m.1-2.8h0m.1 2.2h0m0-1.1h0m.1-.4h0m.8 .9h0m0-.4h0m.1-.4h0m.2 .1h0m1.9 1h0m.4-1.9h0m.3 .2h0m.2 1h0m0 1.7h0m0-2.9h0m.1 2.4h0m.1 .1h0m.2-.8h0m.4 .6h0m.6-.6h0m.2 .7h0m.5 0h0m.1-1h0m0 .9h0m.4 0h0m.6-.2h0m.4 .1h0m2.5-1.2h0m.3 .2h0m.7 .9h0m1.1-.7h0m.1 .9h0m.2-.6h0m.1-.6h0m1.5 .6h0m1.3-1.5h0m1 2.2h0m.2-2.3h0m.6 .7h0m.8 1.5h0m.2-.1h0m.4-1.4h0m1.9-.6h0m.1 2.3h0m3.5-.9h0m13.4 .1h0m9.8-.2h0m41-1.4h0m-34.8 3h0m-24.1 1.8h0m-5.5-1.2h0m-.9 .9h0m-.9 .1h0m-2.1-.4h0m-.3-.7h0m-.6 1.8h0m-1.8-.3h0m-1.5-.8h0m-.1 1.1h0m-.7-1.5h0m-.7 1.5h0m-1.8-1.9h0m-.4 2.2h0m-.7-.8h0m-.6-1.1h0m-.8 1.1h0m-.5 .9h0m-.2-.2h0m-.4-.5h0m-1.4-1.4h0m-.1 1.8h0m-.2 .3h0m0-2.7h0m-.1 1h0m-.7 .5h0m-.1-1.5h0m0 2.5h0m0-1.5h0m-.6-.1h0m-.4-1h0m0 1.7h0m-.7-1.7h0m-.4 2.5h0m-.2-1.4h0m-2.1 1.1h0m-.1 .4h0m-.4-.3h0m-.2-1.2h0m-.1-.8h0m0 .7h0m-.2-.1h0m0 1.4h0m-.3-2h0m-.2-.2h0m0 .7h0m-.2 1.2h0m-.5 .2h0m0-1h0m-.6 1h0m-.1 0h0m-.2-.2h0m-.1-1.9h0m-.3 .1h0m0 2.3h0m-.1 .4h0m-.2-.8h0m-.2-.9h0m-.6 1.5h0m-.2-1.1h0m-.3-.9h0m-.1-.2h0m0 2.3h0m-.1-2h0m-.1 1.8h0m0-.9h0m-.5-.3h0m-.2-1h0m-.1-.2h0m-.1 1.4h0m-.7-1h0m-.2 1.7h0m0-.6h0m-1-.9h0m-.2 1.1h0m-.1 .6h0m-.3-1.5h0m-.2 .1h0m-.2 1h0m-.2 .5h0m-.2-1.8h0m-.1 1.2h0m-.2 .8h0m-.3-.7h0m-.4-.3h0m-.1-.1h0m-.6 .2h0m-.4-1.6h0m-.2 .3h0m-.6 1.5h0m-.2-.2h0m-.2-1.6h0m0 1.6h0m-.3-.2h0m-.2 .3h0m0 .7h0m-.1-1.5h0m-.3 .8h0m0 .7h0m0 0h0m-.6-.4h0m0 .4h0m-.1-.7h0m0-1.7h0m-.2 .5h0m-.2-.7h0m-.1 2.5h0m-.1-1.1h0m-.5 1.1h0m-.4-1h0m-.2-1.4h0m-.2 1.8h0m-.2-.5h0m0 1.2h0m-.1-2.3h0m-.6 1.9h0m-.2 .3h0m-.2-.1h0m-.5-2h0m-.1 .9h0m0 1.1h0m-.2-1h0m-.6 1.3h0m-.1-.2h0m-.7-2h0m-.3 1h0m-.4-1.3h0m0-.2h0m-.2 1.1h0m-.3-.9h0m-.1 1.9h0m0-1.7h0m-.1 2.3h0m-.3-2.3h0m0 2.4h0m-.2-1.2h0m-.1-.2h0m0-1.1h0m-.3 .3h0m-.2 1.9h0m-.1-2.6h0m-.3 1.5h0m-.1 .1h0m-.1 1.3h0m-.1-1.1h0m-.3 .2h0m-.6-.6h0m-.2-1.4h0m-.1 1.2h0m-.1 .6h0m-1.1-1.6h0m-.4 2.6h0m-.1 0h0m-.7-2.3h0m-.4 .8h0m-.1-1.1h0m-.7 1.7h0m-.2 .7h0m-.1-1.4h0m-.1-.5h0m0 .9h0m-.2-.1h0m-.1 1.4h0m-.7-.2h0m0-1h0m-.7-.8h0m-3.2 .4h0m-.5 1.1h0m-.8-2.2h0m-1.9 2.5h0m-.3-2.6h0m-4.9 2.5h0m1.9 2.2h0m.8-1.3h0m4.4 1.8h0m.6 .6h0m1.3-.4h0m.2-2.1h0m1.4 1.1h0m3.1 1h0m.6-.6h0m.4 .5h0m.1 .1h0m.9-2.1h0m.3 .8h0m.7-.4h0m.3 .6h0m.3 .2h0m.5-1.6h0m.2 1.2h0m.3 1.2h0m.9-2.3h0m.4 .7h0m.9 .8h0m.3-1h0m.3-.6h0m.7 2.1h0m0-1.8h0m0 2.4h0m.2-.5h0m.1-.8h0m.3 .7h0m.1-.1h0m.1 .5h0m.5-2.4h0m0 2.6h0m.1-2.5h0m.4 1.6h0m.2 .3h0m.7-.8h0m.3 .3h0m.2 1h0m.1 .3h0m.1-1.7h0m.4 1.3h0m.1-2.2h0m0 1.8h0m.3 0h0m.1-.8h0m.1-.6h0m.5 2.2h0m.5-1.5h0m.2-1.1h0m.2 1.9h0m.1-1.9h0m.1 .6h0m.1-.9h0m.3 .8h0m.5 1.7h0m.7-1.3h0m.1-.7h0m.3 1.4h0m.2-.1h0m0 .2h0m.5 .9h0m.1-.5h0m.4-1.4h0m.2 1.4h0m.1-1.8h0m0 .4h0m.1 1.2h0m0-2.2h0m.1 2.5h0m0 .4h0m.1 0h0m.1-2.5h0m.1 1.7h0m0-1.6h0m.1 .9h0m0 1.4h0m.1-.9h0m0 1h0m.3-2.2h0m.1 1.4h0m.1-.1h0m0-.5h0m.1 1.2h0m.1-1.3h0m0-.4h0m.2 1.6h0m.1-.1h0m0-2h0m.1 2.1h0m.1-2.5h0m.6 2.6h0m.2-.3h0m0-1.2h0m1.4-.1h0m0 .4h0m.1-.6h0m.2 1.1h0m.3 .3h0m0-1.3h0m.1 1.9h0m0-.6h0m.1-2h0m.7 .5h0m.4 .9h0m0 1.2h0m.1 0h0m0-2.4h0m.1 .3h0m.4 1.5h0m.1-2h0m.2 2.3h0m.2-2h0m0-.1h0m0 1.2h0m.1 .4h0m.4-.1h0m.2 .5h0m0-1.7h0m.1-.1h0m.3 2h0m0-2.6h0m.2 1h0m.1 .8h0m0-1.4h0m.1 .5h0m.3 .4h0m.7 .6h0m.5-2h0m.9 .2h0m.1-.2h0m1.1 .4h0m.1 2h0m.2-1.8h0m.8-.3h0m.3 .6h0m.5 1.9h0m.3-1.5h0m0 .5h0m.1-1.7h0m0 2h0m0-.1h0m.3-.3h0m1.4-1.1h0m.2-.6h0m0 2.4h0m0 .3h0m.3-2.7h0m.4 2.6h0m.9-2.2h0m0 1.7h0m.2-1.2h0m.5 .2h0m.5-.7h0m.1 1.7h0m.9-1.5h0m.3 .9h0m.6 .2h0m.1 1h0m0-2.5h0m.8 1.8h0m.2 .4h0m1.1-2h0m1.1-.4h0m2.8 .2h0m.6 0h0m8.1 .6h0m.4 .4h0m.2-.9h0m57.9 .2h0m-37.5 4h0m-.5-1.5h0m-22.3 .6h0m-2.4 0h0m-.3 2.3h0m-1.3-.3h0m-.2-.7h0m-2.3 .9h0m-1.7-2.4h0m-.5 .7h0m-.4 1.8h0m-.6-2.4h0m-1.4 .5h0m-.6 0h0m-.8-.7h0m-1.9 0h0m-.4 1h0m-.4 .4h0m-.1-1h0m-.3 1.8h0m-.4-1.1h0m0-.3h0m-.1 1.3h0m0-.5h0m-.9-.3h0m-.7 0h0m-.1 .3h0m-.7 .1h0m-.4-.9h0m0 1.6h0m-.8-2.5h0m-1.1 .8h0m-.6-.1h0m-.6-.8h0m-.1 1.8h0m-.4 .7h0m-.5-.6h0m0 .6h0m0-.6h0m-.1 .9h0m0-2.5h0m-.1-.2h0m-.2 .8h0m-.1-.8h0m-.1 1.8h0m-.2-.4h0m-.5-.9h0m-.2 .1h0m0 .4h0m-.1 .3h0m-.1 .3h0m-.1-1.1h0m-.8-.1h0m-.1-.5h0m-.4 2.3h0m0-.7h0m-.2-1.6h0m-.1 .4h0m-.1 2.4h0m0-.9h0m-.2-1h0m0 .6h0m0-.6h0m-.1 .5h0m-.1-.3h0m-.2 0h0m-.4-.6h0m-.1 .4h0m-.4-.5h0m-.3 .5h0m0-1h0m-.2 2.1h0m-.2-1.1h0m-.2 1.2h0m-.1-.8h0m-.3 1.5h0m-.2-2.4h0m-.4-.4h0m-.2-.1h0m0 1.8h0m0 .7h0m0-.5h0m-.3 .9h0m-.1-1.8h0m-.6 1.1h0m-.3 .6h0m-.4-.7h0m-.4-1.5h0m0 2.2h0m-.1-.4h0m0-1h0m0 .3h0m-.2-.6h0m-.1 .2h0m-.2 .4h0m0-.2h0m0 .3h0m0-1.1h0m-.2 .3h0m-.1 1.1h0m-.2-1h0m-.3 1.3h0m-.8-1.8h0m-.1 1.4h0m-.2 0h0m-.4-.8h0m0-1.2h0m-.2 .9h0m-.3 1.9h0m-.4-.4h0m0 0h0m0-2.2h0m0 2.1h0m-.2-1.1h0m-.1 1h0m0 .5h0m-.4 .2h0m-.3-.2h0m-.1-2.6h0m-.1 2h0m-.2-1.1h0m0 .1h0m-.3 .7h0m-.3-1.4h0m-.1 2.1h0m-.1-1.1h0m-.6-.9h0m0-.3h0m-.1 .9h0m-.2-.2h0m-.1-.6h0m0 1h0m-.1-.5h0m-.1 1.9h0m0-1.8h0m-.1 1.7h0m-.1-.6h0m-.1-1.4h0m0 .2h0m-.1 1.8h0m-.1-1.2h0m0-.9h0m-.1-.2h0m0 1.3h0m-.1-.9h0m0 1.4h0m-.1 .2h0m-.1-1.5h0m-.2 1.8h0m-.1-1.2h0m-.4 1.4h0m-.3-2.8h0m-.1 1.6h0m-.1-.1h0m-.1-.9h0m0 .1h0m-.2 1.5h0m-.5-.3h0m0-1.7h0m-.2 2.5h0m-.2-1.5h0m0-.2h0m-.2 .8h0m-.1 .7h0m-.1-2.1h0m0 1.4h0m-.1 1h0m0 0h0m0-1.2h0m-.2 1.2h0m-.5-2.6h0m-.9 1h0m0 .4h0m-.1 .5h0m-.2-.6h0m-.2 0h0m-.1-.2h0m-.2 1.2h0m-.3-2.3h0m-.3 2.2h0m-.2 0h0m-.2-.4h0m-.6-.2h0m-.1-.7h0m-1.1-.4h0m-.3 2.1h0m-.1-1.4h0m0-1.2h0m-.4 1.5h0m-.1 .6h0m-1.4-.5h0m-.3-1.3h0m-.6 .3h0m-.6-.5h0m-.4 2.4h0m-.2-.1h0m-.9-2.6h0m-2.1 .3h0m-.1 1.7h0m-.3-.4h0m-.3-.1h0m-.1-.7h0m-.2-.1h0m-.5 .7h0m-2.1 1.1h0m-3.3-1.6h0m.3 2.7h0m.3 2.1h0m3-.3h0m1.7-1.5h0m.2 .4h0m2-.6h0m.9 2.2h0m.4-2.9h0m.3 2.4h0m.1-1.8h0m.3 1.6h0m.4-1.5h0m.5 .1h0m.1-.7h0m.4 .6h0m.3 .1h0m.1 1.5h0m.1-.3h0m0-1.6h0m2 1h0m1.2-.4h0m.2-.2h0m.2-.5h0m.4 1.4h0m.5-.7h0m.1 1.5h0m.2-.1h0m0-1.4h0m.2-1h0m.1 0h0m.3 2.2h0m.6-1.9h0m.1 1.2h0m0 1.4h0m.5-.1h0m.6-2.2h0m.1 0h0m.2 1.7h0m0 .5h0m0-2.7h0m.1 .3h0m.1 1.4h0m.2 .6h0m.2-1.1h0m.3-.8h0m0 1.8h0m.1 0h0m.5-1h0m.3 1.3h0m.3 .1h0m0-.3h0m.7-1.3h0m.4-.8h0m.1 .7h0m.2 .7h0m.1 .4h0m.2 .6h0m.1-.4h0m.1-1.6h0m0 0h0m.3 .6h0m.1-.5h0m.1 .8h0m1-1.4h0m.2 2h0m0-2.1h0m.4 .8h0m.2-.7h0m0 1.7h0m0-.2h0m.1-.8h0m0 .5h0m0 .2h0m.4-.5h0m0 0h0m.4-.2h0m.1 1.1h0m.1-1.5h0m.2-.1h0m.4 .3h0m.7 2.1h0m.3-2.4h0m.1 .3h0m.1 1.4h0m.3-.5h0m.1-.7h0m.2 1.2h0m.1 .2h0m0-1.3h0m.1 .4h0m0 .3h0m0-1.4h0m.2 .4h0m0 1.9h0m.1-1h0m0 .1h0m.4 .7h0m.6-1.4h0m.2 .9h0m.1-1.5h0m.1 2.4h0m0-.1h0m.1-1.1h0m.2 .8h0m.5-.1h0m.2-.5h0m.1-.6h0m0 1.6h0m0-.8h0m0-1.6h0m0 2.3h0m.1-.8h0m.1-.4h0m.6 .9h0m.4-1.9h0m.1-.3h0m.3 2h0m.1-.2h0m.1-1.7h0m.2 2.5h0m0-2.7h0m.2 1.5h0m.2 0h0m.3 .3h0m.1-1.5h0m.1 1.5h0m0 0h0m.2-1.6h0m.1 1.3h0m.3-1h0m.3-.1h0m0 2.2h0m.1-2h0m.1-.2h0m.3 1.9h0m.2 .2h0m.1-.1h0m.3-.5h0m1-1.4h0m.2-.1h0m0-.3h0m.5 2.3h0m.1 .1h0m.4-2h0m.1 .8h0m.2 .2h0m.2 .7h0m.1-.6h0m.2-1.7h0m.3 .7h0m0 1.1h0m.5-1.3h0m.3-.2h0m.5 1.7h0m.3 .6h0m.4-2.4h0m0 .3h0m.7 1.3h0m.1 .2h0m0-1.9h0m.1 2.3h0m.2-.5h0m.3-.8h0m.5 .2h0m.2 1.6h0m.1-1.7h0m.2-.7h0m.1 .1h0m.2 1.9h0m.3-1.5h0m.8 1.9h0m.1-2.6h0m0 1.2h0m.5 .9h0m.3-1.5h0m.1 .5h0m.1 .9h0m.5-2h0m3 1.2h0m.1-1.4h0m1 .7h0m1 1.9h0m1.6-1.8h0m1.6-.3h0m.8 1.2h0m.6 .1h0m4.3 .6h0m2.6-1.5h0m3.7-.8h0m17.4 2.7h0m-21.1 1.8h0m-4.7-.9h0m-.4 .2h0m-3.1-.3h0m-1 1.4h0m-.4 .1h0m-1.9-1.1h0m-1.8 1.1h0m-.7-.4h0m0-1.5h0m-1.2 .1h0m-.2 1.2h0m0-.1h0m-.1 0h0m-.3 .9h0m-.4-.6h0m-1.8-1.8h0m-.5 .9h0m0-.2h0m-.1 1.8h0m-.4-1.7h0m-.4-.6h0m0 1h0m-.4 1h0m-.1-1.7h0m-.4 .8h0m-.2 1.1h0m0 0h0m-.2-.8h0m-.4 .4h0m0-.6h0m-.4-1.1h0m-.5 .7h0m-.1 .9h0m-.3-.4h0m-.2 .2h0m-.4 .6h0m-.2-1.4h0m0 1.4h0m-.1-2.3h0m-.3 2.1h0m0-.8h0m-.1-.2h0m-.2-.1h0m0 .6h0m-.7-1h0m0-.6h0m0 .3h0m-.1 .4h0m0 1.8h0m-.2-.5h0m-.4 .4h0m0-1.1h0m-.1-1.1h0m0 1.4h0m-.8-1h0m-.2 .4h0m-.3-.2h0m-.2-.1h0m-.1 .8h0m-.2 1.2h0m-.3-.4h0m-.1-1.3h0m-.1-1h0m-.5 .6h0m-.2 1.2h0m-.2-1.2h0m-.2 2h0m0-.2h0m-.2 .5h0m-.4-.1h0m-.2-2.8h0m0 1.7h0m-.1 .4h0m0-.3h0m-.2-.2h0m-.4 .6h0m-.2-1.5h0m0 1.6h0m-.1-1.2h0m-.1-.1h0m-.1 1.8h0m-.2-2.2h0m-.1 1.5h0m-.1 .3h0m-.3-1.3h0m-.1 .3h0m-.2 .8h0m-.1 .1h0m-.2 .1h0m-.2-1.4h0m-.2 .4h0m0 .8h0m-.1-1.7h0m-.1 2.2h0m0 .1h0m-.2-.4h0m-.2-1.5h0m0 1.8h0m-.4-2.3h0m-.1 .2h0m-.5 1.7h0m0 .6h0m-.1-.4h0m-.1-1.7h0m-.3 .4h0m0 1h0m-.2-.8h0m-.2 1.5h0m-.1-2.2h0m-.3 1.4h0m-.3-.7h0m0-1.3h0m-.1 2.8h0m-.1-.7h0m-.3-1h0m0-.3h0m0 1.7h0m-.1 .1h0m-.1-1.7h0m-.1 .1h0m-.2 1.4h0m0-1.1h0m-.1 .4h0m0-.1h0m-.4-1.5h0m0 .1h0m-.1 1.2h0m-.2 .6h0m-.1-2h0m-.1 .9h0m0-.6h0m0-.1h0m-.1 1.8h0m-.1-2.1h0m-.1 1.8h0m0-1.1h0m0-.1h0m-.2 1.3h0m0-.4h0m-.1-1.3h0m-.1 .4h0m-.2 .6h0m0 1.7h0m-.1-.7h0m-.1 .1h0m-.1 .6h0m-.3-1.1h0m-.1 1h0m-.1-2.6h0m-.1 .2h0m-.2 .6h0m-.3-1h0m-.1 .8h0m-.2 2.1h0m-.1-1.9h0m-.9 .1h0m0 1.3h0m-.3 .5h0m-.4-1.1h0m-.4 .2h0m-.1-.8h0m-.2 .2h0m-.3-1.3h0m-.3 1.7h0m-.1-1.8h0m-.1 2.4h0m-.8-2.3h0m-.2 1.8h0m0-.6h0m-.2 .4h0m0-.9h0m-.5 .3h0m-.1-1h0m0 2h0m-.4-1.1h0m0-.5h0m-.2 2.4h0m-.1-2.8h0m-.1 1h0m-.2 .4h0m-.1-.8h0m-.2 0h0m-.3 1h0m-.9-.9h0m-.2 .5h0m-.1 1h0m0-1.3h0m-.8 1.8h0m0-2.4h0m-.3-.1h0m-.4 2.1h0m-.6 .1h0m-.6-1.6h0m-.2 1h0m0-.8h0m-.2 1.5h0m-.2-.5h0m0-1.8h0m-.2 .4h0m-.1-.2h0m-.1 .3h0m-.7-.1h0m-.8 1.7h0m-.8-1.3h0m-.6 .3h0m-1-.7h0m-1 .8h0m-.1 1.4h0m-.5-1.9h0m-.3 .1h0m0-.7h0m-.2 2.2h0m-.1-.1h0m-1.4-1.8h0m-3.2 1.9h0m-2.8 .7h0m.7 .6h0m1.1 .3h0m2.3 .2h0m.3 1.5h0m.9-2.2h0m.1 2.1h0m2-1.6h0m.4 1.5h0m1.5-.6h0m.8 0h0m.1-1.9h0m.6 1.7h0m.2-.5h0m.4-1h0m1.5 1.9h0m.2-.9h0m.1 .2h0m.1 1.1h0m0-2.5h0m.8 2.6h0m.1-1.9h0m0 .2h0m.1 1.7h0m.4-.7h0m0-.5h0m.1 .4h0m.2 .2h0m.4-.3h0m.2 0h0m0-.3h0m.4 .4h0m.5-1.8h0m.5 .7h0m.7 1.2h0m.1-1.4h0m.3 1.2h0m.3-1.2h0m.1 1.5h0m.2-1.9h0m.1 .1h0m.6 1h0m.1 0h0m.2 1h0m.2-.9h0m.1 .1h0m0 .2h0m.1 .6h0m.1-.7h0m0-.5h0m0 1.3h0m.2-2.1h0m.1 1.1h0m.1 .9h0m0-2.3h0m0 1.7h0m.3 .7h0m.3-.1h0m0-2.3h0m.1 1.4h0m.1-.4h0m.2 .1h0m0 .8h0m.1 .7h0m.4-.8h0m.2 .3h0m.2 .3h0m.2-1.5h0m.2 1.4h0m.4 .3h0m.4-.5h0m.2-1.3h0m.2 1.6h0m.1-2.3h0m.4 1.1h0m.4-.8h0m0-.5h0m.1 .7h0m0-.6h0m.1 2h0m.1 .5h0m.6-2.3h0m.2 1.5h0m.2-.7h0m0 .7h0m.2 .4h0m.2-.9h0m0-.9h0m0 1.3h0m.1-.5h0m.2 1.7h0m.1-1.4h0m0 1.3h0m0 0h0m.4-1.2h0m0-.2h0m0 1.5h0m.1-.1h0m.2-1.4h0m.2 0h0m.1-1.1h0m0 1.5h0m.2-1.7h0m0 1.7h0m.1-.8h0m.2-.8h0m0 0h0m.2 1.7h0m.3 .8h0m0-.5h0m.2 .7h0m0-2.4h0m.2 1.4h0m.3-1.2h0m.1 2h0m.1-.1h0m.1-2.1h0m.2 0h0m.2-.3h0m.1 .3h0m.1 0h0m.1 .2h0m0 2h0m.1 .2h0m.2-1.3h0m0 .5h0m.1 .2h0m.1-.8h0m.1-1.2h0m.1-.1h0m.2 .8h0m.1 1h0m0-1.5h0m.4 1h0m.4 .6h0m.1 .7h0m.6-2.8h0m.3 .1h0m0 1.4h0m.1-1.3h0m.5 2.2h0m0-2.4h0m.1 1.9h0m.2 .4h0m.1-.1h0m.5-.6h0m0 1.3h0m.2-2.5h0m.1 0h0m.1 .4h0m.4-.5h0m.2 1.6h0m.1-1.5h0m0 1.5h0m.2-.8h0m.1 1.1h0m0 0h0m.2-1.2h0m.1-.2h0m.8 2.1h0m0-1.9h0m.4 1.6h0m0-1.8h0m.3 2.1h0m.3-1.6h0m.1 .1h0m0-.4h0m.2 .1h0m.2 .5h0m0 .4h0m.1 .3h0m.1-2.3h0m0 1h0m0-.9h0m1 1.3h0m0 1.3h0m.1-1h0m.5 1h0m0-1h0m.2-.3h0m.3-.3h0m.2-.5h0m.2 1.7h0m.1-2.3h0m.3 1.1h0m.2 1.1h0m.2-1.2h0m.1-1h0m0 2.6h0m.4-1.7h0m.1 0h0m.2-.6h0m.1 2h0m.8 .4h0m.1-1.6h0m.2-.7h0m.1 1.9h0m.2-1.8h0m.5 .4h0m.1-.4h0m.2 .8h0m.1 1.5h0m.2-1.2h0m.3 0h0m.2 .6h0m.6-.3h0m.5 1h0m.2-2.3h0m0 .1h0m.8 1.4h0m.3 .5h0m.2-1.2h0m0-.4h0m.9 1.2h0m.1-1.6h0m.7 2.1h0m.5-2.3h0m.4 .2h0m.8 .8h0m.1-1.3h0m.1 2.2h0m0 .1h0m.1-1.1h0m.3 1.1h0m.1-1h0m0-.3h0m1.4 .2h0m.7-.9h0m.2 1.7h0m.1 .4h0m.3-2.3h0m.1 1.3h0m1.1-.7h0m.3 .5h0m2.5-.3h0m1.4 1.2h0m3.4 .2h0m16.9-.7h0m5.5 .1h0m7.1-1h0m4.6-.7h0m12.8 2h0m15.3 1.4h0m-2.6-.4h0m-11.6 .2h0m-.8-.1h0m-.8 1.8h0m-18.4-.2h0m-2.2 0h0m-.8 .3h0m-2.9 .6h0m-1.6-.3h0m0 .2h0m-1.1-1.7h0m-1.1 1.6h0m-3.7-.6h0m-.1-.9h0m0 1.7h0m-4.1-1.3h0m-1.7 1.1h0m-4.4-1.1h0m-1.1-1.1h0m-.9 1h0m-.6-.9h0m-1 1.9h0m-.4-.9h0m-.1 .2h0m-.7-.1h0m-.6-1.3h0m-4.3-.1h0m-3.3 1.3h0m-.9 .5h0m-.7 .8h0m-.1-.5h0m-.8-.8h0m-.2 0h0m-.2-.4h0m-.6-.2h0m-1 1.2h0m-.2 .3h0m-.3-1.6h0m-.4 1.4h0m-.2-.5h0m-1.3-1.6h0m-.5 2h0m0-1.5h0m-.4 2.3h0m-.3-1.9h0m0 .2h0m-.4 1.3h0m-.6-.9h0m-.4 .1h0m-.5-.7h0m-1-.1h0m-.4-.6h0m-.2 2.2h0m-.5-1.7h0m0-.2h0m-.2-.4h0m-.3 1.5h0m-.4 .8h0m-.3-.8h0m-.2 .4h0m-.1 .2h0m-.5-.9h0m-.1-.5h0m-.3-.4h0m-.6 1h0m-.2 .9h0m-.1 .3h0m-.4-1h0m-.4-1.3h0m-.1 1.2h0m-.1-.7h0m-.4 .7h0m-1 .9h0m-.4 .1h0m-.1 .3h0m-.1-.9h0m-.2-1.9h0m-.1 .8h0m-.2 1.4h0m-.2-.5h0m-.1-.7h0m-.1 .5h0m-.4-.7h0m-.3 1.6h0m-.5-1.6h0m-.4-.1h0m-.1 .3h0m-.1 1.8h0m0-1h0m-.1-.8h0m-.1-.8h0m-.6 1.2h0m-.1-1.2h0m0 1.2h0m-.1-.7h0m0-.2h0m-.1 .7h0m-.3-1.1h0m-.9 .8h0m-.1-.7h0m-.1 .9h0m0 0h0m0-.8h0m-.1 2.3h0m0-.7h0m0-1h0m-.3 1h0m-.1 .9h0m-.4-.6h0m-.1-1.3h0m-.3-.1h0m-.5-.5h0m-.1 .1h0m-.1 .2h0m0-.2h0m-.7 1.9h0m-.2-1.9h0m-.1 2.4h0m-.2-1.3h0m-.4 .6h0m0-.7h0m-.1 1.3h0m-.9-1.6h0m-.1-.8h0m0 2.6h0m-.1-1h0m-.8 .3h0m0-1.1h0m-.5 .4h0m-.3-1.2h0m-.1 1h0m0-.6h0m-.2-.3h0m-.2-.3h0m-.4 1.7h0m-1.1 .4h0m-.3-.3h0m-.2 .7h0m-.1-.7h0m0-.2h0m-.1-.5h0m0-1.1h0m-.2 2.2h0m-.1-2.2h0m-.2-.1h0m-.1 .4h0m0 .3h0m-.3 1.4h0m-.1-1h0m-.1 1.6h0m-.4-.5h0m-.1-2.2h0m-.2 2.3h0m-.3-1.9h0m-.1 .5h0m-.4 1.3h0m-.3-1.1h0m-.3-1h0m-.4 .5h0m0-.5h0m-.1 2.4h0m-.5-1.2h0m-.6 0h0m-.3 .2h0m-.3 1.1h0m-1.5-2.6h0m-.3 1.4h0m-.2-.9h0m-.1 1.4h0m-.4 .9h0m-.4-.8h0m0 .6h0m-.3-.2h0m-.7-1.2h0m-.2 1.2h0m-.6-1.6h0m-.3-.7h0m-.1 2.7h0m-.5-2h0m-.5 .3h0m-.1-.6h0m-.1 1.8h0m0 .2h0m-.3-.1h0m-1.6-1.2h0m-.8-.6h0m-.6 1.3h0m-.9-.8h0m-.3 1.5h0m-.2-1.2h0m-1-.8h0m-.6-.3h0m-.6-.3h0m-1.6 .6h0m-1.6 .8h0m-.8 1.1h0m-.5 .3h0m-.2-.6h0m5.1 1.6h0m.3 1.2h0m2.3-.7h0m.3-.7h0m.2-.6h0m.7 2.1h0m1.5-2.1h0m.2 1h0m.2 .2h0m.8-.6h0m1.3 .2h0m1.1-.8h0m.1 2.4h0m0 .2h0m0-1.5h0m.2 1.1h0m.4 .6h0m0-1.9h0m1.6-.1h0m0 1.3h0m.2-1h0m.4 1.6h0m0 .2h0m1.4-1.8h0m.6 .6h0m.2-1.2h0m.9 2.4h0m.1 0h0m.8-2.3h0m2.3-.2h0m.8 .1h0m.1 .4h0m.1-.6h0m.5 .4h0m0-.5h0m.1 0h0m.1 1.8h0m.3-.9h0m0 .1h0m.3 1.7h0m.2-.1h0m0-1.9h0m.9-.6h0m.6 .1h0m.2 1.1h0m.1-1h0m.1 .1h0m.2 .9h0m.1 1.4h0m.1-2.3h0m.2 1.7h0m0 .5h0m.3-2.1h0m.1-.7h0m.3 2.1h0m0-.7h0m.1-1.3h0m0 .5h0m.1-.2h0m.2 1.7h0m.4-1h0m.1-.8h0m0 .7h0m.3 .8h0m.1-1.8h0m0 1.3h0m.9 1.1h0m.3-.6h0m.3-.7h0m.8-.3h0m.4 .6h0m0 .8h0m1.2-1.9h0m1-.3h0m.3 2.6h0m0-2.5h0m.7 1.2h0m.5-.8h0m.3 1h0m.3 .5h0m.1-1.5h0m.2 1.2h0m.3 0h0m.1 1.1h0m.4-.3h0m.4 .3h0m0-1.5h0m.5 1.1h0m.3-2.3h0m.7 2.7h0m.1-2.6h0m.6 .1h0m.1 .6h0m0 1.8h0m0-1.6h0m.1-1.1h0m.1 1.8h0m.1 1.1h0m0-2.1h0m.4 1.5h0m.8-.1h0m.2 .6h0m.3-1.7h0m.5 1h0m.3-1.6h0m.5 1.5h0m.3 .5h0m.2-.3h0m.3-.7h0m.3-.9h0m0 .7h0m.9 1.1h0m.1-2.2h0m.6 1.8h0m1-1.4h0m.5 1.2h0m.3-1.4h0m.6 1.1h0m.2-.7h0m.1 1.7h0m.3-.5h0m.4-1.3h0m1.6 1.4h0m1.2-1.6h0m.6 2.2h0m1.1-2.4h0m4 1.8h0m1.9 .2h0m.5-1.4h0m.9 1.3h0m.8 .4h0m.2-2h0m1.2 .4h0m.2 1.4h0m0 .1h0m1.8-.8h0m.2-1.3h0m1-.3h0m2.4 1.3h0m.6-1.2h0m.1 1.9h0m0 .7h0m.1-.6h0m1.8 0h0m.1-.2h0m.2-2h0m0 2.7h0m6.3-2.2h0m1.8 1.3h0m3.7 .6h0m.2-1.5h0m1.2 1.1h0m.7-.4h0m1.1 .6h0m.3-1.2h0m1.7 .7h0m0 .3h0m1.6-.3h0m0-.9h0m1.6-.5h0m1.7 2.5h0m15.5-.1h0m14.4-1h0m-9.5 4.2h0m-20-.3h0m-2.3-2.2h0m-.6 2.2h0m-1-.2h0m-1.9-1.8h0m0 .7h0m-.3 1h0m-.6-.9h0m-.1-.6h0m-.2-.3h0m-2.7 .8h0m-.5 0h0m-2.4-1.3h0m-1.3 1.8h0m-.1-1h0m-.1 .8h0m-1.3-.2h0m-.5 .6h0m-.5-.5h0m-1 .6h0m-.3-1.6h0m-.3 .8h0m-1.2 1.1h0m-.4 .2h0m-.4-.7h0m-.8-.6h0m-1.1-.7h0m-.3 .8h0m-2.7-.1h0m-.7-.7h0m-.2 1.7h0m-2.3 .1h0m-.3-.7h0m-.6-1.5h0m0 2.6h0m-.7-1.4h0m-.2 .8h0m-.2-.3h0m-1.3 .5h0m-.6-1h0m-.9-1h0m-.5 2.2h0m-.1-.6h0m-.2-.3h0m-.3 .3h0m-.4 .7h0m0-2.3h0m-1.4 0h0m-.1-.2h0m-.4 1.2h0m-.3 .4h0m-.2 1.1h0m0-1.7h0m-.1-1h0m-.5 .2h0m0-.3h0m-.1 2.5h0m-.6-1.8h0m-.2 .9h0m-.8-.5h0m-.1-.5h0m-.3 1.9h0m-.2-1.8h0m-1.2 .6h0m-.3 .8h0m-.8 .3h0m-.2-.8h0m-.2-1.5h0m-.2 .4h0m-.7 1.3h0m-.1-1.6h0m0 1.9h0m-.4-.2h0m0 .7h0m-.1-1.8h0m-.6 .4h0m0 1.5h0m-.5-1.2h0m-.2-.8h0m0 .6h0m-.1-.9h0m0-.5h0m-.4 1.4h0m-.1-.9h0m-.1 2h0m-.5-.7h0m-1.4-.3h0m-1.6-.6h0m-.1 1.4h0m0-.5h0m-.3-1.5h0m0 1.6h0m0-1.1h0m-.3-.2h0m0 1.4h0m-.1-.8h0m-.1 .4h0m0 .5h0m0 .5h0m-.2 .1h0m-.1-1.7h0m-.2 .2h0m-1-.1h0m-.1 1.2h0m-.4-1.5h0m-.1 0h0m-.2 .9h0m0-.8h0m-.8 1.6h0m-.3-1.5h0m-.1 1.8h0m0-.2h0m-.4-.8h0m-.1-1.2h0m-.1 .6h0m-.4 .5h0m-.4-.8h0m0 1.8h0m-.4-.5h0m-.1 .6h0m-.3-2.4h0m-.1 1.7h0m0-2.1h0m-.3 1.4h0m-.1-.9h0m-.3 1.4h0m-.3-1.4h0m-.5 2.2h0m-.2-.7h0m-.2-.7h0m-.5 .9h0m-.1 .2h0m-.6-1.4h0m-.1 .8h0m-.1-.9h0m-.3 .5h0m-.1 .2h0m-.3 .6h0m-.1-1.5h0m-.3 1.8h0m0-.2h0m-.1-1.2h0m-.7 1.5h0m-.9-1.7h0m-.1 1.4h0m-.2-1.3h0m0 1.8h0m-.1-.8h0m-.1-.1h0m-.7-.4h0m-.3 0h0m-.1 1h0m-.3 0h0m-.1-2.3h0m0 1.3h0m0 1.1h0m-.6 .1h0m-.2-1h0m-.1 .6h0m0-1.3h0m-.1 1.9h0m-.1-2.9h0m-.1 2.2h0m-.1-1.3h0m-.2 .5h0m-.1-1h0m-.5-.4h0m-.5 1.1h0m-.2 .6h0m-.1 .6h0m-.1-1.5h0m-.3 1.5h0m-.4-.9h0m-.1-.1h0m-.2 1.2h0m0-1.4h0m-.2 1.7h0m-.2-2.1h0m0 .4h0m-.1 1.5h0m-.4-1h0m0 0h0m-.6 .8h0m0-1.9h0m0 .8h0m-.1 1.4h0m-.1-1.6h0m-.1 .5h0m-.2 1.2h0m-.2-1.5h0m-.4 1.5h0m-.5-.9h0m-.1-.4h0m-.2 0h0m-.1-1h0m-.2 1.9h0m0-1.2h0m-.6-1h0m-.8 2.1h0m0-2h0m-.6 0h0m-.8 .5h0m-.1 1.2h0m-1 .3h0m-.2 .2h0m0-.1h0m-.1-.3h0m0-.8h0m-.1-1.1h0m0 2h0m-.3-.3h0m-.3-.9h0m-.1 .4h0m-.4-1.1h0m-.2 2.4h0m-1.7-.7h0m-.1 .5h0m-1 .4h0m-.1-1.9h0m-.4 1.8h0m-1.4-.5h0m-.2 .2h0m-.5-1.4h0m-.8 .3h0m-1.3-.1h0m-3.4 1.4h0m-3.2 .1h0m0-2.6h0m-.7 3.2h0m.2 .4h0m.8-.4h0m1.5 2.3h0m.4 0h0m.3-.2h0m.6-1.6h0m1 1.2h0m.9-.6h0m.7-.5h0m.3 1.5h0m.3-.2h0m0-.5h0m.1 .6h0m.1-.4h0m.3 .8h0m.1 .1h0m0-.5h0m.1-2.2h0m.6 1.9h0m.3 .7h0m0-2.3h0m.1 .4h0m.7-.6h0m.5 .7h0m.3 1.3h0m.2-1.2h0m.7-.7h0m.2 1.7h0m.2-.2h0m.3-1.3h0m.4 .2h0m.4 1.4h0m.2-.1h0m.2-1.4h0m.8-.6h0m.4 1.9h0m.3-1.6h0m0 .3h0m.1 .2h0m.3 1.9h0m.1-2.5h0m0 1.6h0m.2 .3h0m.2-.4h0m.2-.8h0m.1 1.4h0m0-1.5h0m.1 2h0m.1-1.2h0m.5 .2h0m.3 .5h0m.4-2.4h0m.2 2.2h0m.1-1.6h0m.2 .9h0m.3-.8h0m.1 .3h0m.1-.3h0m.1 .6h0m.1-.2h0m.1 .2h0m.1 .4h0m.1-.1h0m.5 .9h0m.1-1.1h0m0 .8h0m.1-.6h0m.3-.6h0m.2 .1h0m0 1.4h0m.2-1.6h0m.1 1.4h0m.2-.5h0m.2 .6h0m.4-1.8h0m0 .5h0m.3 1.2h0m.2 .2h0m0 .3h0m.1-.8h0m.1-1.6h0m.1 1.8h0m0-.4h0m.1 1.1h0m.2-1.9h0m.1 .7h0m.4 .7h0m0-2.3h0m.1 1.8h0m.1-1h0m0 .1h0m.1 .6h0m.1-1.6h0m.3 2.6h0m0-.5h0m.2-1.7h0m0 2h0m.1-1.2h0m0 1.1h0m.1 .2h0m0-.5h0m.1-.2h0m.3-1.6h0m.3 1.5h0m.3-1.7h0m.1 2.9h0m.1-2.8h0m.2 1.7h0m.5-1.6h0m0 .5h0m.1 1.7h0m0-2.4h0m.2 2h0m0-1h0m.1 1.2h0m.3-1.1h0m.5 1.8h0m.1-.4h0m.3-2.5h0m.1 2.2h0m.1-1.3h0m.3-.1h0m.1 .4h0m0 1.4h0m.1-.7h0m.3-.2h0m.2-.7h0m0 .6h0m.5 0h0m.2 1.3h0m0-.8h0m.1-1.6h0m.1 1.1h0m.4 .7h0m.2-1.5h0m.1 2.1h0m.3-1.3h0m0-.4h0m.2-.6h0m.2 1.3h0m.1 .1h0m0-.6h0m.1-.6h0m.1 .3h0m.4 .3h0m0-.4h0m0 .9h0m.1 .1h0m0 .1h0m0-.2h0m.4-.3h0m.3 .1h0m0-.1h0m.1-.3h0m.1 .2h0m.1 .9h0m.1-2.3h0m0 2.8h0m.5-2.5h0m0 2.5h0m.1-2.6h0m.1-.1h0m.2 .4h0m.1-.1h0m.1 1.7h0m.1-1.5h0m0 .2h0m0 1h0m.1-1.5h0m0 1.6h0m.2 .8h0m.4-1.5h0m0 .1h0m.1 .6h0m.2-.6h0m.1 1.2h0m.2 .1h0m.1-.3h0m.1-.9h0m.5 .1h0m.1-1.4h0m.1 .1h0m.1 1.5h0m.4-.2h0m.2-.9h0m0-.2h0m.2 1.8h0m.1 .6h0m0-.9h0m.3 .9h0m0-2.9h0m.5 2.3h0m.1-.1h0m.1-2h0m.1-.2h0m0 1h0m.1 1.3h0m.3 .2h0m.2-2.2h0m0 .2h0m.5 .7h0m0-.9h0m.1 1.9h0m.1-.6h0m0-1h0m.3-.1h0m0 1.6h0m.2-1.8h0m0 1.9h0m.5-.6h0m.2-.9h0m.1 2h0m0-.5h0m.4-.2h0m.1-.1h0m.4 .3h0m.3 .1h0m0 .5h0m.3-.8h0m0-.6h0m.2 .9h0m.1-.7h0m.1-1.4h0m.1 1.7h0m.1-.5h0m.3 1h0m0-2.2h0m.1-.2h0m0 1h0m.7 .5h0m.1 1.2h0m0-1.6h0m.2 .2h0m0-1.3h0m.2 2.6h0m.1-1.2h0m.2-1h0m0 .2h0m.3 1h0m.1 .1h0m.4 1.2h0m.1-.5h0m.6-2h0m.5 1.8h0m0-.6h0m.3-.4h0m0 1h0m.1 .1h0m.2-2h0m.2 1.4h0m.2-.6h0m.5-.6h0m0 1.6h0m.3-1.5h0m.2 .4h0m.4 .4h0m0-1h0m.2 2.4h0m.5-1.8h0m0 .2h0m.1 .7h0m.1 0h0m.4-1.2h0m.1 2.1h0m.4-2.3h0m.5 1.4h0m.1 .2h0m.4-.4h0m.7-.4h0m0 .8h0m.3 .6h0m.4-.3h0m.1 .4h0m1-1.1h0m.4-.9h0m0 .5h0m.6 1h0m.2-1.7h0m0 .5h0m.1-1.1h0m.4 1.7h0m.2 1.2h0m.5-1.4h0m.2-1.1h0m.3-.1h0m.6 .4h0m.1 0h0m.7-.5h0m.2 2.5h0m.3-1.4h0m1.1 .7h0m.1 .8h0m.3-1.5h0m.1-.9h0m0 .6h0m1.4-.6h0m.2 1.3h0m.8-.7h0m.6 .5h0m.4 1.4h0m.9-1.7h0m.1 .1h0m0-1.1h0m1.3 1h0m.4 1.3h0m.2-.3h0m.7-1h0m0-.5h0m.5-.4h0m.2 2.4h0m.2 .2h0m.3-2.7h0m.4 2h0m.3-.2h0m1.6-1h0m.1 1.8h0m.1-1.5h0m.5 1.3h0m1.4-1.1h0m.1-.3h0m1.7 1.4h0m.2-2.6h0m.9 .8h0m1.2 .7h0m.3-.6h0m.4 1.1h0m.4-1.5h0m.8 .7h0m0 .8h0m1.2-.5h0m.2 .8h0m.7-1.2h0m.1-.8h0m.5 .4h0m1.9 1.8h0m.2-.9h0m.2-.4h0m1.1-.9h0m2.3 .9h0m1.1-.4h0m.3 1.9h0m.5-.3h0m.1-1.5h0m5.8-.4h0m-8 4.4h0m-.1-1h0m-2.1-.3h0m-.1-.6h0m-1.2 .7h0m-2.1 1.1h0m-2.4-1.2h0m-1.2-.4h0m-6.4 1h0m-.2 1.3h0m-2.7-2.5h0m-.1 1.5h0m-.2 .2h0m-1.3-1.1h0m-.8 .9h0m-.4-1.2h0m-.9 1.1h0m-.3-.7h0m0 1.6h0m-.1-1.5h0m-.1 .5h0m-.2 .3h0m-.1 0h0m0-.4h0m-.7 1.5h0m0-1.1h0m-.2-1.4h0m-1.7 1.9h0m-.2-2.1h0m-.1 2.8h0m-2-2h0m-.7 2.1h0m-.3-1.1h0m-.1-1.1h0m-.8 1.9h0m-.6-2.5h0m0 2.3h0m0-.1h0m0-.6h0m-.5-1.5h0m0 0h0m-.8 1.2h0m-.4 .6h0m-.2-1.8h0m-.5 1.5h0m-.9-1.3h0m-.1-.1h0m-.3 .5h0m-1 .7h0m-.3-1h0m-.1 .2h0m-.3-.3h0m-.1 0h0m-.6 1.4h0m-.3-.4h0m-.3-.2h0m-.2 .5h0m-.7 .4h0m-.5 0h0m-.1-.7h0m-.2-.5h0m-.7 1.4h0m0-1h0m-.2 0h0m0 1.5h0m-.1-2.2h0m-.3 .6h0m-.1-.6h0m-.5-.5h0m-.2 2.7h0m0-1.4h0m-.3-.5h0m-.4-.6h0m-.1 1.3h0m-.1-1.5h0m-.1 1.3h0m0-1.3h0m-.2 1.4h0m-.3-1.2h0m-.1 2.2h0m-.1-.5h0m-.2-.6h0m0-.6h0m-.1 1.7h0m-.1-.6h0m0-.1h0m-.3-1.4h0m-.1-.3h0m-.1 1.4h0m0 0h0m-.2-.9h0m-.1 1.5h0m-.1-.2h0m-.1-1.1h0m0 0h0m0-.1h0m-.5 1.5h0m0-2h0m-.1 1.3h0m-.5-1.3h0m-.1 2.3h0m0-1.7h0m-.1-.5h0m-.2 1.7h0m-.2 .7h0m0-.1h0m-.1-.1h0m0-.5h0m-.5-1.6h0m-.1 1h0m-.4 1.1h0m-.4-1.9h0m-.6 1.7h0m-.2-.7h0m-.1-.1h0m-.2 .7h0m-.3-.5h0m-.2 .7h0m-.2-2h0m0-.1h0m-.2 2.2h0m-.4-.2h0m0 .6h0m-.3-2.9h0m-.3 2.8h0m-.1-1.6h0m0-.7h0m-.5 1.4h0m-.3-.6h0m-.3-.3h0m-.3-.2h0m-.1 .8h0m0-.9h0m0 2.2h0m-.2-2.9h0m-.4 1.6h0m-.1-.8h0m0 1.7h0m-.6 .2h0m-.3-1.9h0m0 1.7h0m-.1-1.7h0m-.5-.3h0m-.3 .6h0m0 1.5h0m0-1.8h0m-.2 .6h0m-.1-1.3h0m-.1 2.2h0m-.3 .5h0m-.3-.6h0m0-2.2h0m-.2 2.7h0m-.1-2.5h0m-.1 1h0m-.1 1.7h0m0-2.7h0m0 .2h0m-.4 2.2h0m-.1-.7h0m-.5-1.3h0m-.1 2.1h0m-.1-.9h0m0 1h0m0-2.3h0m0-.3h0m-.1 2h0m0-1.7h0m0-.1h0m0 1h0m0 1.1h0m-.2-.8h0m-.5-.7h0m-.1 .5h0m-.1-.7h0m0-.2h0m-.3-.1h0m-.2 .7h0m-.2 1.2h0m-.5-.8h0m-1.4-.3h0m0 .3h0m-.3 1.3h0m-.4-2.9h0m0 2h0m-.2-.4h0m-.3-.1h0m-.7 1.1h0m-.1-.3h0m-.1-.2h0m0-.3h0m-.4-.6h0m-.3-.5h0m-.1 2.2h0m0-.3h0m-.1-1.1h0m-.1 1.2h0m-.2-2.5h0m-.3 1.9h0m-.4-.6h0m-.1 .2h0m-.1 1h0m-.3-2.4h0m0 1.7h0m-.2-.5h0m-.3-.1h0m0-.8h0m-.1 1.3h0m-.2-.4h0m-.1-1.2h0m-.2 .8h0m-.6 .9h0m-.1 .5h0m0-.3h0m-.2-.1h0m-.2-2h0m-.1 0h0m-.2 .2h0m-.2 1.3h0m-.1-.7h0m-.3 .7h0m-.3 .3h0m-.1 .5h0m-.1 .2h0m0-1.8h0m-.3-.4h0m-.2 1.1h0m-.1-1.5h0m0 .5h0m-.2 .8h0m-.1 1.5h0m0-2.7h0m-.1 .5h0m-.4 1.2h0m-.2 .2h0m0-.4h0m-.5-1.5h0m0 .2h0m-.1 .7h0m-.1-1h0m-.3 .1h0m-1.1 1.9h0m0-1.4h0m-.3 .4h0m-.1-.9h0m-.4 1.6h0m-.4-.3h0m-.2 1.5h0m0 0h0m-.4-1.8h0m-.3 1.6h0m-.6-.4h0m-.4-.3h0m-.3 .4h0m0-.9h0m-.2 .7h0m-.9-.6h0m0 .5h0m-.1-1.8h0m-.3 1h0m-.1-.3h0m-.1-.5h0m-.3 1.9h0m-.2-1h0m-.4 .3h0m-.3 1.1h0m-.2-.7h0m0-1.4h0m-.5 1.1h0m-.2-.2h0m-.3 .7h0m-1.2-2.1h0m-.3 1.1h0m-.1 .5h0m-.3-.7h0m-.1-.2h0m0 .1h0m-1 1.2h0m-.1-1.5h0m-1.4 1.5h0m-.1-1.2h0m-.2 .7h0m-.3-.3h0m-1.7-1.3h0m0 2.3h0m-.4 .3h0m-.8 .8h0m2.8 .4h0m.6 1.6h0m.4-1.8h0m.9-.2h0m.1 .8h0m.4-1.1h0m2.5 .3h0m.1 1.7h0m.1-1.8h0m.4 0h0m.5-.3h0m1.4 2h0m1.1-1.6h0m.3 .1h0m.9 1h0m.4 .8h0m1.4-.3h0m.1-.4h0m.7 .9h0m.7-1.5h0m.2 1.3h0m.7-1.6h0m.2 .2h0m0-.1h0m1 .1h0m.1-.3h0m0 0h0m.5 1.8h0m.1 0h0m.1-.7h0m.9 .8h0m1.3-1.9h0m.2 1.5h0m.2-1.3h0m0-.5h0m.1 2.5h0m.4-1.6h0m0-1.3h0m.7 .2h0m.6 .9h0m.1 .3h0m.2-.1h0m.2-1h0m0 1.8h0m1.1-2h0m.4 .4h0m.3 2.4h0m.9 0h0m.1-1.8h0m.2 .6h0m.1 .5h0m.1-1.6h0m.4 1.5h0m.1 .8h0m.1-2.8h0m.4-.1h0m.4 .1h0m.2 1.6h0m.2-.2h0m.5-.3h0m.1-1.2h0m.6 1.1h0m.7 0h0m.2 0h0m0 .7h0m.5-1.6h0m.1 .7h0m.4 1.5h0m0-.3h0m0 .6h0m.4-.4h0m.5-1.9h0m0 2h0m.5-2.4h0m.4 .1h0m.1-.1h0m.5 1.4h0m.2-.2h0m.6-.6h0m.2-.6h0m.5 1.8h0m.1-.3h0m.3-.6h0m.6-.3h0m.2 1.3h0m.4-.1h0m.4-1.6h0m.2 1.7h0m.3-1.1h0m.1 .2h0m0-.5h0m.4 .1h0m1-.1h0m.3 1.9h0m.1-1h0m.1-.9h0m.6 1.3h0m.4-1.4h0m.3 .4h0m.9-.4h0m.2 .3h0m.1 1.7h0m0-1.8h0m0 1.7h0m.1-1.5h0m.1 .3h0m.1 .9h0m0-1.7h0m.2 .6h0m1.1-.3h0m.1 1.8h0m1-.5h0m.8 .5h0m.5-2.2h0m.3 .5h0m.2 .4h0m.9 .3h0m.5 0h0m0-1.2h0m0 2.6h0m.3-.3h0m.2-2.1h0m.1 .1h0m.6 0h0m.3 1.9h0m.3 .4h0m.7-2.7h0m.4 .2h0m2.1 1.1h0m.2-1.3h0m.1 1.7h0m1.4-1.7h0m.8 2.8h0m.3-.9h0m.9-.5h0m.8 .5h0m.3-1.1h0m.2-.3h0m.1 1.3h0m.3 .5h0m.1-.6h0m1.1 .1h0m1.2-.6h0m1.9-1.3h0m.9 1.3h0m.1-1h0m5.7 .9h0m.1-.6h0m2.8 .5h0m1.4-.5h0m1.2-.5h0m4.3 1.6h0m8.5-.2h0m1.5 1.4h0m-12.9 1.9h0m-6.3-1h0m-4.1 .9h0m-4.8 .7h0m-.2 .3h0m-4.7-.3h0m-.4-1.4h0m-.1-.2h0m-.5 .4h0m-.1-.1h0m-1.4 .4h0m-1.1-.7h0m-2.8 1.2h0m-2.5-1.8h0m-1.8 .7h0m-2.8 1.2h0m-1.7-.9h0m-2 1.5h0m-.2-2h0m-.1-.7h0m0 .4h0m-1-.4h0m-.4 1.4h0m-1.1 .6h0m0-1.3h0m-.2 1.6h0m0-1.5h0m-.3 .8h0m-.4-1.2h0m-.4 2.2h0m-.3 .1h0m-.4-2.2h0m-1.2 1.5h0m-.8-1.5h0m-1.6-.3h0m-1.7 1.9h0m-1.1-1.6h0m-.1 1h0m-1.2-.4h0m-.4-.1h0m-2.3-.7h0m-.1 .7h0m0-.1h0m-1.7-.1h0m-.8-.1h0m-.3-.7h0m-1.5 .5h0m-2 0h0m-.2 1h0m-.9-1.5h0m-.3 0h0m-1 .3h0m-.8 .6h0m0-.2h0m-12.7-.4h0m-.8-.2h0m-.9 2h0m16.5 1.6h0m.8 0h0m9.8 1.4h0m1.3-2h0m4.7 .1h0m14.1 2.1h0" stroke="#D93A6B" stroke-width="1.5" stroke-linecap="round"/>
<path d="M212.5 927C213 924.8 214.4 920.8 217 919C219.6 917.2 224.2 916.9 228 916C231.8 915.1 235.5 913.8 240 913.5C244.5 913.2 250 913.4 255 914C260 914.6 265.2 916.2 270 917C274.8 917.8 280.4 918 284 919C287.6 920 290.3 921.3 291.5 923C292.7 924.7 292.9 927.2 291 929C289.1 930.8 285.2 932.5 280 933.5C274.8 934.5 266.7 934.9 260 935.3C253.3 935.7 246.3 935.8 240 935.8C233.7 935.8 226.3 935.5 222 935C217.7 934.5 215.6 933.8 214 932.5C212.4 931.2 212 929.2 212.5 927Z" fill="#69B2E2"/>
<path d="M231.4 837.2h0m33.3 20h0m-15.8-2.2h0m5.2 4h0m2.7 1.1h0m4.5 1.5h0m0-.6h0m-9.4 0h0m-12.1 2.7h0m-2.1-1.3h0m-6.1 1.4h0m-18.5-.4h0m17.2 1.3h0m3.1 .2h0m4.4 .2h0m-6.8 4.4h0m14.6 1.1h0m7.5-.5h0m23 1.8h0m-17.7 1.8h0m-6.5 3.7h0m6.6 3.5h0m-8.7 .6h0m-2-1.4h0m-3.3 1.6h0m-4.1-2.5h0m-.8 .8h0m-2.8 3.9h0m3.8-1.7h0m.3 2.1h0m3.7-.1h0m7.4-.1h0m2.1-1.3h0m17.8 2.2h0m-14 .9h0m-9.4-.1h0m-1.1-.7h0m-3.1 2.1h0m-5.8-.6h0m-2.6-1.2h0m-.5 1.9h0m-9.6-1.3h0m-3.1-.1h0m-6.5 3.2h0m9.1-1h0m10 1.2h0m8.2-1.3h0m2.1 .6h0m.2 .5h0m.4 1h0m11.6 1.7h0m-3.5 0h0m-2.2 1.6h0m-2.8-.8h0m-1.5-.6h0m-1.2 1.5h0m-8.4-1.2h0m0-.4h0m-11.8-.3h0m-3.5-.5h0m-1.7 5.7h0m4.2-1.7h0m4 .1h0m3.8 1.6h0m6.8-1.9h0m1.1-.8h0m.6 1.7h0m0 1h0m7.7-.4h0m2.6-1.3h0m8.5 .5h0m3.3 3.4h0m-2.4-1.7h0m-11.3 1.1h0m-1.5 1.2h0m-3.6-1.1h0m-.3-1.4h0m-3.1 1.9h0m-.4-1.2h0m-1.4 1.2h0m-.6-1h0m-3.2 0h0m-1.8-.1h0m-.1 0h0m-9.8 .8h0m10.9 2.4h0m.3 .4h0m5.9-.8h0m.5 1.1h0m2-1.2h0m2 .6h0m2.8-.7h0m1.6 1.3h0m4.4-1.7h0m3.5 .8h0m5.8 .7h0m1-1.2h0m7.8 3.7h0m-14.6 1.5h0m-1.2-.5h0m-1.5-1.2h0m-1.2 .4h0m-2.7-.6h0m-.7-.2h0m-.5 1h0m-4 .4h0m-1-.7h0m-.6 0h0m-.2-1.1h0m-.4 1.8h0m-.3 .4h0m-1.6 .4h0m-2.5-2.1h0m-1.6 2.1h0m-3.8-1.5h0m0 0h0m-1.6 .5h0m-1.7 1.1h0m-1.5-1.4h0m.1 2h0m.1 1.5h0m.4-1.3h0m.7 .4h0m1 1.5h0m2.2 .3h0m.9-.6h0m.2-1.5h0m0 1.9h0m2.2-.4h0m0-.4h0m.4 .6h0m2-2.1h0m.3 .3h0m.5 2.2h0m.5-.8h0m.8-1.8h0m.9-.2h0m1 1h0m3.1 1.4h0m.2-2.4h0m.7 1.9h0m.5-.7h0m2 .8h0m7 .4h0m4.8 .2h0m3.6-2.4h0m3 2.2h0m.2 .1h0m2-.5h0m1-.3h0m-6.4 2.6h0m-8.1 .4h0m-1 .9h0m-8.3-2h0m-3.6 .9h0m-1.3-.1h0m-7.6 .5h0m-.6 .6h0m-3-1h0m-4.6-.7h0m-5.8 2.2h0m4.4 2.7h0m1.4 0h0m2.9-2.5h0m.4 2h0m.5 0h0m.2-.3h0m.1 1h0m.6-.5h0m2.8 .1h0m.1-.9h0m.8 .8h0m.5 .1h0m.1-.5h0m.5-.1h0m1.4 .2h0m1.8-.9h0m.6 .9h0m.3-1.3h0m.1 1.2h0m.1 .2h0m.2 .7h0m1.7-.2h0m.1-.3h0m.1-.2h0m.2-.1h0m.1 0h0m.8-1.6h0m.2 .9h0m1.6-.1h0m.2 1.5h0m.2-.9h0m0 .4h0m.3-2.1h0m.1 1.7h0m.1-.1h0m.9 .2h0m.4 .1h0m.2-.3h0m.8 .3h0m.8-.4h0m.6-.1h0m.1 .2h0m.5 .3h0m0-1h0m2 .9h0m.5-1.8h0m.1 2h0m.4-.8h0m.9 .4h0m1-.5h0m2.8 1.3h0m.4-1.1h0m.1 .5h0m.1 .3h0m.5-.9h0m.6 .2h0m.3-.1h0m2.3 .4h0m.4 1h0m1.2-2.6h0m3 1.9h0m1 .2h0m15 3.1h0m-1.8-.5h0m-.5 .3h0m-1.6 .2h0m-.2-.2h0m-1.7-.4h0m-.2-1h0m-.1 1.7h0m-.6-1.7h0m-.1 2h0m-.1-1.4h0m-.3 1.3h0m-.1-2.1h0m0 .8h0m-.2 .8h0m-1.1-1.7h0m-1.6 1.7h0m-.6 .3h0m-.7-2.3h0m-.1 1.6h0m-.2-.4h0m-.1 1.2h0m-1.1-.5h0m-.7-1.8h0m-.7 .9h0m-2.9-1h0m-.8-.1h0m-1.2 2.5h0m-.2-1.5h0m-1.1-1h0m-.7 .5h0m-1.2 .4h0m-1.1-.3h0m-1.9-.2h0m-1.6 0h0m-.4-.3h0m-2.1 2.3h0m0-2.6h0m-3.4 .3h0m-.2 1.4h0m-.1-1.5h0m-.7 2.2h0m-.5-2.2h0m-2.1 2.3h0m-.2-2.5h0m-.4 .4h0m-1.3-.4h0m-.8 .5h0m-1.6 .3h0m0-.8h0m-.1 .3h0m-.3 2.5h0m-.9-2.3h0m-1.1-.4h0m-.5 .7h0m-.6-.8h0m-1.4 1.2h0m0-.7h0m-.5-.1h0m-1.4 2.4h0m-.3-2.8h0m-.6 1.3h0m-.2-.4h0m-.2-.9h0m-.1 .4h0m-.2 .4h0m-.2-.5h0m0 .6h0m-.7-.9h0m-.2 .9h0m-2.2 .2h0m-.3 0h0m-.1-.3h0m-.1 .9h0m-.8 .5h0m-.2-2h0m-.3 1.2h0m-.4 1.2h0m-.3-.7h0m-.1-.5h0m-.9 .2h0m-1.2 1h0m-.3-2.3h0m-.2-.2h0m-1 1.2h0m-.2 .5h0m-.1-1.5h0m-.2 1.3h0m-.2-.6h0m0 .7h0m-.1-.2h0m-.1 .6h0m-.2-.7h0m-.1-1.2h0m-.7 1.4h0m-.1 0h0m-2-.2h0m-1.6 1h0m-2.4 .5h0m-.2-1.7h0m0 1.3h0m-2.6-1h0m-1.5-.9h0m-.8 4.6h0m1.4 .2h0m.5-.4h0m.4 .2h0m.6-1.8h0m1.1 2.3h0m.2-.1h0m.1-1.3h0m.5 .9h0m.1-.8h0m.8 .2h0m.8 1.2h0m.4-2h0m.5 1.7h0m2.2-2h0m1.7-.5h0m.5 2.3h0m6.7 .1h0m.2 0h0m5.4 .4h0m.9-2.1h0m.7 2.2h0m0-.2h0m1.3-1.7h0m.1 .6h0m.5 .2h0m.7 .9h0m3.5 0h0m.4-2.4h0m1.3 .1h0m.3 .4h0m1.6-.4h0m1.5 1.7h0m.3-1.8h0m0 .3h0m.6 0h0m1.7 1.2h0m.4-.6h0m.2 1.3h0m4.2-.6h0m1.8 .5h0m1.3-.5h0m.3 .5h0m1.7 .4h0m.8-.1h0m2.3-.4h0m.9-.5h0m10.8-1.2h0m.6-.5h0m.3 .2h0m.2-.2h0m1 .6h0m.7 .4h0m.1-.1h0m.8 .4h0m1.3 .2h0m.1-1.4h0m1.1 2.7h0m1.1-1.3h0m1.2 1.1h0m.4-.2h0m.3-2.5h0m.5 .1h0m.1 1.8h0m0-.9h0m.3 .5h0m.7 .4h0m.4-1.1h0m0 1.3h0m.1-.9h0m2.7 1.4h0m.4-.1h0m7.7-1.3h0m21.2 1.7h0m3.8 2.3h0m-2.1-1.2h0m-2.7-.6h0m-5 1.6h0m-16.1-.4h0m-4.8 .3h0m-.5-1.9h0m0 1.4h0m-.2 1.3h0m-.7-1h0m-.2-.5h0m-.1-1.2h0m0 .8h0m-.7 1.4h0m-.3-2.2h0m-.2 0h0m0 .9h0m-.7 1.6h0m-.1-.8h0m-.1-1.1h0m-.4 .7h0m-.2 .5h0m-.1 .5h0m-.7-.4h0m-.4 .4h0m-.6-.5h0m0 .1h0m0 .8h0m-.4-.6h0m-.5-.1h0m0-1h0m-1-.3h0m0 .5h0m-1.3-1.1h0m-.3 2.7h0m-3.2-2.7h0m-3.9 1.4h0m-1.9-.8h0m-2.1 .6h0m-.3 .9h0m-1.6 .2h0m-.1 0h0m-.4 .3h0m0 0h0m-.6-.3h0m-3 .4h0m-.9-1.4h0m-.6 .9h0m0-2.3h0m-.3 2.9h0m-.5-2.1h0m-.8 .2h0m-.2-.9h0m-.3 .3h0m-1.4 .7h0m-1.3-.8h0m-1 1h0m-1.1 .4h0m-.5 .7h0m-.1-1.3h0m-.9 .8h0m-.1 .7h0m-.9-1.1h0m0 .9h0m-.1-.5h0m-.1 .6h0m-.1 0h0m-.4-1.1h0m-.2-.2h0m0 0h0m-.9-1.1h0m-.1 2.7h0m-.5 0h0m-.4 .1h0m-.5-2.3h0m-.2 1.1h0m-.8-1.3h0m-.1 1h0m-.4 .4h0m-.4 .1h0m-.1-.9h0m-.9 1.3h0m-.1-1h0m-.1-.2h0m-.3 1.3h0m-.2 .5h0m-.2-2.9h0m-1.4 2.9h0m-.3-.5h0m-.5-.6h0m0 .6h0m-.4 .3h0m-.3-1.9h0m-.5 .4h0m-1.1 .9h0m-.4-1.5h0m-.3 0h0m-.7 2.2h0m-.2 .1h0m-.1-.6h0m-1.5 .5h0m-.5-1.3h0m-.9 .6h0m-.7 0h0m0 .8h0m-3.1-.2h0m-.2 0h0m-1-.5h0m-.3-.9h0m-.7 .1h0m-.1 .2h0m0-.7h0m-.3 2h0m-.4-1.6h0m-1.2-.1h0m-.2 .4h0m-.4-.9h0m-.3-.2h0m-.5 .5h0m-.9 1.2h0m-.1-.8h0m-.5 .5h0m-1.3 .5h0m-.9-.1h0m-1.1-1.9h0m-1.2 1h0m-2 .4h0m-.6-.2h0m-1.5-.4h0m-.2-1.2h0m-.5 1h0m-.2-.5h0m-.4 .9h0m-.1-1.3h0m-.1 .3h0m0 .5h0m-.4-.3h0m-.3 1h0m-.1-1.5h0m-.4 1.4h0m-.2-1h0m-.2 .3h0m0-.1h0m-.3 2h0m0-1.4h0m-.5-.1h0m-.1-.2h0m-.7 .3h0m0-.4h0m-.1-.1h0m-1 1.5h0m-.4-2.1h0m-.1 1.9h0m0-1h0m-.1 1.8h0m-.1-.5h0m-1.1-1.8h0m-1.1 1.4h0m-.2 .7h0m-.3-1.1h0m-.6 1.2h0m0 .1h0m-.7-.9h0m-.7 .6h0m.3 1.5h0m.6 1.1h0m.9-1h0m.2 .6h0m.8-.2h0m.1-.3h0m.3 .3h0m.5-.9h0m.3 1.5h0m.4-1.6h0m.2 .5h0m0-.9h0m.7 .4h0m.4 1.7h0m.2-.7h0m.2 .3h0m.1-1.8h0m.2 .6h0m.3 1.1h0m1.5-1.4h0m.1 1.5h0m.3-.9h0m.1 .4h0m.3-.6h0m.1 .4h0m.1 1.4h0m.1-1.6h0m.1-.5h0m.2 .5h0m.3 1.9h0m.1-1.8h0m.2 .2h0m.2 .7h0m.1 .4h0m.2 .3h0m.6-2.4h0m.9 1.2h0m.5 .7h0m.1-1.5h0m.1 1.8h0m1.2-.2h0m.1-1.8h0m.2 1.7h0m.6-2h0m.4 .8h0m.3 1.9h0m.7-.6h0m.7-1.2h0m.6 .5h0m0-.8h0m0 0h0m.8-.8h0m.1 .1h0m1.4 1.9h0m.8 0h0m0-.5h0m.6 .3h0m.6 .7h0m.7-.2h0m.4 .3h0m0-.1h0m.8-2.1h0m.1 .8h0m.1-.3h0m.2-.7h0m.5 .4h0m.4 .8h0m.1-.5h0m.3 1.3h0m.1 .2h0m.3-1.3h0m.2-1h0m.3 .3h0m0 2.5h0m.4-2.1h0m.3-.6h0m1 .1h0m.3 .2h0m0 .4h0m.3 1h0m.1 .8h0m.4-1.6h0m0 .2h0m.1-.6h0m.8-.5h0m.2 1.3h0m0 0h0m.2-1.3h0m.2 1h0m0-.9h0m.2 1.7h0m.6 .6h0m.1-2.6h0m.2 2.1h0m.2-1h0m.3 .1h0m.2 .1h0m.4-.9h0m.2 1.5h0m0-.7h0m.6 .7h0m.2-1.5h0m.2 2h0m.3-.3h0m.3-.9h0m.6 .8h0m.6-1.6h0m.2 1h0m.5 .9h0m.1-.6h0m.1-1.2h0m.3 .8h0m0-1h0m.1 1.9h0m.3 .6h0m.3-2.8h0m0 .7h0m.2 .8h0m0 1.1h0m0-.5h0m0-1.1h0m.1-.9h0m.1 2.2h0m.2 .2h0m0-1.1h0m.1 .5h0m.1-1.6h0m.3 .2h0m.4 .4h0m0 .1h0m0 1.5h0m0-2.2h0m.2 1.2h0m.1-1.5h0m.7 2.2h0m.2-.6h0m.2 1.2h0m.1-2.3h0m.2-.5h0m.5 1.4h0m0-.4h0m.1 1.1h0m.1-.5h0m.3 .8h0m.1 .2h0m.6 .3h0m.7-2.7h0m0 .2h0m.2 2.3h0m.1-2.2h0m.5 0h0m0 1.7h0m.7-1.8h0m.1 2.2h0m.1-1.3h0m.2-1.2h0m.1 2.7h0m.1-1.4h0m.3 .5h0m.2-1.7h0m.2 .6h0m.6 .5h0m.1-.3h0m.5 1.5h0m.6-1.2h0m.1 0h0m.1 .1h0m0 .3h0m.1-.1h0m.1 .4h0m.5-.7h0m0-.9h0m.1 1.2h0m.8-1.5h0m1 .3h0m.1 2.3h0m.2-1.1h0m.1 1.3h0m.2-.9h0m.2-1.8h0m.6 1.2h0m0 .7h0m.1 0h0m1-.7h0m.8 .8h0m1-1.2h0m.3-.4h0m.3-.5h0m1.9 1h0m.4-.2h0m0 1.9h0m.2 0h0m1.4-1.1h0m1.2-.6h0m1.6-.1h0m.2 .4h0m1.4 .6h0m1.1-1.3h0m1 1.3h0m.2 .5h0m.5-.8h0m.1-.5h0m.1-.4h0m.1 .5h0m1.8-.1h0m1.8-.4h0m.2-.3h0m2.7 1.8h0m.1-.6h0m2.1-.4h0m2.8 .3h0m.1-1.1h0m.8 .5h0m.6 .9h0m.5-1.7h0m.1 .9h0m.4 1.7h0m.2-1.3h0m.6-1.4h0m.4 2.7h0m.2-.6h0m1.4 .1h0m.2-1.5h0m.4 .5h0m.2 1.3h0m.2-.6h0m.2-1.6h0m.6 1.1h0m.8-.9h0m.1 .4h0m.5 .9h0m2.5-.7h0m.9 .9h0m.8-1.3h0m.9 .2h0m.5 .1h0m4.4-1h0m18.4 .5h0m2.4 2.1h0m2.6-2.5h0m-13.5 4h0m-17.8-.6h0m-3.4-.6h0m-1.5 .2h0m0 .1h0m-.2 .3h0m0-.6h0m-.4 2.3h0m-2.2-1.2h0m0-1h0m0 1.3h0m-.3 1h0m-.2 .5h0m-.1-.9h0m-1.5-.9h0m-.4-1.1h0m-.7 1.6h0m-.9-.5h0m0 .9h0m-.9-.3h0m-.9-.9h0m0 1.5h0m-4.9 .5h0m-.7-1.7h0m-.7 1.1h0m-.4-1.7h0m-1.9 .9h0m-.7 .1h0m-.4-.9h0m-1.5 1.2h0m-.4-.2h0m-.4-.9h0m-.4 1.8h0m-.4-1.5h0m-.3 .2h0m-1.3 .3h0m-2-1h0m-.7 .8h0m-1.6-.9h0m-.5 2.1h0m-.3-.4h0m-.9-.2h0m-.4-1.4h0m-.5-.3h0m-.5 .2h0m-.4 1.1h0m-.1-.7h0m-.3-.2h0m-.4 1.1h0m-.2-1.2h0m-.2 1.4h0m-.5-.6h0m-.1-.2h0m-.1 .8h0m-.5-1.4h0m-.2-.3h0m-1.5 2h0m-.2-1.6h0m-.6 .5h0m-.3 1.4h0m-.1-2.3h0m-.2 2.6h0m-.4 .1h0m-.2 0h0m-1.7-1.2h0m-.6-.5h0m-.4-1.1h0m-.3 .3h0m-1 .1h0m-.4 2.2h0m0-2.6h0m-.1 2.8h0m-.3-2.7h0m-.5 .6h0m-.5 .6h0m-1 .1h0m-1.1 .6h0m-.1-1.8h0m-.4 1.5h0m-.3-1.6h0m-.6 1.1h0m-.4-1.1h0m0 2.1h0m-.1-1.9h0m-.4-.4h0m-.9 1.9h0m-.2 .4h0m-.1-.9h0m-.2-.7h0m0-.7h0m-.8 .6h0m-.2-.3h0m0 2.5h0m-.4-1.9h0m-.1 .3h0m-.1 .9h0m-.1-1.8h0m-.2-.2h0m-.1 .8h0m-.6-.2h0m-.7 1.3h0m0-.4h0m-.4-1.1h0m-.3 1.7h0m-.5-1.9h0m-.3-.3h0m-.2 1.2h0m-.7-.4h0m-.1 .2h0m-.3 .3h0m-.3 0h0m-.1 1.2h0m-.4-2.4h0m-.1 1.4h0m0-1.4h0m-.2 1.5h0m-1.3-.2h0m-.1 .4h0m-2 0h0m-.1 0h0m-1.1-.5h0m0-.5h0m-.2 1.8h0m-.7-.9h0m-.7-1.3h0m-.5 1h0m-.1-.3h0m-.6-1h0m-.8 .3h0m-.5 .8h0m-.3-1h0m-.7-.2h0m-.3 2.5h0m-2.3-1.2h0m-1.9-.7h0m-.9 2.3h0m-1-.2h0m-.6-1.4h0m-.3-.3h0m-.1 .9h0m-.1 .3h0m-.4-1.6h0m0 1.5h0m-1.6 .4h0m-.1-2.5h0m-.4 2h0m-.4-1.3h0m-.6 .5h0m-.5-.2h0m-.1-.1h0m-.1 .1h0m-.6 1.6h0m-.3-2.2h0m-.5 .7h0m-.3-.2h0m-.3 .4h0m-.1 1.3h0m-.8-1.2h0m-.3-.7h0m-.4-.5h0m-.1 0h0m-.1 1.7h0m-.5-.8h0m-.4 2.6h0m3.3-.4h0m2.6 .9h0m0-.4h0m.4-.3h0m.2 .3h0m.9 .3h0m1.3-.6h0m.3 1.4h0m.2 .7h0m1.2-.5h0m.6-1.1h0m.2 0h0m1-.2h0m.1 .5h0m.1 .2h0m.7 .4h0m.1-.2h0m.1 0h0m.2-.8h0m.3-.7h0m.1 1.8h0m.1 .3h0m.3-.4h0m.2-.4h0m1.5 .6h0m.6-.6h0m.2-.2h0m.1 .7h0m.6 .9h0m1.2-.3h0m.5-2.5h0m.5 2.1h0m.2 .4h0m.6-1.7h0m1.2 2h0m.8-.5h0m.3-2.1h0m1 1.5h0m0 .3h0m3.4-1.7h0m.9 2.2h0m2.2-2.1h0m.5 .2h0m0-.6h0m.9 2.2h0m.8-2h0m1.1 0h0m4.4 .4h0m.1-.1h0m3.4-.4h0m3 .1h0m.2 1.1h0m1.5-.6h0m1.3-.8h0m.4 2.5h0m3.1-.6h0m3.8-1.5h0m.4-.2h0m2.1 .9h0m1-.9h0m3.2 1h0m.1 .2h0m.1-.8h0m1.6 .9h0m1.7 1h0m.2 .1h0m0 0h0m.5-.2h0m2.4 .1h0m.6 .3h0m1.2-1.1h0m1.5 .9h0m0-.9h0m.1 1h0m.4-.2h0m.3-1.6h0m1.9-.3h0m.3 0h0m1.4 .6h0m1.2-.2h0m.2-.8h0m.3 .3h0m.5 1.3h0m.2-.3h0m1.9-1h0m.2-.5h0m0 1.1h0m.4-1.1h0m.2 .5h0m.1 .1h0m.3-.6h0m.8 .2h0m.1 2.1h0m-10.5 1.6h0m-.1 .2h0m-.3 .2h0m-1.1-.4h0m-.7-.7h0m0 1.1h0m-1-1.2h0m-.1 1.6h0m-.3-1.1h0m-.1 1.4h0m-.9-1.8h0m-.3 .3h0m-.2 1.8h0m-.8-1.3h0m-.5 .5h0m-.1-1h0m-.3 .6h0m-.3 1.2h0m0-.4h0m-.1-.3h0m-.9 1h0m-1-1.9h0m-.4 1.5h0m-.2-1h0m-.1-1h0m-.2 .3h0m-.6 .9h0m-1.2 .2h0m-.9-.9h0m-.1 0h0m-.5 1.7h0m-.1 .5h0m0-1.1h0m-1.8 .9h0m-.3-.2h0m-1.1-.4h0m-.9-.5h0m-1.1 .5h0m-.4-.5h0m-.9 1.1h0m-2.3-.1h0m-.4-.7h0m-1.6 .4h0m-2.5-.6h0m0-.1h0m-.1 .4h0m-.1 .4h0m-.9-.8h0m-1 .8h0m-.8-.6h0m-.5 .7h0m-1.4-.6h0m-.6-.3h0m-3.4 .2h0m-.1 .5h0m-1.3 .5h0m-1.4-1.8h0m-.8 .3h0m-.2 0h0m-.6 1.3h0m-.8-1.7h0m-.4 .9h0m-1-.2h0m-.5 .8h0m-.3-.9h0m-.6-.6h0m-.2 .4h0m-.4 .8h0m-.4-2h0m-.1 .1h0m-.3 1.8h0m-.2-.1h0m-.3-1.2h0m-.6 .7h0m-.4 1h0m-1 .3h0m-.5-.8h0m-.6-.7h0m0 1.1h0m0-2.2h0m-1.2 0h0m-.8 .3h0m-.4 .2h0m-.9-.5h0m-.8 .1h0m-.4 1h0m-.4 .4h0m-.6-.9h0m-2.1-.2h0m-3.4 0h0m23.9 3.2h0m0-.6h0m.7 .7h0m1.9-.4h0m0 .3h0m2.9-.2h0m.7-.4h0m1.2 .3h0m.1-.1h0m.7 .2h0m.9 .2h0m.3 .4h0m5.6-1.1h0m.2 .4h0m.4 .4h0m.2-.7h0m2.9 .7h0m1.6-.2h0m.4-.2h0m2.1-.3h0" stroke="#69B2E2" stroke-width="1.5" stroke-linecap="round"/>
<path d="M241.6 815.8V940.4M203.6 922.3H338.7" stroke="#333" stroke-width=".8" stroke-dasharray="4 2.6"/>
<text x="199.6" y="925.3" text-anchor="end" class="tf">0</text>
<text x="199.6" y="891" text-anchor="end" class="tf">0.5</text>
<text x="199.6" y="856.7" text-anchor="end" class="tf">1.0</text>
<text x="199.6" y="822.4" text-anchor="end" class="tf">1.5</text>
<text x="242.3" y="952.7" text-anchor="middle" class="tf">0</text>
<text x="287.9" y="952.7" text-anchor="middle" class="tf">0.2</text>
<text x="333.5" y="952.7" text-anchor="middle" class="tf">0.4</text>
<path d="M202 922.3H203.2M202 888H203.2M202 853.7H203.2M202 819.4H203.2M242.3 940.7V943M287.9 940.7V943M333.5 940.7V943" stroke="#444" stroke-width=".8"/>
<rect x="288.3" y="817.7" width="49" height="16.5" fill="#fff" stroke="#555" stroke-width=".8"/>
<path d="M290.2 822.4h0" stroke="#D93A6B" stroke-width="1.6" stroke-linecap="round"/><path d="M290.2 830h0" stroke="#69B2E2" stroke-width="1.6" stroke-linecap="round"/>
<text x="292" y="824.5" class="lf">Malignant T cells</text>
<text x="292" y="832.1" class="lf">Reactive T cells</text>
<text transform="translate(184.5 884.5) rotate(-90)" text-anchor="middle" class="af">G2M_score</text>
<text x="274.8" y="961" text-anchor="middle" class="af">T cell activation_score</text>
<text x="258.1" y="805.3" class="gt" text-anchor="middle">T<tspan font-size="6.2" dy="2">CM</tspan><tspan dy="-2"> group</tspan></text>
<text x="348" y="807.3" class="pl">g</text>
<text x="380.1" y="820.2" class="tt">Gene signature of T<tspan font-size="5.8" dy="1.8">CyEM</tspan><tspan dy="-1.8"> group</tspan></text>
<text x="447.8" y="830.8" text-anchor="middle" class="tg">(n=49)</text>
<text x="542.7" y="821" class="tt">Gene signature of T<tspan font-size="5.8" dy="1.8">CM</tspan><tspan dy="-1.8"> group</tspan></text>
<text x="607.1" y="831.3" text-anchor="middle" class="tg">(n=49)</text>
<path d="M377 843.7V935.6H513.7" fill="none" stroke="#111" stroke-width="1.1"/>
<text x="377" y="947.8" text-anchor="middle" class="tg">0</text>
<text x="407.8" y="947.8" text-anchor="middle" class="tg">20</text>
<text x="438.6" y="947.8" text-anchor="middle" class="tg">40</text>
<text x="469.4" y="947.8" text-anchor="middle" class="tg">60</text>
<text x="500.2" y="947.8" text-anchor="middle" class="tg">80</text>
<path d="M373.6 851.8H377M373.6 893.7H377M373.6 935.6H377M377 935.6V939M407.8 935.6V939M438.6 935.6V939M469.4 935.6V939M500.2 935.6V939" stroke="#111" stroke-width="1"/>
<text x="373" y="855" text-anchor="end" class="tg">100</text>
<text x="373" y="897.1" text-anchor="end" class="tg">50</text>
<text x="448.6" y="956.6" text-anchor="middle" class="tg">Time (Months)</text>
<text transform="translate(357.4 891) rotate(-90)" text-anchor="middle" class="tg2">Progression-free survival</text>
<path d="M377 851.8H378.2V854.6H380.5V859.3H389.2V863.1H392.1V867H393.2V874.3H399.5V878.2H446.1V883.8H474.3" fill="none" stroke="#F37B7B" stroke-width="1.1"/>
<path d="M377 851.8H381.6V855.3H382.6V862.2H387.4V865.5H388.9V872.4H391.1V875H393.2V879.4H395.4V881.2H396.6V883.4H413.7V887H422.4V891.1H432.2V895.2H444.6V900.6H501.7" fill="none" stroke="#5CC6F2" stroke-width="1.1"/>
<path d="M410 878.8v-2.2M424.6 878.8v-2.2M426.1 878.8v-2.2M427.5 878.8v-2.2M448.7 884.4v-2.2M457.5 884.4v-2.2M458.2 884.4v-2.2M462.6 884.4v-2.2M470.6 884.4v-2.2M472 884.4v-2.2" stroke="#F37B7B" stroke-width=".8"/>
<path d="M401.3 884v-2.2M421.7 887.6v-2.2M436.3 895.8v-2.2M459.7 901.2v-2.2M462.6 901.2v-2.2M480 901.2v-2.2M496 901.2v-2.2M497.5 901.2v-2.2" stroke="#5CC6F2" stroke-width=".8"/>
<path d="M387.3 920.3h14.5M394.5 921.2v-2" stroke="#F37B7B" stroke-width="1.1"/>
<path d="M387.3 927.5h14.5M394.5 928.4v-2" stroke="#5CC6F2" stroke-width="1.1"/>
<text x="404.6" y="923" class="lk">High Expression</text>
<text x="404.6" y="930.2" class="lk">Low Expression</text>
<text x="462.6" y="855.5" class="tg"><tspan font-style="italic">p</tspan> =0.2511</text>
<path d="M547 843.7V935.6H683.7" fill="none" stroke="#111" stroke-width="1.1"/>
<text x="547" y="947.8" text-anchor="middle" class="tg">0</text>
<text x="577.8" y="947.8" text-anchor="middle" class="tg">20</text>
<text x="608.6" y="947.8" text-anchor="middle" class="tg">40</text>
<text x="639.4" y="947.8" text-anchor="middle" class="tg">60</text>
<text x="670.2" y="947.8" text-anchor="middle" class="tg">80</text>
<path d="M543.6 851.8H547M543.6 893.7H547M543.6 935.6H547M547 935.6V939M577.8 935.6V939M608.6 935.6V939M639.4 935.6V939M670.2 935.6V939" stroke="#111" stroke-width="1"/>
<text x="543" y="855" text-anchor="end" class="tg">100</text>
<text x="543" y="897.1" text-anchor="end" class="tg">50</text>
<text x="543" y="938.7" text-anchor="end" class="tg">0</text>
<text x="618.6" y="956.6" text-anchor="middle" class="tg">Time (Months)</text>
<text transform="translate(527.4 891) rotate(-90)" text-anchor="middle" class="tg2">Progression-free survival</text>
<path d="M547 851.8H551.1V855.2H552.2V863.2H558.3V870.4H561.7V878H563V889.7H566.3V893.1H568.7V896.9H601.6V901.1H614.3V905.5H665" fill="none" stroke="#F37B7B" stroke-width="1.1"/>
<path d="M547 851.8H548.4V854.2H550.7V858.4H557.3V862.8H558.7V865.6H583.9V870H592.4V874.2H615.6V880.8H671.2" fill="none" stroke="#5CC6F2" stroke-width="1.1"/>
<path d="M606.7 901.7v-2.2M619 906.1v-2.2M626.6 906.1v-2.2M628.5 906.1v-2.2M632.3 906.1v-2.2M640.8 906.1v-2.2M665 906.1v-2.2" stroke="#F37B7B" stroke-width=".8"/>
<path d="M571.6 866.2v-2.2M580.1 866.2v-2.2M594.3 874.8v-2.2M596.2 874.8v-2.2M601.9 874.8v-2.2M606.7 874.8v-2.2M630.4 881.4v-2.2M633.3 881.4v-2.2M640.8 881.4v-2.2M642.7 881.4v-2.2M644.6 881.4v-2.2M666.5 881.4v-2.2M671 881.4v-2.2" stroke="#5CC6F2" stroke-width=".8"/>
<path d="M557.3 920.3h14.5M564.5 921.2v-2" stroke="#F37B7B" stroke-width="1.1"/>
<path d="M557.3 927.5h14.5M564.5 928.4v-2" stroke="#5CC6F2" stroke-width="1.1"/>
<text x="574.6" y="923" class="lk">High Expression</text>
<text x="574.6" y="930.2" class="lk">Low Expression</text>
<text x="630" y="858.9" class="tg">* <tspan font-style="italic">p</tspan> = 0.0416</text>
<text x="15.9" y="978.8" class="pl">h</text>
<path d="M121.6 1004.9h0m1.1-.3h0m1.3-.1h0m.3-1.8h0m.2 2.2h0m.4-2.7h0m.4 .5h0m.5-.3h0m.1 .1h0m.2 2.3h0m.2-.7h0m.3 .4h0m.1-2h0m.5-.3h0m0 .4h0m.3 .5h0m.2 .4h0m0 .5h0m.5-1.5h0m.1 0h0m1.4 1.9h0m.1-.4h0m0 .7h0m1.7 3.2h0m-.2-2.3h0m-.2 2.2h0m0-2.1h0m0 1.8h0m-.1-.4h0m-.3 .5h0m-.2-2.4h0m-.4 1.8h0m-.1-.9h0m-.9 .8h0m-.4-.8h0m0 1.6h0m-.3-2.3h0m-.7 2.2h0m0-1.9h0m-.1 2.2h0m0-2.3h0m-.2 0h0m-.1-.3h0m-.6 .6h0m-.4 .9h0m-.4 .7h0m-.6-1.5h0m-.1-.1h0m-.5 1.2h0m-.1 .6h0m0-.2h0m-.1-1.9h0m-.1 1.2h0m0-1.2h0m-.1 1.2h0m0-.7h0m-.4-1h0m-.3 .3h0m0 1.3h0m-.9 .1h0m-.2 .2h0m-.1-1.5h0m-.7 2.3h0m-.5-1.2h0m.8 1.7h0m0 2.2h0m3-1.8h0m.2 .3h0m.5-.4h0m.2-.4h0m.3 2.7h0m0-1.7h0m.2 .4h0m.8 1.2h0m.6-1.2h0m.1 .4h0m.1 .5h0m.5-1.8h0m.3 1.7h0m.3-1.3h0m.1 1.4h0m.2-1.1h0m.2 1.5h0m.8-1.1h0m.6-.3h0m.6 1.3h0m-1.4 1.8h0m-.5 1.2h0m-.5-2.7h0m-.1 1.3h0m-.2 .9h0m-.4-2.1h0m-.3-.2h0m-.3 1.5h0m-1.1-1.5h0m-.4 2.6h0m-.2-.9h0m-.1-1.1h0m-.2 .6h0m-.1 1.1h0m-.4-.7h0m-.2-1.2h0m-.3 .3h0m-.4 1.4h0m0-1.7h0m-.1 1.8h0m-.3-.4h0m-.1 0h0m0-.1h0m-.2-.9h0m-.6 .2h0m-.2 .2h0m-.6-.7h0m-.1 1.9h0m-1.7 2.5h0m2.5-.1h0m.6-1.3h0m.3-.5h0m1.3 .1h0m1.4 0h0m.6 1.9h0m.1-.9h0m-7.1 3.9h0m-.5 1.3h0m.2 1.2h0m.2-.6h0m.4 .9h0m.7-.5h0m1 .1h0m.1-1h0m3 4.9h0m-1.7 .4h0m-4.3-1.7h0m-1.1 .4h0m-.4 3.6h0m.3-1.4h0m2.6-.2h0m1.7-.1h0m1.5 2.4h0m0-2.6h0m.2 0h0m.4 .7h0m.6 1.4h0m.6 .2h0m0 .1h0m.8 .4h0m.1-2.3h0m.3 1.6h0m.4-1.2h0m.4 .7h0m.3 .6h0m.4-.7h0m0-.3h0m.7 .9h0m0 .3h0m.1 0h0m.5-.5h0m-.8 2.3h0m-.1 .1h0m-.9-1h0m-.8-.4h0m0 .5h0m-.2-.5h0m-1.1 .9h0m-1 .4h0m-.1-.4h0m-.1-.3h0m0 0h0m0-.1h0m-1 .2h0m-.3 .1h0m-.1 0h0m-5.2 1.2h0m-.8 .8h0m-12.6 1.4h0m11.4 1.2h0m.2-2.1h0m.5 2.2h0m1 1.8h0m-.9-.7h0m-.8 2.3h0m-.9-1.6h0m-13.6 4.3h0m2.1-1.1h0m1.8 1h0m7.5-.6h0m1-.7h0m1.8 .3h0m.1 3.3h0m-.6-.8h0m-1.6-.8h0m-.3 1.1h0m-6 .3h0m-.4-1h0m-1.4 2h0m-73.4-2.4h0m-3.5 3.9h0m5 1.5h0m72.7-2.6h0m6.8 1.8h0m1-.6h0m1.1-.8h0m-.8 3.8h0m-1.3-.4h0m-.5 2h0m-.2 0h0m-1.3-.5h0m-2.4-.7h0m-.2 1.2h0m-2.8-1.8h0m-11.5 .9h0m-69.4 3.5h0m5.1 .5h0m64.3-2.3h0m15.1 0h0m1.6 .4h0m.4-.4h0m.5-.3h0m.8 2h0m0-.3h0m3.4 3.3h0m-2.7-1.1h0m-.5 .1h0m-.5 .3h0m-1.4-.9h0m-.1 .1h0m-5.1-.6h0m-3.7 2.3h0m-10.9-2.2h0m-12.1 .2h0m-46.5 1.8h0m-.5-1.1h0m-.1-1.1h0m0 2.1h0m-1.1-1.4h0m0 1.1h0m-.7-.9h0m-.1 .9h0m-.1 1h0m0-2.5h0m-.2 2h0m0-2.1h0m-.3 1.2h0m-.2-.4h0m-.1 .1h0m-.4-.9h0m-1 1.1h0m-1 .7h0m-.2 .7h0m-.1-1.4h0m-.5 .5h0m-1.8 2.6h0m.4 1.1h0m.3-1.2h0m.4-1.2h0m.3 1h0m0 1.6h0m1.1-1.3h0m.6 1.2h0m.1-.6h0m0-.7h0m.1-.1h0m.1 1.3h0m.1-2.1h0m.7 .2h0m0-.5h0m.4 1.4h0m.4 1h0m0-.4h0m.3-2.2h0m0 1.2h0m0 .5h0m.2-1.5h0m.2 1.9h0m.5-.1h0m.1-1h0m.1 0h0m.6 .2h0m0 .3h0m.2-.1h0m.6-1h0m.2 1.3h0m.7 .4h0m.9-.1h0m0 .9h0m1-1.7h0m46.9 .1h0m11.9 .8h0m.9 .4h0m.5-.4h0m2.2-.6h0m3.1-.1h0m12.6-1h0m.4 1.6h0m.4-.6h0m2.4 0h0m.4 .1h0m.4 .6h0m1.9-.7h0m1.1 3.6h0m-1-1.2h0m-.1 .4h0m-.8 1.5h0m-1.5-2.3h0m-21.4 .4h0m-2.4-.3h0m-5.7 .3h0m-2.7-.6h0m-5.3 1.4h0m-43.7 .6h0m-.2-.6h0m-.9 .2h0m-.5 .7h0m-.1-.1h0m-.3-.6h0m-.2 .9h0m-.4-.2h0m-.2-.9h0m-.3 1.2h0m-.4-1.1h0m-.6 .5h0m-.2-.4h0m-.4-.6h0m-.1 .4h0m-.1 1.2h0m0-1.7h0m-.6 .7h0m-.1 .4h0m-.2-.3h0m-.1-1.8h0m-1.2 1.9h0m-.5-1.5h0m-.1 1.9h0m-.4-.2h0m0-2.2h0m-.2 1.8h0m0 .9h0m-.1-.5h0m-.7-1.4h0m-.3 .3h0m-.2 1.8h0m-.2-1.9h0m-1.6-.6h0m1 5.2h0m.5-1.3h0m.5-.8h0m.3-.3h0m.1 1.5h0m.2-1.2h0m.4 2h0m.1 .1h0m.2-.7h0m.2 .6h0m.1-2.4h0m.3 2.3h0m0-2.3h0m.1 .7h0m.1-.5h0m.1 0h0m0-.1h0m.2 2.6h0m.1-1.7h0m0 .7h0m.4 .7h0m.1-1.4h0m.3-.4h0m0 1.8h0m.4-1.9h0m.3 1.3h0m1.5-.5h0m.4 .6h0m.7-1.7h0m.2 .5h0m.5-.6h0m.1 2h0m.1-2h0m.1 1.7h0m.9-1h0m2.1 1.1h0m.3 .8h0m4-1h0m47.2-.2h0m1.5-.4h0m1.9-1h0m22.9 0h0m3.9-.1h0m.2-.1h0m.1 2h0m.2-1.2h0m.5 1.3h0m.5 0h0m3.8 1.7h0m-.7 1.6h0m-.2-.9h0m-.1-.4h0m-1.6 .4h0m-2.3-1.2h0m-42.3 2.6h0m-.5-.7h0m-1.5 0h0m-9.1 .7h0m-1.1-.3h0m-4.1-.8h0m-1.5 .9h0m-10.1-2.3h0m-.2 .1h0m-.7 2.1h0m-5.8 .3h0m-1.3-.2h0m-.5-2.1h0m-.8 .7h0m-1.4 1.6h0m-.6-2.4h0m-.8-.2h0m-4 .4h0m0-.4h0m-.3-.2h0m-.1 1.4h0m-1 .5h0m-.3-1.4h0m0-.1h0m-.1-.1h0m-.8-.4h0m-.6 1.8h0m-.1-1.4h0m-.1 .8h0m-2.7-1.2h0m17.4 3h0m6 2.8h0m5.9-1.8h0m1.8-.7h0m13.4 .7h0m2.4-.1h0m2.3-.5h0m.8 1.3h0m1.8 1.1h0m2.4-2.4h0m42.8 2.2h0m1.4-1.7h0m.4-.3h0m1.1 1.4h0m4.7 1.9h0m-2.8 1.8h0m-.6-2.4h0m-.5 1.6h0m-.1-1h0m-.7 1.4h0m-.5-1.2h0m-.2-.6h0m-1.8-.2h0m-.4 1.4h0m-1 1h0m-44.4-1.4h0m47.7 2.3h0m2.7 .3h0m1.5 1.4h0m1.9 2.6h0m-.4 1h0m-1.6-1.3h0m-.4-1.1h0m-1 1.1h0m-.2-1h0m-.6-.6h0m-1.8 2.6h0m5.8 .7h0m.8 .5h0m1.5-.4h0m2.9 5.1h0m-1.2-2.4h0m-1.3 1.7h0m-.8-.6h0m-1 .7h0m-.3-1.1h0m-.3 .2h0m-.3 1.7h0m-.1-1.3h0m-.1-.4h0m1.3 3.4h0m.8-.5h0m0-.7h0m1.4 .9h0m.1-.8h0m0 1.6h0m.1-1.8h0m5.4 2.7h0m1.8-.8h0m.2 .4h0m6.5 .2h0m.1 .3h0m0-1.2h0m.2 .3h0m.1-1.3h0m2.8 3.1h0m-.9-.4h0m0 1.7h0m-.6-.6h0m-.1-1.2h0m-.2 1.5h0m-1-.6h0m-.4 1h0m0-1.2h0m-.3 1.3h0m-.2-1.5h0m-.6 1h0m-.2 .1h0m0-.1h0m-.8-1.1h0m-1 1.3h0m-.6-.3h0m0 0h0m-.1-.4h0m-2.5 0h0m-2 .8h0m-.2-1.1h0m-5.7 1.6h0m-.2 .1h0m-.5-2.5h0m-.7 .5h0m-.4 4.3h0m.3-.1h0m1.2 .2h0m0-1.5h0m.1-.6h0m.2 2.6h0m1-.4h0m0-.6h0m0-.2h0m.1 0h0m.5 .3h0m.2 .7h0m.3-1.1h0m0-.1h0m6.6 .1h0m1.2-.7h0m.1-.4h0m.1 1.2h0m.5-.5h0m1.4 1.1h0m.1-.6h0m.1 1.5h0m.1-.2h0m.2-1.2h0m1.2 .2h0m.2-.8h0m.4 .6h0m0-1.5h0m.5 2.9h0m.3-2.4h0m0 2.4h0m.2-.3h0m.1-1.3h0m.1-.8h0m.1 2.4h0m.4-1.7h0m.2 .6h0m.5-1h0m.1 .2h0m.3 1.7h0m.6-.1h0m.2-.6h0m0-.2h0m.3 2.6h0m-.1-1.4h0m-.2 1.1h0m0 1.2h0m-.4-2.1h0m-.4 .9h0m-.2 .8h0m-.7-.3h0m-.3-.5h0m-.2 .3h0m0-.6h0m-.1-.3h0m-.1 0h0m0 1.4h0m-.1-1.1h0m-1.2-.4h0m0 2h0m-.2-.5h0m0 .9h0m-.6-.4h0m-.2 0h0m-.2-1h0m-.2-.6h0m-.4 1.8h0m-.1-2h0m-.1 2h0m-.1-2.1h0m-1.1 2.2h0m-.4 0h0m-.5-.3h0m0-.5h0m-.1-.4h0m-.2 .4h0m-7.1-.1h0m-2.4-.2h0m0 .2h0m-.1 .4h0m-.4-.5h0m-.3 .1h0m-.9 .7h0m-.5-1.9h0m-.2 1.2h0m1.7 3.5h0m.2-.4h0m.2-.1h0m.1-1.6h0m.1-.2h0m0 1.4h0m.3-.7h0m.1 .6h0m.4-.5h0m.3 .8h0m9.6-.8h0m.3 .4h0m.7-1.2h0m0 .9h0m.2 .2h0m.1-1.1h0m.1 1.4h0m.4 .2h0m.4 1.2h0m.2-.6h0m.9 .3h0m.2-.7h0m.2-.8h0m.5-.1h0m.1 1.2h0m0-1.6h0m0 .1h0m.1 .1h0m.1 .7h0m.4-.1h0m.9 0h0m.3-.5h0m-2.5 2.2h0" stroke="#C77CFF" stroke-width="1.4" stroke-linecap="round"/>
<path d="M124.4 1010.3h0m.6 4.5h0m-3.4 2.9h0m2.8 8.3h0m.5 1.8h0m.6 .6h0m4.5-.1h0m-2.4 1.8h0m-.6-1h0m-.1 1.4h0m-8 .6h0m-.5-.8h0m-.8 6.2h0m-9.8 1.4h0m-.2-1.5h0m-2.3 .2h0m-.3 .4h0m-.1-1.1h0m-1.6-.6h0m-1.3 4.7h0m1.9-.8h0m1.3 1.1h0m9.7 .7h0m-7.7 1.7h0m-.6-.8h0m-.3 .4h0m-.3 .6h0m-74.3-.2h0m-.5-1.1h0m-1.6 4h0m64.5 1.3h0m10.2-2.2h0m4.4 1.3h0m4.2 .2h0m2.1-2.1h0m-5.6 5.4h0m-1.5-2.4h0m-.2 1.3h0m-.9-.3h0m-12.1 .7h0m-.9-.3h0m-.4 .4h0m-3.2 1h0m-2.2-.1h0m-62 2.1h0m53.4 0h0m8.2-1.5h0m2.4 .6h0m1.3 .6h0m.9-.5h0m2.8-.7h0m.3 2h0m1.6-1h0m.5 .4h0m14.7-1.6h0m1.3 0h0m1.9 2h0m-2.8 3.4h0m-2.3-1.6h0m-.4-.5h0m-3.8 1.4h0m-.6-1.3h0m-3.2 1.4h0m-5.5 .8h0m-.7-.2h0m-.4-2h0m-1.4 .8h0m-.2 .1h0m-.5 .3h0m0-1.1h0m-.2 1.5h0m-1.5-1.2h0m-2.6-.2h0m-2 1.2h0m-1.1 .3h0m-7.1-.1h0m-.5-1.8h0m-53.4 4.7h0m2.3-1.9h0m2.2 .6h0m49.3 .6h0m2.8-.6h0m.1 .5h0m2.3 1.5h0m.2-2.7h0m2.3 .4h0m.4 .2h0m3 1.8h0m1.1 .1h0m2-1.3h0m.5-.5h0m.1-.8h0m.4 2.7h0m.5-.4h0m.2-.7h0m.7-.8h0m.1 2h0m.9-1.3h0m.4-.2h0m.7-.5h0m18.3 1.8h0m3.2 3.3h0m-1.7-2.6h0m-20.3 .1h0m-1.7 .6h0m0-.2h0m-1-.7h0m-2.5 .8h0m-.1 1.3h0m-.8-.9h0m0-1h0m-1.4-.1h0m-1 .7h0m-2.8 1.9h0m-.2-2.4h0m-.5 2.1h0m0 .4h0m-.4-1h0m-.3-1.7h0m-.1 1.6h0m-.1 .9h0m0-2.2h0m-.1 .2h0m-1.8 1.2h0m-.1-.5h0m-.2 0h0m-.4-1.1h0m-.3 .7h0m-.7-.5h0m-.2-.1h0m-.2 .8h0m0 .5h0m-1.2 .2h0m-47.8 .7h0m-5.3-1h0m11.6 2.6h0m16 1.4h0m25.1-.8h0m.5-.9h0m1.7 1.5h0m.6-1.5h0m.6-.8h0m.2 2.3h0m2.3 .3h0m.2-2.7h0m0 2.7h0m2-1.2h0m.6-.4h0m.7 1h0m.3-1.7h0m0 .7h0m2.8-.5h0m27.8 1.6h0m4.8 3.1h0m-5.8-2.2h0m-33.7 .1h0m-.5 .7h0m-2 1.6h0m-1.1 .4h0m0-2h0m-.4-.9h0m-12 1.3h0m-20 .5h0m9.8 2.5h0m4.2 1h0m10.2-2.3h0m9 2.4h0m.6-.1h0m.4 .5h0m1-2.8h0m39 .5h0m.9 .7h0m2.1-1h0m-.8 4.4h0m-.3 .2h0m-40.5 .6h0m-.3-.3h0m-.2-.6h0m-11.4-.9h0m14.4 3.2h0m37.4 1.5h0m3.5 .1h0m.7 .5h0m1.3-2.2h0m3.9 4.8h0m-2.7-1.5h0m-.8 1.5h0m-1.5-2.2h0m-42.2 1.5h0m-2.8-1.2h0m1.5 4.9h0m44.1-.7h0m5.5 3.1h0m-.8-.7h0m-49.1 .8h0m-.5 .8h0m-1.7 1.8h0m2.7 1.9h0" stroke="#00BFC4" stroke-width="1.4" stroke-linecap="round"/>
<path d="M83.5 1067.2h0m-1 .5h0m-.8-.2h0m-10.8-.3h0m-2.7 .4h0m-1.4 .3h0m-.1-.8h0m-.8-.5h0m-.6 1.1h0m-4.2-1h0m-2.7 .2h0m-.7-1.2h0m-3.4 1.9h0m0-.7h0m-1.1-.1h0m-2.7-1.1h0m-4.3-.6h0m-9.2 2.2h0m7.1 1.6h0m5.5-.6h0m9.9 .6h0m5.3-.2h0m3.4 1.3h0m1.4-.3h0m6.6-.5h0m1.1-.8h0m2 2h0m2.1-2h0m.7 .5h0m1.1-.3h0m2.6 3.1h0m-.6 1.5h0m0-.8h0m-.3-.3h0m-1.7 .9h0m-.2-.2h0m-.1 .4h0m-.4-.8h0m-.4-.7h0m-11.6-.3h0m12.7 5.1h0m1.1 .3h0m.9 3h0m-1-.8h0m-.3-.1h0m-.2-1.5h0m-.6 1.4h0m-1.2-.9h0m.4 4.2h0m.2-1.9h0m.1 1.3h0m0 1.3h0m2-.6h0m.1-.6h0m.4 .2h0m.3 0h0m.3 2.4h0m-.3-.6h0m-.1 1h0m-1 .9h0m-.1 .3h0m-.8-1.1h0m-.4 2.2h0m.6-.8h0m.2 1.9h0m.7 .2h0m.8 .1h0m.2 .2h0m.2-1.7h0m0 .4h0m.1 1.1h0m0-.3h0m.2-.1h0m47.6-.9h0m0 .2h0m1.3 1.6h0" stroke="#7CAE00" stroke-width="1.4" stroke-linecap="round"/>
<path d="M81.4 1070.9h0m1.3 1.3h0m-.5-1.1h0m.1 9.9h0m1.3 1.9h0m.6-.7h0m.1 .7h0m3 1.9h0m-.8 .2h0m-.2-.5h0m-1.1 0h0m-.1-.6h0m-1.2 1.2h0m-.6-.4h0m-1 1.3h0m1.2 2.2h0m.2-1.6h0m.2 1.7h0m.4-1.4h0m.9 2h0m.8-2.4h0m.7 0h0m.7-.1h0m-2.4 2.6h0m-.3 1h0m51.4 5.4h0m-1.9 1.5h0m-1.4-.7h0m-.2 .8h0" stroke="#F8766D" stroke-width="1.4" stroke-linecap="round"/>
<path d="M125 1001.8h0m-3.5 2.9h0m.6-.5h0m.7-1.3h0m1-.4h0m.2 .5h0m1.1 .1h0m.9 1.3h0m0 .3h0m.6-.7h0m.1-.4h0m0-.8h0m.1 1.2h0m0-.1h0m.1-.6h0m.8-.4h0m.1-.3h0m.3 .8h0m.5 .7h0m.4-1.7h0m.1 .9h0m.6 .9h0m.1-.8h0m1.9 4.3h0m0 0h0m-1.2-1.7h0m-.2 1.4h0m-.2-1.6h0m-.2 1.1h0m-.1-.5h0m-.1-.4h0m-.3 .9h0m0-1.7h0m-.4 1.7h0m0-1.5h0m-.2 .5h0m0 1.1h0m-.2-.9h0m-.2-.9h0m-.1 0h0m-.2 .4h0m-.2 2.1h0m-.2-.1h0m-.1-2.3h0m-.2-.2h0m0 .4h0m0-.2h0m-1.3 .7h0m-.1 .3h0m-.1-.3h0m-.4 .3h0m-.1 1.3h0m-.5-2h0m-.1 .4h0m0 .6h0m-.5 .2h0m-.6 .2h0m-.1 0h0m-.3-1.4h0m-.2 .8h0m-.2 .9h0m0-1.5h0m-.1 1.6h0m-.3-1.6h0m-1.1 1.2h0m-.4 .6h0m-.7 2h0m.5-.1h0m.3-.6h0m.2 .5h0m.6 1.3h0m.3-1.6h0m.3-.1h0m.2 1.8h0m.7-1.4h0m.3-.1h0m.7 .9h0m.6 0h0m1.1-1.7h0m.2 1h0m.5 .1h0m.7-1.3h0m.2-.2h0m.3 1.3h0m.1-.7h0m.2 .6h0m.3 .8h0m.4-1.3h0m.2-.5h0m.2 .6h0m0-.4h0m.1 1.5h0m.2 .8h0m.2-.6h0m.3-.2h0m.1 .6h0m1-1.6h0m-.6 4.1h0m-.6-.5h0m0-.9h0m-.2 1h0m-1-1.4h0m-.1 1.5h0m-.2-.6h0m-.3 .8h0m-.1 .1h0m-.1-1.6h0m-.5 .9h0m-.1 .1h0m-.2-.4h0m-1.6 .3h0m-.1-.1h0m-.7 0h0m-.3 .5h0m-.2-.3h0m-.2-1.4h0m-.1 1.3h0m-.1-.8h0m0 .2h0m-.1-.4h0m-.3 .7h0m-.3-.3h0m-.2-.1h0m-.6 1.1h0m-.8-1.2h0m-.9 4.1h0m.4 .6h0m.9-.9h0m.7-1.2h0m.3 .3h0m.2 2h0m0-.7h0m.5 .8h0m.2-2.1h0m.1 .3h0m1.2 0h0m.1-.6h0m1.2-.1h0m.9 .3h0m.1 .9h0m.3-1.2h0m1 .5h0m.6-.1h0m-6.7 3.1h0m-.9-.5h0m-.8 1.7h0m-.2 .4h0m-.4-.9h0m0-.1h0m-.2-.1h0m-.6-.3h0m-.6 2.7h0m.8 1h0m.7 .3h0m.1-.8h0m5.5 4.9h0m-2.1-.1h0m-.4-.1h0m-4.5-.6h0m-.2-.9h0m-.8 1.4h0m-.1-.5h0m-.3 2.1h0m.9 0h0m.2-.9h0m.1 2h0m0-.2h0m1 .8h0m2.4-.2h0m0-2.2h0m.6 2h0m.8-.7h0m.1-.6h0m.6 .1h0m.4 1.1h0m.8-1h0m.5 1.2h0m.9-2.5h0m.2 .6h0m.2 2.2h0m.2-.9h0m.7-1.7h0m.1-.1h0m.6 1.2h0m.2 2.1h0m-1.4-.1h0m-1.2 .7h0m-1.3-.3h0m-1.2 .8h0m-3.8-.4h0m-2.4 5.2h0m-.7 .6h0m-.4-.3h0m-1.7 1.9h0m-.1-.7h0m-1.1 .9h0m-9.1-2h0m-.8 5h0m.4-2.5h0m4.2 1.3h0m6.9-.2h0m1.2 .7h0m-1.3 1.5h0m-.5 0h0m-7.2 .1h0m-.1 1.6h0m-1.3-1.4h0m-1 .7h0m-1.4 .1h0m-72.8-.3h0m-2.7 2.5h0m1.1 .6h0m77.3 .9h0m1.5-1.7h0m.5 2.2h0m3-2.9h0m.6 .5h0m.6 1.7h0m-.3 2.2h0m-.1-.8h0m-.9 .8h0m-.5 .7h0m-17.5 .3h0m-65.1 3.5h0m.5-1.2h0m.1 .5h0m50-.6h0m12.2 .4h0m.1-.3h0m15.2 .5h0m.5-1.9h0m8.2 4.8h0m-.2-1.7h0m-.5 2h0m-.1-2.4h0m-1.2 .1h0m-.2 .2h0m-.5 .1h0m-1.7-.1h0m-13.6 .8h0m-.6 1.3h0m-1.2 .4h0m-1.7-1.6h0m-7.1-1.2h0m-53.2 1.9h0m-.2 .1h0m-.1 .3h0m-.1-1.6h0m-.7 1h0m-.2 .6h0m-.4-2.1h0m-.4 .3h0m-.7 1.3h0m-1.1-1.8h0m-.6 2.8h0m-.1-.9h0m-.4 .8h0m-.4 0h0m-.4-2.4h0m0 2.2h0m-.1-.7h0m-.4-.5h0m-.2-.8h0m-1.1 .3h0m0-.1h0m-.1 1h0m-.4-.3h0m-.3 .9h0m-.1 .5h0m-1.2 2.2h0m.9 .6h0m.2-1.9h0m0-.2h0m.2 .7h0m0 1h0m.2-1.5h0m.1-.5h0m0 .5h0m.1 .4h0m.3 .1h0m.2-.3h0m.1 1.3h0m.2-1.3h0m0 .3h0m0-.7h0m.4 1.8h0m.3-.6h0m.1-1.3h0m.1-.2h0m.2-.2h0m.7 2.5h0m0-.6h0m0 .6h0m.1-2.2h0m.1 2.3h0m.4-1.5h0m0-.8h0m.4 1.1h0m0 .8h0m.4-.2h0m.4 .7h0m.1-1.5h0m.4-.5h0m.9 .9h0m0-1h0m.3 1.3h0m.5 1h0m.2-.4h0m.2-1h0m.1 1h0m.3-.2h0m0-2.3h0m.3 2.2h0m.5-1.5h0m.2-.6h0m.1 1.3h0m.3-.9h0m.2 1.1h0m1.1 1.3h0m50.8-.8h0m1.8-.5h0m2 1.2h0m6-2h0m.4 .5h0m2.2-.7h0m3.3-.6h0m10.8 .5h0m.8 .5h0m.3 0h0m.5-.1h0m.5 .6h0m.2-.9h0m1.7 2.1h0m.4-1h0m1.8 1.7h0m-1.5 .5h0m-1.9 1.2h0m-1.2-1.7h0m-1.1 1.2h0m-16.9-1.1h0m-.7 1.8h0m-.2-1.6h0m-1.8 1.1h0m-2.5-1.2h0m-3.7 2.2h0m-1.5-.5h0m-.7-1.6h0m-.6 1.4h0m-4.8 .4h0m-44.8-.3h0m-.6 .2h0m-.3-1h0m-.9 1.5h0m-.1-2.2h0m-.3 0h0m-1.1 .6h0m-.1-1h0m-.2 .5h0m-.1 1.3h0m-.1-.8h0m0-1.3h0m-.1 1.7h0m-.1-1.5h0m-.1 2.2h0m0-1.5h0m-.4-.3h0m-.1 1h0m-1.1 1.3h0m-.1-.5h0m-.3-2.3h0m-.4 1h0m0 1.5h0m0-1.3h0m-.2-.4h0m-.1-.4h0m0 1h0m0-.1h0m-.4-.4h0m-.2-.7h0m-.3 2.1h0m-.1-1.8h0m-.3 .5h0m-.2-.1h0m-.2 1h0m-.8 .5h0m-.4-1.1h0m-.5-1.2h0m-.4 .4h0m-.6 2.3h0m0-.9h0m-.7-1.6h0m0 1.5h0m-.1-.5h0m.7 2.9h0m.6-.7h0m.5 1.2h0m.6 .6h0m.1-1.3h0m.3-.9h0m.3 2.3h0m.1-2.3h0m.6 .4h0m.1-.2h0m.9-.3h0m0 1.8h0m.2-1.5h0m.1 .1h0m.2 .7h0m.1 1.1h0m0 .5h0m0-.2h0m.5-.6h0m0 .8h0m.7-.7h0m.9 .7h0m.3-2.2h0m.4-.2h0m1 2.4h0m.6-1.4h0m.1-.3h0m0 1h0m.3-1.3h0m.1 1.5h0m.3-2.3h0m.2 .3h0m9.7 2.4h0m.4 .1h0m1 .1h0m3.1 0h0m31.8 0h0m3.3-2.4h0m2.2 1.8h0m1.1 0h0m.3-.2h0m29.8-.7h0m0-1.3h0m.3 2.8h0m.5-1.6h0m0-.9h0m1.6 .2h0m.1 .7h0m.3-.8h0m1.2 2h0m0 0h0m1.3-.8h0m1 .5h0m-1.8 3.7h0m-3.9-2.5h0m-39 0h0m-.4 2.1h0m-1.1-.7h0m-6.2 .4h0m-6.1-.2h0m-.2 .5h0m-1.6 .2h0m-.1 0h0m-1.7-.7h0m-2.3 .2h0m-.6-.6h0m-2.7-1.1h0m-1.1 1.5h0m-.4-1.1h0m-.5 1.6h0m-.8-1.3h0m-1.1 .5h0m-3.5-1.3h0m-.4-.3h0m-.9 2.1h0m-3.1-1.6h0m0 1.8h0m-.3-2.3h0m-.3 1.2h0m-1.6 1.4h0m-1.5-.1h0m-.8-2.5h0m-2.1 .2h0m-4.1 .5h0m-1.6 .7h0m-.9-.8h0m-.5-.1h0m-.5-.2h0m-.1 1.3h0m-.7-1.7h0m-.2 .3h0m-.1 0h0m-.2 1.4h0m-.3-1.7h0m-.9 .3h0m0 .7h0m23.7 2.7h0m1.5-.1h0m5 1h0m3.2-.1h0m.8-1.3h0m.1 .3h0m2 2.2h0m1.6-1.4h0m3.8-.7h0m.2-.2h0m3.3 .1h0m0 0h0m2.5-.2h0m2.5 1.1h0m2.5 .7h0m.9-1.3h0m.5 1.1h0m40.3 0h0m.2-.1h0m1-.4h0m.6-1.2h0m1.1 1.7h0m5.8 2.8h0m-1.4-.5h0m-.3 0h0m-.3 0h0m-.2-.5h0m0 .8h0m-51.1-1h0m-14.5 1.7h0m-2.9-1h0m67.9 2.3h0m.3 1.8h0m0-1.1h0m.6 .2h0m.3-1h0m1.7 1.8h0m2.9 2.8h0m-1-1.8h0m-2.2 1.2h0m-.8-1.3h0m-1.5 .2h0m-.3 2.4h0m-.9-1.6h0m-1.1-.4h0m2 2.6h0m2.1 2.4h0m.2-1.2h0m1.8-1.3h0m.3 2h0m.2 .7h0m.1-2.2h0m.1 1.8h0m4.4 3.4h0m-.1-.7h0m-1.6 .1h0m-1.2 .3h0m-.5-1.7h0m-.7-.3h0m-.3 1.4h0m-.3-1.7h0m0 .1h0m.5 2.8h0m0 .9h0m.6 .2h0m.3 1.2h0m.5-1.7h0m1.2 1.6h0m.4-.2h0m2.9-.1h0m.1 0h0m.3-1.6h0m1.9 .7h0m5 1.3h0m.4 .4h0m1.1-1.2h0m.4 1.2h0m.1-.4h0m.3 .2h0m.5-1.1h0m.1 .1h0m0 .9h0m1 .2h0m.8-.7h0m1.7 3.6h0m-.1-.3h0m-1-.2h0m-.4 .5h0m-.3 0h0m-.2-1.1h0m-.8 .6h0m0 0h0m-.4-.6h0m-.5-1.6h0m0 1.3h0m-.2-1.2h0m-.3 .7h0m-.2 .1h0m-.1 .4h0m-.1 1.6h0m-.1-.7h0m-.2-1.6h0m-.4 1.6h0m-.1 .7h0m-.2-2.1h0m-.4 1.7h0m-.4 .3h0m-.9-.6h0m-.2 .7h0m-2.1-2.6h0m-1.6 .8h0m-4.7 1.8h0m-1.5 0h0m0-.7h0m-1.1 2.3h0m0 1h0m.8 .1h0m.5-2.1h0m0 1.6h0m.3-1.8h0m.1 1.1h0m1.5-.1h0m8.2-1.2h0m.3 2.2h0m.3-.2h0m.2 .8h0m0-.4h0m0-1.5h0m.2 1.1h0m.2-.8h0m.4-.5h0m0 1.4h0m.5-.5h0m.1-.1h0m.1 0h0m.1-1h0m.6 .7h0m.1-1.2h0m.1 2.5h0m.1-1.6h0m.3 .8h0m.4-.6h0m.6 .6h0m0-1.5h0m.3 2h0m0 .5h0m.1-.6h0m.1 0h0m.3-.9h0m.4-.8h0m.4 1.2h0m.1-.7h0m.4 0h0m.8 1.5h0m.1-2.1h0m.1 .1h0m0 .5h0m.6 1h0m-.2 1.5h0m-.5-.2h0m-1 .4h0m-.8 .5h0m-.3-.6h0m-.3-.6h0m-.1 .6h0m0-.1h0m-.1 1.7h0m-.2-1.5h0m-1.6-.1h0m-.4 2.3h0m-.3-.1h0m-.1-1h0m-.2 1.1h0m-.5-2.6h0m-.2 1.8h0m-.1-.2h0m-.1-.4h0m-.1 .7h0m-.2 .6h0m0-.1h0m-.1 .2h0m-.4-.4h0m-1-.5h0m-7.7 .8h0m-.5-.9h0m-1.5-.7h0m-.3 1.5h0m-.4-1.7h0m-.2-.5h0m-.1 1.4h0m-.1 .2h0m-.5-.1h0m.4 1.1h0m.6 1.5h0m.4 0h0m1.1 0h0m.4-1h0m.8-.6h0m8.7 .6h0m.7-.2h0m0 .5h0m.6 .1h0m.1-.5h0m.5 1.8h0m.8-1.8h0m.2-.3h0m.5-.1h0m.2 .1h0m0 1.1h0m.3-.5h0m.1 0h0m.1 .3h0m.7 .3h0m.1-.1h0m.1-.5h0m.3-.6h0m.8-.2h0m.3 .5h0" stroke="#C77CFF" stroke-width="1.4" stroke-linecap="round"/>
<path d="M125.2 1012.2h0m-6.4 16.3h0m4-2.2h0m.3 2.6h0m.7-.5h0m5.4-1.7h0m.2 1h0m.7 .4h0m-2.1 1.5h0m-.4-.5h0m-8.9 1.6h0m-1.2 1h0m-11.7 5.8h0m-.3-2.3h0m-.2 1.6h0m-1.6 .8h0m-.2 2.1h0m.1-1.3h0m1.8 1.3h0m1.2-.8h0m.2 1.7h0m5.7-.7h0m-6 2.6h0m-3.2-.7h0m-70.2 .6h0m73.2 2.4h0m.5 .9h0m.4-1.2h0m.8 1.8h0m.5-.4h0m1.8 3h0m-3.6-1.3h0m-.6 1h0m-11.8-1h0m-.5 .9h0m-.2-.9h0m-.1-.5h0m-1.3 2.2h0m-63.1-2h0m-.1 5.4h0m55.5-1h0m7.1-.3h0m.3 .1h0m.3 1.2h0m1.1-.1h0m.7 0h0m.1-.1h0m13.7-1.8h0m2.7 .6h0m0 2.4h0m-3.6 .3h0m-8.7 1.9h0m-2.6-1h0m-1.5-1.8h0m-.3 .6h0m-.1 2h0m-1.7-2.1h0m-.1 1.5h0m-.3-.4h0m-1.5-.8h0m-1 .1h0m-.6 .4h0m-3.5 .3h0m-.6-1.2h0m0 1.5h0m-5.2-1.2h0m-50.2 1.1h0m49.7 3.7h0m.9-1.2h0m.9-1.2h0m1.3 2h0m4.2-1.8h0m.1 1.5h0m.2-1.3h0m.6 2.2h0m.7-.3h0m1.1 .1h0m.2-2.2h0m2 2.2h0m.6-.6h0m0-1.5h0m.2 1.5h0m.1-.7h0m2.2-.6h0m2-.5h0m1 0h0m0 1.8h0m.5 .4h0m16.4-1h0m1.5 .9h0m.3-.1h0m2.6 .3h0m-1 1.9h0m-.4 1h0m-2.9-.1h0m-16.9-.5h0m-1.8-.9h0m-2.3 2h0m0-2.4h0m0 2h0m-.8-1.8h0m-.6 .8h0m-.5 .2h0m-.3 1.2h0m-2-.6h0m-.6-.9h0m-1.2-1h0m-4 1.8h0m-.4-2h0m-.1 .1h0m-.7 2h0m-.3 .6h0m-1.1-.7h0m-46.6-1.4h0m-.1 2.1h0m-.8-.4h0m-1.2-1.5h0m-2.9 .6h0m-1.8-.3h0m0 4.3h0m51.7-2.4h0m1.1 1.9h0m.8-.6h0m0-.7h0m.1-.4h0m1.4 .9h0m.9 .8h0m1.1-.5h0m.3 .9h0m2.1-1.6h0m.5 .6h0m.4-1h0m.6 1.1h0m.3-.6h0m.1-.5h0m.8 .1h0m1.1 1.4h0m0-1.9h0m3.5 .4h0m22.9 .1h0m3.3-.4h0m2.1 2.6h0m.9 3.1h0m-1.7-.8h0m-36.9 .3h0m-.6-.5h0m0-.9h0m-1.7 .5h0m-2.1-.6h0m-1.2 1.6h0m-8.3-.2h0m-12.6 .3h0m-6.3-1.5h0m-5-.2h0m-3.5-.2h0m-13.9-.5h0m22.8 3.3h0m5.3 1.7h0m8.8-2.2h0m13.6 1.9h0m.8-1.2h0m2.8 1h0m40.2-.9h0m0 1.5h0m-40.4 3.1h0m-.5 .5h0m-.6-1.4h0m-1.1-.8h0m2.1 3.5h0m1.6 1.7h0m42.4-2.1h0m2.5 3.9h0m-44.8-1.4h0m-1.5 .4h0m-.9 1h0m51.8 5.8h0m-.3-.7h0m-49.2 1.9h0m-.9 2.3h0m1.3-1h0m1.1 1.1h0m46.9-.5h0m1.5 1h0" stroke="#00BFC4" stroke-width="1.4" stroke-linecap="round"/>
<path d="M38.9 1064.7h0m46 2.8h0m-1.4-.1h0m-.6-.8h0m-1.2-.2h0m-.2 1h0m-2.7-1.2h0m-3.9 .7h0m-3-.6h0m-1 .5h0m-7.3-1.8h0m-5.9 1.5h0m-1.3 .4h0m-3-.7h0m-10.5-.5h0m-2.1 .1h0m11.3 4.3h0m6.5-.4h0m2-.9h0m.4 .8h0m1.8 .5h0m10.3-1.8h0m0 1.1h0m2.3-1.2h0m.6 1.7h0m2.3-.6h0m.5-.7h0m2 .3h0m.7 .3h0m2.8-.8h0m.3 3.2h0m-.2 2.3h0m-.8-.4h0m-1.7 .1h0m-4.2-2.5h0m-6.6 2.8h0m-4-1h0m-18-.9h0m34.5 4.3h0m.8-1.5h0m.2 2.1h0m.3-1.8h0m2.1 4.7h0m-2.2-1.6h0m-2.3 1.5h0m-.5-.8h0m-.8 1.7h0m.3 1.5h0m1.6 .4h0m0 .1h0m.3-2.5h0m1.4 2.2h0m.3-2.1h0m0 2h0m47.8 .5h0m-46.1 2.5h0m-.3-2.2h0m-.6 2.5h0m-1.3-1.6h0m-.6-.6h0m-.3 2h0m-.2-.4h0m-2.1-1.1h0m1 2.9h0m.2 .7h0m.3-.3h0m.5 .9h0m.5 .3h0m.6-1.5h0m.1 1.8h0m.3-.3h0m.2-1.1h0m.6 .1h0m1.4-.6h0m-1.9 3.2h0m-.9-.9h0" stroke="#7CAE00" stroke-width="1.4" stroke-linecap="round"/>
<path d="M82.8 1070.6h0m1 8.8h0m1.7 3.1h0m1.7 1h0m-.8 .2h0m-.5 .4h0m0 .1h0m-2.3 .1h0m-.2 1h0m-.1-1.8h0m0-.2h0m0 3h0m0 .3h0m.1 .1h0m.1 .2h0m.1 1.5h0m.2-.7h0m.5-1.1h0m.2 1.7h0m.4-1.4h0m.7 1.3h0m.3-.4h0m.3 .2h0m48.2 3.3h0m-.5 0h0m0 .6h0m-48.4-2.9h0m-1.5 .7h0m49 3.8h0m.3-1.2h0m.4 .1h0m1.1 2.3h0m1.9 2.6h0m-2.3-.5h0" stroke="#F8766D" stroke-width="1.4" stroke-linecap="round"/>
<path d="M127.5 1001.7h0m-2.3 0h0m-1 .1h0m-1.3 1.9h0m.7 .1h0m.2 .6h0m.5-1.6h0m.8 1h0m0 .9h0m0-1.8h0m.1-.4h0m.3 1.4h0m.1-.2h0m.4-1.5h0m.2 .7h0m1.5 .6h0m.1 1.3h0m1.5-.1h0m2.4 1.9h0m-1-.6h0m-.3-.8h0m-1.2 2.3h0m-.3 .1h0m-.1-1.9h0m-.3-.1h0m0 .1h0m-.2-.1h0m-.2 1.5h0m-.1-1.9h0m0 1.8h0m0-.5h0m-.2-.1h0m-.3 .7h0m-.1-1.8h0m-.3 2h0m-.2-1.8h0m0 1.3h0m-.5 .1h0m-.6-.2h0m0 0h0m-.5 1.2h0m-.4-.1h0m-.1-1.4h0m-.1 1h0m-.3-.9h0m-.2 1.1h0m-.5-1.6h0m0 1.4h0m-.5-1.9h0m-.7 1h0m-.9-.6h0m-.5-.3h0m-.2 2.1h0m.1 2.1h0m.6-.9h0m.2 2h0m0-2.6h0m.6 2.2h0m.7-1.8h0m.2 .6h0m.2 .2h0m.4-.8h0m.1 .2h0m.2-.4h0m.5 2.2h0m0-2.1h0m.9 2.3h0m1.2-.7h0m.2 .1h0m.2-.8h0m0 1h0m0-1.5h0m.9-.8h0m.2 2.5h0m0-.7h0m.4 .8h0m.2-.1h0m0 0h0m.3-1.7h0m.8-.1h0m.1 1.9h0m0-.6h0m.2-1.3h0m.3 1.7h0m.2-1.1h0m.2-1h0m.5 3.1h0m-.5 .1h0m-.2-.7h0m-1 .1h0m0 1.1h0m0 1.7h0m-.5-1.2h0m0 1.2h0m-.1-1.9h0m-.8-.2h0m-.2 .6h0m-.1 1.1h0m-.1 .4h0m-.6-1.3h0m-.1-.8h0m-.4 2h0m-1.1 0h0m-.1-.5h0m-.1-.8h0m-.3 .6h0m-1.1 .7h0m-.5-2.5h0m-.2 2.4h0m-.3 .2h0m-.8-1.9h0m-.5-1h0m-.1 0h0m-1.9 5.9h0m1.5-2.5h0m.4 1.8h0m1.2-.6h0m.3-1.1h0m3.8-.3h0m.5 .3h0m.4-.2h0m.3 .6h0m.6-.5h0m-3.7 3h0m-3.4 .3h0m-.4 1.8h0m-.2 0h0m-.4-.4h0m-1.3 3.3h0m1.5-1.9h0m.3-.1h0m2.5 .5h0m-4.5 4.1h0m-1.1-.3h0m.2 1.7h0m1.3 1.6h0m2.9-1.4h0m.2 .1h0m.1-.4h0m.1 2.6h0m0-1.5h0m.1-.3h0m.7 1.4h0m.1-.9h0m.2 .8h0m.2-2.1h0m.6 2.3h0m.6-.6h0m.1-.1h0m.4-.8h0m.5-.8h0m.3 .4h0m0 .5h0m.2 .4h0m.2 1.2h0m.1-1.9h0m.5-.9h0m.4 1h0m.2 .2h0m.2 1h0m1.5 .7h0m-1 .2h0m-.5 1.4h0m-.1-.8h0m-.2-.1h0m-1.2-.4h0m0 1.5h0m-.2-.2h0m-.4-.9h0m-.1-.1h0m0 1.3h0m-.1-1.4h0m-.5 .1h0m-.8 .3h0m-1 .8h0m-.1-.6h0m-.1 .5h0m-5.8-.3h0m-.1 1.4h0m0-.6h0m-.4 .2h0m-.6-1.1h0m-.1 1.6h0m-.8-2.4h0m-.5 3.9h0m1.5-.3h0m.2 1.4h0m2.1-1.7h0m-2.2 4.2h0m-.2-.8h0m-2.2 1.4h0m-11.5-1.3h0m-.1 1.2h0m-.5-1.1h0m.7 3.5h0m.2-1.3h0m10.3 .7h0m1.6 1.2h0m.3-1.1h0m1.2 1.1h0m1.6-.2h0m-3.1 1.2h0m-8.7-.3h0m-1.9 2.9h0m-72.1 0h0m-2.3-1.3h0m-.2-.1h0m74.6 2.1h0m.6-.3h0m7.1 2.1h0m.7-1h0m1.6 0h0m-.3 3.5h0m-1.2 .2h0m-.1 0h0m-.9-1.7h0m-.4 .4h0m-5.1 .2h0m-13.1 .1h0m-61.1 .8h0m-3 3.9h0m.2-1.6h0m1.4 1.5h0m.1-1.2h0m.2-.5h0m52.4 .9h0m7 .6h0m3.5-.4h0m3 .3h0m11.5-.6h0m2.3 1.1h0m.6-1.9h0m.8-.1h0m1.5 3.5h0m-.5 .8h0m-.1 .7h0m-.3-.1h0m0-1.3h0m-.4-.1h0m-1.8-.7h0m0 0h0m-.1 .1h0m-1.3-.7h0m-.1 2h0m-1.8-.2h0m-1.9-1h0m-.4-.4h0m-72.4 .5h0m-.1 .6h0m0 .9h0m0 .3h0m-.1-.5h0m-.6-1.8h0m-.3 1h0m-.6 0h0m-.3-.5h0m0-.7h0m-.1 1.7h0m-.1-.3h0m-.8 .1h0m-.1 .7h0m0-1h0m0 1.4h0m-1.4-2.2h0m-.2-.7h0m-.2 2h0m-.5-1.1h0m-.2-.2h0m0 .1h0m-.2-.4h0m0 2h0m-.9-.8h0m0 .6h0m-.7 .1h0m-.7-.3h0m-.3 3.4h0m.1-1.8h0m.3 1.1h0m.1 .5h0m.1-1.5h0m.1-.2h0m.1 1.8h0m.3-1h0m.2 1.3h0m0-.4h0m.1-2.1h0m.2 2.1h0m0-.2h0m.6-1.8h0m.2 .6h0m.5-.7h0m.1 2.3h0m.2-2.4h0m.4 0h0m.1 2.4h0m.8-.7h0m0-1.3h0m.4 .4h0m0 1.2h0m.6-1.2h0m1 .1h0m.3-.8h0m0 .2h0m.3 .2h0m.2 .2h0m.3-.6h0m0 1.6h0m.3-.7h0m.1 1.1h0m.1-.2h0m.1 0h0m.4 1h0m.2-2.3h0m.6 1.1h0m.1 .3h0m.2-.7h0m47.3 .9h0m12.4 .3h0m3-2h0m.9-.1h0m4.8-.2h0m10.5 .1h0m.7 .8h0m1.1 1.1h0m3.5-1.2h0m.5 1h0m1.3 3.1h0m-.5 .4h0m-.7 0h0m-.3-1h0m-.1-.7h0m-1.8 1.8h0m-.5-.7h0m-5.4 .6h0m-18.2-1.2h0m-2.1 .6h0m-1.3-.5h0m-1.1-.2h0m-3.4 1.4h0m0-.2h0m-1.4-1.9h0m-48.5 1.4h0m-.5-1.3h0m-.1 1.6h0m-.1-.3h0m-.2-1.7h0m-.2 1.6h0m-.4-.3h0m0 1.2h0m-.6-.4h0m-.2-1.6h0m-.4 .8h0m-.6 .8h0m-.6-.1h0m-.1-1.6h0m-.1 .6h0m-.1 1.5h0m-.2-.7h0m-.1-1.9h0m-.1 1.7h0m-.3-.5h0m-.5 .6h0m-.1 .1h0m-.1-2h0m0 .1h0m-.7 0h0m0 2.3h0m-.2-.9h0m-.1-.3h0m-.8 1.5h0m-.3-2.4h0m-.5 .3h0m-1.4 1.5h0m-.1-.7h0m0-1.3h0m-.2 1.2h0m-.2 1.3h0m-.2 .3h0m-.4-.6h0m-.1-.6h0m-.7 1.2h0m1.9 2h0m.5-.1h0m0-1.3h0m0 .1h0m.4 1.7h0m0-1.7h0m0 2.2h0m.2-1.8h0m.6 .1h0m0-.7h0m.5 .3h0m.1 2.1h0m.2-2.4h0m.2 2.2h0m.1-1.3h0m.1 1.3h0m.6 .3h0m.2-1.4h0m.1 1h0m.1-.1h0m.3-1.9h0m0 0h0m.1 .3h0m.3 1h0m.2-1.5h0m.3 .3h0m.7 1.8h0m.1-2.1h0m.2 1h0m.7 1.6h0m.2-2.5h0m.7 1.7h0m.2-1.3h0m.1 1.2h0m.4-1.4h0m2.6 1.5h0m2.3 .8h0m.9-.5h0m0 .1h0m.6-.5h0m1.1 .7h0m37-1.6h0m7 .7h0m3.7-.7h0m2-.7h0m3.2 0h0m21.3-.1h0m3 .9h0m.7-.1h0m.8 .9h0m3.2 3.6h0m-.8-2.6h0m0 1h0m-.5-.3h0m-.5 1.8h0m-.2-1.1h0m-1 .7h0m-38.6 .7h0m-.1-1.7h0m-.7 1.1h0m-1 .5h0m-2.3-2h0m-3.9 .5h0m-2.2 1.4h0m-1.2 .1h0m-4.7 0h0m-3.3-1.4h0m-1.6 1.1h0m-.5-.4h0m-.7 .6h0m-.5-.2h0m-.3-1.4h0m-1.3 1.3h0m-.3-.1h0m-3.3 .7h0m-.8-.9h0m-.1-2h0m-.8 1.6h0m-.7-.5h0m-.2 .2h0m-.8 .7h0m-3.9-1.6h0m-.7 1.1h0m-5.9-.6h0m-.1 1.3h0m-1.4-1.9h0m-4.6 0h0m-1 0h0m-.1 .5h0m-.5-.3h0m-.1 1.7h0m-1.1-2.1h0m-.1 1.7h0m0-1.4h0m-.2 .9h0m-.6 .6h0m-.5-.7h0m-.5-.5h0m-1 .8h0m-.2-.5h0m-.2-.9h0m-.5 0h0m-.3-.1h0m-.3 0h0m14.4 3.3h0m10.9 .8h0m4.6 .3h0m.2 .3h0m.3-1.7h0m1 .1h0m3.2 1.7h0m.8 .6h0m.2-2.4h0m1.3 .3h0m4.6 .8h0m2.5-.2h0m.6 .7h0m1.3-1.1h0m4 .6h0m3.5-.7h0m38-.4h0m6 1.3h0m.7 0h0m3.9 .3h0m-3 4.2h0m-.8-2.2h0m-2.5 1.6h0m2.3 3.2h0m1.4-1.3h0m.2 1.8h0m.4-2.1h0m.2-.6h0m1.9 .7h0m.1 1.3h0m.6 .4h0m.1-.3h0m.1 .2h0m2.8 1.7h0m-.9 .9h0m-1.1 .4h0m-.5-.7h0m-.7-.9h0m-.3-.5h0m1.2 2.9h0m2.3 2.3h0m.6-.2h0m.1-.6h0m2.4 1.7h0m-.1 2h0m-1.7-.2h0m-.4-1h0m-.9-.9h0m-1.1-.4h0m2.1 5.8h0m.3-1.9h0m.5 1.2h0m3.5-1.4h0m2.7 1.8h0m5.4-.4h0m.2-.2h0m.5-.1h0m.1 .8h0m.1-.9h0m.3 .6h0m.1-.8h0m.4 1.1h0m0-.4h0m1.3-.8h0m0 .8h0m.2-.9h0m.4 .3h0m.1 .6h0m0-.6h0m.1 .6h0m.3-.6h0m2.8 3.7h0m-.5-1.2h0m-.1 .3h0m-.6-.2h0m-.3-.1h0m-.1 .1h0m0-.5h0m-.2 1.6h0m-1.4-.2h0m-.2-1.6h0m-.1 .1h0m-.5 1.6h0m-.5-2.2h0m-.6 2.4h0m-.2-1.9h0m-1.1 .5h0m-.6 1.1h0m0-1.7h0m-.2 1.8h0m-.2-.1h0m0-1.2h0m-.1 0h0m-.1 .2h0m-.3 1.5h0m-2.3-1.5h0m-1.9-.6h0m-5.6 1.5h0m-.4 .4h0m-.2 0h0m-.3-2.4h0m-.6 .6h0m.1 2.5h0m.2 .7h0m.4 0h0m1 1.7h0m1.3-1.1h0m6.9 0h0m.2 .7h0m1 0h0m.3 .4h0m1.2-1.5h0m.1-.3h0m0-.3h0m.1 .2h0m.1 1.7h0m.1-2.3h0m.1 .1h0m.8 .4h0m.1 .7h0m.1-.7h0m.5-.1h0m.4 .7h0m.3-1.1h0m0 .3h0m.4 .3h0m0 1.2h0m.5-.8h0m.1 1.7h0m.1-2.6h0m.1 1.6h0m0-1.1h0m.4 2.2h0m0-.9h0m.4 .2h0m.2-1.2h0m.4 1.2h0m.1 .6h0m0-.9h0m.2 .2h0m.7 .9h0m.4-2.7h0m.2 1.4h0m.1 .6h0m-.5 1.8h0m-.3-1h0m0 2.3h0m-.3-.1h0m0-1.8h0m-.9 .1h0m-.5 1.8h0m-.9-.7h0m0 1h0m-.7-.7h0m-.4-.7h0m-.2 1.2h0m-.3 .5h0m-.2-2.4h0m-.1 .4h0m-.3 2h0m-.4-1.8h0m0-.4h0m-.1 .2h0m-.1 .2h0m0 0h0m-.1 .6h0m-.2-.2h0m-.1-.7h0m-.1 1.9h0m-.3-1h0m-.4 .1h0m-.4 .1h0m-1-1.8h0m-.2 1h0m-6.7-.7h0m-.2 1.9h0m-.4 0h0m0 0h0m-.4 .2h0m0 0h0m-.3-1.1h0m-2.1 .9h0m-.1-.4h0m0-1.3h0m-.1 2.1h0m-.6-.3h0m-.7-.4h0m2.3 2.6h0m1.2-1.4h0m11.6 2.7h0m0-2h0m.1-.9h0m.4 .4h0m1.5 2.4h0m1.4-2.8h0m0 1.2h0" stroke="#C77CFF" stroke-width="1.4" stroke-linecap="round"/>
<path d="M122.8 1009.2h0m4.4 17.6h0m1 .6h0m-6.4 1.7h0m-1.3 1.3h0m-2.9 0h0m-2 6.4h0m-9.4 .2h0m-.8 .7h0m-.2-.9h0m.5 3.2h0m2.7-.1h0m6.2 1.7h0m-7.2-.1h0m-.5 0h0m-.2-.4h0m-.6 1.7h0m-76.5 2.8h0m74.1 .6h0m3.5-1.6h0m.3 1.9h0m.1-1.9h0m4.7 3.9h0m-3.5-1.1h0m-.4 1.1h0m-.5-.6h0m-13.5 .4h0m-2.4 1.1h0m-1.7-1.2h0m-.3 1.7h0m-11.2 1.8h0m.4 .3h0m7.8-1.8h0m.1 0h0m2.6 1.8h0m1.6-.9h0m.3-.4h0m.2 1.4h0m0-2h0m1.7-.1h0m2.1 2.8h0m.1-.6h0m0-.5h0m11.7-.7h0m1.2 .3h0m1.5-.5h0m2 1.8h0m3.1 3h0m-.4-2.5h0m-1.5 2.8h0m-2.7-1.6h0m-5.6 .5h0m-8.4-1.1h0m-1.1 1.7h0m-.3 0h0m-.7 .4h0m0-2.6h0m-1.4 1.6h0m-3-1.3h0m-.2 1.8h0m-2.7-.9h0m0 .2h0m-1.2 .3h0m-1.6-.3h0m-.1 .7h0m-3.9-.7h0m-47.2 .2h0m46 1.4h0m1.1 1.5h0m1.1-.1h0m.3 .4h0m2.7 .8h0m1.6-.3h0m3.5-.6h0m.5-.7h0m1.8-.5h0m.4 1.6h0m1.3-.7h0m3.3 .4h0m0 .9h0m1.4-.3h0m9.8-2.3h0m2.9 .2h0m1.5 .1h0m4.1 3.5h0m-20.5-1.1h0m-.8 1.6h0m-1.2 0h0m-2.6-1h0m-.4 1.9h0m-.1-1h0m-2 1h0m-.5-2.1h0m0 1.1h0m-1.3 .9h0m-.4-1.6h0m-2.2 .2h0m-.4 1.4h0m-2.2-2.2h0m-3 .4h0m-49.2 .6h0m4.3 2.9h0m44.2-.2h0m.1 1h0m2.2 .9h0m.8-2.1h0m1 2.1h0m.1-1.1h0m.1-.5h0m1.3-.5h0m.6 1.5h0m.6-.5h0m1.4 1.1h0m.3-1.5h0m.2 .2h0m.1 .1h0m0 .8h0m.9-1.2h0m.8 .4h0m.2-1h0m1-.5h0m.1 1.8h0m.9-.3h0m4.2-1.6h0m22 2.5h0m3.3-.1h0m5.8-1h0m-3.2 3h0m-1-.4h0m-2.3 .1h0m-35.8-1h0m-.4-.1h0m-1.4 1.4h0m-.4-1.1h0m-.1-.1h0m0 .6h0m-1.1 .6h0m-12.4 .9h0m-10.5-.4h0m-4 .9h0m-15.2-1.7h0m.3 3.6h0m40.7 .7h0m3 .2h0m39.4-1.4h0m3.7 .2h0m-41.9 4h0m-2-.1h0m-11.1-.3h0m55.8 1.3h0m1.3 1.5h0m.2-1h0m.2-.7h0m1.4 2.6h0m-1.7 2.1h0m-40.8 3.9h0m45.3-.2h0m.9-1.3h0m-50.4 3.7h0m.3 3h0m2.8-1.2h0m47.4 .4h0" stroke="#00BFC4" stroke-width="1.4" stroke-linecap="round"/>
<path d="M38.1 1063.7h0m4.3 1h0m1.3 0h0m5.3 .1h0m34 2.2h0m-.8 .4h0m-.9 .4h0m-.5-1.5h0m-1.4 1.1h0m-.4-.7h0m-2.4 .1h0m-.4 .6h0m-10.6-.8h0m-1.2 .5h0m0-.7h0m-1.2 1.3h0m-5.1-1.4h0m-1.9 .4h0m-5 .8h0m-3.6-1.1h0m-8-.2h0m-1.3 .6h0m-2.4 .8h0m6.1 1h0m1.6 .3h0m2.4 1.8h0m1.1-1.9h0m9.9 1.3h0m11.2-.3h0m.2-1.2h0m4.9-.2h0m5.5-.2h0m.6 .6h0m.7 1.6h0m3.1-.4h0m.4 .9h0m.1-1.1h0m0 .6h0m.6-2.3h0m.1 3.5h0m-.1 2h0m0-1.7h0m-.4-.7h0m-.1 0h0m-.4 1.7h0m-.9-1.3h0m-1.2 1.7h0m-2-1.4h0m-13.2 1h0m16.4 3.7h0m.2-2.6h0m.7 1.2h0m.2 1.2h0m.5-.5h0m0 .5h0m0 .1h0m.3-.9h0m.1 0h0m.3-1.4h0m.2 .9h0m1.7 4.2h0m-2.4-.1h0m-.5-1.8h0m-.5 1.3h0m-.1-1.3h0m-.4 1.4h0m-.8-1.4h0m-.3 1.8h0m.2 1.3h0m.8 2.1h0m.9-2.3h0m.5-.3h0m.1 .2h0m0 0h0m.8 0h0m.4 2.4h0m.3-1h0m.9 .2h0m-.1 2.5h0m-.8 1.3h0m-1.2-1h0m-.4 1.3h0m-1.7 .9h0m.2-.4h0m.8 2.1h0m.1 .1h0m.1-2.2h0m.7 .9h0m.5 .5h0m.2-1.8h0m.4 1.8h0m.5-1h0m0-.2h0m.3 .6h0m.3 .1h0m47.2 0h0m.9 3.4h0m-49.4-.9h0m0-.4h0" stroke="#7CAE00" stroke-width="1.4" stroke-linecap="round"/>
<path d="M82.5 1069.2h0m-1.2 4h0m2.9 1.9h0m.4-.9h0m.9 4.3h0m-3.3 2.5h0m0-.5h0m2.8 .8h0m.4 1.4h0m.3 .1h0m.8-.3h0m.9 1.9h0m-.6 1h0m-.4-.7h0m-.3-1.7h0m-.1 .8h0m-.9-.1h0m-1.2 .2h0m0 1.2h0m-.2-1.5h0m-.2 .9h0m.1 4.1h0m.3-1h0m.2-.2h0m.6 .6h0m.1 .3h0m.6-1.6h0m.9 1.5h0m0 .3h0m-1.8 .6h0m-.1 .6h0m51.2 2.5h0m.7 2.8h0m-.4 .6h0m-1.4 .3h0m-1.9 1.6h0" stroke="#F8766D" stroke-width="1.4" stroke-linecap="round"/>
<path d="M122.6 1004.9h0m.3-.3h0m.4-.8h0m.9-.7h0m.6 1.7h0m.1-1.2h0m.1 .5h0m.1-2.1h0m.3 2.9h0m.1-2.1h0m.2 .8h0m.8-.5h0m.4-.2h0m.1-.8h0m.6 1.5h0m.2 1.1h0m.7-1.3h0m.4 .1h0m.1-.1h0m.2 .5h0m.5 .9h0m1.5-.3h0m.3 2.9h0m-.3 .2h0m-.7-1h0m-.1 1.1h0m-.2-1.5h0m-.3-.5h0m-.3 1.8h0m-.6-1.1h0m-.2-1.4h0m-.3 2h0m-.2 .1h0m0-2h0m-.5 .4h0m-.1 .5h0m-.9-.2h0m-.1 1.3h0m-.5-1.5h0m-.1 2h0m-.1-1.2h0m-.1 .7h0m-.1 .5h0m-.1 0h0m-1.1 .1h0m0-.2h0m-.6-.6h0m-.3 .6h0m-.1-.4h0m0-2h0m-.2 1.6h0m0-.1h0m-1.3 .4h0m-.2-.2h0m0 .4h0m-.5-1.3h0m-.2 .9h0m0 1.3h0m.9 1.1h0m.1 .6h0m.1 1h0m.1-.7h0m.3-2.1h0m.7 .7h0m.4 0h0m.4 1.9h0m.1-.5h0m.3-.1h0m.2-.6h0m.2 .6h0m0 .7h0m.1-2.7h0m.1 2h0m.2-.6h0m.1-1.1h0m.1 1.9h0m0 .4h0m0-2.4h0m.1 .9h0m.6 1.1h0m.4-.3h0m.2 .3h0m.1-1.1h0m0 0h0m.1 .4h0m0-.1h0m.2-1.1h0m.2 1h0m.8-.6h0m.5 1h0m.9-.3h0m.3 1.2h0m.3 0h0m.2 .1h0m.3-1h0m.2-1.7h0m.3 2h0m.1 0h0m.3-1.8h0m-2 3.4h0m-.7 1.9h0m-.1-.4h0m0-.1h0m-.2-.9h0m-.1 1.7h0m0-.3h0m-.2-2.1h0m-.2 .2h0m-.1 .6h0m-1.1 .1h0m-.3-.1h0m-.5 1.7h0m-.1-.6h0m-1.4-1.2h0m0-.6h0m-.2 .5h0m-.1 1.3h0m0-2h0m-.1 .7h0m-.2 1.9h0m-.6-2.7h0m-.8 .5h0m0-.2h0m-.3 1.6h0m-.8-1.5h0m-.4-.6h0m-.2 .8h0m1.2 4h0m.5-1.4h0m3.7 1.6h0m1.5-.8h0m1.5-.1h0m-6.3 2.4h0m-.4 1.8h0m-1.5 .5h0m-1.2 1h0m.6-.8h0m7.5 5.8h0m-7.5-2.4h0m-.3 1.4h0m-.1-.8h0m-1.1-.1h0m-.2 2h0m-.5-1.1h0m-.4 .8h0m.3 .9h0m.8-.3h0m3.1 1.3h0m.3 1h0m.1 .3h0m1-1.5h0m.2 1.6h0m.3-2.5h0m0 2.3h0m.4-2.7h0m0 2h0m0 .7h0m.2-2.5h0m.3 .4h0m1.7 1.1h0m.2-1.1h0m.4 .4h0m.7 1.6h0m0-.6h0m.3-.2h0m.7 1.4h0m-.3 1h0m-1.3-.2h0m-1.4 .1h0m0-.4h0m-6.5 .2h0m-3.6 1.8h0m-2 2h0m2.4 .1h0m0-1.5h0m.9 2.1h0m1.1-2.4h0m-1 4.8h0m-.9 .6h0m-11.2 2.3h0m.2-.7h0m.2 1.5h0m7.4-.7h0m1.7 0h0m.8-.5h0m-.9 2.7h0m-1.3 .6h0m-3.7 1.1h0m-1.7 0h0m-2.9-1.7h0m-.3 1.1h0m2.7 .9h0m0 2.1h0m1.9 .3h0m1.8-1.8h0m1.9 .7h0m.7 1.6h0m.6-.9h0m.2 3.3h0m-1.5-1.9h0m-.6 2.5h0m-.1-2.1h0m-.1-.7h0m-.2-.1h0m-2.7 1.9h0m-21.6-.8h0m-51.1 1.7h0m-8.1 2.3h0m.8-1.5h0m1 1.4h0m.4 .9h0m.4-1.9h0m.4-.1h0m.1 1.7h0m58.4-1.1h0m1.5 .6h0m5.4 .7h0m14.3-2h0m.1 .7h0m0 .5h0m.5-.3h0m0 .1h0m.3-.7h0m.6-1h0m1.3 2.4h0m1.6 3h0m-.1-.2h0m-1.5-1.5h0m-.3 1.6h0m-1.4-.6h0m-.2-1.5h0m-.5 .2h0m-1.3 1.3h0m-.6-1.6h0m-4.3 1.7h0m-.9 .1h0m-1.4 .5h0m-11.6-2.5h0m-1.5 .4h0m-.9 2.5h0m-1.7-2.2h0m-8.6 1.4h0m-44.5 .7h0m-1-.2h0m0-.7h0m-.3-.3h0m-.5 .3h0m-.4 .4h0m-.4 .3h0m-.2-1.5h0m-.5 .9h0m-.5-1.1h0m-.2 .9h0m-.2 .5h0m-.5-.7h0m-.1-1h0m0-.3h0m-.2 .4h0m-.2 .3h0m-.7 .9h0m-.1 .7h0m0-2h0m-.3 1.5h0m-1-.6h0m-.3-.5h0m0 .6h0m-.8 1.2h0m-.9 1h0m.6 1.8h0m.1-2.2h0m.2 2.3h0m0-1.6h0m.1-.9h0m0 1.6h0m.1 1h0m.3 .1h0m.1-.3h0m.3 .2h0m1-2.1h0m.7 .9h0m.3-.6h0m.5-.8h0m.3 1.2h0m.5 .5h0m.6-1.4h0m0 .9h0m.1 1.3h0m0 .1h0m.3-.7h0m.7-.1h0m0 .9h0m.2-2.9h0m0 0h0m.1 1.1h0m.1-.2h0m.1 .2h0m.3 .7h0m.7 .5h0m.2 .6h0m0-1.2h0m.7-.1h0m.3-.2h0m0-.8h0m44.1 .2h0m6.8 2.1h0m.5-.2h0m6.8-.5h0m1.1-1.9h0m.6 .6h0m.8 .9h0m.3 .4h0m3.7-.9h0m4.4-1.3h0m2.1 .5h0m6.2-.1h0m1 1.7h0m1.4-1.2h0m.2 1.7h0m.2-1h0m.3 .7h0m.3-1.2h0m1.3 .2h0m3 1.5h0m.2-.6h0m4 2.8h0m-4.7-1.6h0m-.9 .6h0m-1 .9h0m-2 .4h0m-.4-.7h0m-.5 .6h0m-15.3-2.2h0m-7.2 2.7h0m-57.1-1.7h0m0 1.8h0m-.1-1.7h0m-.3 1.8h0m-.1-1.5h0m-1.4-.6h0m-.1-.2h0m-.6-.4h0m-.3 .5h0m-.2 1.8h0m-.2-2.5h0m-.2 2.1h0m-.1 .5h0m-.2-.4h0m-.8-1.9h0m-.5 2.4h0m-.1-.1h0m0-2.3h0m-.3-.3h0m0 2h0m-.1-1.3h0m-.4-.6h0m0 .3h0m-.1 1.3h0m-.3 .3h0m0-.1h0m-.1-.2h0m-.5 .2h0m-.2 .2h0m0-1.6h0m-.3 .2h0m0 1.3h0m-.7-.2h0m-.2-.3h0m-.4 1.1h0m-1-1.9h0m0 1.4h0m-.5 .8h0m-.5-.3h0m-.4 1.1h0m1.5 1.2h0m.4-1.1h0m1.1-.2h0m0 1.5h0m.3 .8h0m0-1.8h0m.1 .8h0m.2-1.5h0m.6 0h0m.4 1.5h0m.2 .8h0m.2-2.2h0m0-.3h0m.1 2.7h0m.2-1.1h0m.3 .5h0m.3-.7h0m.3 1.1h0m0-.3h0m0-1h0m.1-.8h0m.1 .5h0m.5 1.7h0m1.1-.1h0m.2-.3h0m.3-.5h0m.1-.4h0m.2 .1h0m.2-.4h0m.1-.9h0m.2 .4h0m.5 2.1h0m.1 .1h0m.1-.5h0m.1-1.5h0m4.7 1.6h0m2.6-.1h0m.4-.1h0m38.7-.3h0m1.2-.3h0m3.9-1.3h0m.6 2.1h0m3.3-.1h0m2.3-1.3h0m26.3 1.1h0m1.1-.7h0m1.1 .5h0m.4-.2h0m.5 .8h0m1.2-.1h0m.6 .2h0m1.3-.5h0m-4.3 3.4h0m-1.7-1.1h0m-.1 .6h0m-35.8-1.6h0m-3.6 1.8h0m-5.6-1h0m-5.9-.5h0m-1.4 2h0m-2.8 0h0m-3-1h0m-2.1 .8h0m-.8-2h0m-4.2 2.2h0m-1.5-.6h0m-.1-1.8h0m-1.7 .2h0m-.8 .9h0m-.8-.6h0m-1.1 .7h0m-.1-.6h0m-1.3-.1h0m-1.6-.9h0m-1.7 .1h0m-1 .7h0m-1.9 1.2h0m-5.8-1.8h0m-.7-.1h0m-.6 .4h0m-.1-.2h0m-.1 1h0m-1-.9h0m-.1 .8h0m-.4-1.1h0m0 1.1h0m-.1 .7h0m-.2-1h0m-.3-.2h0m-.8-.7h0m-.2 1.7h0m-.3-.3h0m-.3-.9h0m19.4 2.7h0m14.7-.2h0m3.2 1.6h0m0-1.2h0m2.3 1.3h0m1.5-1.5h0m.1 .6h0m.1 .2h0m.1 .3h0m1.7-.2h0m.4-.3h0m2.4 1.3h0m1-.3h0m.8-.8h0m44.5 .3h0m1.7-.5h0m2.3 1.4h0m0-.1h0m.2-1.3h0m.1-.6h0m.8 2.1h0m.1-1.5h0m2.9 3.1h0m-.4 1.9h0m-1.9-1.9h0m-57-.6h0m-5.8 1h0m-1.7-1.1h0m64.8 3.7h0m.5 1h0m.8-1.1h0m1-.7h0m.9 2.5h0m.4-2.6h0m0 2.5h0m3.2 2.7h0m-3.6-.4h0m-1.7-1.6h0m2.3 4.6h0m.1-.3h0m.9-1.5h0m.7 .5h0m.1 1.9h0m.7-.1h0m3.6 2.2h0m-.7 .7h0m-.9-.1h0m-.2 .8h0m-2.5-1.9h0m-1.2-.8h0m1.7 3.5h0m.1-.7h0m1.1 2.7h0m1.3-.6h0m7 .6h0m5.2-.9h0m.1-.8h0m.4 .3h0m.1 .7h0m1.1-1.6h0m1.7 2.3h0m.6-.5h0m1.5 3h0m-.7-.3h0m-.5 .9h0m-.2-2.5h0m-.2 2.2h0m-.5 .2h0m-.3-1.7h0m0 .4h0m0 .8h0m-.6-.7h0m0-.5h0m-.2 .3h0m-.1 1.4h0m0-1.3h0m0-1.3h0m-.1 2.7h0m-.1-1.7h0m0 1.4h0m-.3-.3h0m-.1-.8h0m-.1-.4h0m-.2 1.2h0m-.2-.6h0m-.1-.7h0m-.4 1h0m-.3 .9h0m-.3-2.3h0m-.1 1.5h0m-.4-.2h0m-.3-1h0m-.1-.6h0m-.1-.1h0m-.1 2h0m-.2 .6h0m0-.2h0m-.3-1.3h0m-.3 .3h0m-1.1 .3h0m-.3 1.1h0m-1.9-1.9h0m-.6-.3h0m-.3-.6h0m-1.1 .2h0m-.5-.3h0m-4.5 .2h0m-2.1 1.8h0m-.1 2.9h0m.4 .2h0m.6-.3h0m.1-1.3h0m.8 .5h0m0-.4h0m.1 1.6h0m.1-.7h0m.3 1.3h0m.1-1.2h0m0 .4h0m.4-.1h0m.9-1h0m7 .6h0m.8-.5h0m0 1.5h0m.1-.7h0m.6-.6h0m.1 1.5h0m.7-.6h0m.5-.9h0m.1 .6h0m.1-1.5h0m.2-.2h0m0 .1h0m.3 1.6h0m.1-.1h0m0 0h0m.3-.3h0m.3-1.2h0m.1 1.3h0m.1-.8h0m.1 1h0m.1-1h0m0 1.2h0m.2-1.9h0m1 .4h0m.8 2.1h0m.3-.3h0m.1 .2h0m0 .3h0m.5-1.7h0m.1 .8h0m.2-.5h0m.5 1.6h0m0-.2h0m.3-.4h0m.3-2.1h0m.3 .8h0m.4 .4h0m-.9 3.5h0m-.1-1.9h0m-.6 .7h0m-.1 1.9h0m-.1-.1h0m-.2-.3h0m-.2 .3h0m-.5-2.5h0m-.2 2.4h0m-.4-1.6h0m-.4 1.5h0m-.6-1.4h0m-.4 1.6h0m-.1-.8h0m-.1-.7h0m-.6 1.6h0m-.5-1.2h0m-.4 .2h0m-.8 0h0m-.1 .9h0m-.7-2.4h0m-8.5 2.2h0m-.1-2.1h0m-.1 .7h0m-.1 1.3h0m-.4 0h0m-.3-2h0m-.7 .3h0m-.1 1.7h0m-.2-1.5h0m-.2-.6h0m-.3 2.5h0m-.4-1.5h0m-.8 .8h0m.2 1.2h0m.3-.1h0m1.4 .9h0m11.9 .1h0m0 1.6h0m1.4-2.5h0m.1 .5h0m0 .7h0m.3-1.1h0m.6 2.5h0m.5-2h0m.1-.3h0m.1 .7h0m.1 .1h0m.4 .5h0m.1 0h0m0-1h0m.5 .3h0m.1 .3h0m.4-.6h0" stroke="#C77CFF" stroke-width="1.4" stroke-linecap="round"/>
<path d="M123.8 1008.6h0m1 1.6h0m-6.4 8.4h0m1.9 2.5h0m4.4 7h0m2.9 .5h0m1.5-1.6h0m-1.4 2.8h0m-.2 .5h0m-2.9 .1h0m-6.8 1.8h0m-2.1 4.4h0m-10.3-1.1h0m-.9 1.1h0m-1.1 .9h0m1.3 2.9h0m2.1 .5h0m8.1-2.7h0m-9.6 3.4h0m-1.2 1.4h0m-74.3-1.3h0m-.7 4h0m76.8 .6h0m.4 .4h0m1.1-2.7h0m.5 2h0m4.1 2.4h0m-1.7-.4h0m-.1 .9h0m-1.3-1.8h0m-14.2 .3h0m0 .3h0m-1.4 1.1h0m-1.2 .7h0m-2.3-.7h0m-2.8-.5h0m-7.6 .8h0m-.2 .4h0m-48-1.7h0m47.6 4.3h0m.3-.7h0m.1-.9h0m7.3 2.3h0m3.4 .1h0m3.4-.8h0m17.8-.9h0m.1-.4h0m-1.9 4.5h0m-1.2-2.2h0m0 1.1h0m-3.4 .9h0m-7.4-.3h0m-.4 .8h0m-.9-.3h0m-.2-.5h0m-2.1 .4h0m-2.2-.8h0m-.3-.2h0m-1-.8h0m-.2 1.1h0m-3.1-.5h0m0 1.8h0m-.9-.8h0m-1.3-1.1h0m-.4 1.3h0m-.1-1.2h0m-6-.5h0m-47.9-.1h0m-2.9 3.8h0m.6-.6h0m56.3 .4h0m.3 0h0m2.4-.6h0m1.6 .9h0m.2-1.1h0m.8 2.3h0m.8-.8h0m0 .1h0m.5-1.4h0m.4 2h0m.1 .3h0m.6-2.2h0m2.5 1.5h0m1.1 .4h0m.1-1.9h0m2.9-.3h0m.6-.2h0m3.5 .2h0m12.4 .5h0m.5 1.4h0m3.3-.3h0m-18.5 1.5h0m-3.6 .9h0m-.2-.5h0m-1.2 .1h0m-.5-.2h0m-.9 2.3h0m0 0h0m-.1-2.7h0m-.6 .4h0m-.1 .2h0m-.1-.8h0m-1.7 1h0m-1.1 .5h0m-.4 .1h0m-1.3-.1h0m-.6 1h0m-.8 .3h0m-.4 0h0m-1.7-2.4h0m-2.6 1h0m-.3-1.4h0m-.9 2.8h0m-1 0h0m-.3-1.6h0m-1.2 0h0m-43.5 1.3h0m-6.7-.7h0m-2.4 2.3h0m2.5-.8h0m4.8 .4h0m3.3 1.4h0m3.6 .7h0m37.9-2.1h0m2.3 .7h0m.3 .1h0m.3-.2h0m.7-1h0m.2 1h0m1.7-.4h0m.1 .9h0m.1 .4h0m.7-.4h0m.3 .7h0m1 .2h0m.3-1.1h0m.2-1.3h0m1 1.5h0m.1-1.8h0m.3 2.3h0m1.5-.4h0m.3-1.3h0m.2 .6h0m.4 .5h0m.4-1.4h0m2.1 .1h0m.6 0h0m.8-.3h0m21.8 .2h0m2.5 2.3h0m-.3 1h0m-32.3-.6h0m-1 .3h0m-.1 1.6h0m-2.3-1.6h0m-.6 1.2h0m-.7 1.3h0m-1-1.7h0m-.1-.4h0m-2.3 1.5h0m-28.6 .1h0m-.4-1h0m-12.6-1.3h0m15.4 5h0m28.6-1.8h0m2.1 .2h0m1 2.5h0m42.6 .8h0m-1.6-.7h0m-41.1 .7h0m0 1.4h0m-1.3 .5h0m-27.7-2h0m28.6 5h0m.6-.4h0m1-.3h0m.1-1.3h0m41-.3h0m3.8 .2h0m.9 1.5h0m-45.6 1.7h0m-1.4 1.6h0m.8 3.3h0m.2-1.7h0m49.5 .3h0m-.1 4.6h0m-50.8-.1h0m-.2-2.7h0m.7 5.4h0m1.2 .4h0m.3-.8h0m1.2-.8h0" stroke="#00BFC4" stroke-width="1.4" stroke-linecap="round"/>
<path d="M34.9 1064.5h0m47.2 3.4h0m-18.9-1.6h0m-7.8-1.1h0m-2.2 .8h0m-.5 .4h0m-3.6 .9h0m-.9-.6h0m-3.9 .7h0m-3.2 .1h0m-2.6 2.2h0m7.3-1.3h0m.6 .3h0m5.9-.3h0m2 .4h0m.7-.2h0m3.1 .1h0m2.3 1.5h0m1-1.7h0m2.9 1.6h0m5.1 0h0m.4-1.9h0m3.9 .9h0m1.9-.5h0m3.5-.5h0m2.3 2.1h0m.7-.3h0m.7 .2h0m.1-.6h0m.3-.8h0m.2-.2h0m.3 2.3h0m0-1.3h0m.8 1.5h0m-.2 1.2h0m-.3-.6h0m-.8 1.4h0m-.3-1.7h0m-.1 .6h0m-.1-.1h0m-.2 1.1h0m-.7 .4h0m-18.3-2.3h0m17.9 4.4h0m0-.8h0m1-.4h0m.8 1.3h0m.1 .8h0m.3 .6h0m.4-.6h0m.2 .3h0m.3 .8h0m-.5 1.2h0m-.8 1h0m-.2-2.4h0m-2.2 3.2h0m1.8-.3h0m1.7-.1h0m.1 1h0m.1 1.7h0m1.6-.7h0m47.1 .6h0m-45.5 3.3h0m-1.1-.4h0m-.2-1h0m-.5 .1h0m0-.5h0m-.5-.2h0m-.2-.6h0m-.3 .6h0m-.1 1.7h0m0-2.1h0m-.3 .4h0m-.1 .1h0m0-.9h0m-.2 .5h0m-.6 2.1h0m-.7-2.6h0m-.2 1.2h0m-.2-.2h0m-.1 2h0m.2 .3h0m.9 1.5h0m.4-1h0m.5-.9h0m0 .3h0m0 .7h0m.3 1.1h0m.2-2.1h0m.4 2.2h0m.1 .5h0m.6-1.3h0m.2 .1h0m0 .4h0m1.5 .9h0m46.2-1.1h0m-49.8 2.5h0" stroke="#7CAE00" stroke-width="1.4" stroke-linecap="round"/>
<path d="M82.5 1072.6h0m-.8-1.3h0m-.3 4.4h0m5.5 9.6h0m-.3-.2h0m-.7-.5h0m-.3 .4h0m-.8 0h0m-.5-.5h0m-.1 .7h0m-.3 .4h0m-.4 .2h0m-.7-.7h0m-1.1-1.3h0m2.4 2.8h0m0 2h0m1.2-1.2h0m.3 1.1h0m.4 .4h0m.7-2h0m.9-.9h0m48.2 5.9h0m-49.9-2.9h0m-.3 .6h0m47.6 2.8h0m.3 1h0m1 1.6h0" stroke="#F8766D" stroke-width="1.4" stroke-linecap="round"/>
<path d="M33.5 1062.8Q57 1067.5 82.3 1066.6Q95 1056.5 111.3 1052.9L125.6 1008M111.3 1052.9L132.5 1082.5L146 1092.5M132.5 1082.5L134.5 1090M82.3 1066.6L83.8 1070" fill="none" stroke="#222" stroke-width=".8"/>
<path d="M16.1 993.6V1106H158.9" fill="none" stroke="#444" stroke-width=".8"/>
<text x="12.6" y="1027.3" text-anchor="end" class="th">5</text>
<text x="12.6" y="1062.7" text-anchor="end" class="th">0</text>
<text x="12.6" y="1098" text-anchor="end" class="th">-5</text>
<text x="49.1" y="1118" text-anchor="middle" class="th">-10</text>
<text x="101.3" y="1118" text-anchor="middle" class="th">0</text>
<text x="153.4" y="1118" text-anchor="middle" class="th">10</text>
<path d="M13.9 1024.2H16.1M13.9 1059.6H16.1M13.9 1094.9H16.1M49.1 1106V1108.2M101.3 1106V1108.2M153.4 1106V1108.2" stroke="#444" stroke-width=".8"/>
<text x="99.3" y="1126" text-anchor="middle" class="th">Component 1</text>
<text transform="translate(5.8 1061.8) rotate(-90)" text-anchor="middle" class="th">Component 2</text>
<text x="87.4" y="984.6" text-anchor="middle" class="ht">Cell types</text>
<path d="M201.1 1051.7h0m.2 1.1h0m.4 0h0m0-.3h0m.2-.1h0m4.1 2.9h0m-.5-.9h0m-.4 .4h0m-.1-.5h0m-.1 1.2h0m-.3-.2h0m-.7-1.6h0m-.2 .3h0m-.8 .5h0m-.2-1.2h0m-1.6-.1h0m-.1 .5h0m-1 .8h0m-2-1.3h0m-.1 1h0m0 .2h0m-1.9 3.1h0m1.1-1.3h0m.1 2.4h0m.3-2.4h0m.4 .5h0m2.4 1.4h0m0-1h0m.3 0h0m.4 1.4h0m.2 0h0m.2-1.8h0m0-.4h0m1.2 1.9h0m.3-.6h0m.4-.5h0m0-1h0m.5 2.7h0m.2-2.4h0m.1 .2h0m1 1.2h0m2.1 2.9h0m-.3-.6h0m-.4 1.2h0m-.4-.9h0m-.5-1.1h0m-.1 1.7h0m-.1-.1h0m-.1 .3h0m-.2-.9h0m-.1 1.4h0m-.1-2.5h0m-.4-.1h0m-.9 1.1h0m-.1 .6h0m0-1.3h0m-.5 1.2h0m0-.1h0m-.1-1.5h0m-.3 2.1h0m-.7-1.4h0m-1.2 0h0m-.2 1.1h0m-1.1 .7h0m-.1-2.6h0m-.2 .2h0m0 1.5h0m-.6 1h0m-3.2-1.8h0m.2 2.3h0m1.3 1.9h0m1-1.5h0m0-.5h0m.3 2.4h0m.3 0h0m0-.5h0m0-.4h0m.4-.2h0m1.2-.6h0m.6 1.7h0m.1-.1h0m.3-1.4h0m0 1h0m.4-2h0m.4 1.6h0m.6 1.3h0m.6-2.8h0m0 1.8h0m.2-1h0m.6 .5h0m.1-.4h0m1.4 .9h0m.5-1.3h0m-3.4 2.4h0m-.4 .7h0m-.2 .7h0m-.6-.2h0m-.3-1h0" stroke="#78B2EE" stroke-width="1.4" stroke-linecap="round"/>
<path d="M201.8 1052.9h0m2-.2h0m1.2 1.7h0m-.4 .4h0m-.2-.6h0m-.5 .6h0m-.8-.8h0m-.8-.6h0m-.2 .1h0m-1.9 1.6h0m0 .6h0m-.1-2.6h0m-.3 1.9h0m-.6 .9h0m-1.1-1.8h0m-.1-.8h0m-.1 2.4h0m-.7-.9h0m-.2 1.4h0m.6 .4h0m1.7 1h0m.1-.8h0m1.1 2.1h0m.6-1.2h0m.6-.1h0m.2 .6h0m.2-1.5h0m.4-.7h0m0 .2h0m.4 .2h0m.1 .3h0m.6 .7h0m1.9 .1h0m0 .9h0m.9-1.3h0m-.2 2.8h0m-2 2h0m-1.2-1.2h0m0 .4h0m-.4-1h0m-.2-.4h0m-.8 .6h0m-.1 .6h0m-.7-1.3h0m-.3 .4h0m-.6 1.8h0m-.4-2.8h0m0 1.9h0m-.1-1.8h0m-.3 2.8h0m-1.5-2h0m-.5-.1h0m0 3.5h0m1.3-1.2h0m.7 0h0m.9 1.3h0m.2 .8h0m.4 .3h0m.1-.2h0m0-.3h0m.3-.2h0m.2-.7h0m3.3-.8h0m.6 1.4h0m.2-.3h0m-1.7 1.6h0m-.9 1.5h0m-.3-1.3h0m-1.5 1.1h0m-.6-.1h0" stroke="#8BBDF0" stroke-width="1.4" stroke-linecap="round"/>
<path d="M203.5 1042.2h0m-.5-1.1h0m-2.6 3.3h0m1 .7h0m4.1 1h0m-2.2 4.4h0" stroke="#6AA8EA" stroke-width="1.4" stroke-linecap="round"/>
<path d="M208.2 1063.5h0m9.6 1.1h0m32 3.1h0m-2.5-.3h0m-2.7-1.7h0m-.8 .1h0m-.3 1.7h0m-2.1-.3h0m-4.8 .1h0m-5.3-1h0m-5.5 .2h0m-1.2-1h0m-.3 1h0m-.4 .8h0m-3.2-.5h0m-1.6-1.4h0m-.7 1.3h0m-6.4 .5h0m-.4-2.1h0m20.7 4h0m2.5 1.4h0m5.7-1.7h0m1.6-.2h0m1.2-.6h0m0 0h0m3.4 .5h0m-12.4 3.3h0m-.7 .9h0m-13-1.2h0" stroke="#3F85D0" stroke-width="1.4" stroke-linecap="round"/>
<path d="M208.6 1064.3h0m1.4-.3h0m2.9-.2h0m36.9 3.2h0m-1.5 .9h0m-8.9-2.1h0m-1.4 1.6h0m-2.2-.4h0m-.2-.4h0m-.2 .5h0m-.9 .1h0m-2.6-.3h0m-2.4-.8h0m-.1-.3h0m-.8 2h0m-.3-.3h0m-.8-1.3h0m-1.8 .2h0m-2.7-.2h0m-1.2 .3h0m-4.4 1.4h0m-2.2-.4h0m2.4 2.7h0m15.1-2.2h0" stroke="#4A90DA" stroke-width="1.4" stroke-linecap="round"/>
<path d="M206.6 1064h0m2.2 .8h0m3.7-.9h0m3 .3h0m3.7 .4h0m.7-.2h0m6.9 .3h0m19.6 3.2h0m-4.4-1.2h0m-1.8 1h0m-3.8-.3h0m-2.3-.2h0m-5-2h0m-4.5 1.1h0m-2.6-1.1h0m-1.7 .6h0m-3.6-.4h0m-.8 1.5h0m-1.4-1.7h0m-1.3 2h0m-.4-.2h0m23.4 1.8h0m4-.5h0m1.4 .1h0m2.6 0h0m5.1 .4h0m1.1-.5h0m-19.7 3.4h0" stroke="#3278C0" stroke-width="1.4" stroke-linecap="round"/>
<path d="M254.4 1066.7h0m-.7 2.9h0m.5-1.5h0m1.9 4.6h0m-2.5-1.4h0m-.7 1.8h0m2.6 4.1h0m-.8 1.7h0m-2.6 1.2h0m1.5 2h0m1.7-1.6h0m1.3 .6h0m-2.2 3.3h0m-1.8-1.1h0m.8 2.9h0m1 1.9h0m.9-1.6h0" stroke="#123A6A" stroke-width="1.4" stroke-linecap="round"/>
<path d="M252.6 1067h0m1.2 3.8h0m1-.1h0m-.4 1.7h0m-2.5-1.2h0m2 3.5h0m1.5-.6h0m-.3 5.6h0m-.3-1.3h0m-.8-1.3h0m-.5 2.1h0m-.8-.5h0m2.4 3h0m1.2 .4h0m1.4 .1h0m.5 3.7h0m-.1-2.9h0m-.4 1.8h0m-.2 .2h0m-1.5-1.6h0m-.3 1.1h0m-.3-1.1h0m-.6 1.2h0m-.2-1.5h0m-.1 2.8h0m0-.3h0m-.8-1.8h0m.3 3.6h0m.2-1.3h0m.5 1.1h0m.1 .6h0m.2 .3h0m.2-1.3h0m0-.7h0m.2 1.6h0m.4-1.3h0m0 1.4h0m.3 .6h0m.1-.7h0m.1-.4h0m.2 .4h0m.2 .1h0m.1-.9h0m0 1.6h0m.2-1.8h0m.2 1.3h0m-1.2 1.4h0m-.3-.4h0m-.1 .5h0" stroke="#0E2F58" stroke-width="1.4" stroke-linecap="round"/>
<path d="M253.3 1067.9h0m-.1-1h0m-1 .4h0m.5 3.5h0m1.6-2.8h0m.2 2.4h0m.1-1.4h0m-.8 3.7h0m-1 .4h0m1.3 1.9h0m.6 1.9h0m.3-1.5h0m0 .6h0m.6 .8h0m-1.8 1.5h0m-.9 .1h0m-.1-1h0m-1.1 2.5h0m1.8 1.1h0m2.4-.2h0m.4 2.6h0m-.6 2.1h0m-2.1-1.1h0m3.3 3.2h0" stroke="#1A4478" stroke-width="1.4" stroke-linecap="round"/>
<path d="M264.8 1046.4h0m-6.3 3.5h0m-.5-.2h0m-7.6 1.7h0m11.3 .6h0m2.4-.4h0m.6 .5h0m.5 .6h0m-1.4 1.6h0m-3.8-1h0m-.1 .2h0m-.2 2.4h0m-1.9 0h0m-.1-.6h0m-8 2.8h0m.9-1.2h0m2 .6h0m.8 1.3h0m2.8-.4h0m5-1.1h0m.5 .8h0m.5-2.1h0m4.1 2.3h0m1.2-.8h0m.1-.7h0m-.4 2.4h0m-5-.1h0m-.4 .7h0m-2.2 1h0m-4.2-1.3h0m-1.5 1.2h0m-2.5 0h0m-1.8 1h0m1.9 1.3h0m.1-.7h0m0 .6h0m3.7 .8h0m2-1.3h0m.6 .7h0m3.1 .1h0m-9.6 2.7h0" stroke="#24599A" stroke-width="1.4" stroke-linecap="round"/>
<path d="M262.7 1048.9h0m-2 3.5h0m.3 .5h0m2-2.3h0m1.8 2h0m.4-1h0m2.3 3.5h0m-.3-1.9h0m-.8 2.1h0m-.5-.4h0m-1.5 .3h0m-.2-.9h0m-1.8-.1h0m-5.5 1.7h0m-1.7-.3h0m-2.5 2.1h0m4.1 .3h0m.6-.4h0m2.9-.2h0m.5 .6h0m.4-.8h0m1.2 .3h0m.2-.7h0m1.6 .3h0m3.2 1.9h0m-1.3 .3h0m-8.3 0h0m-1.2 2h0m-5.3 0h0m3.7 1.8h0m3.8 .5h0m.1-.5h0m1.6-1h0" stroke="#2F6BB0" stroke-width="1.4" stroke-linecap="round"/>
<path d="M265 1047.1h0m-.9 1.3h0m-1.1 .4h0m-12.9 .2h0m-.6 3.9h0m.6-2h0m12-.3h0m4.2 1.7h0m15.2 .5h0m-.5 .4h0m-2.8 1.2h0m-.8-.9h0m-1.5-.4h0m-.3 1.2h0m-.4 .3h0m-1.6 .4h0m-.3 .7h0m-4 0h0m-.4-.3h0m-2.2 .3h0m-11.6-2.2h0m-3.7 2.2h0m-1.5 1.2h0m3.6 1.8h0m1.7 0h0m1.8-1.3h0m.4-1.4h0m.4 2.9h0m1.5-1.8h0m2.6 1h0m1-.3h0m1.7 .9h0m.2-2.5h0m.3 .2h0m.1 1.6h0m.3-.9h0m.8 .8h0m1.2 .5h0m1.3-.3h0m.8 .4h0m1.3-1.6h0m5.3-.9h0m-10.4 3.3h0m-1.1 1h0m-1.2-1.3h0m-3.8 2h0m-2.5-.2h0m-1.3 1.1h0m-.8-.7h0m-1.6-1.3h0m-2.6-.2h0m2.2 3.1h0m.2 1.5h0m2.1-.1h0m.5-.2h0m.3-.7h0m1-.2h0m.3-.3h0m.6-.2h0m.7 .5h0m1-.5h0m-4.5 4.3h0m-.6-.5h0m-1.9-.4h0m0-1h0" stroke="#3A7CC2" stroke-width="1.4" stroke-linecap="round"/>
<path d="M276 1037.2h0m-.9 .6h0m-.5 2.5h0m.6-.4h0m3.2 3.3h0m-.5 .3h0m-.4-2.4h0m-1.5 2.7h0m2.3 2.8h0m.6-2.4h0m.5 2.2h0m1.4 2h0m-4.5-.9h0m1.6 3h0" stroke="#3A92E8" stroke-width="1.4" stroke-linecap="round"/>
<path d="M293 1013.9h0m-.9 1.8h0m1.4-1.7h0m-.9 5.9h0m-.5-2.7h0m-.5 1.8h0m-.7 .5h0m0 1.8h0m-1.5 4.4h0m-.1-2h0m-.8 2.4h0m.7 4.5h0m-1 1.1h0m-1.5 .1h0m-.9 .9h0m.9 .6h0m.8 .5h0m-.3 1.4h0m-.5 1.7h0m-8.4 .5h0m-2.3 1.1h0m8.4 .2h0m1.3 2.1h0m1.6-1h0m-9.4 2.3h0m-1 1.4h0m-.3-1.2h0m-2-.1h0m-.7-.9h0m.4 4.4h0m2.5-1.4h0m1.7 1.5h0m4.4 .1h0m1.2 .5h0m-.5 2.2h0m-1.3 1.2h0m-1.6-1.4h0m-1.8-.4h0m-1.7-.9h0m1.9 3.7h0m2.4-.3h0m2.9 1.5h0" stroke="#4C9CEA" stroke-width="1.4" stroke-linecap="round"/>
<path d="M292 1010.4h0m.5-1.8h0m1.1 .2h0m1.4 .9h0m.2-.2h0m.1 0h0m1.1-.5h0m-3.4 4.7h0m-.4-2.7h0m-1.2 4.8h0m1.9-1.8h0m1.9 .3h0m-2.3 4.5h0m-1.4 .5h0m-.4-.7h0m-2.4-.5h0m1.6 2.2h0m1-.3h0m-1.9 3.4h0m-.2 2.4h0m-.2 .9h0m-.4 4.8h0m-.2-1h0m-.6 .2h0m-.6-1.1h0m-2.9 3.6h0m3.4 2.3h0m-1.3 1.9h0m-1.1 .3h0m-1.2 3h0m1-1.4h0m.2 1.2h0m1 1.8h0m-1.3-1.2h0m-1.5 4.6h0m1.3 2.7h0m-1.1 .2h0m-.5-.7h0m-.1-.8h0m-.8 .2h0" stroke="#66ABEE" stroke-width="1.4" stroke-linecap="round"/>
<path d="M295.4 1001.2h0m-.1 1.4h0m.4 .8h0m.2-.3h0m.3 1.2h0m.1-1.9h0m.5-.1h0m.1 1.1h0m1-.4h0m1.1 1.5h0m2.3-.5h0m.5 3.2h0m-1-.1h0m-.5-1.4h0m-1 1.3h0m-.4-1.6h0m-.7 1.1h0m-.5 .1h0m-.1-1.6h0m0 .1h0m-.1 2.7h0m-2-2.3h0m-.4 1.8h0m-4-.1h0m.4 1.7h0m1 .4h0m1.4-.5h0m.5 1.3h0m.2-.4h0m1.7-1h0m.1 1h0m.9 .3h0m0-1h0m1.7 1.2h0m0 .6h0m.2-2.2h0m.4 .3h0m1.5 2.3h0m-.3 1.4h0m-.5-.5h0m-.9 1.3h0m-.1-1.9h0m-.1 .4h0m-.1 .6h0m-.4-.8h0m-1.1 .4h0m-1.3-1h0m-.3 1.7h0m-.5 .8h0m-.8-1h0m-.5-1.5h0m0 1.1h0m-1-.5h0m5.3 2.7h0m.5-.3h0" stroke="#A8D0F5" stroke-width="1.4" stroke-linecap="round"/>
<path d="M292.3 1003.7h0m1.5-.4h0m.9 1.1h0m.6-1.1h0m.8-1.3h0m.1 1.9h0m1.9 .8h0m.4 0h0m.1 .2h0m.2-1.3h0m1.1-.7h0m1.2 3.7h0m-.9-.1h0m-.2-1.3h0m-1.8 2.5h0m-.1-.5h0m-1.5-.8h0m-.3-.9h0m-.3 1.6h0m-.5 .3h0m-.1-2h0m-.9 .9h0m-.6 .7h0m-.3-.9h0m-.5 .7h0m-.4-1.5h0m-.7 2.5h0m0-.5h0m-.5 .3h0m-.1-1.3h0m0 2.1h0m.5 0h0m1 1.9h0m1.2-2.1h0m.5 2.6h0m1.2-.7h0m1.3-.4h0m0-1.1h0m2.4-.6h0m.6 2.1h0m0-1.7h0m.3 0h0m.5 .8h0m-1.5 3h0m-1 .3h0m-.2-1.5h0m-.5 1h0m-.7 1.3h0m-2.1-1.7h0m-.2-.1h0m-.1 .5h0m-2 .6h0" stroke="#B6D8F7" stroke-width="1.4" stroke-linecap="round"/>
<path d="M298.6 1025.7h0m-.7-.2h0m-1.6-.1h0m-.7-.6h0m-.7 .9h0m-.5-.1h0m-.1-.3h0m-1.3 .5h0m-1 2.8h0m.6-2.6h0m.2 2h0m.5-1.4h0m0 .3h0m.8 .2h0m.2 .8h0m0 .3h0m.4-1.4h0m0 .7h0m0 .7h0m.5-2.1h0m.2 1.6h0m.3 .2h0m.1-.5h0m.1 .5h0m.8 .5h0m.2-1.2h0m.1-1.1h0m.2 2.4h0m.2-.2h0m.2-1.8h0m.5 2.4h0m.2-1.1h0m0-1.3h0m.3 .3h0m.1 .9h0m.4 1h0m.1-2.2h0m0 2.1h0m.2-2.4h0m-.4 3.7h0m-.2-.2h0m0 .3h0m-.7-.9h0m-.5 .4h0m-1-.5h0m0 .1h0m-1 .2h0m-.8 .6h0m-.8 .1h0m7.8 51.7h0m1.5 2.1h0m-1.9 1.4h0m.9 1h0m.6 .6h0m.2 .3h0m.3 1.2h0m.5-1.1h0m.9 .4h0m0-.2h0m.1 1.3h0m.1-.8h0" stroke="#8CC0F2" stroke-width="1.4" stroke-linecap="round"/>
<path d="M283.1 1051.5h0m.7 1.1h0m.1 2.8h0m-.1-1.7h0m-.2 1.6h0m1.9 .9h0m.5 1.4h0m.2 .5h0m1.6 .7h0m1.5-1.3h0m.3 1.4h0m.3-.6h0m-.7 1h0m-1.1 .1h0m-2.5 1.4h0m2.3 2.9h0m.1-.9h0m.8 1.3h0m.8-2h0m.4 1.5h0m3.4 4.1h0m-.6-2.1h0m-.6-.1h0m-4 .5h0m5.2 4.1h0m.3-.3h0m.1 1h0m.5-1.2h0m1.1 .2h0m3.4 1.9h0m-.3 0h0m-.2-.3h0m-.3-.2h0m-.1 2.1h0m-1.8-1.9h0m-2.2 4.4h0m2.1-1.2h0m1.8 2.2h0m.5 0h0m1.3-.8h0m3.5 2.7h0m-1.7-.1h0m-1.9-.3h0m-.1-1.3h0m-2 2.2h0m6 4.5h0m-2.2-.2h0" stroke="#5AA5EE" stroke-width="1.4" stroke-linecap="round"/>
<path d="M281.7 1051.5h0m2.8 2.4h0m-.4 1h0m-.8 1h0m-.6-1.6h0m-.4 1.6h0m-.9-2.7h0m-.1 2.8h0m1.5 .1h0m1.7 .4h0m2 .4h0m.7 .7h0m2.2 1.3h0m.8 1.6h0m-2.2 1.4h0m-2.8-1.8h0m2 2.8h0m1.8-.6h0m.9-.3h0m1 2.1h0m1.9 .1h0m1.2-.5h0m-3.5 2.9h0m1.5 2.1h0m.6-.7h0m.9 .7h0m1.3 .1h0m.7-.5h0m4.7 3.9h0m-4 .6h0m-1.4-.7h0m1.5 4.3h0m.6-1h0m2.3 1.2h0m.1-2.4h0m2 5.2h0m-1.4-1.1h0m-1.6-.2h0m-.5 .2h0m2.3 3h0m1.8 .6h0" stroke="#6AAEF0" stroke-width="1.4" stroke-linecap="round"/>
<path d="M305.4 1082.6h0m1.1 2.8h0m-2.9-.6h0m4.9 1.2h0m.7 2.5h0m1.6 .1h0m1.2-1.1h0m3 3.1h0" stroke="#7AB6F0" stroke-width="1.4" stroke-linecap="round"/>
<path d="M315.7 1087.4h0m1.1-.4h0m.4 1.1h0m1-.9h0m.9-.1h0m.8 .5h0m2.2 4.3h0m-1.2-1.3h0m-.3 .4h0m-.4 .2h0m-1.2-1.3h0m-.5 .8h0m-2.3 .8h0m-.2-2h0m-.7 1.8h0m-2.1 1.6h0m.8-.4h0m.3-.4h0m.4 1.9h0m1.5-.2h0m.2-.3h0m1.5-1h0m.7 2.4h0m1-1.2h0m1-1.3h0m.3 .4h0m.2 1.4h0m1-.2h0m.4 1.9h0m-2.5-.8h0m0 .8h0m-.2 1h0m-1.4-.5h0m-.2 1.3h0m-.8-1.8h0m0 1.5h0m-.6-1.5h0m-.2 1.6h0m-.1-1.3h0m-.1-.1h0m-.3 1.1h0m-1.5-.3h0m-.7-1.3h0m3.2 4.2h0m1.7 .4h0m.2-1.7h0m.6 1.1h0" stroke="#AAD1F6" stroke-width="1.4" stroke-linecap="round"/>
<path d="M316.8 1087.2h0m.4 .5h0m1.3 0h0m.5-1.5h0m.3 1.5h0m2.9 3h0m-.4-1.4h0m-.2 1.9h0m-1-.4h0m-.8 .4h0m-.6 .6h0m-.3-2.8h0m0 2.3h0m-.1-1.7h0m-1.5-.2h0m-.6 1.1h0m-1.7-.5h0m-.7 3.6h0m1.2 .4h0m.1-.4h0m.3-1.4h0m.1-.1h0m.9 1h0m2 .2h0m.3 1.1h0m.4-2.3h0m.1 .7h0m.2 0h0m.1 .6h0m1.2-.1h0m.1 .2h0m.4 1.4h0m.7-.4h0m0-2h0m.3 1.2h0m-.9 2.7h0m-1.1 1.1h0m-.2-.5h0m-.1 .7h0m-.1-2.1h0m-.4 .8h0m-.5-.3h0m0-.9h0m-1.1 .5h0m-1 1.4h0m-.8-2.1h0m-1 2h0m-.2 1.3h0m.4 .4h0m1.4 .4h0m2.1 1.2h0m.2-1.7h0m.4 .3h0m.2-.7h0m0 .6h0" stroke="#B8D9F7" stroke-width="1.4" stroke-linecap="round"/>
<path d="M305.6 1091.7h0m-1-.6h0m-.1-.4h0m-1 .9h0m-.4 1.8h0m.4-.5h0m.8 .7h0m0 1h0m.3-.9h0m.1-.1h0m.1 .6h0m.2 .1h0m.1-.3h0m.4-.6h0m.9 1.3h0m.8 .2h0m-.5 1.9h0m0 .7h0m-.2-.7h0m-.2 .2h0m0 0h0m-.3-1.1h0m-.1 1.8h0m-.1-1h0m-1 .8h0m-.1 .2h0m-.2-1.4h0m-.4 0h0m-.2 .5h0m-.1-1.8h0m-.6 1.9h0m-.2-.4h0m1.7 2.6h0m1.2-1h0" stroke="#9CCAF3" stroke-width="1.4" stroke-linecap="round"/>
<path d="M199.1 1052.9h0m2.3-.6h0m1.5 .5h0m.1-.6h0m.3 1.4h0m-.6 .8h0m-1 .6h0m-.3 .5h0m-.3 .2h0m-.1 .2h0m-.8-.1h0m-.3-1.2h0m-.3 .9h0m-1.8-.2h0m-.2 .6h0m-.1-2h0m0 1.8h0m-2 3.2h0m.4 0h0m1-1.7h0m.1-1.2h0m0 1.7h0m0-.1h0m.3-.9h0m.2 1.6h0m.1-1.5h0m.4 1.5h0m1.3-1.6h0m.3-.5h0m.6 1.8h0m.6-1.4h0m.1 .6h0m.3 1.4h0m.1-2.3h0m1.7 .7h0m.2 1.5h0m0 .2h0m.3-2.7h0m.2 .2h0m.2 2.5h0m.1-1.5h0m.3-.7h0m.3 .9h0m0 .6h0m.1-.4h0m1.3-.5h0m.1-.3h0m.2-.7h0m.2 4.8h0m-.1-1.4h0m-.4 .8h0m-.3 1.2h0m-.2-.1h0m-.2-2.2h0m-.7 1.8h0m-.3-.9h0m-1.6-.4h0m-1.3 .7h0m-.1 .7h0m-.5 0h0m-.2-1.7h0m-.1 .8h0m-.8 1.7h0m-.9-1.4h0m-.1-1.4h0m-.6 2.6h0m-1.3-2.5h0m-.5 2.2h0m-.2 0h0m1.2 1.4h0m.8-.2h0m.1 .6h0m.1-1.2h0m.1 .5h0m1.7 .9h0m.2 1.4h0m.8-1.3h0m.5 .7h0m0-2.1h0m1.9 2.7h0m.5-.4h0m.5 .4h0m.1-2.6h0m.3 2.5h0m.2-2.4h0m.1 1.2h0m.1-1.3h0m-3.9 3.5h0m-1.6 .3h0m0-1h0" stroke="#78B2EE" stroke-width="1.4" stroke-linecap="round"/>
<path d="M205.3 1054.5h0m-.5-.4h0m0-.6h0m-.4 1.3h0m-1.6-.5h0m0 .2h0m-.9 .3h0m-.5-.8h0m-.3 1.3h0m-.2-1.8h0m-.5-.3h0m-.3 2.3h0m-.4-1.6h0m-.4-.1h0m-.9 .1h0m-1.8 2.2h0m.3 2h0m.4-.3h0m.2-1.1h0m.6 .8h0m1 1.3h0m0-.3h0m.5-2.5h0m.7 .2h0m.3 .3h0m.4 1.6h0m.2-1.2h0m.3 .6h0m0-.6h0m.9 1.7h0m1.7-.2h0m1.1-2.3h0m.7 2.6h0m.5 .9h0m-.3 1.1h0m-.1-.8h0m-.6 1.5h0m-1.4-.1h0m-.9-.4h0m0-1.5h0m-.4-.3h0m-.4 1h0m-.1-.5h0m-1.3-.4h0m-.4 1.1h0m-.1-.4h0m0 1.8h0m-.3-2.2h0m-.6 1.7h0m-.3-1.6h0m-1 .4h0m-1-.1h0m-1.7 1.5h0m3.4 3.4h0m.4-.8h0m.2 .3h0m0-2.1h0m1.5 0h0m.1 2.1h0m.4 .2h0m.8 .4h0m.3 0h0m2.4-.6h0m.1-.7h0m.3-1.3h0m-2 3.5h0m-.7 .5h0m-.8-1.2h0" stroke="#8BBDF0" stroke-width="1.4" stroke-linecap="round"/>
<path d="M204 1040.7h0m.9 1.2h0m-.5 1.5h0m-3.4 3.4h0m0-1.6h0m.4-.1h0m1.9 5.3h0" stroke="#6AA8EA" stroke-width="1.4" stroke-linecap="round"/>
<path d="M210 1064.8h0m5-.2h0m.8-.3h0m3.8 .6h0m32.8 2h0m-1 1h0m-.5 0h0m-.5-1h0m-3.6-.2h0m-.3 1h0m-.5-1.3h0m-3-.6h0m-1 .5h0m-.1 .4h0m-2.6 .1h0m-2.2-.7h0m-1.1 .4h0m-2.2 .8h0m-1.4-1.1h0m-1.5 .1h0m-1 .9h0m-6.4-1.1h0m-.8-.5h0m-.3 1.1h0m-2.6-.4h0m-6.5 1.1h0m-.9-2.1h0m-2.4 .3h0m-.6 1.8h0m-1.8-.3h0m8.1 1.3h0m5.4 1.9h0m12-.4h0m.9-.3h0m4.6-.4h0m1.2-1.1h0m5.1 1.5h0m2.1-.2h0m3.4 .5h0m.7 0h0m.4-1.7h0" stroke="#3F85D0" stroke-width="1.4" stroke-linecap="round"/>
<path d="M208.1 1064.8h0m3.1-.8h0m2.3 .6h0m32.3 3.2h0m-7.8-2.5h0m-3.9 1.9h0m-6.3-.8h0m-6.7 1.4h0m-5.8-2.7h0m2.6 3.1h0m5.7-.1h0m8.3 .2h0m3.7 1.3h0m4.7-1.1h0m4.5 .1h0m4.2 1.7h0m-1.2 .7h0m-10.5 1.4h0" stroke="#4A90DA" stroke-width="1.4" stroke-linecap="round"/>
<path d="M211.8 1063.5h0m3.5 .7h0m4.6 .7h0m14.9-.4h0m14.3 2.5h0m-1.5-.7h0m-3.4 1.5h0m-9.8-2h0m-1 1.7h0m-.9 .2h0m-1.8-.6h0m-1.4 .5h0m-.6-.8h0m-3.3-1.4h0m-1.3 .5h0m-3.4-.8h0m-.8 .9h0m-.7-.1h0m-4.5-.1h0m8.7 2.2h0m.2 1.6h0m3.3-1.1h0m5.7 2.2h0m14.1-2.6h0m-3.7 3h0m-1.4 1.4h0" stroke="#3278C0" stroke-width="1.4" stroke-linecap="round"/>
<path d="M254.4 1066.9h0m-.9 .3h0m-.5 2.6h0m.7 .3h0m.9-.2h0m.8 .6h0m.1 .6h0m-1 1.8h0m-.4-.3h0m-.2-.3h0m-.3 1.2h0m.1 2.6h0m.6-.4h0m.2 .7h0m.1 .5h0m.6-.6h0m.6-1.7h0m.5 3.4h0m-1.1 .7h0m-1.1-1.5h0m-.1 1.1h0m-.7 2.2h0m2 2.1h0m.1-.4h0m-.1 3.3h0m-.7-.7h0m-.9 .4h0m-1.4-1.9h0m2.5 3.1h0m.7 1.7h0m0-.5h0m1.3-1.3h0" stroke="#123A6A" stroke-width="1.4" stroke-linecap="round"/>
<path d="M254.3 1067.5h0m-.4-1h0m-1.5 3.2h0m3 4h0m-.1-.3h0m-1.2-.9h0m-.4-.8h0m-.3 2h0m-.5-1.7h0m-.3 .8h0m-.2 2.4h0m1.8 .6h0m.8 .1h0m.3-.5h0m2.5 3.9h0m-3.3 .5h0m-.7 2.8h0m.4 .2h0m.9-2.4h0m1.2 1.8h0m.6-.7h0m.5 1h0m1.1 3h0m-.3-1.2h0m-.5 .6h0m0-.2h0m-.6-.7h0m-1.9 1h0m-.1-1.9h0m-.3 2h0m-.5-.9h0m-.1 1.6h0m0-1.6h0m-.7 1.7h0m.1 1h0m.7 .6h0m.2 .4h0m.1-.4h0m.1 0h0m.1-.4h0m.4 1.4h0m.2 .1h0m.2-1.1h0m.1 .3h0m.7 .2h0m0 .5h0m.2-1.8h0m.2-.6h0m.3 .9h0m0 .4h0m.4-1h0m.1-.4h0m-2.3 3.2h0m-.3 .5h0" stroke="#0E2F58" stroke-width="1.4" stroke-linecap="round"/>
<path d="M252.4 1068.7h0m.6-.3h0m.4 .3h0m.8 1.7h0m2.4 .8h0m-2.5 1.3h0m-1.4 .3h0m-.4-.1h0m0 1.4h0m1.8 1.9h0m.8-.2h0m.6 .6h0m.4 3.3h0m-1-1.6h0m-1.4 4.4h0m.5-.4h0m.9 .7h0m-.1 .6h0m1.8 3.4h0m.5 .9h0" stroke="#1A4478" stroke-width="1.4" stroke-linecap="round"/>
<path d="M264.2 1046.6h0m.3 1.4h0m-6.7-.2h0m4.2 5h0m5.7 2.9h0m-3-2h0m-.2 1.8h0m-1.8-.9h0m-4.7-.7h0m-2.7 .2h0m-5.1-.8h0m-.2 1.4h0m5.3 4h0m.7 .2h0m4.4-.9h0m4.4 .2h0m.3 .4h0m.1-1.1h0m2.4 0h0m-2 1.6h0m-.7 2.5h0m-.2-.2h0m-1-2.4h0m0 2h0m-4.6 .9h0m-.7-.4h0m-.8-2.2h0m-2.1 2.2h0m-2.7-.7h0m-3-1.1h0m3.3 4.2h0m3.7 .6h0m4.9-1.4h0m.2-1h0m-8.9 3.8h0m-.5-.3h0" stroke="#24599A" stroke-width="1.4" stroke-linecap="round"/>
<path d="M265 1048.4h0m-.6-.8h0m-14.6 4h0m11-.6h0m1.4 1.5h0m0-.9h0m4.2 .1h0m0-.5h0m1.5 3.1h0m-.3 .6h0m-1.4 0h0m-2-1.7h0m-7.3 1.6h0m-7.7-1.8h0m.4 3.3h0m2.9 1.4h0m2.7-1.2h0m.1 1.8h0m1.2 .6h0m3.9-.2h0m1.4 .1h0m4.6-2.8h0m1.1 .8h0m-3.6 2.5h0m-1.6-.2h0m-.2 .4h0m-2.9 .5h0m-3.4 .9h0m-6.5 1.7h0m3-.4h0m2.8 2.5h0m2.7-1.7h0m1.7 .1h0m.2-1h0m1 .6h0m-9.6 2.9h0" stroke="#2F6BB0" stroke-width="1.4" stroke-linecap="round"/>
<path d="M277.8 1049.8h0m-12.1 .1h0m-1.4-2.8h0m-.2 1.2h0m-5.3 1h0m-1 3.2h0m7.1-.5h0m.2-1.9h0m2.4 2.2h0m12.5 .3h0m-1.5 1.1h0m-2.6-.7h0m-.8 1.5h0m-8.4 .6h0m-6-.3h0m-1.1 .9h0m-1.5-1.6h0m-1.2 .3h0m-4.3 4.4h0m2.9-2.3h0m2.3-.3h0m1.7 1.9h0m4.9-.5h0m.3 .4h0m.6-.2h0m4.3-1.7h0m-6.6 3.1h0m-1.5 2.6h0m-.8-1.7h0m-.5-.2h0m-9.1 4.5h0m.7-1.4h0m.4 .2h0m2.2-1.2h0m4.3 .7h0m-3 3.7h0m-1-.9h0m-.1-.1h0" stroke="#3A7CC2" stroke-width="1.4" stroke-linecap="round"/>
<path d="M275.2 1032.7h0m-1 4.4h0m-.5-.3h0m-.5-1.1h0m-1 4.4h0m3.5-.9h0m.4 .8h0m1.1 .6h0m1.1 .6h0m-1.2 .2h0m-.2 0h0m-1.6 2h0m3.1 2.1h0m.7 0h0m.7 .4h0m.9 1.6h0m-.2 2.8h0" stroke="#3A92E8" stroke-width="1.4" stroke-linecap="round"/>
<path d="M293.1 1008.7h0m.5-.5h0m.6 4.1h0m-3.4 3.1h0m2.5-.1h0m.8 .8h0m-2.3 1.1h0m-.2 2.7h0m-1.1 .5h0m.1 .2h0m.3 .7h0m-2.4 3.8h0m-.2 4.6h0m-12.4 5.3h0m-.1 1.3h0m-.1 0h0m-.3-.9h0m-1.3 2.5h0m-1.5 1.6h0m1.4-.3h0m2.1 .8h0m1.1 .5h0m2-1.4h0m5-.5h0m1.5 2.9h0m-1.9 .3h0m-1.5 1.7h0m-4.9-2.5h0m-.4 1h0m-1.1 .1h0m-.5 2h0m1.4 2.1h0m.5-1h0m.1 .7h0m.7-1.8h0m4.3 2.4h0m.4 2.9h0m-3.8-.1h0m-1.7-1.7h0m1 2.6h0m3.9 1h0m1.5 1.6h0" stroke="#4C9CEA" stroke-width="1.4" stroke-linecap="round"/>
<path d="M295.7 1007.8h0m-1.7 .4h0m.1-.1h0m-1.5 4.8h0m-.3 2h0m.9 .2h0m.7-1.1h0m-.5 3h0m-2.9 1.5h0m-.8 3.4h0m.6-.9h0m.6 1.9h0m-.4 1.4h0m0-.8h0m-1 1.1h0m-.3 .8h0m-.9-.3h0m-1.9 3.7h0m2.9-1h0m.5 1.6h0m-1.6 1.7h0m-1.6 .7h0m.6 3.7h0m-3.8 3.8h0m2.3 .5h0m.4-1.1h0m-.3 2.4h0m-2.1 1h0m-1.1 4.5h0m.7-.9h0m.1 1.2h0m.2-1.6h0m1.5-.4h0m-2 4.4h0m-.1 0h0m-.5 1.3h0" stroke="#66ABEE" stroke-width="1.4" stroke-linecap="round"/>
<path d="M297.2 1001.6h0m-1.2 .3h0m-.9-.2h0m-1.1 .3h0m.1 1.9h0m.1-1.4h0m.9 .6h0m.1 .5h0m.2-1.4h0m.8 2h0m1.4 .6h0m.1-1.7h0m.2-.1h0m.5 1.6h0m.7 .3h0m0-1.9h0m.7 .7h0m2 2.4h0m-.6 .9h0m-.1 .5h0m-2.3-1.9h0m0 1.6h0m-.1-2h0m0 .4h0m-.5 1h0m-.4-1.4h0m-2.9 .3h0m-.1 1.7h0m0-.2h0m-.2-.7h0m-.1 0h0m0-.7h0m-1.9-.6h0m-.5 1.7h0m-.8-1.6h0m1.3 4.5h0m1.9 0h0m.2 1.3h0m1-.5h0m.6-2.4h0m2.1 1.5h0m.2 1.2h0m.4-.5h0m.5-1.8h0m.8 1.1h0m.3 .7h0m.8-1.7h0m0 1h0m-1.5 2.2h0m-.1 1.6h0m-.6-.3h0m-.3-1.4h0m-.2 1.7h0m-.2-2h0m-.3 .4h0m-.2 .3h0m-.3-.1h0m-.2-.6h0m-.6 2.3h0m-1-1.7h0m-.1-.1h0m-.7 0h0m-.5 1h0m-.5-1.5h0m-.7 .2h0m.8 2.5h0m5.4 0h0" stroke="#A8D0F5" stroke-width="1.4" stroke-linecap="round"/>
<path d="M293.8 1004.6h0m.3 0h0m.4-2.3h0m.9-.3h0m1.1 1.6h0m.4-.1h0m0-1.5h0m.1 .8h0m0-.4h0m.3-.3h0m.3 2.5h0m1.6-1.8h0m2.5 4.9h0m-1.2-1.6h0m-.4 .3h0m-.3-.9h0m-2.2 2.3h0m-1.7-1.6h0m-.2-.4h0m-.8 .8h0m-.3-1.5h0m-.2 2h0m-.5-.2h0m-.1-.3h0m-.2-.4h0m0-1.1h0m-.3 .8h0m-2.3 3.1h0m1.2 1.5h0m.1-1.8h0m1.4 2h0m.2 .1h0m1.2-1.1h0m.1-1.5h0m.4 .7h0m3.1-.7h0m.1 2.1h0m.1-1.1h0m0 .7h0m.2-1.6h0m.2 2.3h0m1.4-.5h0m.2-1.1h0m.5 .5h0m-1.2 2.6h0m-1.3 .2h0m-.5-.4h0m-.3 1.9h0m-.9-2h0m-.3-.1h0m-1.3 2h0m-.1-1.1h0m-.6-1.6h0m-.4 .5h0m-.1 1.8h0m-2.6-2.2h0" stroke="#B6D8F7" stroke-width="1.4" stroke-linecap="round"/>
<path d="M298.2 1025.3h0m-1 .3h0m-2.6 .2h0m0-.3h0m-.3 .4h0m-.4-.7h0m-1.5 1.8h0m1.6 .3h0m0 1.1h0m.2-.2h0m.6-1.9h0m.3 1.6h0m0 .2h0m.8-.1h0m.2-1.4h0m.9-.4h0m.2 1.5h0m.1 .8h0m0 .2h0m.1-2.5h0m0 .2h0m.4 2.2h0m.1-1.4h0m.2 1.7h0m1.2-.9h0m.2-.8h0m.4 .3h0m.3 .9h0m-1.6 .8h0m-.7 .1h0m-.2 .5h0m-.4 .4h0m-.3-.2h0m-.8-.8h0m-.1 .2h0m-1.1 0h0m-.8 .7h0m-.1-.6h0m-.6-.2h0m8.4 53.6h0m.3-.9h0m1 .1h0m1.2 3.3h0m-.8-.3h0m-1.3-.7h0m-.1 .1h0m-.8-.6h0m1.2 3h0m.6-.3h0m.5-.2h0m.1 .4h0m.2 1.9h0m.1-1.1h0m0 .9h0m.5-.4h0m.7-.4h0m-.7 2.5h0m-.2 1h0m-1.1-2h0m.5 2.8h0" stroke="#8CC0F2" stroke-width="1.4" stroke-linecap="round"/>
<path d="M281.6 1052.4h0m2.1 3h0m-.1 .4h0m1.5 3.1h0m.5-1.9h0m.1-.4h0m3.4 .3h0m1 .8h0m0 3.3h0m-1-1h0m-.5 1.6h0m-1-1.2h0m-1.4 .2h0m1.3 3.4h0m4.9 .3h0m0-1.1h0m1 .5h0m-.2 2.2h0m-1.5 1.5h0m.3 .9h0m1.7 0h0m.8 1.1h0m1.1-.5h0m1.5 3.5h0m-1-1.2h0m-.4 2.1h0m-2.3-1.1h0m4 3.7h0m.1 .6h0m.4 .2h0m.4-1.8h0m.4-.5h0m1.7 4.6h0m-3 .8h0m-1.6-.7h0m4.9 3.6h0m1.1-2.7h0m1.3 1.3h0m.6-.6h0" stroke="#5AA5EE" stroke-width="1.4" stroke-linecap="round"/>
<path d="M285.7 1051.7h0m-1.7 3h0m-.7-.9h0m-1.8-.6h0m2.2 4.3h0m1.4-1.1h0m0 .7h0m.2 .7h0m3.3 .2h0m.6-.7h0m-.1 2.4h0m-4.7 1.1h0m-.5-.7h0m-2.5 .9h0m5.7 1.1h0m.7 2.8h0m4.9-.4h0m2.9 3.2h0m-2.4-.3h0m-.4-1.4h0m-.6-.8h0m-.7 .7h0m-.4 .1h0m.8 3.3h0m5.6 1.5h0m2.4 2.7h0m-1.3 .1h0m-6.1-.9h0m2.2 3.2h0m2-1.6h0m1 1.5h0m1.7 .3h0m0-2.1h0m.4 1.8h0m3.3 3.2h0m-3.1-1.1h0m-.3 1.1h0m-.1-.8h0m-3.1-.6h0m5.7 2.7h0" stroke="#6AAEF0" stroke-width="1.4" stroke-linecap="round"/>
<path d="M302.9 1081.9h0m3.7 3.1h0m-.2-.3h0m-.3-.7h0m-.7-1h0m0 1.7h0m-3.4-1.4h0m7.8 5.5h0m.4-.5h0m.9 .9h0m-.7 1.4h0m0-1.6h0m-.2 .5h0" stroke="#7AB6F0" stroke-width="1.4" stroke-linecap="round"/>
<path d="M315.4 1088.9h0m1.9-2.1h0m3.4 .9h0m1.6 3.1h0m-.6-.9h0m-.2 1h0m-1.9 .7h0m-1.1 .2h0m-.4-1.1h0m0-1.4h0m-.3 2.6h0m-.1-.3h0m-.2-2.3h0m0 1h0m-.1 .1h0m-.3 1h0m-.1-.7h0m-.5 0h0m-.2 .9h0m-1.1-.9h0m-.2-1.3h0m-.2 .2h0m-.9 .7h0m-.3 1.1h0m-.4 1.4h0m1.6-.1h0m.1 1.9h0m1.3-.9h0m.1 1.1h0m.5-1.6h0m.3-1.2h0m.1 .7h0m2.2 1.1h0m0 .4h0m.1 .2h0m.2-1.2h0m.9-.7h0m.5 0h0m.3 1.7h0m1.5-.7h0m-1.8 1.7h0m-.1 1.8h0m-.2-.3h0m-.4-1h0m-.4-.7h0m-1 1.8h0m-.9 .1h0m-.5 0h0m-.2 .6h0m-.7-2.4h0m-.4 .9h0m-1.3 .4h0m1 2h0m.4 .1h0m.1 .1h0m1.4-.5h0m2.3 .7h0" stroke="#AAD1F6" stroke-width="1.4" stroke-linecap="round"/>
<path d="M318.5 1085.9h0m-3.2 2.1h0m.2-.4h0m.4 1.1h0m.3-1.4h0m2.3-.4h0m.4 .6h0m2.9 2.1h0m-.2 .8h0m-.6 .9h0m-.2-2.1h0m-.5 .8h0m-.4-.5h0m-.6 .5h0m-.3 1.2h0m0-1.5h0m-.3 1.8h0m-.2 0h0m-.1-1.6h0m-.6-.5h0m-.5 1.5h0m-.1-1.1h0m-.9 .5h0m-.1 1.5h0m-.1-2.5h0m-.6 1.9h0m-.7-1.4h0m-.2 1.3h0m-.1-.4h0m-1.1 2.9h0m.6 1h0m.1-.6h0m1-1.6h0m.3 2h0m2.1-1.4h0m.1-.2h0m2.3-.8h0m.3 2.2h0m.3-.9h0m.9 .9h0m.3 .3h0m.3-.4h0m.2-.8h0m-.8 2.3h0m-2 1.5h0m-.7-.7h0m-.3-1h0m-.3 1.6h0m-.3 .4h0m-.8-1.1h0m-.2-1.1h0m0 2.2h0m-.2-.3h0m-.5-.5h0m-.2 1.3h0m-.3-.6h0m-1.3-.9h0m2.2 3.7h0m1.2-.4h0m2.3-.5h0m.6-.7h0" stroke="#B8D9F7" stroke-width="1.4" stroke-linecap="round"/>
<path d="M304.4 1090.8h0m-.4 .6h0m-1.3 2h0m.4-.4h0m.3 1h0m.1-1h0m.2-.7h0m.6-.2h0m.3 2h0m.1-2.1h0m.8 2.7h0m.2-1.8h0m.7 0h0m.3 3.9h0m0 0h0m-.4-1.4h0m-1.5 1.3h0m-.8 .4h0m-.1-.7h0m-.1-1.3h0m-.1 2.1h0m-.1-.6h0m-1-.3h0m-.1 .2h0m1.5 2.6h0m.5 0h0m.2-.7h0m.9-.1h0m.3 .8h0" stroke="#9CCAF3" stroke-width="1.4" stroke-linecap="round"/>
<path d="M199.7 1052.8h0m3.7-.7h0m1.7 1.1h0m-.4 .9h0m0 .9h0m-.5-.2h0m-.2-1.8h0m-.2 1.7h0m-.6 .9h0m0 .2h0m-1.3-1.5h0m-.8-.7h0m-.9 1.6h0m-.8-1.8h0m0 2.2h0m-.1 .1h0m-1.1-1h0m-.3 .9h0m-1.4 2.3h0m.1 .2h0m.2-1.2h0m.6-.7h0m.4 2h0m.5-1.8h0m0 2h0m.4-.1h0m.2-2h0m1-.2h0m1.4 2.7h0m.1-1.6h0m.8 .3h0m2.3-.1h0m.5 1h0m.3-1.2h0m1-.3h0m1.2 1.5h0m-.4 2.3h0m0 .3h0m-.3-.6h0m-.8 1.4h0m-.7-1.8h0m-.7 .8h0m-.3 1h0m-.7-2.5h0m-.1 1.3h0m-.4 1.2h0m-.3-1.5h0m-.1 .4h0m-.3-.2h0m-.8 .9h0m-.1-1.7h0m-.1 .7h0m0 .8h0m-.1-.7h0m-.8-1.5h0m-.6 2.8h0m-.3-1.4h0m-.5 .1h0m-.2-1h0m0 .3h0m-.8 1.9h0m0-2.4h0m-.1 1.7h0m-.2-.9h0m0-.5h0m-.5 1h0m-.5 .5h0m-.1-2h0m-.5 1.7h0m0-.6h0m.4 1.9h0m.3 1.3h0m1.3 .4h0m.7 .3h0m.8 .4h0m.6-1.2h0m.3-.6h0m.1-.1h0m.3 2.1h0m.1-.7h0m0-.1h0m.3-1.8h0m.2 1.8h0m.2-.6h0m.1 1.3h0m1.6-.7h0m.1-.4h0m.4 1.3h0m.1-1.7h0m1-.5h0m0 1.8h0m.2-2h0m-3.4 4h0m-.3-1h0m-.9 .3h0" stroke="#78B2EE" stroke-width="1.4" stroke-linecap="round"/>
<path d="M200.7 1052.8h0m1.4 .1h0m1.7 2.6h0m0 0h0m0 .4h0m-.3-.8h0m-.7-1.6h0m-.9 1.9h0m-.2-1.4h0m-.1 .9h0m-1.9-.6h0m-.5 1.4h0m-.5-1.1h0m-1.9-.1h0m-.7 2.5h0m.8-.7h0m.2 2.4h0m.1-2.7h0m.6 2.1h0m0-.4h0m.3 0h0m0-1.3h0m.3 1.7h0m1.4 .7h0m.3-.9h0m.4 .7h0m1.4-1.2h0m.1 1.4h0m3.2-1.1h0m0 .7h0m.8-1.5h0m.6-.2h0m-2.3 5.1h0m-.2-1.8h0m-.5-.8h0m-.2 2.7h0m-.5-.8h0m-1.9-.6h0m-.3-.4h0m-.3-.1h0m-.2 .5h0m0 1.4h0m0-2.2h0m-.2 1.9h0m-1 .3h0m-.6-1.6h0m-.8 1.1h0m-1.4-.9h0m1.1 1.8h0m0 1.1h0m.5-.1h0m.9 1.1h0m.1-.4h0m.2 .6h0m1.2-2h0m.1-.6h0m.3 1.8h0m.1-.5h0m.2 1.6h0m.5-2.9h0m.1 .9h0m.2-.3h0m.7-.5h0m.9 .7h0m.4 1.8h0m.4 0h0m.2-1.9h0m1.1 2.1h0m.2-2.7h0m-.8 3.2h0m-.4 0h0m-.3-.1h0m-.9 .8h0m-1.9-.8h0m-1.3 .7h0" stroke="#8BBDF0" stroke-width="1.4" stroke-linecap="round"/>
<path d="M203 1041.9h0m-.7 .2h0m-.6-.9h0m-.2 3.8h0m6.8 4.3h0m-5.3-2h0m-5.1 4.1h0m3.2-1.3h0m2 .9h0" stroke="#6AA8EA" stroke-width="1.4" stroke-linecap="round"/>
<path d="M209.2 1062.7h0m1.4 1.5h0m.7-.3h0m2.7 .3h0m37.6 3.2h0m-.4 .3h0m-1.2-.1h0m-10 .3h0m-3.6 0h0m-.7-2h0m-2.4 1.6h0m-.9-1h0m-7.6-.8h0m-2.2 .1h0m-7.3 1.1h0m-2.7 .9h0m-1.2-1.1h0m-.6-.9h0m-.6 3.4h0m3.5-1.1h0m8.5 .1h0m1.1 .4h0m4.5 .3h0m11.5 .4h0m.1 .2h0m1.2 .1h0m5.2-.3h0m3 2.5h0m-23.2-.7h0" stroke="#3F85D0" stroke-width="1.4" stroke-linecap="round"/>
<path d="M210.4 1064.4h0m2-1.1h0m.5 .9h0m39.7 3.1h0m-.8-1.5h0m-3.3-.6h0m-17.1 1.3h0m-2.1 .6h0m-.2-1.1h0m-.2 1.1h0m-4.7-1.4h0m-3.6 1.1h0m-5.9-1.6h0m-3.3 .2h0m-.2 .3h0m-.7 .8h0m12.5 3h0m4.9-.3h0m.4 .4h0m.4 .1h0m.7-.9h0m0-.6h0m3 1.1h0m11.1-1.3h0m.7 .9h0m4.5 1.7h0m3.3-1.2h0m-13.7 3h0" stroke="#4A90DA" stroke-width="1.4" stroke-linecap="round"/>
<path d="M210.9 1064.6h0m14.1-.5h0m27.2 3.2h0m-2.2-1.1h0m-.7 .6h0m-2 .1h0m-6.3 .8h0m-10.9-1h0m-.2-1.2h0m-4.2 1.6h0m-6.6 0h0m-.3 .6h0m-7.2-.6h0m20.1 1.9h0m4.3-.8h0m.4 .9h0m3.2-1h0m2.9 .2h0m4.7 .9h0m1-.3h0m2.5 .7h0m-8.4 3.8h0" stroke="#3278C0" stroke-width="1.4" stroke-linecap="round"/>
<path d="M255.8 1067h0m-.6 .6h0m-1.4-1.5h0m-1.1 .9h0m-2.9-1.3h0m3.5 4.6h0m.1-.2h0m.7-1.9h0m.5 1.1h0m0 1h0m.7 .8h0m-.1 2h0m0-1.4h0m0-.3h0m-.5 1.5h0m-.3-.3h0m-.3-1.4h0m-.1 1.7h0m-.3-1.5h0m-.3 1h0m-.4-1.2h0m-2.8 .2h0m4.3 4.5h0m.6 .2h0m.3-1h0m1.7-.8h0m-2 5.4h0m-1.7 0h0m-1 1.9h0m.7-1.1h0m1.8 1.6h0m.7-1h0m1.6 2.9h0m-1.7 1.2h0m-.1-1.1h0m-.1 1.7h0m-.3-.4h0m-.8 2.5h0m.6-.1h0m3.7 .5h0" stroke="#123A6A" stroke-width="1.4" stroke-linecap="round"/>
<path d="M253 1067.4h0m0 2h0m1.2-.2h0m1.5 4.5h0m-1.5-1.7h0m-1.3 4.9h0m.5-.8h0m.5 .6h0m1.3 2.8h0m-.9-1.3h0m.2 4.2h0m.7 0h0m.3-.7h0m.2 .1h0m.3 1h0m2.5 2.6h0m-1-.8h0m-.1-.8h0m-.2 .4h0m-.4-.6h0m-.4 .9h0m-.3-.5h0m-.4 1.1h0m-1.2-1.3h0m-.1 1.5h0m-.1-.5h0m-.1-1.8h0m-.5 1.6h0m-.2 1.3h0m-.2 .4h0m.6 .1h0m.4 1.6h0m.1-1.6h0m.1 1.7h0m.1-2h0m.4 0h0m.1 .3h0m.2 1.4h0m.5 .7h0m.3 .4h0m.1-2h0m.4-.6h0m.3 2.1h0m.1-.9h0m1-1.3h0m-1.6 2.9h0" stroke="#0E2F58" stroke-width="1.4" stroke-linecap="round"/>
<path d="M252.6 1065.9h0m-.2 4.5h0m1.4-1.4h0m.3 7.9h0m1.1-2.6h0m.7 .3h0m.8 3.7h0m-1-.6h0m-2.4 .5h0m4.1 3.1h0m-.6 3.7h0m-.5-1.9h0m-.3 .1h0m-.3-.2h0m-2.6 4.1h0m1.3 .3h0m1.3-.1h0m.2-.8h0m.4 1.7h0m.4-.7h0m.2-.1h0m.5-.6h0" stroke="#1A4478" stroke-width="1.4" stroke-linecap="round"/>
<path d="M258.5 1047.6h0m8.9 7.7h0m-.9-1h0m-1.8-.3h0m-2.4-.1h0m-3 0h0m-1.3 .6h0m-1.2 3.7h0m4.4 .1h0m7.1-2h0m-2.2 3h0m-.2 .8h0m-.9 1.8h0m-1.4-2.1h0m-1.9 .2h0m-2.6-.3h0m-1.7 2.1h0m-1.5-.4h0m-.3-1h0m-2.7 1.4h0m-.5-.4h0m-.9-2.4h0m-.3 1.2h0m0 4.3h0m.5-.6h0m3.6 .1h0m2.4-.2h0m-4.7 2.2h0" stroke="#24599A" stroke-width="1.4" stroke-linecap="round"/>
<path d="M264.6 1048h0m-2 1.6h0m-1.5-1.9h0m-3.2 2h0m-7.7 .3h0m.1 1.1h0m4.5 .3h0m6-.9h0m1.6 .7h0m1.7 .9h0m1.9-.2h0m2.2 1.7h0m-3.8 1.1h0m-.3 0h0m-1.5-1.2h0m-1.8 .5h0m-3.9 .5h0m-7.1 .1h0m2.9 2.2h0m.1 1.9h0m.4-.2h0m1.8-.2h0m7.6-2.1h0m4.6 .8h0m-1.1 2.5h0m-.1-.1h0m-3.3 0h0m-.5 2.3h0m-.3-1.5h0m-2.5-.2h0m-1.5 .9h0m-2.1 .2h0m-.7-.8h0m-.1 .6h0m-5-.8h0m-.1-1h0m-.3 4.2h0m2.8-.9h0m2.4 .9h0m1 1.5h0m1.1-.6h0m7.6-2.2h0m-12 3.3h0" stroke="#2F6BB0" stroke-width="1.4" stroke-linecap="round"/>
<path d="M250.2 1051.5h0m10.6 1.4h0m1.7-1.3h0m.2-.6h0m13.7 1.7h0m.9-1h0m3.3 1.8h0m-.3-.5h0m-.4 1.6h0m-3.4-.2h0m-.1-1h0m-3.1 2.3h0m-.6-.7h0m-2.9 .5h0m-1.3 .4h0m-3.3-.6h0m-3.5 .6h0m-.8-2.9h0m-2.7 .2h0m-.5 .3h0m-2.4 1h0m-4-.4h0m-1.1 1.6h0m1 1.5h0m1.2-.1h0m9.8 1.1h0m.1-.7h0m1.2 .2h0m.8-1.4h0m1.6 1h0m.3-1h0m0 1.4h0m1.3 2h0m-.8 1.1h0m-.2-1.6h0m-2.8 2.2h0m-.2 .5h0m-.9-.7h0m-1.5 .4h0m-.4 0h0m-1.7-1.7h0m-.2 1.1h0m-.2 .3h0m-2.2-2.1h0m-.5 1.4h0m-.9-1.4h0m-2.8 2.1h0m-2.1 1.1h0m3.2 .8h0m.2 1.6h0m.4-1.2h0m.5 .9h0m.3-2.1h0m.8 1.8h0m1-.2h0m1.4-1h0m.8 .8h0m.4-1.2h0m1.1 .8h0m.9 .1h0m1-.9h0m-10.5 2.8h0m-.5-.2h0" stroke="#3A7CC2" stroke-width="1.4" stroke-linecap="round"/>
<path d="M278.1 1035.9h0m-2.7-.6h0m-.3 .8h0m.8 3.1h0m.3 .3h0m.9-1.1h0m3 4.8h0m-2.2-2.2h0m-.2 1.2h0m-1.2 .2h0m-1-.9h0m2.2 2.6h0m1.6 2.8h0m.1-.3h0m.5 2.4h0m-1.5-1.6h0m-1.1 .1h0m-.6 .6h0" stroke="#3A92E8" stroke-width="1.4" stroke-linecap="round"/>
<path d="M297.9 1005.9h0m-3 4.3h0m.3 0h0m.6-.5h0m-2.3 6.3h0m-2.9 1.6h0m-.6-.3h0m1.1 8.6h0m-1.4-2.4h0m-.1 1h0m-1.2 .1h0m.7 3.4h0m.2-.4h0m.7-.1h0m.7 2.4h0m-.1-.2h0m-2.4 .8h0m-.3 .7h0m-.3 .1h0m-.4 2.7h0m.2-1.6h0m.1 1.5h0m.9 1h0m-.3 .9h0m-.4 .5h0m-.5-1.2h0m-13.4 .5h0m0 3.6h0m.4-.2h0m8.7 .4h0m.5 0h0m-6.6 2.4h0m.9 2.2h0m.2 1.6h0m4.8 1.3h0m.9-2h0m-.9 2.4h0m-.2 2.4h0m-2.8-1.3h0m-.4-.3h0m2.4 2.2h0m.1-.2h0m1.3 1.7h0m-1.8 1.5h0" stroke="#4C9CEA" stroke-width="1.4" stroke-linecap="round"/>
<path d="M295.4 1011.7h0m-2 1.7h0m-1.8 .5h0m-.5 1.3h0m2.5 .1h0m1.8 1.6h0m-2.4 .2h0m-.5 3.8h0m1.5-.5h0m-5.8 7.1h0m.8 2.7h0m-1.9 1h0m.8 4.8h0m-2 .3h0m-.4 .1h0m-.5 .5h0m.9 1.9h0m.2 .2h0m2.7 .6h0m-3.2 4.3h0m-.2-2.8h0m-2.5 2.9h0m-.2 4h0m-.5-.1h0m-.6 2.4h0m.6 .2h0m0 .8h0m.3 .8h0" stroke="#66ABEE" stroke-width="1.4" stroke-linecap="round"/>
<path d="M296.1 1001.7h0m-.9-.4h0m-2.3 2.8h0m.7-.8h0m.6 .7h0m.8 .3h0m.3-.1h0m2.7 .1h0m0-2.2h0m.6 .8h0m.9 1.8h0m0-.5h0m.4 0h0m.9 1.3h0m-.2 0h0m-.1 1.7h0m-.3-1.9h0m-1.2 1.8h0m-.1-1.9h0m0 1.3h0m-.2-1.4h0m-.3 1.5h0m-.1-1.5h0m-.1 .9h0m-.4 1.1h0m-.1-2h0m-.7-.1h0m0 1.3h0m-1.1 .8h0m-.1 .6h0m-.5-.2h0m-.3-1.6h0m0 .2h0m0-1h0m-.1 1.8h0m-.7-.5h0m-1.2 .5h0m-.7 .9h0m-.1-1.5h0m-1.6 2.8h0m.8 1.4h0m.7-.3h0m.5-.2h0m.7-1.8h0m.8 2.7h0m.8-2.8h0m.5 .4h0m.5-.4h0m.7 1h0m.3 1.4h0m0-1.1h0m.2-.8h0m.1 1.2h0m.1-1.3h0m0 1.8h0m.9-1.4h0m.2 1.3h0m.9-1.7h0m.3 1h0m.2-.6h0m.6 1.2h0m.7-2.1h0m-2.1 4.6h0m-.7-1.5h0m-.1 1.9h0m-.1 .6h0m-.6-2h0m-.9 1.5h0m-1.5-1.9h0m-.9 2.3h0m-.5-.3h0m-.2-1.9h0m-2.2 0h0" stroke="#A8D0F5" stroke-width="1.4" stroke-linecap="round"/>
<path d="M297.6 1001.2h0m-.2 .5h0m-5.6 2.7h0m0-.2h0m1.3-1.8h0m1.3 .2h0m.1-.4h0m.8 .2h0m.5 .8h0m1.9-.6h0m.6-.6h0m.8 .9h0m.7 1.4h0m0-.4h0m.7 .8h0m.1 0h0m1.2 2.5h0m-2.6-.8h0m-.5 .1h0m-.3-1.4h0m-.6 2h0m-.6-.3h0m-.4-1.4h0m-.6 1.7h0m-.1-.5h0m-1.3 .4h0m0 .2h0m-.2-1.2h0m-.7-.5h0m-.5-.5h0m-1 1.5h0m-1.2 2.8h0m2.4-.4h0m.1 .1h0m1.1 .5h0m2.1 .2h0m.3-.8h0m.8 .2h0m0 .4h0m.1 .5h0m.2 .5h0m.1-1.7h0m.3 .8h0m1 .8h0m.2 .2h0m1.8-.3h0m-.2 .8h0m-3.4 2.3h0m-.9 .3h0m-.9-.9h0m-.3 .5h0m-2.2-1.7h0m-.9-.6h0m1.4 3.3h0m3.5 .5h0m.3-.1h0" stroke="#B6D8F7" stroke-width="1.4" stroke-linecap="round"/>
<path d="M298.5 1025.8h0m-4.3-.2h0m-1 .2h0m-.5 0h0m.1 .3h0m.2 .1h0m.2 2.2h0m.8-.4h0m.1-1.3h0m.8 .9h0m.1-.3h0m1.4 .8h0m.8-1h0m0 1.5h0m.1-2.3h0m.1 .2h0m.3 1.9h0m.1-.3h0m.3-.6h0m.2-.6h0m.3 .2h0m0-.4h0m.6 .2h0m.1 .8h0m.1 .3h0m.7-.2h0m-2.4 1.8h0m-.4-.6h0m-.4 .6h0m-.9-.6h0m-.9 .8h0m-.2-.7h0m6.4 53.4h0m1.7-.3h0m1.8 3.6h0m-.6-1.8h0m-1.7 1.5h0m-.1 .2h0m.9 2.3h0m1.4-1.4h0m.2 1.7h0m-.5 2.6h0m-1-1.8h0" stroke="#8CC0F2" stroke-width="1.4" stroke-linecap="round"/>
<path d="M279.8 1050.1h0m6.1 4.5h0m-2.7-.7h0m-.3 1.2h0m-4.4 .7h0m5 .2h0m2.3 .1h0m2 1.1h0m2.4 4.5h0m-.8-.7h0m-1.1 .2h0m-1-.1h0m-.5-1.5h0m-2.1 1.1h0m3.5 3.9h0m.6-1.9h0m.1 2.1h0m.3-1.1h0m.3-1.1h0m.2 .2h0m1 1.1h0m.5 .1h0m5.2-1.1h0m-1.8 4.8h0m-.7-.9h0m-.5 .3h0m-1.9-.5h0m-1.6-1h0m-1.4-.5h0m-.2 2.4h0m3.3 1.9h0m2.9-1.1h0m.3 .1h0m3.8 5.5h0m-.4-2.2h0m-.1 1.5h0m-1.7 .6h0m1.6 .5h0m.9 2.6h0m.6-.8h0m2.9 1.6h0m-.9 2.1h0m-1-2.3h0m-.4 2.3h0m-4.6-2.6h0m6.9 5.7h0m-.6 .6h0" stroke="#5AA5EE" stroke-width="1.4" stroke-linecap="round"/>
<path d="M280.2 1052.7h0m4.8-.2h0m.2 .1h0m1.2 2.2h0m-.5 0h0m-2.3-.8h0m-2.2-.7h0m0-.1h0m2.9 3.4h0m.6 1.5h0m.8-.3h0m.4-.1h0m1.3 .5h0m6.6 2.3h0m-6.4-.6h0m-.4 1h0m0 .7h0m-.9 .2h0m-.4 0h0m-1.3-.1h0m3 2.7h0m1.2-.9h0m1.7-.2h0m.7 .7h0m.5 3h0m-3.6-.4h0m2.3 2.2h0m4.8-.7h0m1 1.4h0m4.7 1.9h0m-2.8 2.2h0m-1.2-2.2h0m-.1 2.3h0m-1.1 .1h0m-.1-2.8h0m-1.1 1.3h0m2.9 1.7h0m.3 .7h0m.6-.3h0m.5 1.3h0m.7 .1h0m2.6 .9h0m1.6 3.2h0m-2.1-1.5h0m-1.9-.3h0m-.9 3.2h0m3.2 1.1h0m.1-2.2h0m.2 1.8h0" stroke="#6AAEF0" stroke-width="1.4" stroke-linecap="round"/>
<path d="M305.3 1085h0m-.5-.2h0m-.6-.5h0m4.1 3.3h0m3.9 1.2h0m2.3 2.9h0m-2.1-1.9h0m-.1-.2h0m-.6-.1h0m-1.1 .1h0" stroke="#7AB6F0" stroke-width="1.4" stroke-linecap="round"/>
<path d="M316.8 1087.3h0m.2-.8h0m1 2h0m.1-1.4h0m.6 .1h0m.4 1.1h0m1-.1h0m.7 .7h0m1.6 2.8h0m-1.5-2.1h0m-1.1 1.1h0m-.6-.1h0m-.4 .4h0m-.2-1.5h0m-.3 0h0m-.3 2h0m-.1-1.4h0m-1.5 1.3h0m0 .3h0m-.7-.7h0m-.2-.5h0m-.6-1.1h0m-.7 2h0m.8 2.4h0m.6-.2h0m.2-1.1h0m.2 .2h0m.7 .6h0m.1 .9h0m0-1.1h0m.9 .1h0m.1-1h0m0 1.2h0m1.3-.1h0m.2-.8h0m.5 2h0m.3-.6h0m.2-1.9h0m1.4 1.8h0m.4 1h0m.6-1.9h0m-.8 3.9h0m-.8 .3h0m-1.1-1.8h0m-.2 0h0m-.1-.2h0m-1.1 2.5h0m-.5 .1h0m-.3-2.6h0m-.7 2.2h0m-.8-2h0m-.3 .7h0m-.2 .7h0m-.2 .7h0m-.1-.2h0m-.5 0h0m-.5-.8h0m0-.4h0m2 2.5h0m.1-.5h0m.1 .9h0m.6 1.5h0m.1-2h0m.5 .4h0m.7 1.2h0m.2-1.2h0m.4-.6h0m0 .1h0m.4 .4h0m1.8-.4h0" stroke="#AAD1F6" stroke-width="1.4" stroke-linecap="round"/>
<path d="M316.3 1088.1h0m.4-.3h0m2 .6h0m1.5 .4h0m1.8 2.9h0m-.8-2h0m-1.2 .6h0m-.4-.2h0m-.4-.6h0m-.6 1.2h0m-.6-.9h0m-.6 1.9h0m-.1-1.4h0m-.8-1.1h0m-.4 .1h0m-1.2 .9h0m-1.6 2.8h0m1.6 1.2h0m1.7 .2h0m.3-1.4h0m.2-.1h0m.2-.9h0m.5 2.1h0m.3-.9h0m2 1.3h0m0-.2h0m.7-1h0m1.4 .2h0m0-1.5h0m0 .5h0m.1 3h0m-.1 1.3h0m-.6-.1h0m-.3-.3h0m-.6-1.4h0m-1.9 2.7h0m-.2-.8h0m-.6-.7h0m-.1-.7h0m-.1 1.4h0m-.2-1.9h0m-.4 .3h0m0 2.1h0m-.4-1.8h0m-.1 0h0m-.1 0h0m-.7 .6h0m-.6 1.9h0m1 .3h0m1.6-.4h0m1.2 .3h0m.1 .3h0m.4-.4h0m.3 .7h0m.1 .3h0m.7-.5h0m.9-.7h0" stroke="#B8D9F7" stroke-width="1.4" stroke-linecap="round"/>
<path d="M306 1091.4h0m-.2 0h0m-1.9-.6h0m-.5 1h0m-.4 1.8h0m1.2-1.3h0m.3-.2h0m.6 .8h0m0 .2h0m1.2 1.4h0m.1-2.1h0m.2 .4h0m.7 3.5h0m-.3 .5h0m-.4 .5h0m-.4-.6h0m-1.3-.4h0m-.1-1.3h0m-.3 .4h0m-.1 .8h0m-.5-.7h0m-.2 .1h0m-.1 .8h0m-.1 1.2h0m-.2-.6h0m-.2 .6h0m-.3-1.2h0m-.1 .1h0m0-1.4h0m-.1 1.9h0m1.6 2.8h0m.6-.9h0m.4-.1h0m.3 .3h0" stroke="#9CCAF3" stroke-width="1.4" stroke-linecap="round"/>
<path d="M200.2 1052.5h0m1.9-1h0m1.7 1.1h0m1.3 2.5h0m-.8-.7h0m-.3 1.2h0m-.6-2.6h0m-.8 1.2h0m-.5 .1h0m-.2 .1h0m-.2 1h0m-.2-1.3h0m0 1.6h0m-.6-1.3h0m0 0h0m-1.6-1.2h0m-.1 .1h0m-.1-.3h0m0 1.9h0m-.3-.9h0m-.1 1.7h0m-.1-1.6h0m-1.1 .7h0m-.4 .5h0m.4 2.8h0m.4-.8h0m.5-.6h0m.2 .3h0m.5 .2h0m.1 1h0m.3-.3h0m1.5-.2h0m.2 .9h0m.1-1.1h0m0 1.1h0m.6-2.3h0m.6 .6h0m.7 0h0m.4 .6h0m.3-.9h0m.1 .6h0m.3 .8h0m.1-.7h0m0 .3h0m1.3-.4h0m.2 .3h0m.3 1.6h0m-.1 2.3h0m-.4-1.1h0m-1.2-1.1h0m0 .1h0m0 1.7h0m-.6-1.2h0m-.5 0h0m0 1.2h0m-1.9-.3h0m-1 1.1h0m-.4-1.3h0m-.2 1.2h0m-.2-.1h0m-.2 .3h0m-2.8-.5h0m-.9-.3h0m-.4-.7h0m.7 2.4h0m1.6 1.1h0m.5 .4h0m.5-1.7h0m0 1.9h0m.2-.4h0m.1-1.5h0m.4 2h0m.3-.7h0m.4 .2h0m0 .2h0m.2-2.3h0m0 2.8h0m1.1 .1h0m.2-2.6h0m.2 1.1h0m.4 .9h0m.5 .3h0m0-.3h0m.6-.1h0m1.1 .1h0m.5-.7h0m.5 .2h0m-1.6 1.2h0m-1.4 .1h0m0 .6h0m-2.4 .5h0m-.3-.7h0m-.8 0h0" stroke="#78B2EE" stroke-width="1.4" stroke-linecap="round"/>
<path d="M200.3 1051.6h0m.3 .8h0m1.9 0h0m3.4 3.2h0m-4.6-2.5h0m-.6 2.7h0m-.1-.6h0m-.4-.8h0m-.7 1.1h0m-.9-2h0m-.1 1.8h0m-1.3 .4h0m0 2h0m.6-1.1h0m.4 1.1h0m.1-1.7h0m.5 1.8h0m.5-.9h0m.2 1.2h0m.6-.7h0m0 .6h0m.5 .6h0m1.7-2.1h0m.2 0h0m.2 1.8h0m.7 .2h0m.2-.1h0m.9-1.4h0m.4 .8h0m.7-1.6h0m.7-.2h0m-1.1 5.7h0m-.3-.5h0m-1.6-1h0m-1 .1h0m-.1 1h0m-.1 .5h0m-1.9-1.4h0m-.2-.2h0m-.5 .7h0m-.2-.3h0m-.3 1.3h0m-.1-1.6h0m0 .9h0m-.1-.5h0m-1 .4h0m-.4-1.6h0m-.6 1.1h0m1 1.4h0m0 0h0m.4 .1h0m.8 1.3h0m.7-1.1h0m.3 1.8h0m.4 .3h0m.3-.3h0m4.3-1.2h0m1.1-.5h0m-2.3 4.3h0m-.1-.7h0m-1.3-.2h0" stroke="#8BBDF0" stroke-width="1.4" stroke-linecap="round"/>
<path d="M202 1042h0m-1.4 2.6h0m3.8 3.8h0m-7.6 3.5h0m4.1 .3h0m.1-1h0m.7-.5h0m1.2-.2h0" stroke="#6AA8EA" stroke-width="1.4" stroke-linecap="round"/>
<path d="M207.9 1064.5h0m4.1-.2h0m5.9 .6h0m2.6-.6h0m3.8 .2h0m21.1 2.2h0m-6 .4h0m-1.5-.5h0m-.6 .9h0m-.6-.3h0m-8.3-.5h0m-3.3 .7h0m-.1-.1h0m-1.9-1.7h0m-.4 1.4h0m-3-2h0m-1.6 .4h0m-.1 .7h0m-5.6-.8h0m-3.7 1.5h0m17 1.5h0m.7-.2h0m4.5 .3h0m1.7-.4h0m9.6 1.1h0m5.2-.5h0m2.4-.5h0m.5 1.8h0m.4-.5h0m.8-1.1h0m.3 .1h0m1.6 3.5h0" stroke="#3F85D0" stroke-width="1.4" stroke-linecap="round"/>
<path d="M208.5 1063.6h0m1.3-.4h0m5.3 1.3h0m1.8-.1h0m34.9 2.3h0m-1 .5h0m-2-.5h0m-4.4 1.2h0m-7.6-1.8h0m-.3 1.1h0m-1.8 .6h0m-1.3-2h0m-3.2 1.1h0m-1.2-.5h0m-4 .6h0m-1.2 .9h0m-4.1-1.7h0m-2.4-.2h0m-7.3 .3h0m.4 2.9h0m4.8-.8h0m16.5 1.3h0m1.8 .1h0m5.6-1.2h0m.9 2.2h0m.8-1.6h0m.8 1.7h0m.2-2.4h0" stroke="#4A90DA" stroke-width="1.4" stroke-linecap="round"/>
<path d="M208.2 1063.6h0m14.2 1.3h0m25.6 1.4h0m-5.5 .8h0m-.9-.3h0m-11.9-.4h0m-1.6-1.3h0m-1.2-.1h0m-9 .5h0m-9.1-.5h0m9.9 3.3h0m9.9 .8h0m1.4 .1h0m4.6 1h0m12.7-1.5h0" stroke="#3278C0" stroke-width="1.4" stroke-linecap="round"/>
<path d="M255.2 1067.9h0m-2.9 0h0m.9 2.7h0m.9-1.1h0m.6 1.2h0m.2 .4h0m-2.6 1.7h0m2 1.9h0m1 .4h0m.1 1.8h0m.7 2.4h0m-1.8 .3h0m-.2-.5h0m-.6 .5h0m-.7 .4h0m.3 0h0m.1 1.6h0m.8 .4h0m2.8 2.1h0m-.2 1h0m-.8 .4h0m-.3-2.1h0m-.3 1.1h0m-.9 1.7h0m1.4 1.3h0" stroke="#123A6A" stroke-width="1.4" stroke-linecap="round"/>
<path d="M255.8 1071.6h0m-1.3 1.4h0m-1 .4h0m-.1-2.3h0m-1.1 3.8h0m3.2 1.5h0m.5 3.3h0m-.9-1.2h0m-.1 1h0m-.9-.7h0m-.5 3.5h0m2.4-.6h0m.2-.4h0m.2 .7h0m.2 .3h0m.4 .2h0m.4-.5h0m.9 1.9h0m-1-.7h0m0 1.3h0m-.4-1.2h0m-.1 .8h0m0-.4h0m-.1-.1h0m-.1 .1h0m-.4 .4h0m-.4-.7h0m-.5 .1h0m-.1 .5h0m-.1 .7h0m-.3-.1h0m-.1 .7h0m-.3-1.3h0m-.9-.4h0m-.2 2h0m-.1-.1h0m.6 1.1h0m.6 1.1h0m.6-.8h0m.4 1.4h0m0-2h0m.8-.1h0m.2 1.8h0m.3-1.8h0m.1 1.1h0m0-1.3h0m.1 .7h0m-.8 2.6h0" stroke="#0E2F58" stroke-width="1.4" stroke-linecap="round"/>
<path d="M252.3 1069.9h0m3.8 2h0m-2.6 .2h0m1 3.7h0m.6-1.2h0m2.5 4.2h0m-2.1 3.2h0m.5-.7h0m-.9 4h0m-.6-.1h0m1.5 1.5h0m.2 1.1h0m-1.3 1.4h0" stroke="#1A4478" stroke-width="1.4" stroke-linecap="round"/>
<path d="M265.1 1047.8h0m-.5 1.1h0m-.4 .6h0m-14.4 1.7h0m12.5-.3h0m5.7 .4h0m-1.3 3.5h0m-1.7-.9h0m-.5-.7h0m-2.5 .5h0m-2.1 1.7h0m-4.4-2h0m-.2-.4h0m-.1 1.8h0m-3.8 4.1h0m1.2-2.1h0m4.6-.7h0m2 2.8h0m2.9-1h0m1.8 .6h0m3.2-2.2h0m.7 4h0m-3.1 1.1h0m-2.3-1.4h0m-.9 .4h0m-2.1-1h0m-1.8 1.9h0m-2.5-2.3h0m-.7 0h0m-1.2 1.4h0m-.1-.5h0m-.2 1.7h0m0-1.7h0m-.6-.4h0m-.6 2.4h0m-2.5 .5h0m3 .4h0m.4 2h0m.4-2h0m1.7-.6h0m.1 2.4h0m.1-.9h0m2.6-.7h0m1.7-1h0m1.6 1.4h0" stroke="#24599A" stroke-width="1.4" stroke-linecap="round"/>
<path d="M265.4 1046.9h0m.1 1.4h0m-15.2 .3h0m7 3.7h0m5-.8h0m.1-1.3h0m.5 2h0m5.2-.3h0m-1.8 1.2h0m-1.7 2.7h0m-8.7-1.6h0m-.7 .5h0m3.3 3.3h0m4.3-2h0m1 .8h0m4 2.1h0m.1-1.9h0m-6.3 4.4h0m-3.5-.1h0m-6.9-.3h0m-1.9 2.4h0m1.6 .1h0m.5 .8h0m1.2 .4h0m3-1.4h0m.3-.1h0m.7 .6h0m.7 .5h0m.5-.4h0m2.5-1.2h0m-9.3 2.7h0" stroke="#2F6BB0" stroke-width="1.4" stroke-linecap="round"/>
<path d="M265.4 1047.2h0m-2.5 1.8h0m-1.9 .4h0m-.2 0h0m-.2-1.1h0m-5.3 2.9h0m5.2 .3h0m1.5-.4h0m5.5-.2h0m11.1 1.7h0m2.4-1.8h0m0 3h0m-1.3 1h0m-3.8-.4h0m-1.7 1.1h0m-1.3 0h0m-.1-1h0m-6.5-.1h0m-3.5-1.3h0m-1.9 .3h0m-10.9-.4h0m2.7 3.3h0m5.1 2h0m1.6-1.5h0m1.4-.1h0m4.9 .9h0m1 .9h0m1-2.5h0m.4 1.9h0m1.7-1.1h0m1.2 2h0m-5.2 2.7h0m-1.1-1.4h0m-.6 1.8h0m-.1-2.8h0m-1.4 1.6h0m-.8 .3h0m-.1 .9h0m-.6-1.9h0m-5.1 1h0m-4.8-1.3h0m-1.3 .7h0m-.6 1.8h0m.2 2.7h0m1.3-1.3h0m2.6-.9h0m4.6 .9h0m.2-1.6h0m.2 1.3h0m.7-.8h0m.7 1.4h0m.2-1.8h0" stroke="#3A7CC2" stroke-width="1.4" stroke-linecap="round"/>
<path d="M273.9 1034.8h0m2.8 1.7h0m-.3 .5h0m-.6-.9h0m-.3 .4h0m-1.5 1.4h0m-.1-.9h0m.6 1.7h0m1.2 1.1h0m1.6 .3h0m0 .3h0m.8 2.4h0m-.2 .7h0m-1.8-.4h0m-.3-2h0m-.5 1.5h0m-.6-.1h0m.2 1.7h0m1.5 1.6h0m6 2.1h0m-4.2 0h0" stroke="#3A92E8" stroke-width="1.4" stroke-linecap="round"/>
<path d="M294.4 1008h0m.2 1.8h0m0 2.9h0m-2.1 2.6h0m-1.3 3.4h0m-1.2 1.1h0m.2 1.2h0m1.3-.2h0m-2.9 3.1h0m-.1 .3h0m1.7 4.2h0m-4 2.8h0m-10.2 3.5h0m10.5-.8h0m3.1-1.8h0m-4 3.7h0m-6.7 3.6h0m-.9 6.6h0m1-.6h0m2.5-1.3h0m1.9 .7h0m1.2-.1h0m.1 .8h0m-3 3.1h0m0 .2h0m-2.3 2.5h0m2.3-.3h0" stroke="#4C9CEA" stroke-width="1.4" stroke-linecap="round"/>
<path d="M297.8 1007.4h0m-1.8 .3h0m-3.4 2.6h0m-2.4 6.1h0m1.9 .2h0m-.6 2.4h0m-.1-.7h0m-.6-.5h0m0-.1h0m-1.4 2.3h0m1.6 .5h0m-2.3 5.4h0m0-1.6h0m-.6 2.4h0m.5-.7h0m.1 3.8h0m-.8 .1h0m-.5 6.4h0m-1.3-.2h0m-.6 1h0m-1.1 .2h0m1.6 1.6h0m1.1 .7h0m-1.8 4h0m-.3-2.1h0m-.2 6.2h0m0 1.1h0m-1.1 .9h0m-.1-2.4h0m-.5 2.3h0m-1.5 1.1h0" stroke="#66ABEE" stroke-width="1.4" stroke-linecap="round"/>
<path d="M292.8 1004.4h0m.3-1.2h0m.8 1.7h0m1.7-.5h0m1.1-1.8h0m0 .9h0m.1 .5h0m.1-.9h0m.7 1.7h0m.2-2.4h0m1.6 1h0m2.2 4h0m-.3-.3h0m-.1-1.9h0m-1.3 .7h0m-.2 1.1h0m-.6-1.1h0m-1.2 1.7h0m0-2.6h0m-.1 .5h0m-.8-.2h0m-.2 1.3h0m-.4-.3h0m-.2-.4h0m-1.5-.8h0m-.8 1.4h0m-.1 0h0m-.8-.2h0m-.1 1.2h0m-.2-1.5h0m-.9-.6h0m-.1 1.1h0m-.1-1.1h0m-.2 .7h0m-.1 1h0m.9 2.9h0m.5-1.5h0m1.5-.1h0m.2 2.2h0m3.3-1.8h0m.9 2.1h0m1.2-.6h0m.2-.6h0m.2 .6h0m.2-.2h0m.7-1.1h0m-1.3 2.1h0m-.8 2.8h0m-.2-.9h0m-.5-.4h0m-.7 1.3h0m-1.3-1.7h0m-.2-.5h0m-.3 .3h0m-.2 .1h0m-1.3 .2h0m0 1.1h0m-.1-2.1h0m-.9-.1h0m-.5 1.1h0m-.2-.8h0m2.9 2.8h0m2 .3h0" stroke="#A8D0F5" stroke-width="1.4" stroke-linecap="round"/>
<path d="M299.1 1001.9h0m-3.8-.4h0m-.9-.2h0m-1.3 2.8h0m2.6-1.8h0m1.7 2.5h0m.4 0h0m.1-1.3h0m.1 .7h0m.3-1.3h0m.1-.9h0m.1 2.7h0m1.4-1.2h0m1.7 3.4h0m-.2-1.8h0m-.2 2.2h0m-.8-.4h0m-.3-1.3h0m-.6 .8h0m-.2 1.4h0m-.2-1.4h0m-2.7-1.3h0m-.2 .7h0m-.1-.3h0m0 1.5h0m-.1-.8h0m-.4 .9h0m-1.8-.9h0m-.7-.9h0m-.3 1.2h0m-.7 4h0m2.9-1.6h0m.4 2h0m.4-2.3h0m.5 1.8h0m.6-1.3h0m.4-.1h0m1-.8h0m.1 0h0m.9 1.8h0m.9-.3h0m.3-.4h0m.4 1.2h0m-.7 .7h0m-.2 1h0m-.1 1.2h0m-.9-.6h0m-2.3 .8h0m-.3-.2h0m-.5-.6h0m-1.1-.5h0m-.5-.4h0m-1.4-.7h0m-1-.1h0m4.7 4.4h0m.8 0h0m.3-1.5h0m1.8 .6h0" stroke="#B6D8F7" stroke-width="1.4" stroke-linecap="round"/>
<path d="M296.6 1025.8h0m-1.9-.3h0m-.8-.3h0m-1.2 3h0m.1 .1h0m.5 .1h0m0-.4h0m.5-1.2h0m.2 1.1h0m1.6-.4h0m.3-.6h0m.6 2h0m.4-2.2h0m0-.6h0m.9 1.4h0m.3 .6h0m.3-.8h0m1.8 .3h0m-.8 1.4h0m-.3 .8h0m-.7-.7h0m-1.3 .9h0m-.5 .3h0m-.4-.7h0m-1-.3h0m-.3-.2h0m-.1-.1h0m-.4 1.1h0m-.5-.9h0m-.3 .1h0m10.7 55.1h0m-.4-1.1h0m-.3 2h0m-.2 .4h0m-.1-2h0m-.2-.3h0m-1.3 .1h0m.6 3.1h0m1-.2h0m.1 1.8h0m.1-1.7h0m0 .2h0m.2-.4h0m1.1 4.2h0m-.4 1h0m-1.7-1h0" stroke="#8CC0F2" stroke-width="1.4" stroke-linecap="round"/>
<path d="M283 1050.4h0m.2 2.5h0m2 2h0m-.8-1.6h0m-1.6 .8h0m-.8-1.1h0m-1.3 1.3h0m2.6 3.3h0m.8-.7h0m.2-.4h0m2.6 .3h0m1.9-.3h0m.6 4.9h0m.1 2.2h0m.6-.1h0m2.1 .5h0m1.5 1.3h0m-.7 1.6h0m-.4-1.4h0m-2.8 1.6h0m4.3 1.7h0m4.5 .3h0m-.6 2.9h0m-1.7 2.4h0m1.3-.1h0m.2 1h0m.3 1.1h0m1.4-.2h0m.4-.2h0m.4-.3h0m0-.2h0m2.8 3h0m-1.6 1.2h0m-.5-.2h0m-2.9-2.4h0m4.5 4.7h0" stroke="#5AA5EE" stroke-width="1.4" stroke-linecap="round"/>
<path d="M282.5 1052.8h0m3.2 .1h0m.2 2.1h0m-.3 .1h0m-1.4 1.8h0m.5-.5h0m.6 1.3h0m1.5 1.2h0m0-1.9h0m3.8 3.6h0m-1.6-1.3h0m-.3 2.2h0m-.2-2h0m-1.8 .9h0m2.3 2.6h0m1.3 .5h0m2.5 5.4h0m1.6 .8h0m.1 .8h0m1.3 1.1h0m-.9-.5h0m-2.4 2.1h0m3.2 .9h0m1.4 .2h0m2.2 3.1h0m.2 4.8h0m.2-1.2h0m.5 0h0m1.7 1.8h0m.5-.7h0m.7-1.4h0" stroke="#6AAEF0" stroke-width="1.4" stroke-linecap="round"/>
<path d="M304.9 1085.6h0m-.4-1h0m-2-1.5h0m5.1 3.1h0m.6 1.4h0m2 .4h0m.2-1.3h0m1.3 1.5h0m.5-.3h0" stroke="#7AB6F0" stroke-width="1.4" stroke-linecap="round"/>
<path d="M315.7 1088.4h0m1.5 0h0m.1-.4h0m.1-.5h0m.2 .7h0m.2 .4h0m.8-1.8h0m0 1.3h0m.5-1h0m.4 0h0m1.4 1.7h0m-.2 .9h0m-.6 1.5h0m-.2-1.3h0m-1 .8h0m0-1.6h0m-.4 1h0m-.2 .7h0m-1.5-1.7h0m0-.1h0m-1.3 1.6h0m-.3-.9h0m-.6 1.9h0m-.4 1.7h0m.3-.4h0m.8 .7h0m.6-.8h0m.3-.5h0m.4 .6h0m.1 .3h0m.1 0h0m.2-1.1h0m.6 .1h0m.7 .2h0m.2 .3h0m.1 .3h0m1 .7h0m.1 .4h0m.3-.4h0m.4-1h0m.7 .9h0m.1-1.1h0m.3 1.9h0m.4 .1h0m.2-.1h0m.5 .6h0m-.4 .6h0m-1 1.9h0m-.6-1.4h0m-.3 .7h0m-.9-1.5h0m-1.6 2.3h0m-.3-2.2h0m-.6 1.7h0m-.2-1.7h0m-.7 1h0m-.3-.3h0m1.8 4.2h0m1.4 .2h0m.6-2.1h0m0-.3h0m.1-.1h0m1.4 .8h0m0-.6h0" stroke="#AAD1F6" stroke-width="1.4" stroke-linecap="round"/>
<path d="M315.9 1088.6h0m.5-1.4h0m1.5 1.3h0m.2-.4h0m.9 .5h0m.2-.9h0m1.4 3h0m-1.5-.9h0m-.2 2.1h0m-.1-1.2h0m-.5 0h0m-1-.3h0m-.2 .9h0m0-2.3h0m-.7 2.6h0m-.4 .3h0m-.3-1.3h0m-.2 .4h0m-.5-.8h0m.5 2.3h0m.7 .8h0m2 0h0m0-.7h0m.7-.5h0m.5 2.2h0m0-2.3h0m.4 2h0m.2 .4h0m.4-.8h0m.4-.4h0m.1-.7h0m.1-.2h0m.8 2.4h0m.8-1.6h0m-1.4 2.1h0m-1.3-.2h0m-.2 0h0m-.2 1.7h0m-.1 1.2h0m-1.1-.6h0m-.5 .6h0m-1.5-.4h0m-.6-.3h0m-.2-.9h0m-.3 .7h0m-1-.5h0m4.6 2.8h0m1.3-1h0m.5 .5h0" stroke="#B8D9F7" stroke-width="1.4" stroke-linecap="round"/>
<path d="M305 1091.8h0m-.4-.4h0m-.1-.5h0m-.7 1h0m-.6 0h0m-.3 1.6h0m.7-.2h0m.6 .8h0m.3 .4h0m0-2h0m.2 .5h0m.4 .5h0m.5-.4h0m.1 .6h0m0-.8h0m.4 2h0m.1-1.7h0m.2 .7h0m.3-1.1h0m0-.1h0m-.6 3.7h0m-.2-1.3h0m-.9 1h0m-.3 .6h0m-.1-1h0m-.1-.5h0m-.2 2h0m0-.8h0m-.9 1.1h0m-.5-1.8h0m1.5 3.7h0m.2-.1h0m.5-1.1h0" stroke="#9CCAF3" stroke-width="1.4" stroke-linecap="round"/>
<path d="M205.3 1062.3Q228.4 1067 253.2 1066.1Q265.7 1056 281.7 1052.4L295.8 1007.5M281.7 1052.4L302.6 1082L315.8 1092M302.6 1082L304.5 1089.5M253.2 1066.1L254.7 1069.5" fill="none" stroke="#222" stroke-width=".8"/>
<path d="M186.6 994.8V1105.3H329.3" fill="none" stroke="#444" stroke-width=".8"/>
<text x="184.1" y="1026.8" text-anchor="end" class="th">5</text>
<text x="184.1" y="1062.1" text-anchor="end" class="th">0</text>
<text x="184.1" y="1097.4" text-anchor="end" class="th">-5</text>
<text x="220.6" y="1118" text-anchor="middle" class="th">-10</text>
<text x="271.9" y="1118" text-anchor="middle" class="th">0</text>
<text x="323.1" y="1118" text-anchor="middle" class="th">10</text>
<path d="M184.4 1023.6H186.6M184.4 1059H186.6M184.4 1094.3H186.6M220.6 1105.3V1107.5M271.9 1105.3V1107.5M323.1 1105.3V1107.5" stroke="#444" stroke-width=".8"/>
<text x="267.3" y="1126" text-anchor="middle" class="th">Component 1</text>
<text transform="translate(176.3 1061.8) rotate(-90)" text-anchor="middle" class="th">Component 2</text>
<text x="258.6" y="984.6" text-anchor="middle" class="ht">Trajectory Analysis</text>
<path d="M369.6 1045.1h0m63.5 1.5h0m1.4 3.3h0m-1.6-1.5h0m-1.4 .5h0m-12.7 .1h0m-50.4 3.5h0m.5 .3h0m.4-1.6h0m.6 1.3h0m1.7-.4h0m52.5-.9h0m5.5 1.7h0m.9-.9h0m.7-.8h0m2.3 .9h0m1.4-.2h0m.3-.2h0m1.6 2.6h0m-2.7 1h0m-.9-.1h0m-.6-.9h0m-1.4-.1h0m-4.2-1h0m-1.3 1.6h0m-1-.6h0m-.8-.7h0m-50.2 .9h0m-.3-1.2h0m-1 1.6h0m-.5-.8h0m-1-.7h0m-.4 .1h0m-.4 1h0m-.1 1h0m-.2-.5h0m-.1-.8h0m-.3-.5h0m-.5 2.2h0m-.6-2.7h0m-.2 1.5h0m-.1 .4h0m-.2 .5h0m-.1 0h0m-.2 .2h0m-.1-2.4h0m-.1-.3h0m-.4 2.7h0m-.3-1.8h0m-.3 .2h0m-.2 1.6h0m-.2-.4h0m-.1 .6h0m-.4-.2h0m-1.3 1.8h0m.7-1.4h0m.2 .8h0m.2 .8h0m.2 0h0m.4-1.1h0m.2 1.5h0m.6 0h0m.7 .4h0m.1-.3h0m0-1.5h0m.1 .2h0m.3-.9h0m.5 1.4h0m0 .6h0m.4 .9h0m.1-1.8h0m1.4 1.7h0m.1-2.1h0m.3 1.9h0m.1-2.4h0m.5 .5h0m.2 .2h0m0 1.8h0m.1-2.6h0m.3 1.4h0m.1-1.3h0m.1 2.6h0m.3-2.2h0m.5 1.4h0m.1-.6h0m.4 1h0m.8-.9h0m.1-.6h0m.3-.9h0m43.8 .3h0m1.8 2.6h0m1.2-.1h0m4.2-.6h0m2.5-1.1h0m1.9 .2h0m1 .6h0m.7-1.9h0m.2 1.8h0m.9-1h0m.5 .8h0m.4-1.4h0m.1 2h0m.6-1.1h0m1.2 1.4h0m1.5-.6h0m.1-1.6h0m1.6 .5h0m-3.7 2.7h0m-.2-.1h0m-.1-.1h0m-1.9 0h0m-.3 1.7h0m-2 .9h0m-4.6-1.1h0m-.5 .5h0m-1.1 .2h0m-2.6 .1h0m-.1-1.7h0m-1.3-.9h0m-.3 2.3h0m-.1-.3h0m-1.3-1.9h0m-.3 2.6h0m-43.5-.8h0m-.6-1h0m-.9 .4h0m-.4 .5h0m-.1-1.5h0m-1.2 .9h0m-.2 .7h0m-.1-.2h0m-.1 .4h0m-.1-2h0m-1.5 2h0m-.1-.6h0m-.6-.4h0m-.1 .8h0m-.2 .8h0m-.2-2h0m-.2 1.9h0m-.1 .2h0m-.5-.2h0m0-2.5h0m-.3 1.6h0m-.1 1.2h0m-.2-1.2h0m-.1-1.6h0m-.5 .9h0m-.2 1h0m-1.3 .1h0m-.4 .3h0m-.2-1.2h0m0 .3h0m-.7 .9h0m1.2 .7h0m.2 2h0m.3-.8h0m.2 .1h0m.8-.8h0m.1 1.2h0m.1-1.8h0m.1 2h0m.3 .4h0m0 .1h0m.3-1.9h0m.5 1.7h0m0-2.1h0m.6 1.9h0m.2-.8h0m0 1.5h0m0 0h0m.1-.4h0m.2 .1h0m.1-.2h0m.3-2.1h0m.1 2.1h0m.1-1.2h0m.2 1.8h0m.1-2.8h0m.1 .2h0m.4 2.3h0m1-2.5h0m1.1 2.3h0m.4-2.1h0m0 2.5h0m.2-2.6h0m.3 2.5h0m.2-1h0m0 .7h0m.2-2.2h0m2.6 2.3h0m.3-1h0m2.4 .7h0m.3 .4h0m.9-1.1h0m2.2 .7h0m5.7 .7h0m.3-.5h0m29.9 .5h0m.6-2.5h0m3.4 2.4h0m1.2-2.6h0m1.2 1h0m1 1.3h0m.7-1.5h0m1.3 .1h0m1.2-1h0m.7 .6h0m1.2-.6h0m.2 .5h0m-6.5 3.8h0m-2.8-.4h0m-1.1-.2h0m-1.4 1.1h0m-.6 .1h0m-1.5 .9h0m-5.9-.8h0m-.6-.4h0m-2.6-.9h0m-1.3-.5h0m-.9 .8h0m-.4 0h0m-1 .9h0m-.4 .1h0m-.9-1.3h0m-.4 1.4h0m-.8 .3h0m-1.9-1h0m-.1-.2h0m-1.1 .6h0m-.1-.2h0m-.7-.9h0m-.6 1.3h0m-.2 .7h0m-.6-2.7h0m-.2 1.3h0m-1-1.4h0m-1.1 2.1h0m-.6 .3h0m-.3-1.7h0m-.2-.2h0m-6.3 1.2h0m-.3-1.3h0m-5.8-.1h0m-.8 1.8h0m-.2-1.7h0m-.6 .4h0m-1.4 1.6h0m-.6-2.4h0m-4.1 .3h0m-1 .7h0m0 .7h0m-1.4-1.6h0m0 .7h0m0-.6h0m-1 0h0m-.5 0h0m14.5 3.2h0m2.7-.2h0m5.7 1.4h0m3.3-1.1h0m.9 .4h0m.9 .2h0m2.3-.7h0m1.5 .9h0m.3-1.3h0m.8 1.8h0m2.1-.2h0m.9-.5h0m3 .4h0m.4-1.4h0m4.4 .3h0m.6 .2h0m.1 1h0m1-.3h0m.8-1.2h0m.6 .6h0m2.1 .1h0m2.2-.5h0m4 2.2h0m-1.4 2.1h0m-2.2-1.4h0m-10.4 1.3h0m-3.3-.1h0m-4-.6h0m-3.7-.1h0m21.9 3.5h0m1.9-.5h0m1.4 2.1h0m.1-2.2h0m-.3 7.4h0m.1 5.6h0" stroke="#4DAF4A" stroke-width="1.4" stroke-linecap="round"/>
<path d="M468.3 1001.9h0m-1.5-.7h0m-1.5 .5h0m-4.4 2.7h0m0-.2h0m.5-.5h0m.8 .4h0m1 .5h0m.3-2h0m.2-.4h0m.2 2.2h0m.6-2.4h0m.3 1.4h0m.2-.2h0m.6 .4h0m.2-1h0m.2-.3h0m.1 1.2h0m.6 1.1h0m.1-2h0m.3 1.6h0m.4-2.2h0m.2 2.7h0m.5-1.7h0m.8 1.3h0m0-.6h0m.1-.8h0m1.4 4.2h0m-.1-.1h0m-.9-1.3h0m-.4 .2h0m-.2 1.1h0m-.3-.6h0m-.3-.5h0m0 .5h0m-.3-.8h0m-.2-.5h0m-.2 1.5h0m-.3-.1h0m-.2-.6h0m-1.1 .7h0m-.5-1.5h0m-.1 2h0m-.1-1.6h0m-.5 .3h0m-.5 1.5h0m-.4-.1h0m-.1-2.1h0m0 .9h0m-.1 .3h0m-.7 .7h0m0-.1h0m-.1-.3h0m0-.1h0m-.2-.3h0m0-.1h0m-.6 .8h0m-.2-.4h0m-.1-.5h0m0-.7h0m-.3 1.2h0m-1.2 2.8h0m.3-.4h0m.4-.5h0m.2 2.1h0m.4-1.9h0m1.1 .2h0m0 .1h0m.1 .1h0m.1 1.7h0m.4-2.3h0m.2 2.2h0m0-.5h0m.6 .1h0m0-.5h0m.2 .5h0m0-.5h0m.2-.2h0m1.1 .2h0m.1-.6h0m.3 .3h0m.3-.8h0m0 0h0m0 1.2h0m.1-.9h0m.1 .1h0m1 .5h0m0 1h0m.3 .2h0m0-2.5h0m.3 1.7h0m.3-1.4h0m.3-.1h0m.6 0h0m.2 1.7h0m.6-1.1h0m0 .2h0m.2-1.2h0m.3 1.5h0m0 0h0m.1 1.6h0m-.4 .1h0m-1.3 2.1h0m0-2.2h0m-.4 2.3h0m-.3-.4h0m-.1 .9h0m-.2-2.3h0m-.1 1.7h0m-.2-2h0m-.1 1.2h0m-.1 .1h0m-.1-.9h0m-.8-.4h0m-.6 2.3h0m-.1 0h0m-.2-.5h0m-.2 .3h0m-.1-2.3h0m-.5 .9h0m-.2 1.7h0m-.6-2.7h0m-.3 1.6h0m-.1-.6h0m-.3 .3h0m0-.4h0m-.1-.8h0m0 .2h0m-.1 0h0m-1.1 2.4h0m-.1-2.7h0m-.3 1.9h0m0-1.9h0m0 1.6h0m-.8-1.5h0m-.5 .2h0m.8 5.3h0m.2-1.7h0m1-.9h0m.7 0h0m.1 2.1h0m.1-2.1h0m.1 .3h0m3.2 1.2h0m.1-.9h0m.2 .2h0m-4.4 2.2h0m-2 2.3h0m-.6-1.5h0m-.3 .7h0m-.2 1.8h0m.2 .1h0m.4 .9h0m.1-.8h0m.5 .3h0m6.7 4.5h0m-.2 .2h0m-1.6-.1h0m-2.4-.2h0m-1.2 .6h0m-3.2-1.3h0m-.2-1.1h0m-.7 2.5h0m-.4-.8h0m-.2 1.6h0m.1 .8h0m.4-1.5h0m.3 .7h0m1.3 1.7h0m1.8 .2h0m.8-.6h0m1-1.2h0m.2 1.6h0m.2-.2h0m.1-.3h0m.9-1.8h0m.5 1.4h0m.8 1.4h0m.3-.5h0m.1-2.3h0m.3 2.4h0m0 .1h0m.2-.1h0m.4-.4h0m.4 .8h0m1-2.4h0m0 2.2h0m.2-.7h0m.6-.5h0m.1 .3h0m.1-.2h0m-2.5 2.2h0m-.6 .2h0m-.4-.9h0m0 1.2h0m-.7-1.3h0m-.9 .8h0m-.7 .3h0m-.5-.9h0m-4.1 .2h0m-1.6 1.7h0m-.1-.6h0m-1 .7h0m2.5 .9h0m-1.6 3.7h0m-2.5 1.3h0m-.5-.2h0m-.7 .4h0m-6.2 .1h0m-1.5-.9h0m-1.3 0h0m-.1-1.2h0m-.3 2.5h0m-.9 .1h0m-.2-.9h0m-.8-1.3h0m-.6 3.8h0m2 .8h0m1.2-.5h0m.4 .2h0m1.1 .1h0m6.2-.7h0m0-.1h0m.8-.7h0m1.1 1.9h0m.5-.7h0m-.1 4.1h0m-.3-2.8h0m-3.1 2.4h0m-4.4 0h0m-.1-2.5h0m-.8 1h0m-.2 1.5h0m-.3-1.2h0m-75.8 2.7h0m76.7 .9h0m.3-1.8h0m.3 0h0m.4 1.4h0m.1 .3h0m.3-1.6h0m.3 1.3h0m.1 1.4h0m.1-.5h0m3.3 .2h0m1-1.7h0m1-.2h0m.6 .2h0m-2 4.4h0m-.1-2.2h0m-.1 2.2h0m-.3-2h0m-.4 0h0m-.6 1.5h0m-1-1.3h0m-3.5 0h0m-11.9 .8h0m-4.9 0h0m-60.1 1.8h0m48.9 2.8h0m.9-1.5h0m7 .9h0m3.5-1.3h0m1.2 .1h0m.4-.9h0m1.7 1.9h0m2.2 .2h0m11.1-.6h0m1.4 .9h0m.5-1.8h0m.3 .5h0m.6 1.3h0m.5-2.3h0m1 .2h0m.1 .2h0m0 1.7h0m.6-1.1h0m.8-.9h0m.2 1.1h0m.5 1.3h0m1.4-.3h0m.6 .4h0m.2 1.9h0m-1.8 .1h0m-.1-.2h0m-.1 .7h0m-1.2-1.1h0m-6.2 .1h0m-1-.1h0m-1.4 1.2h0m-5.7 .4h0m-2.3-1.5h0m-69.5 1.3h0m-.9 2.2h0m.5-1.7h0m3.1 1.7h0m2.4-1h0m.5 .1h0m2.1 .8h0m45.1 .3h0m2.7-1h0m.2 .4h0m.1 .2h0m8.6 .6h0m1.2-.8h0m4 .4h0m.8-.9h0m14.3-1h0m1.5 .1h0m.7-.1h0m1.1 .5h0m.5 2.4h0m0-2.5h0m.4-.2h0m.2 .4h0m1.8 1.6h0m1.2-.2h0m.2-1.5h0m.5 2.4h0m.6-.6h0m.2-.6h0m.1 2.8h0m-1.3-1.2h0m-.4 2.3h0m-1.3 0h0m-.5-1.2h0m-2.1 1.3h0m-.3-.9h0m-19.8 .6h0m-.1-1.1h0m-.7-1.2h0m-1.6 .9h0m-.5 .2h0m-.4 .2h0m-2.7 .6h0m-52.2 0h0m-.7-1.5h0m-.1 .1h0m-1.9 1.4h0m-2.2 .3h0m-2.8-.4h0m-4.1-.5h0m8.4 3h0m.3 1.4h0m4 0h0m41.7-1.4h0m.3-.1h0m2-.4h0m.8-.5h0m.2 2.4h0m.7-1.6h0m1.1-1.2h0m1.8 1.3h0m1.7-.3h0m1.3-.4h0m.7 0h0m1 .8h0m26.9 .6h0m.4 .9h0m1.2-1.9h0m.9-1h0m.1 1.5h0m2.2 .5h0m.2-.8h0m1.6 .5h0m0 3.1h0m-.6 .3h0m-.2 .3h0m-1-2.2h0m-1.8 1.4h0m-1.9-1.5h0m-33.6 2.8h0m-1.5-1.8h0m-.6 .8h0m-.2-1h0m-.5-.6h0m-6.7 2.5h0m-1.7 0h0m-4.9-1h0m-3 1.1h0m-3.9-.2h0m-11.9-2.6h0m-.8 .9h0m-6.8 1.2h0m34.4 2h0m5.1 .7h0m.1-1.2h0m.8 1.9h0m.2-.3h0m.1-1.6h0m.6-.5h0m.1 2.2h0m.5-.1h0m0-.4h0m.1 .8h0m39-.6h0m.1-1.4h0m.2-.4h0m0 1.5h0m1.1-1.4h0m.8-.1h0m2 2.5h0m3.4 .6h0m-2.3 2.5h0m-.5-.7h0m-1.7 .6h0m-.7-2.2h0m-.2-.6h0m-3.1 1.7h0m-37.1 1h0m-.9-2.6h0m-.2 1.8h0m-.2 0h0m-.1-.5h0m-.3 .1h0m-.4-.8h0m-.3 .7h0m-.5-.4h0m-.6 .7h0m1.8 3.3h0m.1-.2h0m.1-.1h0m.5 1.2h0m.2-.9h0m.1 .1h0m0-1.5h0m0 1.3h0m.1 .4h0m.1-2h0m.1 .8h0m40.8-1h0m1.1 1.3h0m.3-1.1h0m.2 1.6h0m.4-.1h0m.5 1h0m.6-1.1h0m.1 1.2h0m.3-.3h0m.1-2.4h0m.2 1.9h0m0-.3h0m.8-.3h0m1.8 1.2h0m-2.4 1.4h0m-.4-1.1h0m-.1 .4h0m-1.4 .9h0m-2.4-1.1h0m-38.3 1.6h0m-.8-.5h0m-.8 1.4h0m-.7-1h0m-.1 1h0m-.1-1.2h0m-.2-.4h0m-.8-.9h0m0 1.9h0m-.5 .5h0m-.2 .1h0m-.1-1.5h0m-.5 1.8h0m.3 0h0m.1 1.6h0m.4 .7h0m1.3-.2h0m.4 .5h0m.7-.9h0m.3 .4h0m0-.8h0m.1 .7h0m1.1-.7h0m44.9 .6h0m.2-1.7h0m.8 1.7h0m.1 .3h0m.1-1.5h0m.1 1.4h0m3.3 2.6h0m-1.2 .3h0m-.4 .6h0m-.5-.2h0m-.5-2.1h0m-.5 2.4h0m-.3-2.3h0m-.9 1.1h0m-45.4-1.3h0m-.4 .1h0m-.1 1.7h0m0-1.4h0m0 .1h0m-.5 .4h0m-.1-.1h0m-.2-.8h0m-.7 2.6h0m-.2-1.1h0m-.5-1.6h0m-.1 2.8h0m-.3-.1h0m-.5-1.4h0m.3 3h0m.4-1h0m.1 1.5h0m.1-1.8h0m.1 1.4h0m0-.3h0m.6 1.3h0m.1-.7h0m.2-.3h0m.1-.2h0m0 .2h0m.1-1.1h0m0 1.4h0m.1 .7h0m.3-.1h0m.1-.6h0m.1 .7h0m.5-1.1h0m0-.5h0m.1 1.5h0m.2-1h0m46.4-.3h0m1 1.4h0m.5-.4h0m.2-1.5h0m5.7 .1h0m1.3 1.5h0m.5 .6h0m3.3 .1h0m.1-1.3h0m.3 1h0m.9-1.3h0m0-.3h0m.2-.5h0m.3 1.6h0m.6 .4h0m.2 0h0m.4-1.6h0m.2 .3h0m.5 1.1h0m.8-.7h0m.2 .6h0m.7 .7h0m.9 1h0m-.2 1h0m-.5 .4h0m-.9-.1h0m0 0h0m-.3 0h0m-.6-1.7h0m0 1.1h0m-.4 .7h0m-.2-1.8h0m-.1 1.2h0m-.1 .8h0m-.5-1.4h0m-.2-.7h0m-1-.4h0m-.3 2.7h0m-.1-.3h0m-.1-1.1h0m-.2-1h0m-.5 1.9h0m-.1-.7h0m-.2 .8h0m-.7 .3h0m-.1-.9h0m-9 1h0m-1-1.5h0m0 1.2h0m-.1 .1h0m0-.8h0m-1-1.6h0m-.1 2.7h0m-.1-2.6h0m-47.3-.1h0m-.4 .2h0m-.8-.1h0m48.3 3.8h0m.4 0h0m.7-.7h0m.4-.2h0m0 1.6h0m.1-.1h0m.4-.1h0m.6-.6h0m.4 2h0m.1-1.7h0m.5-.4h0m6.6 0h0m.8 1.8h0m.2-1.3h0m.1-1.2h0m.2 .8h0m.4 1.3h0m.1-.4h0m.1-1.4h0m.4 1.6h0m.4-1.8h0m.2 .5h0m.1 1.1h0m.1-.1h0m0 1.1h0m.7-2.7h0m.2-.1h0m.6 1.2h0m0-1h0m.3 1h0m.2 .1h0m.7-1.2h0m.2 1.2h0m.1 1.1h0m.4-2.3h0m0 1.6h0m.1 .3h0m.2-1.2h0m.1 1.5h0m0 .1h0m.1 .1h0m.3-.9h0m.3-.4h0m0 .1h0m.2-.5h0m0-.3h0m.9 2.2h0m.3-.7h0m.3 .5h0m-.2 2.3h0m-1-1.6h0m0 1.2h0m-.1 .7h0m0-1.9h0m-.1 1.8h0m-.3-.3h0m-.7-.8h0m-.2-.6h0m-.1-.2h0m-.1-.1h0m-.2 2.1h0m0-1.8h0m-.4 1.5h0m-.3-.4h0m-.4-.7h0m-.5-.6h0m-.1 2.3h0m-.3-1.5h0m-.4 1.4h0m-.3-1.4h0m-.1-.3h0m0-.5h0m-.2-.1h0m-.8 2.3h0m-.2-1h0m0 .7h0m-.5-.6h0m-.4 .5h0m-.7-1.3h0m-6.9 1.2h0m-.3 .7h0m-.4-.5h0m-.2-.3h0m-.1-.3h0m-1.2 1.1h0m-.2 .2h0m-.1-2.3h0m0 .3h0m-.1-.5h0m-.2 2h0m-.4-.4h0m0-1.3h0m-.8 2.1h0m-.1-1.1h0m-.4 .5h0m0-.7h0m1.9 3.1h0m.2-1h0m.2 .5h0m.7-.6h0m10.9 .2h0m.1 .1h0m.9-.2h0m.5-.3h0m0-.1h0m.7 2h0m.7-1.8h0m0 .4h0m.2 0h0m.1 1h0m0-1.2h0m.1 .3h0m1 .1h0m.4 0h0m0-.6h0m.6-.2h0" stroke="#A457B8" stroke-width="1.4" stroke-linecap="round"/>
<path d="M372.7 1043.4h0m61.2 4.4h0m-.1-.7h0m-.4 .9h0m-.3-.9h0m-1.7 2.5h0m-1.6-1.9h0m-.2 1.7h0m-2.3-1.8h0m-.7 .2h0m-58.7 5h0m.9-.4h0m1.2 .5h0m.4-1.4h0m48.4-.6h0m4.7 .5h0m8-.4h0m2.2 1h0m.2-1.9h0m16.1 .7h0m.5 2h0m-.5 1h0m-.4-.3h0m-11.5 2.2h0m-1-2.1h0m-1-.4h0m-.6 1.9h0m-.2-.8h0m-.1 1h0m-1.9 .2h0m-2.8 .4h0m-1-1.1h0m-10.6-1.5h0m-.2 1.4h0m-44.4 .6h0m-.2 .3h0m-.9-1.3h0m-.3 .7h0m0 .3h0m-.7 .3h0m0-1.9h0m-.2 2.2h0m-.2-.8h0m-.3 .7h0m-.4-1.3h0m-.2-.3h0m-.6 .1h0m-.2 0h0m-.2 .7h0m0-1h0m-.3 0h0m-.1-.9h0m-.3 2.8h0m-.1-1.5h0m-.7 1.4h0m-.2-1.3h0m-.3-.2h0m0-.4h0m-.3-.5h0m-.2-.2h0m-.1 1.7h0m-.5-1.4h0m-3.2 5.4h0m.4 0h0m1-1.7h0m.1 .4h0m.2 1.1h0m.1-2h0m.1 1.1h0m.2-1.1h0m0 1.4h0m0-1.9h0m.3 2h0m.5-1.8h0m0 2h0m.3-1.4h0m.5 1.8h0m.4-.7h0m.8-1h0m.7 .6h0m.2 0h0m0 .8h0m.1 .3h0m0-.2h0m.1-1.9h0m1.1-.2h0m1-.5h0m.1 1.4h0m.8 .2h0m.1-.2h0m.1-.4h0m.2 .6h0m.4-1.5h0m.1 2.3h0m0-1.2h0m.6 1.5h0m.2-1.9h0m45 .1h0m2-.1h0m.1-.5h0m4.4 1.1h0m.4 .2h0m1.8 1.3h0m1-1.5h0m.6 .6h0m1.1 .1h0m.3 .1h0m.4-2h0m1.6 .9h0m2.9-.8h0m.4 .5h0m.1 0h0m.2 2.1h0m-1.8 1.2h0m-.1 1.4h0m-1 .1h0m-.2-.2h0m0-1.3h0m-2-.7h0m-.4-.3h0m-.5 .7h0m-.7 1.8h0m-2-1.9h0m-.5 1.6h0m-.2 .2h0m-.8-2.2h0m-3.2-.3h0m-1.6 2.8h0m-46.9-.5h0m-.2-2.2h0m-.1 1.3h0m0 1h0m-.5-1.1h0m-.4 .9h0m0-2h0m-.3 0h0m-.1 2h0m-.4-2.1h0m-.1 2.7h0m-1-.8h0m-.3-1.6h0m-.1 1.3h0m-.1 .4h0m-.2-.4h0m-.4-.6h0m0-.5h0m-.2 2.2h0m-.2-2h0m-.3 .5h0m-.1 .6h0m-1-.6h0m0 1.5h0m-.4-1.3h0m-1 1.4h0m0-1.4h0m-.2-.2h0m0 .9h0m-.4 .5h0m-.4-2.4h0m-.5 2.1h0m-.9-2.3h0m-.5 1.7h0m-.2 2h0m.9 .6h0m.9-.8h0m.4 .6h0m.1-.7h0m.1 1.1h0m.5 .5h0m1.1 0h0m.1-.7h0m.1 .8h0m.1-2.2h0m.3 2.5h0m0-1.8h0m.1 1.1h0m.4 .2h0m1.2 .9h0m.4-.3h0m.4-.7h0m.2-1h0m.2 1h0m.3 .7h0m.1-1.6h0m.3 1.6h0m.1-1.9h0m.8 1.6h0m4.9-.3h0m3.6 .6h0m1.6 0h0m.1-.1h0m.3-.3h0m7 .7h0m2.6-.8h0m26.2-.6h0m.8 .4h0m.5-.7h0m.4 1.5h0m.4-1.9h0m2 .9h0m.6 .5h0m2.3-1.1h0m0 .8h0m2.7-1.8h0m-5.8 4.3h0m-.9 .1h0m-.9-.5h0m-1.2 .7h0m-1 .5h0m-.8 .4h0m-.2 .1h0m-.6-.9h0m-.7-1.6h0m-1 1.1h0m-.7 .4h0m-.4 1h0m-.5-1.3h0m-1.3-.7h0m-1.1 1.8h0m-.5-1.7h0m-1.5 1h0m-.6 .9h0m-1 .2h0m-3.4-.6h0m-.3 .1h0m-2.2-.2h0m-.3 .1h0m-.5 .2h0m-2.7-.4h0m-7.7-.9h0m0-.6h0m-.4 0h0m-2.1 1.2h0m-1.5-1.4h0m0 1.7h0m-1.7 .8h0m-.7-2.5h0m-3.4 2h0m-.8 .4h0m-.6-.6h0m-.8-1.5h0m-6.8-.4h0m-.3-.1h0m-.8 .6h0m-1-.1h0m-.4 0h0m-.1 .7h0m-1.9-.5h0m0 .3h0m-.2-.2h0m21.5 4.3h0m2.5-2.2h0m5.2 1.6h0m3.2-1.4h0m.4 .8h0m.3-1.1h0m6.6 .6h0m1.4 .2h0m1.6-.2h0m1.2-.6h0m6.6 .1h0m2 .3h0m2.7 4.6h0m-.8 .5h0m-4.9-1.7h0m-5.9-.7h0m11.6 5.3h0m-.4 5.7h0m3.7 .1h0m-1.4 1.2h0m-.3 6h0" stroke="#4DAF4A" stroke-width="1.4" stroke-linecap="round"/>
<path d="M466.3 1001.6h0m-1.8-.4h0m-.1 .3h0m-.1 .2h0m-1.1 2.2h0m.1-1.4h0m0 1.5h0m.8 .3h0m.1-1.2h0m.2 .2h0m.2-1.1h0m.1 2.2h0m.1-2.1h0m1.2 .8h0m.2-.3h0m.5 2h0m.3-1.8h0m.1 1.3h0m.2 .4h0m.1-1.8h0m1-.1h0m2.1 1.2h0m.4 2.1h0m0 1.6h0m-.1-.3h0m-.4-.1h0m0-2.1h0m-.1 2.3h0m-.3-2h0m-.6-.2h0m-1.1 1.1h0m-.1 .7h0m-.2-1.7h0m-.2-.2h0m-.6 2h0m-.1-2.2h0m-.5 2.8h0m-.5-2.5h0m-.3 1.1h0m-.5-.6h0m-.1 .8h0m-.1-.4h0m-.6-.8h0m0 2.1h0m-.4-1.6h0m-.1 .7h0m-.1 .4h0m-.9-1.5h0m-.1 .7h0m-.4-1.2h0m-.3 .3h0m-.2 2.2h0m-.3-2.5h0m-.9 1.5h0m-.3-.2h0m-.8 2.8h0m.8-.7h0m1.1 .9h0m.1 .3h0m1.5-1.4h0m0-.1h0m.5 1.6h0m.2-.2h0m.1-1.4h0m.1 .8h0m.4 2h0m.4-.5h0m.1-2.3h0m0 .5h0m.4-.6h0m1.1 .5h0m.3 .3h0m.3 .3h0m.8 .5h0m.2-.4h0m.1 1h0m.1-1.9h0m.2 2.3h0m.6 0h0m.1-.9h0m.1 .4h0m.1-.4h0m.1-.2h0m-.1 1.7h0m-.2 1h0m-.1 1.2h0m-.9-.8h0m-.7-.7h0m0-.8h0m-.3 2.5h0m0-1.6h0m-.4 1.9h0m-.2-2.3h0m-.4 1.7h0m-1.1 0h0m-.4-1.2h0m-.1 1.5h0m-.4-2.4h0m-.4 .3h0m-.1 1.2h0m-.8-1.1h0m-.8 2.3h0m-.2-1.6h0m-2.6 4.1h0m.9-1.2h0m1.4 .1h0m.7-.2h0m.3 .9h0m.1-.7h0m1.7-1h0m1.3 1.2h0m1.9-1.1h0m1 .2h0m-7.4 2.6h0m-.7 1.1h0m-.8-.7h0m-.6 2.2h0m-.1-2.5h0m.7 3.3h0m.2 .7h0m.1 1.6h0m1.6-2h0m1.5-.5h0m4.6 5.4h0m-3.7-.1h0m-.2-.2h0m-.4 .4h0m-.1-.3h0m-.3-.4h0m-.9 .6h0m-3.9 0h0m-.4-1.5h0m-.3-.1h0m.8 3.6h0m0-.2h0m.8-.1h0m2.7 .7h0m.1 .1h0m.4 .1h0m.1-.4h0m.7 0h0m0-.1h0m.7-1.1h0m0 .7h0m0 .7h0m.3-.6h0m.1 .3h0m.6 0h0m.1-.5h0m.1-.5h0m.5 1.2h0m.5-.9h0m.3 .5h0m.1 1h0m.1-2.4h0m0 2h0m.2-1.8h0m.1 1.9h0m.5-.9h0m.4-.8h0m.7 .2h0m-.4 2.8h0m-.4-.6h0m-.4 0h0m-.7-.1h0m-.5 .6h0m-.7-.4h0m-.6 .1h0m-.4 0h0m-.3-.2h0m-6.3 2.4h0m-.2-1h0m-.1-.8h0m-.2 2h0m-1.5 .1h0m-.9 .9h0m1.9 3.6h0m-.4-1.1h0m-1.8 1.2h0m-.2 1.3h0m-9-.7h0m-.5-.9h0m-.1 .2h0m-1.5 .8h0m-.2 .8h0m-70.8 2.8h0m71-1.7h0m1.8 1h0m.2-.5h0m.9 1.1h0m0-.1h0m7.3-1.8h0m1.4 2.1h0m1.5-1h0m-1.5 1.3h0m-.1 .4h0m-.3 2.1h0m-.4-2.5h0m-1.2 .7h0m-.1 .3h0m-5.4-.9h0m-.5 2.3h0m-.5-2.5h0m-.4 .4h0m-1 .7h0m-2.1-.8h0m-71 .9h0m-.5-1.1h0m-.8 1h0m-1.3 3.1h0m65.1 1.7h0m9.5-2.7h0m2.5 1h0m5.1 1.3h0m.3 .4h0m2.2 .8h0m0 .7h0m-1.1 1.3h0m-.2-2.4h0m-1.2 .6h0m-.2 0h0m-.5 .7h0m-1.8 .4h0m-1.8-1.1h0m-1.5 .2h0m-11.7 .3h0m-.9 1.1h0m-14.2 .5h0m.1 1.5h0m10.7-1h0m.1 2.4h0m1.3-.4h0m20.2-2h0m.3 2.3h0m.7 .1h0m1.2-.9h0m1.6 3h0m-.8-.1h0m-.7-1h0m-.7-.2h0m-.2 1.6h0m0-1.3h0m-.2 1.9h0m-2.1-2.6h0m-1.4 1.3h0m-4-1.5h0m-2.4 1.9h0m-.9 0h0m-6.1-.2h0m-1.7-.9h0m-.3 .1h0m-2 .6h0m-1.9-.6h0m-.8-.7h0m-.1 .2h0m-3.1 .9h0m-1.6 .4h0m-4-.7h0m-48 1.4h0m-2.7-2.3h0m-1 2.3h0m-1.6-.2h0m-.6-.9h0m.2 3.3h0m1-.5h0m.7 1.6h0m.8-2.3h0m0 2.1h0m.8-1.1h0m1.9 1h0m.7-1.3h0m.2 1.2h0m.8-.6h0m.3-.1h0m1.1-1.6h0m.1 1h0m46.5 .6h0m2.7-1.2h0m.1 2.2h0m1.9-2.6h0m.3-.1h0m.3 2.3h0m.1-2.1h0m2.6 2.5h0m1.3-.6h0m.1 .7h0m3.3-.2h0m2.4-1.1h0m1.4 .6h0m14.6-.5h0m.8-.7h0m.2-.4h0m0 .1h0m.4-.2h0m.2 1.7h0m.2-1h0m.3 .6h0m.7 0h0m.2 .4h0m1-.5h0m1.9-.7h0m.1 .6h0m1.4 3.1h0m-.5 .4h0m-.7 .4h0m0-.4h0m-.9-1.5h0m-.9 .4h0m-2.1 .9h0m-1.6-.7h0m-16.9-.9h0m-.7 0h0m-2.4 2.7h0m-.4-.5h0m-.8-2.2h0m-.8 2.5h0m-.5-1.7h0m-.2 1.8h0m-1.9-1h0m-.2-1.4h0m-.3 2.5h0m-1.1-.6h0m-.1-.4h0m-2-.3h0m0 1.3h0m-.4-1.5h0m-.1-.9h0m-2.3 .9h0m-.9-.9h0m-2.5 .2h0m-46.4 .1h0m-1.2-.1h0m-1.2 1h0m-.6-1.5h0m-.1 .4h0m-.6 2.3h0m-.3-.1h0m-2.9-2h0m1.2 2.3h0m2.5 1.9h0m1-1.9h0m1 2.2h0m10.3-.5h0m22.2 .7h0m18.6-.2h0m.6-.7h0m3 .6h0m.5 .1h0m.2-1.5h0m.3 .2h0m.9 .8h0m0-1.1h0m.4-.2h0m28.2-.4h0m.9 1.6h0m0-.9h0m.9-.1h0m0 2.1h0m.6-2.2h0m.9 .9h0m.2-.2h0m.2 .6h0m2.1 .3h0m.6 3.5h0m-.1-1.8h0m-.3 1h0m-.8-1.4h0m-.7 1.1h0m-1.6-1h0m-1.8 .4h0m-35.2 1.9h0m-.6-.9h0m-.5 .3h0m-1.2-1.9h0m-3 .9h0m-8.8 .8h0m-2 .4h0m-2.7 .3h0m-18.9-.9h0m-.8 .6h0m-5.2-1.9h0m24.8 4.6h0m16.7-.3h0m.4-1.7h0m.9 2.2h0m0-.7h0m.6 .1h0m0-.4h0m.4 .7h0m.9-2.1h0m.3 1.3h0m36.2-.5h0m2.2-.8h0m.2 .9h0m1.8-.6h0m1.1 .6h0m.6 .6h0m3.7 4h0m-1.3 .1h0m-.6-1.6h0m-.1 1.3h0m-1-1.9h0m-.9 0h0m-1.2-.3h0m-.1 1h0m-.2 .2h0m-38.3-1.1h0m-.5 1.5h0m-.7-1.6h0m-.3 2h0m-1-1.9h0m0 .8h0m-.1 .5h0m-.2 .2h0m-.4-.6h0m-.1-1h0m-.4 .1h0m-.1 1.9h0m-.2-.3h0m-.4 0h0m-2.1-1.4h0m2.1 3.5h0m1.6-.2h0m.1 2h0m.2 .2h0m.3-1h0m.5-.5h0m39.3 .4h0m2.5-1.4h0m1.1-.4h0m.1 2.5h0m.2-1.8h0m0 .6h0m.1 1.4h0m.4-1.8h0m1.2-.9h0m.5 2h0m3.9 3.9h0m-2.3-.2h0m-.1-1.1h0m-1-1.1h0m0 1.5h0m-.3 .8h0m-.2-1.9h0m0 .4h0m-.3-.1h0m-1.3-.1h0m-40.9 1.2h0m-1.5-1.3h0m-.7-.3h0m-.2-.5h0m-.3 2.3h0m-.4-1.1h0m0 .5h0m-.5-.7h0m-.5 .1h0m-1-.9h0m.5 3.1h0m.3 .5h0m0 1.1h0m.2 .5h0m.2-.6h0m.3 .8h0m.6 0h0m1.2 0h0m.2-.6h0m.3 .1h0m.1-1.2h0m.3 .4h0m.1 1h0m.3 0h0m.1-.5h0m44.9 .9h0m.1-.5h0m.2-2.1h0m.2 1.8h0m.2-.3h0m3.9 3.6h0m-1.7 .4h0m-.6-1.5h0m-.9-.5h0m-.8-.7h0m-.1 2.6h0m-.4-2.4h0m-.2 .2h0m-44 .4h0m0 2h0m-.9-2.1h0m0 .7h0m-.1-.3h0m-.5-.6h0m-.9 1.9h0m-.2-2.5h0m0 1.5h0m-.3-1.1h0m-.4 2h0m-.2-.3h0m-.2 .1h0m0-1.4h0m-.1 .2h0m-.8 1.2h0m-.1 .7h0m-1.3-2.6h0m1.7 3.1h0m.3 1.1h0m.2 .6h0m.2-.6h0m.1-1.1h0m0 1.4h0m0 0h0m.2 .3h0m.2-1.3h0m0-.4h0m.2 1.3h0m.8-.8h0m.1 1.3h0m0-2h0m.2 1.8h0m.1-1.7h0m.1-.1h0m.2-.2h0m.3 2h0m.4-1.6h0m.4-.2h0m44.8 0h0m.3 .7h0m.8-.5h0m.1 1.8h0m.2-1.5h0m.1-.4h0m1.1 2.4h0m3.5-1.1h0m.9 .9h0m1-.2h0m2-.4h0m3.5-.5h0m.2 1.3h0m.5-.6h0m.8 .3h0m.2-1.6h0m.1 .7h0m.1 .7h0m.6-1h0m0 .9h0m.8 .5h0m.2-.9h0m.2 0h0m1.5 1.1h0m1.4 1.9h0m-.2 1h0m-.4-.5h0m0-.8h0m-.4-.7h0m-.4 .9h0m-.1-1.4h0m-.8 .7h0m-.7 .1h0m-.2-.3h0m-.1 1.5h0m0 .7h0m-.1-.9h0m-.3-.3h0m0-.6h0m-.1 1.7h0m-.2-2.3h0m-.2 2h0m-.2 .4h0m-.2-.3h0m-.3-1.2h0m-.1 .5h0m-.1-1.1h0m-.1 1.6h0m-.4-.9h0m-.5 1.3h0m-.7-1.2h0m-.3 .1h0m-.3-1.1h0m-.4 2.1h0m-2.2-2.1h0m-7.3 2.2h0m-.1-1.3h0m-.6 .7h0m0-.4h0m-.5 0h0m-.4 .8h0m-.7-1.1h0m-48.3-1.3h0m0 .5h0m48.2 3.7h0m.4 0h0m.6-1.1h0m.8 2.2h0m.3-1.5h0m.3-.1h0m.4 1.8h0m.9-1.8h0m0-.5h0m0 2.3h0m8.5-2h0m.1 1.9h0m.7-1h0m.1 0h0m.2-.8h0m.8 .5h0m0-.1h0m0 1.2h0m.3-1.3h0m.3-.4h0m0-.7h0m.2 1h0m.1-.8h0m.4 .3h0m.7 .5h0m.8 .8h0m0-1.8h0m0 2.2h0m.1 .2h0m.2 .1h0m0-1.7h0m.3 .6h0m.1 .5h0m.2-1.9h0m.3 .5h0m0-.1h0m.5 1.2h0m0-1.1h0m.1 0h0m.7 2h0m.2 .3h0m.1-1.5h0m.5-.4h0m.2 .6h0m-.7 2.1h0m-.4 .8h0m-.2 .3h0m-1.1 .3h0m-.2-1.3h0m-.4-.7h0m-.4 1.7h0m-.1-.6h0m-.6 1.6h0m-.5-1.3h0m-.1 1.3h0m-.2-.7h0m-.2-1.5h0m0 1.4h0m-.4 .6h0m-.2-.1h0m0-.3h0m-.1-1.8h0m-.1 1h0m-.2 .8h0m-.2 .4h0m-.2-1.3h0m-.2-.9h0m-.1 1.3h0m-.3-.4h0m-.2-.1h0m-.6 1.1h0m-.6-.8h0m0-.4h0m-7.9 .8h0m0 0h0m0 0h0m-.1 .5h0m-.6-1.4h0m-1 .4h0m-.3 .4h0m-.2-.4h0m-.2 .1h0m-.4 0h0m-.1-1.4h0m-.1 2.2h0m0-1.6h0m-.2 2h0m-.2-.6h0m-.1-.1h0m-.5-.4h0m0-1.4h0m1.8 4h0m.7-.3h0m0-.6h0m.3 .9h0m11.1 1h0m.3-1.2h0m.4 .2h0m1.6 .2h0m.1-.5h0m.2-.3h0m.2-.2h0m.4-.1h0m.1 .7h0m.3 .3h0m.5-.7h0" stroke="#A457B8" stroke-width="1.4" stroke-linecap="round"/>
<path d="M373.1 1041.9h0m-3.4 3.2h0m4.1 1h0m59.6 1.9h0m-.5 .3h0m-56.3 1h0m-7.3 2.4h0m.6 1.1h0m1.2 0h0m.2-1.8h0m.3-.6h0m.4 2.2h0m.1 .1h0m46.9-1.6h0m11.8 1.7h0m.2-1.2h0m.2-.7h0m2.8 .7h0m2.4 .7h0m13.5 .9h0m-2.8 1.2h0m-1.8-1h0m-1.3 1.1h0m-5.3 1h0m-2.3-.4h0m-3.3-.8h0m-2.3-.6h0m-2.7 .2h0m-1.3 .6h0m-2.5-1.1h0m-50.8 1.1h0m-.3 1h0m-.2-1.4h0m-.1 0h0m-.1 .7h0m-.1-.6h0m-.1 .2h0m-.4 .4h0m-.6-1.8h0m-.1 2.6h0m-.1-1.6h0m-.4-.5h0m0 .8h0m0 .2h0m-.1-.1h0m-1.3 1.1h0m-.3 .2h0m-.1-2h0m-.1 .7h0m-.5-1.2h0m-1.1 .6h0m-.1 1.9h0m-.4-1.7h0m-.6 .7h0m-.3 .9h0m-.4-1.7h0m-.1 .9h0m-1.3 2.2h0m.4 1.1h0m.3 0h0m.1-1.8h0m.3-.3h0m0 2.6h0m.4-1.8h0m.2 .9h0m0-1.1h0m.4 1.1h0m.1-1.7h0m.4 2.3h0m.1-.5h0m.5-.2h0m1-1.4h0m.5 .4h0m.2 1.9h0m.2-1.6h0m.1-.6h0m.1 0h0m.3 1.3h0m.2-1.3h0m.3 1.2h0m.4 .7h0m.1 .1h0m.2-.7h0m.5 .9h0m.6 .2h0m0-1.5h0m.3-.7h0m1.3 1h0m.7-.6h0m.4-.2h0m.9 1.7h0m48.4-1.9h0m4 .3h0m1 1.2h0m1.9-2h0m2.5 2h0m.4-.5h0m.2 .3h0m.9 .5h0m1.4-.8h0m2-1.4h0m-1.9 4.2h0m-1.7-1h0m-.5-.2h0m-1.8-.1h0m-.2 .8h0m-1.4-.7h0m-.6 2.3h0m-.9 .2h0m-4.3-2.4h0m-.5 2.2h0m-.1-.5h0m-.7-.6h0m-.1-1.3h0m-1.2 1.7h0m-.4-.8h0m-1.2 1.4h0m-.9-.6h0m-45.1-.3h0m-.5-.5h0m-.5 1.6h0m-.3-.5h0m-.5 .7h0m-.3-.7h0m-.4 .8h0m0 .1h0m0-1.8h0m-.7-.8h0m0 1.3h0m-.2-.8h0m-.3 .8h0m-.3-.3h0m-.1-1.2h0m-.1 2.1h0m-.1-.7h0m-1-.8h0m-.1 .7h0m0 0h0m0 .8h0m-.7-1.4h0m-.5 .7h0m-.2-.3h0m-.4 .2h0m-.1-1.4h0m-.6 .8h0m-.1 .7h0m-.4-.2h0m-.3 1.4h0m-.3-1.6h0m-.2-.2h0m-.4 2.9h0m.1-.5h0m.5-.2h0m.4 2.2h0m.2-2.2h0m.6 1.3h0m.1-1.3h0m1.1 .5h0m.5 1.8h0m.1-1.8h0m.1 2.3h0m.1-1.9h0m0 1.7h0m.4-2.7h0m.1 2.5h0m.1-.3h0m.1-1.6h0m.1 1h0m.4 .7h0m1.1-.1h0m0-1.4h0m.4 .7h0m.4-.4h0m.4 1.2h0m.5-1.4h0m.1-.3h0m0-.3h0m0 1.3h0m.2 .3h0m.1-1.6h0m0 .1h0m.1 1.4h0m.3-1.2h0m.4-.2h0m.5 1.6h0m1.5-.4h0m.4 .7h0m0-.7h0m1.3-.4h0m.2 1.6h0m2.9-.6h0m3 .1h0m1 .1h0m2.4 .2h0m1.3-.3h0m6.4 .4h0m22.7-2.5h0m2.1 2.1h0m.1-1.3h0m2.9 1.5h0m1-.8h0m.4 1.1h0m2.2-1.2h0m.9-.5h0m1.4 .3h0m4.3-1.4h0m-13 5.4h0m0-2h0m-.2 2.5h0m0-2h0m-.2 1.8h0m-.3 .2h0m-2.1-1.2h0m-2.4 1.2h0m-2.7-2.1h0m-1.8 .9h0m-1.8 1h0m-3.5-.5h0m-.8-.7h0m-.3 .1h0m0-.7h0m-3.8 1h0m-2 .3h0m0-1.7h0m-.2 .9h0m-.4 1.2h0m-.1-.5h0m-.1-1.9h0m-.8 2.3h0m0-.8h0m-3.3 .6h0m-.1-.3h0m-.4-.7h0m-.2 .2h0m-.2-.8h0m-.7 .4h0m-1 .6h0m-.5-1.5h0m-.2 1.3h0m-2.1-.3h0m-1.8-.7h0m-5.6-.2h0m-1 1.4h0m-.9-.2h0m-.5-.2h0m-6.4-1.3h0m-.5 1h0m-.5 .3h0m0 .2h0m-.3-1.5h0m-.8 .4h0m-.2 .3h0m-1.1 .5h0m10 3h0m.2 0h0m11.9-1h0m1.1 .4h0m2.4-.3h0m2.7 1.3h0m1.1-.8h0m0-.6h0m2.3 1.5h0m1.5 .2h0m1.6 .6h0m4.6-1.2h0m.7 1.5h0m.2-2.5h0m.4 1.3h0m1 1.3h0m.9-2.6h0m.8-.3h0m.2 0h0m3.2 .5h0m.4 .9h0m2 .9h0m1.3-.4h0m0 0h0m.1-1.6h0m.3 1.1h0m3.5-1.3h0m-.8 3.8h0m-5.6-.9h0m-22.4 .1h0m30 9.4h0m1 2.6h0m-1.1 .4h0m-.9 3.9h0m3-.6h0" stroke="#4DAF4A" stroke-width="1.4" stroke-linecap="round"/>
<path d="M465.1 1001.9h0m-1.6-.6h0m-1.3 1.9h0m.7 1.4h0m2.1-1.5h0m.4 1.2h0m0-.1h0m.7-.8h0m.4-1.3h0m.1 2.7h0m.3-1.7h0m0 1.7h0m.1-1.8h0m.1-.9h0m.5 2.5h0m.3-1h0m.4-.7h0m.2 .5h0m.1 .8h0m.4 0h0m0-.3h0m.1-.4h0m.6 1.2h0m1.3 2.5h0m0 0h0m-.2-.3h0m-.8 .2h0m-.2-1.6h0m-.1 .6h0m-.4-.5h0m-.1-.4h0m0 1.2h0m-.3-.9h0m-.5 1.5h0m-.3-1.8h0m-.1 1.3h0m-.4-1.4h0m-.2 1.5h0m0-1.5h0m0 2.6h0m-.4-.1h0m0-2.1h0m-.1-.4h0m-.1 1.5h0m-.1-1.5h0m-.3 1.7h0m-.2-1.8h0m0 1.3h0m-.7-.8h0m-.3 2.2h0m-.1-1.5h0m0 .9h0m-.1 .6h0m-.2-.6h0m-.6-2h0m-.1 .4h0m-.1 1.5h0m0-.1h0m-.2-1.8h0m-.2 .5h0m-.1 1.5h0m-.8-2h0m-.5 1.7h0m-.1-.5h0m-.8 0h0m0 1.5h0m-.2 0h0m0-.5h0m-.2-1.9h0m-.2 0h0m-.2 .7h0m-.1 1h0m.7 3.3h0m.1-.2h0m.5-.2h0m.1-1.5h0m.4 .2h0m.5-.5h0m.5 0h0m.3-.2h0m.3 2.9h0m.6-2.7h0m.1 .3h0m.4 1.6h0m.6 .3h0m.6 .1h0m0-1.4h0m.1 .6h0m.3 .3h0m.8 0h0m.3 .2h0m0-2h0m0 .6h0m.3 1.5h0m.3-.1h0m0 .6h0m.2-2.2h0m.1 1.4h0m.1-2h0m.1 .9h0m.1 .6h0m.1 .9h0m.1-.1h0m.4 0h0m.2-.2h0m.1-.8h0m.1 .9h0m.1-.1h0m.1 .4h0m.6-2h0m.3 1.8h0m-.9 2.3h0m-.6-.5h0m-.3-.4h0m-.5 .5h0m-.4 .3h0m0 .3h0m-.3 .2h0m0-1.3h0m-.5 1.3h0m-.1-2h0m0 2.8h0m0-.4h0m-.4-1.5h0m-.9-.2h0m-.6 1.1h0m-.4 0h0m-.1-1h0m-.4-.1h0m-.3 .1h0m-.2-.2h0m-.5 1.7h0m-.1 .1h0m-.1-1.1h0m0-.1h0m0 1.3h0m-.4-.3h0m-.3-1.9h0m-.1 .2h0m-.2 .2h0m-.6-.2h0m-.7-.4h0m-.5 4.7h0m1.9-.5h0m.2-1.3h0m4.3 0h0m.3 .7h0m.9-.6h0m-6 3h0m-1.4 2.8h0m-.1-.9h0m-2.2 1h0m.9 1h0m1.1-1h0m7.4 5.7h0m-4-.2h0m-.4-.2h0m-1.1 .5h0m-2.1 .1h0m-.6-1.6h0m0-.8h0m-1.1 2.2h0m-.1-2h0m-.1 1.7h0m-2.9 3.4h0m2.8-.8h0m3.5-2h0m.4 .2h0m.3 .7h0m.8 .4h0m0-.6h0m.7-.4h0m.4 1.8h0m.8-.2h0m0 .1h0m.2-1.4h0m.8-.4h0m0 .5h0m.2 .4h0m.3-.7h0m0 .1h0m.4 1h0m.1-.3h0m.1 1.7h0m.3-2.4h0m.1 .8h0m.2-.2h0m.7-.9h0m.1 1.8h0m.1-.8h0m.7 1.2h0m-1.5 1.6h0m-.9-.7h0m-.1 .3h0m-.2-.1h0m-1.5-.1h0m-1.1-.3h0m0 .3h0m-.1-.4h0m-.1 .9h0m-.6 .2h0m-3.5-.2h0m-.1-.2h0m-1.4 .9h0m-.5-.8h0m-.8 .1h0m-.2 .8h0m-12.6 2h0m.7 2h0m8.4-1.5h0m2.2 .7h0m.2-.6h0m.5 .7h0m.4-.1h0m.3 2.1h0m-.6-.9h0m0 .4h0m-.8 1.9h0m-.4-1.3h0m-.5-.3h0m-7.5 .1h0m-2.5 .4h0m-.2-.9h0m-1.8 1.4h0m.1 2.4h0m.7-.5h0m1.4 .5h0m1.4 1.2h0m1.6-1h0m6.3-.1h0m2.1 .3h0m-7.2 3.6h0m-1.7 0h0m-.5-1.1h0m-.1 .1h0m-.7-.8h0m-.2 .4h0m-.3 .6h0m-.7-1.3h0m-1.3 1.1h0m-73.3-.2h0m-1.4 2.6h0m64.8 1.8h0m10.7-2.3h0m1.5 2.1h0m0-1.9h0m.8-.3h0m.3 2h0m1.5 .6h0m.3-.7h0m1.8-1.8h0m1.8 1.6h0m.2 0h0m.7 .7h0m-.5 2.2h0m-1-.6h0m-.4 1.8h0m-1.6-1.4h0m-1 0h0m-.7 .9h0m-1.8-1.7h0m-.1-.5h0m-12.9 .5h0m-1.4 1.2h0m-5.1 .9h0m-.1 0h0m-7.6-1.1h0m-54 3.3h0m4.1 .3h0m1.2 .7h0m.5-.5h0m.8-1.9h0m59.7 1.1h0m.5-1h0m1.8 2h0m13.2-2.1h0m2.3 2.2h0m1.5-2.4h0m.1 .7h0m0 .5h0m.8 .6h0m3.4 2.5h0m-2.2 .8h0m-.5-1.5h0m-.3 1.2h0m-.1-1h0m-.5 1.8h0m-.3-2.9h0m-.5 .2h0m-1.8 1.6h0m-1.2-1.1h0m-1.1-.2h0m-2.2 1.1h0m-8 .7h0m-.6 .4h0m-.4-2.6h0m-.5 1.8h0m-1.3 .9h0m-.1-1.1h0m-.3-1.5h0m-1.6 .3h0m-3 2.2h0m-1.6-1.8h0m-.2 2h0m-.1-2.4h0m-.9 2.4h0m-1.6-1.8h0m0 .6h0m-3.9 1h0m-53.9-2.4h0m0-.1h0m-1 2.8h0m1 2.3h0m0-1.9h0m1.4 .4h0m4.2 1.6h0m2.1-2.2h0m44.7 .7h0m3.5 1.9h0m1.9-.5h0m0 .4h0m1.2 .2h0m2-.9h0m4.2-1.2h0m1.8-.5h0m.9 1.7h0m2.3 .4h0m2.1 .1h0m14.2-1h0m1.7 .3h0m.2-.8h0m.4 .6h0m.9 1.3h0m0-1.9h0m.1-.2h0m.8 2h0m.1-1.6h0m1.4 .1h0m1 4.4h0m-1.6-.2h0m-.3-.3h0m-.2-1.8h0m-.6 1h0m-.3 .5h0m-.9 .9h0m-.5 0h0m-1.2-1.1h0m-3.3 .3h0m-14.8-.2h0m-3.3 1.1h0m-3.3-2h0m-2.4-.6h0m-2.1 1.8h0m-2.7-1.2h0m-.7 1.5h0m-1.2-1.7h0m-45.7 .6h0m-1.5-1.1h0m-.9 0h0m-.5 2.6h0m-.7-2.1h0m-.1 .6h0m-1.3 .2h0m-.6-.5h0m-.7 1.6h0m-.6-2.4h0m-1.8 .3h0m-.1 1.1h0m1.2 3.9h0m.3-1.9h0m1-.3h0m1.4 1.7h0m3.9-.4h0m15.1 1.3h0m29.7-2.3h0m1.8 1.8h0m2.1-.5h0m1.5-1.5h0m2.5 .7h0m.2-.7h0m.3 1.4h0m.5-1.2h0m29.4 .3h0m1.5 1.2h0m.3-1.8h0m.5 1.3h0m.1-.8h0m.4 .8h0m1.2 .4h0m1.2 .3h0m.3 .2h0m.7-.8h0m3-.8h0m-.8 4.8h0m-1 0h0m-1.8-2.1h0m0 .4h0m-.2-.5h0m-.9 1.5h0m-.6-1h0m-1.3 1.1h0m-35 .5h0m-.5-2.1h0m-.1-.1h0m-.2 1.3h0m-.1 .8h0m-1.3-.1h0m-.4-.4h0m-.1-1.4h0m-.2 2.3h0m-2.5-2.2h0m-21.4 1.1h0m-2.9-.3h0m-7.8-.4h0m-2.8-1h0m-3.7 0h0m-10.8 1.2h0m22.3 3.2h0m11.2 .1h0m4.6-.4h0m12.1 .4h0m2.1 1.2h0m1.1-1.8h0m.8 1.4h0m37.4-1h0m.3-.1h0m.1-1h0m2.3 1.3h0m.1 .1h0m.4-.9h0m.6 1h0m3.3-.7h0m-.1 2.6h0m-.3 0h0m-.2-.5h0m-1 1.2h0m-.8 .4h0m-.1-1.6h0m-.5 2.6h0m-40-1.9h0m-.2-.3h0m-.6 1.8h0m0-2.3h0m-.1 .6h0m-.8 .9h0m-.7-1.3h0m-.3 2.4h0m-33.1-2.2h0m32.1 2.6h0m.5 2.8h0m.9-.8h0m1.1-.3h0m.5 1.1h0m.1-.5h0m1.7-2.1h0m39.9 0h0m1 0h0m.3 0h0m.8 .1h0m.7 1.7h0m.3-.3h0m.6-.1h0m2.1 2h0m-1.1 1.7h0m-.3 .1h0m-2.9-2.4h0m-.7 2.7h0m-.9-2.2h0m-.8 1.5h0m-40 .2h0m-1.2 .2h0m-.5 .3h0m-.2-.2h0m-.2-.8h0m-.1-.5h0m-.5 .9h0m-.8-.5h0m-1 1.2h0m.4 .2h0m2.4 2.3h0m.6-2h0m.1 2h0m.4-1.3h0m.1 .7h0m.3-.5h0m43.3 0h0m.7 .9h0m.6-.9h0m.1-.3h0m1.6-1h0m.1 2.8h0m.4-.8h0m.1 .9h0m.7-1.6h0m2.4 3.4h0m-.6 .1h0m-.4-.2h0m-.3-.6h0m-.6 1.1h0m-.2-1.4h0m-.9 1.8h0m-.2-1.1h0m-.5-.9h0m-.4 1.7h0m0-1.3h0m-43.6 .4h0m-.5 .5h0m-.1 .1h0m0-.2h0m-.1-.1h0m-.1 .4h0m-.3-1h0m-.4 .1h0m0 0h0m-.8-.7h0m-.5 0h0m0 1.8h0m-.2 .3h0m-.4-2.1h0m-.3 1.4h0m0 .8h0m-.1-1.2h0m-.1-.2h0m0 1.1h0m-.1-2.3h0m-.6 1.6h0m-.2-1h0m0 2.3h0m-.3-.4h0m-.5-2.2h0m.4 3.8h0m.2-.8h0m.1-.1h0m.2 .7h0m.6 1h0m.2-1.7h0m0 1.5h0m.2 .4h0m.4-2h0m.2 0h0m.1 .4h0m.2 1.8h0m.3-.5h0m.1-1.3h0m.4 1.2h0m.2 0h0m.1-1h0m.3-.4h0m.2 1.2h0m.1 .2h0m.4-1.7h0m1 2.3h0m44.3-1.7h0m1.4 .2h0m.1 .4h0m.9 .4h0m.2 .3h0m3.2-.3h0m1.6 1.2h0m1.1-.2h0m4.6-.6h0m.3 .4h0m.5-1.1h0m.2-.1h0m1.7-.1h0m.5 1h0m.1 .3h0m.4-2.2h0m.1 .9h0m.4 0h0m2.8 3.7h0m-.5-1.2h0m-1.3 1.2h0m-.3-.8h0m-.3-.5h0m-.1 1.2h0m-1-1.6h0m-.1 .5h0m-.4 1.1h0m-.1 .1h0m-.2-.1h0m-.6-.4h0m-.1 .1h0m-.2 .9h0m-.7-2.1h0m0 1.5h0m-.4-1.4h0m-.1 2.6h0m-.3-.9h0m-.7-.4h0m0-1.2h0m0 .8h0m0 0h0m-.8 1.2h0m-.3-1.1h0m-.3 1.1h0m-1.9-1.9h0m-1.3 1.1h0m-5.9 .3h0m-.8 1h0m-48.6-2.9h0m0 .5h0m47.7 4h0m.6-.6h0m.7 1.2h0m.1-.5h0m0-1.5h0m.1 2.5h0m.3-2.6h0m.1 2.2h0m.2 .1h0m.1-.3h0m.4-.6h0m.1-.3h0m.1 .6h0m0-.8h0m.7 1h0m.2-1.1h0m.7 2.1h0m6.1-1.9h0m.1 .6h0m.7 .4h0m.3-.4h0m1.1 .8h0m0-1.9h0m.4 0h0m.9 1.7h0m0-1h0m.1-.1h0m.8-.3h0m.9-.1h0m.8-.2h0m.6-.5h0m.5 .7h0m.1 .6h0m.6 0h0m.2 .2h0m.1 .7h0m.2 .7h0m.1-.4h0m.3-.4h0m0 .3h0m.2-2.4h0m0 .5h0m.1 0h0m.3 .6h0m-.1 2.8h0m-1.3 1.6h0m-.5-2.5h0m-.3 2.7h0m-.2-2.1h0m0 1.2h0m-.2-1.7h0m-.1-.1h0m-.5 2.9h0m0-2.7h0m-.8 1.7h0m-.1 .7h0m-.1-2.2h0m-.4 1.5h0m-.5-1.9h0m0 1.9h0m-.1 .5h0m-.6-2.2h0m-.1 .4h0m0 1.8h0m-.4-1.3h0m-.1-.1h0m-.1 1.2h0m-.1-.8h0m-.1 1.5h0m0-1.9h0m-.4 1.4h0m-9.4-2h0m-.3 2.3h0m-.1-2.6h0m-1.1 1.6h0m-.6-.4h0m-.6 .1h0m-.2 1.1h0m-.5-1.8h0m-.4 .8h0m2.2 2.8h0m.1-.2h0m10.6-1h0m.4 .6h0m.7-.3h0m.7 1.4h0m.3 .6h0m.2-.1h0m.1-.6h0m1.1 .5h0m.2 .3h0m.3-.2h0m.3-2.3h0m.4 .9h0m.3-.1h0" stroke="#A457B8" stroke-width="1.4" stroke-linecap="round"/>
<path d="M371.2 1041.9h0m-2.6 2.5h0m.6 2.4h0m65 .4h0m-.8 1.7h0m-1.7 .1h0m-4.5 .9h0m-61.1 1.5h0m1.2 1.5h0m1.2-1.3h0m1.1 1.2h0m.5-.4h0m1.2-.2h0m47.2-.6h0m11 .8h0m1.4-1.8h0m.8 1.6h0m2.3 .5h0m8.2 3h0m-.5-1.2h0m-5.2 1.2h0m-3.1-2.5h0m-3.7 .2h0m-2.9 .7h0m-1.2 .4h0m-1.6-1.5h0m0 1.5h0m-5.1 1.2h0m-.2-2.7h0m-.2 1.6h0m-.6-1.6h0m-44.5 1.8h0m-.1 .3h0m0-.7h0m-.3-.9h0m-.4 1.3h0m-.3-1.8h0m-.3 1.7h0m-1.7-1.2h0m-.2 1.9h0m-.4 .3h0m-.4-.4h0m-.2-1.8h0m-.3 1.7h0m-.4-.8h0m0 .7h0m0 .6h0m0-.5h0m-.9 .4h0m-.7-1h0m-.1-.5h0m-.6 .1h0m-.8 1.1h0m-.3-.8h0m.1 1.7h0m.4 0h0m.2 2.1h0m.3-1.6h0m.1 .6h0m.1 .2h0m.4-.8h0m.5-.4h0m.6 1.6h0m.1-1.7h0m.6 1.8h0m.1 .1h0m.2 .5h0m.5-1.4h0m.2 1.4h0m0 0h0m.2-1.4h0m.1 .3h0m0-.6h0m.4 1.3h0m.1-.8h0m.5-1.4h0m.4 .4h0m.4 .7h0m.6-.5h0m.1-.2h0m.3 1.6h0m1.3 .4h0m.4-1.3h0m45.7 .1h0m1.5-.4h0m.1 1.9h0m2.2-.4h0m1 .6h0m4.9-2.2h0m.4 .5h0m3.5 1.5h0m.4-2.3h0m1.3-.4h0m1.5 1h0m3.1-.1h0m5.4-.9h0m-8.9 3.7h0m-.1-.7h0m-1.3 .3h0m-1.1 2.6h0m-2.9-2.4h0m-.3 1.5h0m-1.1-.9h0m-1 .9h0m-.5-1h0m-1.6 1.3h0m-.2 .5h0m-2.5-2.6h0m-2.2 1.6h0m-1.1 1.1h0m-45.1-1.2h0m-.2-.6h0m-.7 .6h0m-.2 1.1h0m-.4-2.5h0m-.1 1.6h0m0 .5h0m0 0h0m-.2-1.4h0m-.1 1.7h0m-1.1-1.7h0m-.1 1.3h0m-.4-1.1h0m0 .6h0m0-1.3h0m-.2 2.4h0m-.8-1.8h0m-1 1.3h0m-.8-.3h0m-.2-1.7h0m-.1 .8h0m0-1.2h0m0 1h0m-.1-.1h0m-.2 .5h0m-.3 1.3h0m-.4 .2h0m0-.7h0m0-.3h0m-.2-.3h0m0-1.6h0m-.1 .6h0m-.2 2.3h0m-1-.2h0m-.2-2.1h0m-.1 1.5h0m-.5-1.2h0m-.4-.7h0m0 1.4h0m-.2 .8h0m-.5 0h0m-.3-.3h0m-.5-1.2h0m.1 2.3h0m2.3 1.7h0m.1-1.9h0m0 1.3h0m0-1.3h0m1 1.4h0m0 .6h0m.1 .1h0m.1 .5h0m.3-.6h0m.1 .6h0m.3-.7h0m0 .6h0m.3-1.1h0m0-.6h0m.1 1.5h0m.2-2.3h0m.4 1.3h0m0 .8h0m.3-.3h0m.1 .1h0m0-.4h0m.3-1.5h0m.1 .9h0m.3 .5h0m0-.1h0m.6-1.2h0m.1 2.8h0m.1 0h0m1-.1h0m1.6-1.3h0m.1-.1h0m.2 1.4h0m.2-2.7h0m3.2 2.7h0m.4-2.1h0m1.2 1.7h0m.8-.4h0m.1-.1h0m.8 .4h0m.4-.4h0m2.9 .3h0m2.6 .7h0m6.4-.4h0m26.8-.9h0m1-.6h0m.4-.2h0m.9 0h0m.4-.1h0m1.3 1.9h0m0-1.3h0m.2-.2h0m.1 1.6h0m.2-.7h0m.1 .2h0m.5-.2h0m.7 0h0m0-.2h0m1.8-.5h0m.9-1.3h0m.5 .1h0m.6 .6h0m-7.8 4.6h0m0-1.4h0m-.2 1h0m-.2 .4h0m-2.2-1.1h0m-.9 .8h0m-1.8 .4h0m-.1-.5h0m-1.9-.2h0m-1 1.2h0m-2.4-1.6h0m-.6 .9h0m-3.4 .2h0m-.2-.8h0m-1.3 .6h0m-2.1 0h0m-1-1.4h0m-1.1 .7h0m0-.3h0m-1.5 .1h0m-1.4-.2h0m-.5-.1h0m0 .4h0m-1.5-.2h0m-1.9 .2h0m-.3-1h0m-1.3 .5h0m-.2 1.4h0m-.1 .6h0m-1.1-.9h0m-.1-1.2h0m-1.5 2h0m-.4-1h0m-.4-1h0m-.6-.8h0m0 1.3h0m-.6-.4h0m-.3 1.8h0m-3.6-.8h0m-.5-1.1h0m0-.6h0m-.3 0h0m-1.7 1.8h0m-5.2 .1h0m-3.8-2.1h0m-2 .1h0m-.7 1.1h0m-.5-.5h0m-.9-.7h0m-.1 .5h0m-.8 0h0m14.9 2.6h0m2 .3h0m2 1.8h0m1-1.9h0m4.9-.3h0m3 .1h0m1.5 1.1h0m2 0h0m1.8-.2h0m1 1.7h0m3.4-2.5h0m.1 .6h0m3.5-.7h0m.7 .4h0m.5 .7h0m1-.7h0m.4 .6h0m2-.2h0m3.3-.3h0m.8 .3h0m.5 1.7h0m3.3-1.2h0m1-1h0m2.5 5.3h0m-18.3-1.3h0m-3.8 .3h0m21.8 7h0m.2 2.5h0m3.2 3.2h0m-1.3-1.4h0m-.6 1.1h0m-.9 .4h0" stroke="#4DAF4A" stroke-width="1.4" stroke-linecap="round"/>
<path d="M466.5 1001.7h0m-2.2-.4h0m-2.3 3.1h0m0-.3h0m.2-1.7h0m.5 .9h0m.3 1.6h0m0-1.6h0m.1-1.3h0m.5 .3h0m.7 1.3h0m.1-1h0m0 1.6h0m0-1.8h0m.8-.4h0m.1 1.9h0m.2-1.5h0m.4 1.6h0m0-.5h0m.1-1.5h0m.2 .4h0m.5 2.4h0m.3-1.3h0m0-1.1h0m.6 2.3h0m0-2.7h0m.1 2.9h0m.1-2h0m.3 1.6h0m.2 .4h0m.3-.2h0m1.2 0h0m.8 .4h0m-.3 1.5h0m-.6 .6h0m-.2-.3h0m-.1-.4h0m-.9 1.3h0m-.5-.6h0m-.1-1.6h0m-.1 .9h0m-.5-.5h0m-.3 1.1h0m0-1.9h0m0 1.9h0m-.1 .3h0m-.1 .4h0m-.1-2.8h0m-.7 .4h0m-.4 .9h0m-.3-.4h0m0 1.1h0m-.2 .1h0m-.3 .7h0m-.2-2.3h0m0 1.9h0m-.5-1.3h0m-.1 1.1h0m-.3-.9h0m0 0h0m-.4 .1h0m-.3 .1h0m-.6-.6h0m-1.2 .8h0m-.7 .9h0m-.1-2.5h0m-.2 2.1h0m-.1 1.8h0m.4 1.5h0m.8 0h0m0-.5h0m.1-1.3h0m.3 1.6h0m.3 0h0m.4-2.1h0m.6 2.6h0m0-2h0m.3 2.1h0m.4-1.3h0m.1 .2h0m0 1h0m.5-1.3h0m.4-.6h0m.2 .8h0m.6-1h0m.1 .3h0m.5 .7h0m.3-.7h0m.1 1.3h0m.7-.8h0m.1-.6h0m.1-.7h0m.3 2.7h0m1.3-2h0m.6-.5h0m.7 .6h0m-.9 3.1h0m-1-.2h0m0-.4h0m-.4 .8h0m-1.2-.3h0m-.1 .1h0m-.3 1.6h0m-.1-1.9h0m-.8 .4h0m-.3-.5h0m-.1 1.1h0m-.1-.9h0m-.4 .7h0m-.6-.3h0m-.3 .5h0m0-1.3h0m-1.2 1.9h0m-.1-2.2h0m-.3 0h0m-1.4 2.7h0m-.8 1.5h0m1.3 .3h0m3.3 1.2h0m.1-2.6h0m4.1-.3h0m-6.7 4.8h0m-.3 1.1h0m-.8-2.7h0m-.2 1.8h0m-.4-.3h0m-.1-.1h0m-.2 .9h0m-.1-1.8h0m-2.1 .4h0m1 3.8h0m.6-.9h0m7 4.6h0m-.6 .2h0m-1.1-1h0m-1 1h0m-.2-.2h0m-4.7-2.1h0m-.2 1.1h0m-.9-.7h0m-.2 1.2h0m-.1-.5h0m.1 1.5h0m4 .9h0m.4-.9h0m.5 2.3h0m0-1.8h0m.8 .5h0m.2 1.1h0m.8-.9h0m.3 .4h0m1.7-1.6h0m.4 .1h0m.3 2.4h0m.4-.5h0m.1-.3h0m.1-.9h0m.3-.1h0m.1 .9h0m.5 .9h0m.1-.9h0m.1 1.3h0m-.3 .8h0m-.1 .1h0m-.4-.7h0m-1.4 1h0m-.2-.2h0m-.5-1h0m-.4 .6h0m-2.1-.1h0m-.1 .5h0m-.4-.7h0m-.1 0h0m-4.5 .9h0m-1.2 1h0m-.3 .1h0m-.4-1.7h0m-.5 2.2h0m-.4-.6h0m-12.5 3.6h0m13.6-2.4h0m.2 1.4h0m.8 1.1h0m-.7 .6h0m-.2 .8h0m-.8 .6h0m-.7-.6h0m-10.1 .9h0m0-2.2h0m-.9 1.1h0m-1.3-.5h0m-1.6 4.5h0m1.8-.9h0m1.3 .7h0m.4-.7h0m.3-.7h0m1.1-.1h0m2.2 .7h0m3.7 .3h0m1.2 1.3h0m1.8-1.9h0m.1 .1h0m.1-.2h0m.1 .3h0m2.6 .6h0m-2.5 2.7h0m-1.3-.8h0m-6.9 1.3h0m-.7-1.7h0m-1.4 2h0m-.1 .7h0m-.4-2.3h0m-.3 1.9h0m0-.8h0m-.6-.1h0m-73.7-1.3h0m73.3 4.5h0m2.1 .1h0m1.6-.2h0m.4 1h0m.7-1.2h0m3.9 .5h0m0-1.9h0m.5 .8h0m0 2.1h0m.2-1.6h0m1.1 .2h0m.2 3.3h0m-1.2-.2h0m-.4-.7h0m-.2 1.7h0m-.3-.2h0m-.3 .3h0m-1.8-1.3h0m-1.4-.3h0m-.5-.1h0m-.4-.6h0m-.6 2.4h0m-1.6-2.3h0m-15.4 1.9h0m-2.2-.1h0m-55-.9h0m-1.4-1.1h0m-1.6 5h0m.3-1.6h0m1.3-.2h0m47.3 .7h0m8 1.3h0m2.8-1h0m1.8 0h0m1.8 .1h0m2.3-.4h0m1.2-.3h0m.5 .4h0m.1 .6h0m8.3 .8h0m2-2.5h0m1.5-.1h0m1.9 .2h0m.1-.2h0m.4 1.1h0m.3-.6h0m.6 1.2h0m.8 .8h0m1.3 0h0m.5-.9h0m.8 3.1h0m-.9 .3h0m-1.2-1.8h0m-.8 2.5h0m-.3-2h0m-1.9-.6h0m0 .1h0m0-.1h0m-.7 1.1h0m-.5-1.3h0m-1.7 2.8h0m-2.6-2.8h0m0 1.4h0m-2.7 1.3h0m-.4-.2h0m-4-.1h0m-1.3-.5h0m-1.5 0h0m-1.5-1.2h0m-.6 1h0m-1.3-1.6h0m-.5 .8h0m-1.4-.9h0m-1 2.4h0m-.2 .5h0m-2-.6h0m-2.6 .3h0m-51.8-.1h0m-.6-1.9h0m-1.4 1.2h0m-2.7 1.1h0m-2-1.1h0m2.7 1.3h0m1.1 2h0m1.3-1.6h0m2.2 .8h0m1.3-.1h0m47.9 1.3h0m.3 .2h0m2.8-.3h0m.6-.4h0m1 .9h0m1.7-.8h0m2.8-.6h0m1.2 .2h0m.4 .8h0m1.8-.9h0m.2-.3h0m.3-1h0m0 1.4h0m1.6-1.7h0m3.3 2.8h0m13.4-1.9h0m1.4 .9h0m.1-1.7h0m.7 .8h0m3.2 2h0m4.4 1.6h0m-4.8-1.2h0m-.1 .7h0m-.1-.3h0m-1.1 2.2h0m-.7-.8h0m-.5-1.5h0m-.6 1h0m-1-.5h0m-21.9-1.1h0m-.9 1.7h0m0 .5h0m-1.5-1.2h0m-1.7 0h0m-.4-.1h0m-3.1 1.1h0m-.8 .2h0m-.2-.3h0m-3.8-.7h0m-.3-.5h0m-.9 .4h0m-.1 .3h0m-43.2 .3h0m-7.1-1.2h0m-.4 2.4h0m-.8-2.4h0m-.9 5h0m.8 .3h0m2.8-.9h0m11-.6h0m5.4 1.3h0m31.6-2.2h0m2.1 2.1h0m.4-2.2h0m.7-.1h0m3.4 1.1h0m2.6-1.3h0m.6 1.6h0m.7-.5h0m.3 .8h0m1.2-.7h0m.1 .3h0m.6-.4h0m26.1 1.3h0m.6 .2h0m.7-1.1h0m.4 .2h0m.4-1.6h0m1.3 2h0m.3-.1h0m2.6 1.3h0m-2.2 2.1h0m-.1-1.5h0m-3.3 1.6h0m-.2-.9h0m-32.5 .4h0m-.6-.1h0m-.9 0h0m-.9 .3h0m-.7-2.2h0m-1.7 .6h0m-.1-.4h0m-34 .8h0m-8.7 .8h0m-6.9-.4h0m40.1 2h0m12.2 1.7h0m0-.5h0m.1 1.2h0m.4-1.6h0m0 .3h0m.5-.5h0m.2 1.7h0m37.5-2h0m1.8 2.1h0m.3-2h0m.4 .6h0m0 1.1h0m.8-2.4h0m5 4.1h0m-1.4-.5h0m-.5-.3h0m-.2 2.2h0m-1.3 .1h0m-1.2-.4h0m-2.2-1.1h0m-1 1h0m-37.7-1.8h0m-1.1 1.5h0m-.1-.6h0m-.3-.9h0m-.1 2h0m-.7-.3h0m-.3-.3h0m-10.4 .6h0m11.3 2.7h0m.6-1.1h0m.4 .8h0m.2 1.1h0m.6-1.5h0m0-.3h0m.1-1h0m.1 2.3h0m.4-1.8h0m39.2 1.3h0m1.4-1.3h0m.2 1.8h0m1.5 .4h0m.3-.4h0m.3-2h0m1.2 1.8h0m.1-.2h0m3.5 3h0m0-.5h0m0 .2h0m-1.5-.3h0m-.1 1.4h0m-1.8-.8h0m-.2-.7h0m-2.1 .9h0m-41.9 .5h0m-2-2.6h0m-1 1.3h0m-.6 3.2h0m.7-1.1h0m.5 2h0m1.5-.8h0m.4 0h0m.4-.9h0m44.3 .2h0m1 1.7h0m.6-.2h0m.5-.8h0m.4 .3h0m1.6-1.3h0m1.6 1.9h0m13.2 3.3h0m-12-.9h0m-.5-1h0m-.6-1h0m-1.2 1.4h0m-.7 .4h0m0 .5h0m-.3-1.6h0m-2.1-.2h0m-43.2 2h0m-.3-2.5h0m-1.6 .7h0m-.1 .8h0m-.7 .6h0m0-1.7h0m-.4 .7h0m-.1 .9h0m-.1-.5h0m0-.5h0m-.1 1.3h0m0-2.2h0m-.2 1.5h0m-.1 .7h0m0-.7h0m-.4 .2h0m-.2-.6h0m-.5-.4h0m-.4 1.8h0m.5 1h0m.4-.5h0m.2 1.9h0m.5-.9h0m.1-.2h0m.4 1.7h0m.1-.5h0m0-1.8h0m.5 .4h0m.1 2.2h0m.3-1.6h0m.1 .7h0m.2-.2h0m0-1h0m0 .7h0m.1-1.4h0m.1 .6h0m0 1.8h0m0-1.2h0m.1 .3h0m.1-.6h0m0-.3h0m46.3 .1h0m.3-.2h0m.1 1.4h0m.1 .3h0m.2-1.8h0m.1-.1h0m.3 2.3h0m.1-1.1h0m.7-.2h0m.2 .9h0m.4-.6h0m2.2-1.5h0m1-.2h0m1.7 2h0m1.8-.5h0m4.7 .3h0m.2-.6h0m.3 .5h0m.2 .3h0m.5 .6h0m.7-.9h0m.1-.9h0m.2 .7h0m.3-.4h0m1 1.7h0m.6-1.1h0m1.7 4h0m-.3 .2h0m-.4-2.6h0m-.9 .3h0m-.1 .1h0m-.1 1.3h0m-.1-.3h0m-.5-.4h0m-.4-.2h0m0 1.5h0m-.4 .2h0m-.1-2h0m-.2 .1h0m0 .8h0m0-1.7h0m-.1 1.7h0m-.2 .8h0m-.2-1.6h0m-.3-.6h0m-.1 .5h0m-.5-.5h0m-.2 1h0m0 1.4h0m-.1-2.3h0m-.1-.4h0m-.2 1.7h0m-.2-1.6h0m-.3 2.5h0m-.1 0h0m-.1-.1h0m-.2-2h0m-.3 1.1h0m-.3 .4h0m-.2-1.3h0m-.3-.3h0m0 .6h0m-.2-.2h0m-.2 1.3h0m-2.2-1.3h0m-1.3-.6h0m-.5 .4h0m-.2-.6h0m-.2 .5h0m-4.3 1.9h0m-.2 0h0m-1.2-.3h0m-.2-.2h0m-.4 .5h0m-.8 .5h0m-.2 1.7h0m.4 .4h0m.2-.7h0m.2-1.3h0m.7 .5h0m.1 1.6h0m.5-1h0m1.3 1.4h0m.3-1.8h0m6.6 .2h0m.9-.4h0m.6 1.5h0m.6-.4h0m.7-1.5h0m.2 1.2h0m0-1h0m.2 1.2h0m.2-.6h0m.2 .3h0m.2-.2h0m.1-.1h0m.7 1.2h0m0-.7h0m.4-.8h0m.1-.2h0m.4 2.5h0m.3-1.6h0m.5 1h0m.2-1.1h0m0 .5h0m.1 .4h0m.3-.4h0m.2 .5h0m.8-1.9h0m.1 1.9h0m.3 0h0m.1 .2h0m.2-.6h0m.5-.3h0m.5 .2h0m-.1 1.3h0m-.4 .5h0m-.3 1.3h0m-.5-1.2h0m-.7 1.9h0m-.1-1.4h0m-.6-.8h0m-.2 1.1h0m0 .5h0m-1.5 .4h0m-.3-1.1h0m0 1.5h0m-.3-.1h0m0 .3h0m-.2-2.5h0m-.9 0h0m-.1 .2h0m0 1.5h0m-.3 .4h0m-.5-.8h0m-.1 .5h0m-.2 0h0m-.3-.2h0m-.9-.6h0m-.1 .1h0m-7-.2h0m-.7 .5h0m-.3 .2h0m-.5-.3h0m-.8-.6h0m-.1-1.1h0m-.5 1.2h0m-.4 .9h0m-.2-2h0m-.2 1.5h0m-.8-.2h0m1.2 2.7h0m.3 .7h0m1.6-.7h0m.1-1h0m9.4 .2h0m.7 .1h0m.6 .1h0m.1-.5h0m1.2 .8h0m1.2-.5h0m.5-.2h0m.4 1.1h0m.1-1h0m0 .6h0m.1-.5h0m.6 .4h0m.6-.4h0" stroke="#A457B8" stroke-width="1.4" stroke-linecap="round"/>
<path d="M373.5 1062.3Q396.8 1067 421.9 1066.1Q434.5 1056 450.7 1052.4L464.9 1007.5M450.7 1052.4L471.8 1082L485.2 1092M471.8 1082L473.7 1089.5M421.9 1066.1L423.4 1069.5" fill="none" stroke="#222" stroke-width=".8"/>
<path d="M355.4 994.8V1105.3H498.8" fill="none" stroke="#444" stroke-width=".8"/>
<text x="352.4" y="1026.8" text-anchor="end" class="th">5</text>
<text x="352.4" y="1062.1" text-anchor="end" class="th">0</text>
<text x="352.4" y="1097.4" text-anchor="end" class="th">-5</text>
<text x="389.1" y="1118" text-anchor="middle" class="th">-10</text>
<text x="440.8" y="1118" text-anchor="middle" class="th">0</text>
<text x="492.6" y="1118" text-anchor="middle" class="th">10</text>
<path d="M353.2 1023.6H355.4M353.2 1059H355.4M353.2 1094.3H355.4M389.1 1105.3V1107.5M440.8 1105.3V1107.5M492.6 1105.3V1107.5" stroke="#444" stroke-width=".8"/>
<text x="438.7" y="1126" text-anchor="middle" class="th">Component 1</text>
<text transform="translate(344.8 1061.8) rotate(-90)" text-anchor="middle" class="th">Component 2</text>
<text x="420.6" y="984.6" text-anchor="middle" class="ht">Sample distribution</text>
<path d="M631.2 1004.1h0m.8 .1h0m.5-.7h0m1-.6h0m0 .4h0m.5 .8h0m.8-.6h0m.4 .2h0m.6-1.6h0m0 1.4h0m.3 .9h0m.9 .1h0m1 .3h0m.2-.4h0m1.3 .5h0m0 1.2h0m0 1.8h0m-.7-2.3h0m-1.1 1.7h0m0-1.7h0m-.6 .7h0m-.2 1.1h0m-.2-1.8h0m-.3 1.9h0m0-1.5h0m-.3 .8h0m-.3-.9h0m-.4 1.8h0m-.3-1.5h0m-.8 .2h0m-.2 .7h0m-.5-.7h0m-.5-1.2h0m-.1 2.6h0m-.1 .1h0m-.3-1.4h0m-.6 .9h0m-.6-.6h0m-.2-.6h0m-.8 1.2h0m-.1-.2h0m-.4-1.9h0m-.5 .7h0m.1 2.5h0m1.9 .6h0m.3 0h0m.3 .6h0m.2-.6h0m.1 .2h0m1 1.1h0m.1-1.3h0m.1 .3h0m.1-1.1h0m.2 1.5h0m.3-1.8h0m0 0h0m1.3 2.7h0m0-.9h0m.1 .1h0m.5-1.9h0m.4 1.1h0m.2 .6h0m.4-1.6h0m.9 2.3h0m.6 0h0m.6-.3h0m0-2.1h0m.6 2.4h0m-1.1 .6h0m-.2 1.1h0m-.2 1h0m-.1-1.6h0m-.8 2h0m0-.1h0m-.3 .5h0m-.4-.5h0m-.2-1.5h0m0 2h0m-.2-1h0m-.5-.4h0m-.7 .1h0m-.6 1.1h0m-1.3-1.2h0m0-.6h0m-.3-.1h0m-.1 1.9h0m-.4-1.7h0m-1.3 .1h0m-.1 1.1h0m-1-1.2h0m.7 4.2h0m.8-1.3h0m0 1.3h0m.4-2.1h0m.5 .3h0m1.3 .8h0m1.1-1.2h0m0 2.4h0m.4-1.9h0m.7 .3h0m.1 .1h0m.4-.2h0m.4 .6h0m.5-.5h0m.4-.5h0m-7.7 3.8h0m-3.2 .9h0m1.6 2.9h0m0 0h0m.3-.6h0m3.5 0h0m-4.5 4.1h0m-.2-1.1h0m-1 1.2h0m-.2 2.9h0m1.1 .3h0m3.6-1.7h0m.2 .1h0m.3 .4h0m.6-1.4h0m.3 .4h0m.1-.3h0m0 2.6h0m.5-1.6h0m.9 1.2h0m.2-.6h0m.1 1.1h0m.7-2.2h0m.2 1.4h0m.2-1.1h0m.1 1.6h0m.1-.6h0m.1-.8h0m.1 .1h0m0 .1h0m.1 0h0m.4 .7h0m.2 .3h0m.1-2.2h0m.1 1.2h0m.1 .8h0m.2-.5h0m0-1.1h0m.6 .8h0m.1 1.5h0m-.7 1.2h0m-.2-.1h0m-.4-.2h0m-.2-.8h0m-.2 1.4h0m0 .3h0m-.3-1.3h0m0 .5h0m-.3 1h0m-.4-1h0m0 1.3h0m-.5-.7h0m-1.1 .2h0m-.1-.7h0m0 .3h0m-.2 .5h0m-1.2-.6h0m-3.4-.9h0m-1.9 1.3h0m-13.4 3h0m11.2-1.5h0m.3 2.7h0m1.1-2.6h0m-1.7 5h0m-8-.4h0m-1.4 .6h0m-1.3-1.1h0m-1.7 1.4h0m.3 1.1h0m1.7 1.9h0m9.8-2.1h0m.2-.6h0m.8 5.2h0m-9.1-1.3h0m-.5 .4h0m-74.7 .8h0m-.5-1.1h0m-2.7 3.3h0m77.9-.9h0m1.6 2.3h0m3.9-2.3h0m1.3 1.8h0m.1 3.3h0m-.6-1.5h0m-.8 .2h0m-1.6 1.1h0m-.1 0h0m-1.3-2h0m-17.4 5.1h0m17.9-1.4h0m2.4 .4h0m1.6-.8h0m.6 2.3h0m-1.2 .9h0m-.5 1.4h0m-1.4-1h0m-.4-.1h0m-.3 .3h0m-.4-.5h0m-.5 1.8h0m-12-.5h0m-2.1 .6h0m-1.9-.2h0m-6.1-.8h0m-8.2 .8h0m-46.7 .1h0m-1.6-.6h0m-2.5-1.1h0m-.9 .2h0m-1.4 3.4h0m.5-.7h0m1.9-.9h0m1.2 1.6h0m1.1-.7h0m2 1.6h0m55 .4h0m3.9-.5h0m4-1.2h0m2.1 0h0m1-.6h0m.4 .4h0m4.6-.6h0m9.9-.1h0m4 1.8h0m1.5 .3h0m.7 .8h0m-.4 .6h0m-.2 2.1h0m-.1-1.7h0m-1.5-.5h0m-21.9-.5h0m-1.6 2h0m-2.1-.9h0m-1.2 1h0m-1.1-1.7h0m-1.3 1h0m-1.4-1.4h0m-2.8 2.6h0m-5.2-1.8h0m-46.1 1.9h0m-.8-1.2h0m-.5 0h0m-.5-.7h0m-.1 1.2h0m-3.8-1.1h0m-.2 1.1h0m-2 3.1h0m.2-.1h0m.7-1.2h0m2.8-.3h0m.1 2h0m.4 0h0m.8-.5h0m2.5-1.4h0m.8 .4h0m.4 1.5h0m47.6-1h0m5.3-1h0m.6 1.8h0m.2-1h0m1.6-.5h0m2-.2h0m24.7-.1h0m1.3-.2h0m5.1 2.4h0m.8 2.9h0m-.8-1.4h0m-1.1 .5h0m-3.4-1.1h0m-33-.7h0m-.2 2.7h0m-.6-1.5h0m-3.7 0h0m-1 .8h0m-.2 .8h0m-13.3-.9h0m-4.4 .4h0m-1 0h0m-2-.4h0m-3.9 .3h0m-8.5-.4h0m-6.9 .5h0m-1.8-1.7h0m-5.1-.2h0m-1.1 0h0m-1.4 .6h0m-.3-.5h0m-4.3-.6h0m21 3.8h0m6.5 0h0m2.7 .2h0m2.5-1h0m4.3 2.8h0m9.6-2.8h0m9.1 1.1h0m.7-.9h0m.9 1.1h0m1.1 1.1h0m40-1.8h0m.3 .6h0m1.9-.6h0m2 3.1h0m-2.7 .3h0m-40.2-.6h0m-.2 .6h0m-.7-.7h0m-1.2-.3h0m-1 5.1h0m3.4-1.5h0m41.7 .6h0m.5 0h0m.6 .4h0m2.1 1.1h0m.1-2.3h0m.4 2h0m1.2 3.1h0m-2.3-2h0m-44 4.7h0m0-1.6h0m.1-.4h0m.5 1.8h0m41.6-1.9h0m4.9 2.8h0m3.3 1h0m0 1.7h0m-2.3-.9h0m-1.2-.5h0m-.1-.4h0m-45.3 2.1h0m-1.2-2.9h0m-1.1 2.9h0m-1.7-2.7h0m.2 2.9h0m.1 1.4h0m.7-1.4h0m1.2 2.3h0m.2-1h0m47.9 .3h0m.9 0h0m.1 .4h0m8 1h0m-57.9 1.5h0m-.5-1.6h0" stroke="#F07B62" stroke-width="1.4" stroke-linecap="round"/>
<path d="M632.3 1013.2h0m-3.3 8.2h0m-2 6.2h0m2.1-.8h0m-6.9 7.3h0m-8.9 3.3h0m-1.3 .6h0m13.1 2.5h0m-83.8 2.3h0m-4.3 2.7h0m77.2 1.2h0m.4-1.5h0m2.2 1.1h0m2.6-1.3h0m1.9 2.8h0m-.8-.3h0m-3.8 1.4h0m-.7-.1h0m-.9-.4h0m-.7 .6h0m-11.5-.9h0m-.8 .8h0m-.2-.9h0m-5.9 .5h0m-56.6-.3h0m5.5 2h0m55 .9h0m0 .7h0m.3 .1h0m15.4-1.2h0m4.8 .8h0m.3-1.2h0m2.9 2.3h0m.3 3.1h0m-2.1-2.2h0m-.7 1.3h0m-7.4-.9h0m0 .1h0m-.4 1.2h0m-2.9 .7h0m-5.2-.1h0m-1.3-2.6h0m0 .8h0m-1.4 .8h0m-.1-1.3h0m-2.9 1.1h0m-2-.4h0m-2 1.2h0m-2.6-1.1h0m-.3 1.3h0m-4-.6h0m-49.6-1.7h0m-1.6 1.3h0m1 3.7h0m.5-.9h0m1.8 0h0m.7-1h0m.7 .7h0m46.6-.5h0m11.8 2.1h0m.5-.1h0m1.1-1.9h0m.2 .4h0m.5-.9h0m1.5 .4h0m1 0h0m0 .3h0m.5 1.9h0m17.6-1.7h0m.2 .4h0m3.8 2.3h0m-2.2 2h0m-5.9 .1h0m-17-.9h0m-1-1.1h0m0 2h0m-4.6-1h0m-3.3 1h0m-.1-.4h0m-.6-1.9h0m-2.6 2.1h0m-1.2-1.8h0m-1.7 1.4h0m-48.5-.3h0m-3.5 .4h0m-.1 2.9h0m.3-1.3h0m2.6 .2h0m3.9-.9h0m4.4 1.8h0m2.7 .1h0m37.6-1.1h0m.3 1.1h0m2-.4h0m.1-1h0m.1 1.1h0m.5-.8h0m.8 .6h0m.1 1.1h0m.3-1.2h0m2.2 .6h0m1.7-.9h0m.3 .4h0m.3 .3h0m0-.1h0m.6-1.5h0m.7 1.1h0m.7 0h0m.5 .1h0m.2-.6h0m1.4 0h0m25.8-1h0m6.7 4.2h0m-1.2 .2h0m-36-1.2h0m-1.6 2.1h0m-2.5-2.1h0m-.6 2.7h0m-.1-1.1h0m-1.4-1.4h0m-16.7 0h0m-10.7 0h0m-.2 1.4h0m-3.5-.8h0m-.8-.2h0m-.7 1h0m-8.8-1.7h0m-9.1 1.2h0m17.4 2.9h0m10.9-.1h0m2.5 .1h0m.6 1h0m2.3-1.5h0m4.8 1.7h0m.8-1.2h0m3.2-.3h0m.9-.2h0m.7 1.8h0m5.5 .3h0m.4-.5h0m39.9-2.3h0m10.5 5.1h0m-2-.5h0m-3.5 .4h0m-.2 .2h0m-.1-1.8h0m-40.4 .6h0m-.1-.4h0m-.6 1.8h0m-.1 0h0m-.2 .2h0m-.2-1h0m-.8 1.4h0m.7 .3h0m.8 2.3h0m.1 .1h0m.6-.4h0m0 .6h0m.4-2.3h0m42.8 .3h0m.9 .9h0m4.2 2.8h0m-49.6-1.6h0m.6 3.5h0m.8 .8h0m.2 .1h0m1.7 1h0m46.9-.2h0m1.8 3.5h0m-3-1.3h0m-44.5 .8h0m-.7 .3h0m-.1-.8h0m-.6-.1h0m-.5-.3h0m-.9 0h0m-.3 1.3h0m-.3-.1h0m-.3-.8h0m-.5-1.7h0m.4 5.6h0m.1-1.8h0m.3 1.9h0m.3-1.4h0m.1 .4h0m0-.7h0m.3-.9h0m.1 2.3h0m1-2.4h0m.2 1.8h0m51.7-.7h0m.6 1.4h0m.4-1.6h0m1.9 .7h0m8.9 1h0m2.5 2.7h0m-3.4 .4h0m-6-1.2h0m-2.1-.1h0m-1.1-1h0m-54.5 .5h0m-.8 .2h0m-.4-1.1h0m62.8 5.2h0m2.2-.9h0m2.3 .1h0m0-.1h0m-2 2.5h0m-2.6 1.5h0m-.7-2h0m1.9 3h0m2.8 .8h0" stroke="#5AB8B0" stroke-width="1.4" stroke-linecap="round"/>
<path d="M536.7 1052.5h0m.8 .1h0m83.2 2.4h0m-.3-1.3h0m-1.1 .4h0m-77.7 0h0m-.4 1.8h0m0-1.5h0m-.8 1.3h0m0-1.1h0m-.2 1h0m-.6-.7h0m-.4-.5h0m-.1 .9h0m-.4-1h0m-.4 .9h0m-.2 .7h0m0-2.2h0m0-.3h0m-.3-.2h0m-.9 .1h0m-.5 2.1h0m-.3 .5h0m-.3-1.6h0m-.3 1.5h0m-.5-.3h0m-.1-1.1h0m-1.1 1.3h0m-1 3.1h0m.6-1.7h0m.2 .5h0m0 1.1h0m.7-.5h0m.6-2h0m0 1.7h0m.7-1.3h0m.1-.1h0m.1-.1h0m.1 .5h0m1.1 1.1h0m.1-1.3h0m.4 1.9h0m.3-1.4h0m1.1 .6h0m2 .5h0m1.5-.5h0m.1-.1h0m.3 .1h0m79.4-.4h0m1.7 1.1h0m-80.2 3.1h0m-.3-.6h0m-1.8 .2h0m-.9-.2h0m-.2-.1h0m-.5-1.6h0m0 2.2h0m-1-2.4h0m-.2 1.5h0m0 .8h0m0-1.9h0m-.5-.4h0m-.5 2.2h0m-.2-1.8h0m0-.1h0m-.4 1.1h0m-.3-1h0m0 1.7h0m0-1.7h0m0 2.3h0m-.4-.4h0m-.6-.1h0m0-2.3h0m0 2.8h0m-.1 0h0m-.1-1.9h0m-.3 1.7h0m-.2 0h0m-.5-.4h0m-.2-1h0m-.3 .8h0m-.1-2h0m-.5 2.5h0m-.4-2.5h0m-.7 2.7h0m-.4-1.9h0m-.4 0h0m.1 2.5h0m0 .8h0m2.6-.5h0m.9 .2h0m.1 1.5h0m.1-1.5h0m.4 0h0m.5 1.5h0m.2-1.5h0m.1 1.4h0m.4-2.2h0m0 2.2h0m.4 .2h0m.3-2.3h0m.2 .2h0m.1 1.2h0m.9-1.4h0m.3-.1h0m1.1 .2h0m.1 1.8h0m.9 .5h0m.2-.1h0m.1-.1h0m.1-1h0m.4 .2h0m9.8 1.6h0m-.2 .3h0m-6.7-.2h0m-3.5 .1h0m-.1-.1h0m-.6 0h0m-.3 .9h0m-.3-.2h0m-1.5 .1h0m0 .7h0m0-.8h0m-.2-.7h0m-1.3 2h0m-.2-.6h0m0-1.4h0m-.4 .5h0m-.3 1.1h0m-.3-1.4h0m-.9 .3h0m-.2-.3h0m9.1 2.6h0m4.1 0h0m2.1 1h0m14.9-.6h0m5.6-.2h0m11.2 1.3h0m6.7-.7h0m41 1.5h0m.4-.7h0m.8 .2h0m5.8 2.8h0m-50.6 .1h0m-.1-1.2h0m-8.9 .2h0m57.9 2.9h0m2.7 2.1h0m3.7 2.9h0m-3.3-.4h0m4.5 6.1h0m-2.1 .1h0m-.8 .7h0m1.9 2.8h0m.3-1.6h0m.5 1.2h0m.7-1.8h0m11.6 1.5h0m.5 .5h0m.7 .2h0m0-1.2h0m2.6 .8h0m.8 .1h0m1.1 1.9h0m0-.3h0m-1-.4h0m0 .3h0m-.2 1.6h0m-.5-2.6h0m-.1 2.1h0m-.9-2h0m-.2 2.4h0m-.1 .3h0m-.3-2.9h0m-.2 2.6h0m-.5-2.2h0m-.7 .5h0m-1.5-.6h0m-.5 1.3h0m-.4 .1h0m-11.1 1h0m-.7-1.6h0m-.6 4.2h0m.4 .2h0m.6-.3h0m1.1-1.3h0m.4 1.1h0m0 .4h0m0 .5h0m.6-.3h0m0-.8h0m.5 .3h0m.2-.3h0m.3-.1h0m7.1-1.4h0m.7 .7h0m.2 .8h0m.1-1.8h0m.5 1.3h0m1.1-.1h0m.2 1.2h0m0-1.9h0m.1 .1h0m.5 1.4h0m.1-1.7h0m.5 .8h0m.2 1.2h0m.3-.2h0m.4-1.7h0m.4-.2h0m.1 .6h0m.2 1.4h0m.6-.1h0m1.4-.7h0m.1 0h0m.8-.8h0m.1 2.3h0m.1-2h0m.1 .5h0m.6 1h0m-.3 1.5h0m-.2-.5h0m-.4-.4h0m-.3 .8h0m-.7 2.1h0m-1-1.1h0m-.2 1h0m-.3-2.5h0m-.1 1.7h0m0-1.8h0m-1.1 2.1h0m-.8-1h0m0 1.5h0m-.4-1.6h0m-.4-1.1h0m-.1 .9h0m-.1 .5h0m-1.6 .8h0m-.1-2.2h0m-.4 2.2h0m-7.4-1.5h0m-.6 1.9h0m-.3-2.1h0m-.1 .7h0m-.8-.7h0m-.8 2h0m-.1-1h0m-.1-1.2h0m0 .7h0m-.9 1.2h0m-.4 .6h0m-.5-1.9h0m-.3 1.4h0m1.1 1.1h0m.2-.4h0m1 2.1h0m0-.2h0m.5-.9h0m.7 .9h0m.8-1.8h0m8.8 .8h0m.4-.8h0m.7 1.2h0m.7 1.3h0m.1-.7h0m.6-1.5h0m0 .3h0m.1 .9h0m1.4-.6h0m0 .1h0m.3 1.3h0m0-1.2h0m.9-.7h0m.3-.2h0m.3 1.3h0m.4-.5h0m-3.9 2h0" stroke="#8E9896" stroke-width="1.4" stroke-linecap="round"/>
<path d="M592.1 1052.3h0m.6-.2h0m5.3 .3h0m2.5-.9h0m-2.2 3.4h0m-3.6-1.7h0m-7.2 3.4h0m2.5 .6h0m7.4-.9h0m4.5 2.2h0m3.1-2.3h0m-5.7 5.7h0m-.1-2.9h0m-2.3 1.3h0m-6.4-.9h0m-3.2 1.6h0m.1 2.3h0m2.2-1.1h0m7.1 .7h0m1.8 1.2h0m-6.3 1.4h0m-.9 1.9h0m-25.3-1.3h0m-2.3-.5h0m-5 .5h0m-5.3 .2h0m-2-.2h0m-4.9-.4h0m-1.9 0h0m2.2 4.4h0m20.8-2.1h0m3.5 .1h0m9.6 .8h0m3.2 .5h0m4.6-.8h0m4.1-.1h0m-.6 2.7h0m-29.6 .8h0m-8.1-.9h0m35.4 3.9h0m3.3 2.7h0m-2.2 2.4h0m.6 2.8h0m.1-2.9h0m.4 .7h0m3.8 4.1h0m-.2-.9h0m-.7 1.5h0m-.4-2h0m-.1 .8h0m-.3 .4h0m-.2 .8h0m-.2-.4h0m-.5 .4h0m-.2-1.1h0m-.2-.8h0m-.8-.2h0m-.1 2h0m-1.1 1.8h0m1 0h0m.2-.6h0m.5-.2h0m1.7 .8h0m0 1.3h0m.4-.8h0m1.2-.8h0m-3.1 2.6h0" stroke="#B07CC8" stroke-width="1.4" stroke-linecap="round"/>
<path d="M633.4 1003.5h0m3.9 .3h0m-.2 2.3h0m-.5 1.4h0m-3.5-.5h0m-.4 .2h0m-1-.1h0m-.6 .1h0m-.1-2.2h0m-2.3 5h0m1.7-.4h0m.2-.1h0m2.4-1.4h0m.5 2.3h0m3.4-1.3h0m1.4 1.5h0m1 1.5h0m-.8 .9h0m-1.3-1.9h0m-.8 1.5h0m-1.9 .5h0m-.1-1.1h0m-.5-.7h0m-1.6 1.8h0m-2.1-2h0m-.7 .3h0m6.8 4.2h0m-7.7 2.9h0m-1.3 6.1h0m-.6 .6h0m.3 5.9h0m-.8 .3h0m-1.6 2.8h0m.5 .7h0m.4-.1h0m2.1-1.8h0m-4.1 3.7h0m.4 3.1h0m-1 2.2h0m-2.3 6.2h0" stroke="#E8935A" stroke-width="1.4" stroke-linecap="round"/>
<path d="M630.4 1004.6h0m1.8 .2h0m.3-2.6h0m.8 0h0m.1 2.3h0m0-2.1h0m0 1.8h0m.4-1h0m.3-.4h0m.2-.2h0m.1 2.2h0m.1-1.5h0m.4 1.1h0m.1-1.5h0m.4-.4h0m.5 1.5h0m.6-.2h0m.8-1h0m0 1.1h0m.2-.2h0m2.1 2.3h0m-.6 .4h0m-.2 .6h0m-.1-1.4h0m-.1 1h0m-.2 .8h0m-.5 .5h0m-.6-.6h0m0-1.5h0m-.1-.4h0m-.3 .6h0m0 .5h0m-.1-.7h0m-.1-.2h0m-.1 .4h0m0-.5h0m-.5-.3h0m-.2 2.3h0m-.3-1.8h0m-.4 1.5h0m-.7-.8h0m-.2 .4h0m-.5-.1h0m-.3-.4h0m-.1-1.2h0m-.2 .9h0m-.3-.7h0m-.7 .2h0m-.2 .9h0m0 1.4h0m-.1-.3h0m-.2-.5h0m-.8-1.7h0m-.1 .9h0m-1.1 .1h0m-.4 3.9h0m.8-1.5h0m.2 0h0m1.5 1.2h0m.4-.9h0m.3-1h0m.6 1.8h0m.2 .8h0m.5-2.6h0m.1 2.6h0m.1-1.6h0m.5 .6h0m1 1.3h0m.3-2.2h0m.5-.6h0m.3 2.3h0m0-1.3h0m.6-1.1h0m.2 1.5h0m.3-.6h0m.7 .4h0m.7 .6h0m.3 0h0m.1-1.9h0m.6 .1h0m-.2 3.1h0m-.8 .2h0m-.2-.4h0m-.5 0h0m0 .2h0m-1 1.6h0m-.2-1.7h0m-.4 .5h0m-.1 .6h0m-.1 .6h0m-.1 .7h0m-.6-.7h0m-1.7-.2h0m-.1 .2h0m-.6-.2h0m-.2-1.5h0m-.2 0h0m-.7 2.1h0m-.2-1h0m-1.5-.3h0m-.4-.5h0m-.8 5.3h0m.9-.9h0m.7-1.2h0m.2 1.4h0m.2-1.7h0m.1 2.6h0m.7-2h0m.1 .3h0m0-.9h0m2.1 0h0m1.8 0h0m.6-.1h0m.8 1.3h0m-7.5 2.6h0m-1 1.5h0m-.4-.9h0m0-.1h0m-.8-.4h0m.4 3h0m.9-.3h0m4.4 4.8h0m-5.1-.5h0m0-.8h0m-2 .4h0m-.5 2.8h0m.4-.6h0m.7-.3h0m.1 1.8h0m3.4-1.6h0m.6-.2h0m.1 1.1h0m.8 .2h0m.2-1.2h0m.1-.3h0m.6 2h0m.2-1.5h0m1.8 .6h0m.9 .8h0m.5 .3h0m.2-2h0m.1 1.3h0m.8 .9h0m.1-.8h0m.6 .6h0m-.9 .8h0m-.1 .1h0m-1-.6h0m0 .8h0m-.4 .7h0m-.5 .6h0m-.1-.2h0m-.5-.9h0m-.2-1h0m-.3 1.1h0m0 .2h0m-1-.1h0m-.3-.3h0m-.6-.8h0m-.8 1.1h0m-.2-.9h0m-.6-.2h0m-.7 .4h0m-1.3 1.3h0m-3.7 1.3h0m.1 4.3h0m-1.1 .6h0m-.7 .3h0m-9.7-1.4h0m-.2 1.3h0m-.5 3.6h0m.7-2.7h0m8.4 1.4h0m2 .4h0m-1.1 2.5h0m-1.3 .3h0m-5.6-.6h0m-.4 .9h0m0-1.1h0m-1.1 .8h0m-.2 .5h0m-.1 .1h0m-.6-.3h0m-.4-.6h0m-.9 1h0m-74.3-1.3h0m74.5 3h0m2.5 1h0m.4-1.2h0m.7 1.5h0m6.6 3.3h0m-1.2-.2h0m-.1-1.3h0m-1.4 .6h0m-24.8-.1h0m-7.7 .8h0m-50.2 2.6h0m64.4-1.7h0m15.1-.2h0m2.7 2.2h0m.5-.2h0m.8-2h0m-1.6 3.9h0m-1.4-.6h0m-3.8 .1h0m-2.7 2.3h0m-5.6-1.4h0m-3.7-.4h0m-2 .3h0m-.4-1h0m-2.9 1.4h0m-1.6-1.4h0m-.1 1h0m-55.3-1.4h0m-.5 .7h0m-2-.6h0m-.2 .6h0m-.4 .4h0m-3.5 4h0m2.3-1.3h0m.5 .3h0m5.6 1.6h0m52.7 .2h0m.1-.6h0m.9-1.5h0m1.9 0h0m.5 1.5h0m1.9 .5h0m4.4-1.9h0m.8 1h0m.7 0h0m3.1-.1h0m11.6-1h0m1.4 1.6h0m1.5-.4h0m.2 .7h0m.7-.1h0m3.1 2h0m-1.5 .2h0m-.2-1.7h0m-.6 1.4h0m-.6-1.5h0m-2.3 2h0m-17.6 .7h0m0-2.3h0m-.2 .7h0m-4.7 1h0m-.2-.2h0m-5.3-.8h0m-1.2-.9h0m-.3 0h0m-1.9 1.6h0m-49.6-.7h0m-4 1h0m-2.3-1.8h0m1.5 3.9h0m3.3-.2h0m.9 .9h0m.4-.3h0m8.4 1.2h0m39.1-.4h0m2-1.7h0m3.4 1.5h0m1.7 .6h0m1-.8h0m.3-1.2h0m.9 .2h0m3.8-.7h0m.8 .6h0m23.9 .8h0m.7-1.3h0m.1 2h0m.9-.7h0m.8 .5h0m-1.6 1.5h0m-38.4 .8h0m-4 1.3h0m-1.9-.2h0m-3.5 0h0m-.4 .1h0m-6-.9h0m-2.3-.1h0m-5.7 .6h0m-4.9-.8h0m-3.3 .7h0m-4.6-1.2h0m-3.3-.8h0m-.6 2.4h0m-.5-2.1h0m-6.6 .7h0m-.3-.7h0m-1 1.4h0m-.5 .5h0m-.8-1.9h0m-3.6-.1h0m31.5 3.1h0m2.5 1.4h0m.8-1h0m7.8-.3h0m2 .9h0m2.1 .3h0m2.3-1.2h0m.5 1.7h0m.3-.2h0m2.6-1.1h0m1.1-.2h0m42.5 .1h0m.6-.6h0m.3 1.3h0m2.4 2.9h0m-2.5-1.5h0m-38.9 1.6h0m-2.5 1.1h0m-.5 0h0m-4.5-1.8h0m-10.7 1.4h0m18.2 2.7h0m38-1.9h0m4 .6h0m1.4 1.5h0m.8-1.7h0m.2 2.1h0m1.7 1.8h0m-.8 1.5h0m-.1-.7h0m-.3-.9h0m-1.4-.7h0m-.4-.2h0m-42.8-.1h0m-1.4 2.4h0m-.1-1.7h0m-.1-.4h0m-1.3 2h0m5.3 .6h0m41.7 2h0m.9-.3h0m4.1-.3h0m1.6 4.3h0m-1.1-.7h0m-1.3-2.1h0m-.5-.1h0m0 .8h0m-1.2-.4h0m-49.8 .8h0m.9 3h0m2-.5h0m.5-.3h0m.1 0h0m48.9 .8h0m1.1-.7h0m7.3 1.9h0m-.9 1.7h0m-.3-.6h0m-6.4-.5h0m-.2 2.8h0m-49.3-1.5h0" stroke="#F07B62" stroke-width="1.4" stroke-linecap="round"/>
<path d="M627.4 1020.9h0m-.3 8h0m1.6 1.7h0m-3 6.6h0m-.3 0h0m-13.7 .7h0m-.1-2.2h0m.4 4.2h0m1.8 1h0m3.3-.9h0m3.7 .3h0m3.2-.7h0m-9.1 2.7h0m-2.5-1.1h0m-.1 1.9h0m-72.9-.3h0m-.7 .2h0m-.3-.1h0m-1.1 3.2h0m.5-.1h0m75.3-1.7h0m2.6 .1h0m0 2.1h0m7.4-.7h0m-.3 3.5h0m-3.2 .2h0m-2.5-1.7h0m-2.1 .2h0m-12.4 1.3h0m-2.2 .6h0m-62.9 1.1h0m58.8-.8h0m2 1.7h0m.2-1.6h0m1.4 1.8h0m2.8 .4h0m.6-1.7h0m.3 2h0m.4-.2h0m0-.5h0m13.2 .1h0m5.8 1.2h0m-.6 1.4h0m-.9 .1h0m-2.9 .3h0m-3.4-.8h0m-4.7 1h0m-8.5 .2h0m-1.7-1.6h0m-.1 1.5h0m-1.8-1.2h0m-57.9-.4h0m-4.3 3.1h0m.3 1.8h0m2.1-.4h0m3.6-.3h0m50.4-1.6h0m2 .5h0m2.1 1h0m.2-.3h0m2.3-.9h0m1.1 .1h0m1.6 .3h0m4.3-.4h0m4.8-.2h0m9.8-.6h0m3.6 1.8h0m-1.3 3.2h0m-.3-2h0m-17.8 .9h0m-1.5 1.1h0m-.1-.8h0m-.7-.7h0m-.5 .1h0m-.6 .4h0m-3 .9h0m-1.4 1h0m-2.6-.2h0m-1-2.4h0m-1 .3h0m-.1 .3h0m0 1.3h0m-1.2 .4h0m-1.7-1.2h0m-.9-.6h0m-.2 1.3h0m-46.5-1.8h0m-4.1 2.3h0m-4.3-.8h0m-1.5 1.2h0m2.6 2.9h0m3.1-1.9h0m8 .6h0m40.8-.1h0m2-1.3h0m.3 1h0m.6 .9h0m.2-.8h0m2.8-1.2h0m.2 2.5h0m.6-.5h0m.7-1.9h0m1.5 0h0m1.5 1.8h0m.3 .8h0m1.3-.4h0m.6-.4h0m.4-.5h0m2.1-.7h0m28.8 1.3h0m-1 2.7h0m-3.9-1.5h0m-31.4 .1h0m-2.1 1h0m-.9 .6h0m-2.8-.9h0m-.7 1.7h0m-1.2-.1h0m-6.3-1h0m-13 1.1h0m-.4-1.4h0m-4.6-.1h0m-.4 1.6h0m-.8-1.3h0m-1.8 1h0m-2.7-.5h0m-12.1-1.7h0m-7.9-.2h0m-.1-.2h0m-1.2 0h0m22.7 3.7h0m12.3-.3h0m5.5 1.7h0m3.3-.7h0m1.5-.5h0m6.8-.4h0m1.8 .8h0m.5-1.1h0m.1 1.4h0m0 1.2h0m.9-2h0m.4 1.7h0m40.5-2.5h0m1.2 1.2h0m.2 .1h0m1.4 3h0m-43.6 .5h0m-21.1-1.2h0m-2 1h0m11.8 1.7h0m11.3 .3h0m1.6 2.1h0m.1 .1h0m.9-1.3h0m44.9 1.4h0m3.2 3h0m-5.1-1.9h0m-43.5-.2h0m-.6 1.5h0m-1.9-1.5h0m-.5 4.7h0m1.1-.6h0m2.1 .1h0m1.8 .9h0m39.1-2.9h0m4.5 .7h0m0 1.5h0m.9-1.8h0m.8 2.4h0m4.3 2.1h0m-1.6 .6h0m-48.2-.6h0m0 0h0m-.4-.4h0m-.2-1.3h0m-.3-.1h0m-.3 .6h0m-.6 1.3h0m-.3-1.7h0m-1.4 .2h0m-.1 2h0m-.2-1h0m.1 3.3h0m.4-.5h0m.3 1.1h0m.1-.1h0m.8-2.1h0m1.1 1.6h0m.5 .9h0m.2-1.1h0m1.1-.5h0m51.3 1.4h0m1.9 .4h0m9.2 2.6h0m-.4-1.5h0m-.7 .2h0m-1.8-1.2h0m-1.2 2.6h0m-.7 0h0m-59.5-1.4h0m-.5 .2h0m59.9 2.2h0m5.6 1.1h0m2 4h0m-.1-.4h0m-1 .3h0m-.8-1.7h0m-3.8 .3h0" stroke="#5AB8B0" stroke-width="1.4" stroke-linecap="round"/>
<path d="M538.5 1052.4h0m85.3 3.1h0m-.2-1.7h0m-.5 2h0m-1.4-1.2h0m-3.7-1h0m-76.4 2.1h0m-.2-.5h0m-1.1-1.6h0m-1.8 .2h0m-.2 1.5h0m-.6-1.3h0m-1.6-.3h0m-.1 1.1h0m-.4-.7h0m-1.3 .1h0m-.1 .9h0m-.4-.3h0m-.7 .6h0m-.8 3h0m.6-1.4h0m.4-.1h0m.3 1.7h0m.1-1.5h0m.1-.5h0m.2 1.1h0m0-.2h0m.7-.2h0m0 .3h0m1.1 1.2h0m.2-2.4h0m.6 .2h0m.1 .5h0m0 .9h0m.3-.6h0m.3 .7h0m.1 .5h0m.1-2.4h0m.2 2.2h0m1.6 .1h0m0-1.2h0m.4-.6h0m.3 1.6h0m.2-1.2h0m.2-.6h0m0 1.6h0m0 0h0m.3 .8h0m.3 0h0m.1-.6h0m0-2.1h0m.4-.2h0m.2 2.6h0m0-.5h0m.7 .3h0m.4-1.4h0m.3 .6h0m78.9 .2h0m1.6 .1h0m5.1 3.6h0m-87-1.4h0m-.3 0h0m-.3 1.6h0m-1.1 0h0m0-1.5h0m-.2 .9h0m0-1.7h0m-.1 0h0m-.6-.2h0m-1.2 2.6h0m-.2-2.3h0m-.7 1.5h0m0-.7h0m-.2-.4h0m0 .9h0m-.3-.4h0m0 .9h0m-.6-1.4h0m-.4-.5h0m-.4-.2h0m-.6 1.7h0m-.1 1h0m-.1-2.7h0m-.2 1.3h0m-.3-1.5h0m-.4 .6h0m-1.7 1.7h0m-.1-.5h0m.8 1.5h0m.6 .7h0m.1-1h0m1.1 .9h0m.3 .1h0m.1 1.7h0m.1-1.3h0m.2-.8h0m.5 .9h0m.4-1h0m.1-.4h0m.2 2.7h0m.2-2.2h0m.1-.1h0m.3 .4h0m.2 .7h0m.5 1.3h0m.4-2h0m0 0h0m.2 1.9h0m.5-2.1h0m.9 2.1h0m.3-1.1h0m.4 .7h0m.6-1.7h0m.1 0h0m.6-.6h0m.4 1h0m.1 .1h0m.2-.2h0m84.2-.9h0m2 2.3h0m-2.1 1.1h0m-36.4 2.3h0m-21.6-.6h0m-1.2 .4h0m-5.8-.2h0m-12.2-1.2h0m-7.6-.6h0m-.5 .1h0m-.7 1.2h0m0 .7h0m-.2-1.9h0m-1.2 .9h0m0-.8h0m-.9-.4h0m-.6 .4h0m0 .3h0m-.2-1.1h0m-.4 2.1h0m-.5-1.2h0m-.1 .5h0m-1.7-1h0m15.4 2.7h0m5.7 .5h0m4.9 1.9h0m4.3-.7h0m.9 .8h0m1.3-.5h0m5.5-2.1h0m5.2 1.7h0m1.1-.4h0m2-.9h0m3 .4h0m.2 .2h0m46.2 .2h0m2.5 1.1h0m3.2 4.9h0m1.1 .1h0m.6-.2h0m.1 1.9h0m3.3 5.7h0m1.6 2.2h0m-1.9 2.6h0m.1-.9h0m.1-.2h0m.5 1.6h0m.3-1.4h0m.3-.6h0m13.4 2.2h0m.2-.8h0m1.5 .4h0m.2 .3h0m2.9 3.7h0m-.6-2.1h0m-.2 .9h0m0 1.3h0m-.8-1.5h0m-.1 1.2h0m-.8-1h0m-.1-.7h0m-.1 .6h0m-.2-.1h0m-.1 .6h0m0 .6h0m-.1-.8h0m-.2-.4h0m-.2 1.2h0m-.3-1.3h0m-.2-.1h0m-.2 1.1h0m0-.1h0m-.2-1.9h0m-.2 2.3h0m-.5-1.5h0m0 1.5h0m-.2-.4h0m-.8-1.4h0m0 1.6h0m-.5-.3h0m-.2-.6h0m-1 .7h0m-9.1-1.6h0m-.3 1.5h0m-.6-1.5h0m-.7-.4h0m-.3 4.7h0m.4-1.2h0m.1-.2h0m.8 2h0m.1-2.4h0m.1 1.3h0m.1-1.1h0m0 2.3h0m0-2.6h0m.2 1.9h0m.7 .4h0m.5-2h0m.4 2.5h0m.2-1.1h0m7.8 .5h0m.4 .7h0m1-.4h0m.3-.8h0m0-.3h0m.1-.6h0m0 .8h0m.2-1.2h0m.2-.1h0m.3 1.8h0m.1-.1h0m0 .1h0m.2-.2h0m.8 .2h0m0-1h0m.2 .3h0m.1-1h0m.9 1.8h0m.1-2.1h0m.2 .6h0m.2 2h0m.3-1h0m.1-1.6h0m.2 2.5h0m.1-2.5h0m.1 0h0m.3 2.1h0m.3-.1h0m0 .1h0m.2-1h0m1.7 .6h0m-.2 3h0m-.3-1.1h0m-.1-.4h0m-.1 .1h0m-.4 2.2h0m-.1-2.3h0m-.1 1.2h0m0-1.4h0m-1.2 2.6h0m-.1-2.5h0m-.1 .8h0m0 .2h0m-.2 0h0m-1.4 .1h0m-.4 1.5h0m-.2-1.4h0m0-.4h0m-1.6 .9h0m-.3 0h0m-1.1-1.4h0m-.4 2.3h0m-.5-2.3h0m-7.1 2.2h0m-1-1.9h0m-1.2 .1h0m-.1-.8h0m-.7 2.1h0m-.2-.8h0m-.3 1.1h0m-.6-.1h0m-.4 .5h0m1.6 2.8h0m.2-.4h0m.3-1h0m.8 .7h0m1.3-1.6h0m8.4-.3h0m.3 1.1h0m1-.8h0m.1 .9h0m.1 .2h0m.3 .3h0m0-1.5h0m.1-.3h0m.5 1.3h0m.1-.9h0m0-.1h0m.4 .7h0m0-.1h0m.5-.7h0m1.1 1.3h0m.3 .3h0m.9-.4h0m.5-1.4h0m.5 .9h0m-2.7 2.5h0m-1.6-.1h0" stroke="#8E9896" stroke-width="1.4" stroke-linecap="round"/>
<path d="M601.8 1047.5h0m-14.4 2.4h0m0 1.9h0m17.7 1.4h0m-1.2 2.1h0m-2.1-.1h0m-3.6 .5h0m-5.5-1.8h0m-5.5 3.9h0m2.5 .2h0m.3 .4h0m4.8-1.5h0m.4-.7h0m4.7 2.2h0m5.4 0h0m-1.6 2h0m0-.2h0m-4.4-.5h0m-2.3-.7h0m-3.8 2.8h0m-45.3 3h0m44.3-.6h0m1.8 .5h0m7.1-1.9h0m1.4 0h0m.9-.4h0m-13 4.5h0m-.4 1h0m-.2-1.7h0m-8 .4h0m-7.7 .4h0m-1.1 .4h0m-4.1 .4h0m-2.9-.9h0m-4.4-.3h0m-8-1.3h0m-1 2.5h0m6.4 1.3h0m9.7 1.5h0m1-1.7h0m3.4 .2h0m.7-1h0m2.7-.1h0m9 1.8h0m1.6-1.2h0m2.6 2h0m1.1-2.5h0m1.2 2.1h0m0-.3h0m1.5 3.7h0m0-.8h0m-.3-.3h0m-.3-.5h0m-.7-.4h0m-.8 1.9h0m-.4-1.3h0m-.2 .8h0m-1.2 .6h0m2.3 3.2h0m.6-1.3h0m.2 .8h0m1.5 2.9h0m-1.6 .4h0m-.1-2.6h0m-1.1 2.2h0m-.3 0h0m-.8 .1h0m-.2 1.6h0m.3 .5h0m2.1-.8h0m.8 0h0m.3 1.6h0m.2 .7h0m-2 2h0m-.2-1h0m.5 2.3h0m.1 2.5h0m.9-.5h0m0 .5h0m2.9-2.4h0m-2.2 3.7h0m-.3-.2h0m-1.2-.8h0" stroke="#B07CC8" stroke-width="1.4" stroke-linecap="round"/>
<path d="M631.7 1004.2h0m3.4 .1h0m1-.4h0m1.9 .7h0m.6 3.2h0m-1.6-1.3h0m-2 1h0m-2 0h0m-.2-1.5h0m-.9-.5h0m-2.8 4.4h0m1.5 .3h0m.4-1.8h0m1.7 2.1h0m.3-1.5h0m1.4-1h0m-.5 4.9h0m-1.1-.5h0m-.9-.8h0m-1.2 1.9h0m-.6-2.2h0m-.4 3.5h0m2.4 .1h0m5.9-.7h0m-8.3 5.7h0m-8.1 23.1h0m-2.1 8.2h0m1.6-1h0" stroke="#E8935A" stroke-width="1.4" stroke-linecap="round"/>
<path d="M631.2 1003.3h0m.9-.4h0m.2 .5h0m1-.8h0m.3 .5h0m.6-.2h0m.8 .3h0m.1 1.2h0m.4-1.4h0m.5 .3h0m.5-.4h0m1.6 .9h0m1.2 3.7h0m-.9-1.3h0m-.4-1h0m0 1.2h0m-.3-1.3h0m-.2 2.8h0m-.1-.6h0m-.1-.5h0m-.2 .6h0m-.2-1.3h0m-.6-.5h0m-.1-.5h0m-.1 .8h0m-.3 .1h0m-1 1.3h0m-.5 .6h0m-.1-.8h0m-.5-1.8h0m-.6 1.1h0m-.3-.4h0m-.8-.2h0m-.1 1.3h0m-2-.8h0m-.5 3h0m1.3 1.2h0m1.4-1.4h0m.8 1.3h0m.9-1.7h0m.2 .8h0m.4-.6h0m.2 1.7h0m.5 0h0m0-.3h0m.2 .3h0m0-1.1h0m.2-.1h0m.3 .3h0m.3-1.2h0m.1 1.5h0m.2-.2h0m0-1.2h0m.9 .6h0m.2 .2h0m0-.7h0m0 2.2h0m.3-1.1h0m.2 0h0m.8-1.7h0m.8 1.3h0m.1 1h0m.3-1.8h0m-1.2 2.5h0m-.2-.1h0m-.1 2h0m-.5-1h0m-.6 1.9h0m-.2-.2h0m-.1-1.2h0m-.2 .1h0m-.4-1.2h0m0 .6h0m-.8 1h0m-.1-.8h0m-.1-1h0m-.2 1.5h0m-1.2 1h0m-.2-2.7h0m-.1 2h0m-1-1.3h0m-.5 .5h0m-.1-.4h0m-.2-.1h0m-.5 .7h0m-1.4-1h0m-.7 .8h0m-.5 4.1h0m.2-.2h0m1.9-1.3h0m1.5-.6h0m1.6 0h0m1.1 0h0m.4 2.2h0m.7-1.9h0m.9 .5h0m-5.7 2.9h0m-.5 1.8h0m-1.5 .2h0m-.9-.5h0m-.4-2.1h0m-.1 3.4h0m.8 1.5h0m.1 0h0m.5-2h0m.1 1.5h0m1 .1h0m-2.9 2.6h0m-.2 1.1h0m-1-.4h0m0 .9h0m.9 .6h0m3.1 1.3h0m.3 1h0m.3-2.2h0m1 2.2h0m0-.1h0m.1-.6h0m0-.6h0m.5-.9h0m.1 1.7h0m.4 .4h0m0-.6h0m.4 .4h0m.2 .2h0m.1-.5h0m1.1-1.3h0m.6 .1h0m.9 .7h0m.3-.2h0m.1 1h0m.5-.8h0m.2-.7h0m.5 1.3h0m.3 .9h0m-1.1 1.4h0m-.1 .1h0m-.2-.2h0m0 .3h0m-1-.7h0m-.6-.6h0m-.1-.2h0m-.7 .4h0m-.4 .1h0m-1.4-.8h0m-.5 1.9h0m-6.4-.2h0m-.1 .8h0m-1.2 1.1h0m.7 .6h0m.9-1.3h0m-.3 4.9h0m-.2-.5h0m-.5-.3h0m-2.2 1.7h0m-8.9 .1h0m-.5-.7h0m-.4-1h0m-1.7 .3h0m2 3.6h0m9.5 .1h0m.6 2.2h0m-.3-.4h0m-7.3 1.7h0m-.9-2.4h0m-.1 .2h0m-1.4 .5h0m.1 2.7h0m1.6 2.1h0m1.4-1.7h0m4.5 1.5h0m.1-.9h0m1.5 2.9h0m-3.2 1.1h0m-2.4-.7h0m-3.1-.6h0m-11.1-.6h0m0 1.4h0m-.3-.5h0m-68.4 3.6h0m5.1-.9h0m48.1-.5h0m11.7 2h0m3.2 0h0m.2-1.9h0m2.6 .8h0m.5 .4h0m10-.8h0m3.1 .3h0m.5-.3h0m.8 .7h0m.8-.8h0m.1 1.4h0m.1-.3h0m3.3 3.3h0m-.5 .2h0m-2-.3h0m-.3-1.9h0m-.4 1h0m-1.9-.5h0m-.4 .5h0m-2.5-1.2h0m-2.1 1.8h0m-1.3 .2h0m-8.9-.3h0m-2.7 0h0m-8.8 .5h0m-5.1-1.5h0m-48.2 1.2h0m-1.6-1.7h0m-.4 1.6h0m-2.9-1.2h0m-1.1 3h0m.5 .5h0m2.7-1.2h0m1.8 .8h0m0-.9h0m.6 .8h0m.8-.6h0m.3-.5h0m52.6 1.4h0m5.7 1.5h0m.4-.7h0m3.9-.9h0m.7 1.2h0m.6 .3h0m.1-2.6h0m1.1 1.5h0m5.9-1.1h0m10.4 .3h0m.1-.2h0m.7 .8h0m0 .3h0m.8-.5h0m1.8 .6h0m1.8 1h0m.2-1.5h0m.3 .4h0m0 3.1h0m-1-.6h0m-1.3-.5h0m-23.4-.4h0m-6.2 .4h0m-.2 .4h0m-1.1-.4h0m-3-.2h0m-2.2 2h0m-47.7-1.6h0m-2.6-.3h0m-.7 1.7h0m-1-2.4h0m-4.2 2.4h0m1.1 2.9h0m.3-2h0m.6 1.8h0m.3-1.1h0m1.1 .1h0m.2-.3h0m.2-.1h0m3.6 2.1h0m52.8 .1h0m.5-2.9h0m.1 2.9h0m.1-2.6h0m2.3 .6h0m.1 1.3h0m.3-.6h0m.5-.2h0m5.9-.9h0m21.8 .2h0m.9 1.1h0m1.6-.2h0m.7-1.3h0m.5 2.2h0m3.5 .1h0m.6 3.1h0m-1.2-1.2h0m-1.2 1.4h0m-.1-.4h0m-2.8-2.5h0m-.7 2.5h0m-35.3-1.8h0m-.6 .2h0m-15.1 .3h0m-2.5 1.3h0m-6.7-.2h0m-6.5-.6h0m-20.3-1.5h0m-1.5 1.9h0m-2.2-1.6h0m-.9-.3h0m21.3 2.8h0m7.9 1.4h0m8.9 1.1h0m.6-.8h0m4.5 .8h0m8.9-.8h0m3.3-1.5h0m38.6 1.5h0m1.2-1.4h0m2.8 2.3h0m.9-1.6h0m1 4.7h0m-42.3 .1h0m-.3-.3h0m-.7-2.5h0m-15.7 2.3h0m16.3 2.3h0m41.1 1.2h0m1-2.6h0m.1 .5h0m1.7 2.1h0m.7-2.7h0m.2 1.2h0m3.9 2.3h0m-.5 1.7h0m-1.2 .6h0m-.9-.8h0m-.1-2.1h0m-1.7 2.2h0m-43.9-1.4h0m-.2-.5h0m.6 3.3h0m43.1 .1h0m4-.4h0m.1 .3h0m1.5 2.2h0m.4 1.8h0m-2 .2h0m-44.5-1.7h0m-1.7 1h0m-1.1-1.1h0m-2.3 1.2h0m.9 2.6h0m2 1.7h0m.8-.3h0m47.1-.4h0m.7-.3h0m.4-.1h0m9 3.3h0m-1.9-.2h0m-.8-.8h0m-5.8-.3h0m-1.4 2h0m-48.2-2.2h0" stroke="#F07B62" stroke-width="1.4" stroke-linecap="round"/>
<path d="M630.6 1013.8h0m2.8 1.4h0m-3.2 2.3h0m-1.6 4h0m-2 5.4h0m-.5 9.8h0m-12.3-1.1h0m-1 1.4h0m-1.9-.4h0m.9 3.5h0m1-1.4h0m9.5 .9h0m1.5 .1h0m-.5 1.7h0m-1.3 .2h0m-10 5h0m9.5-.8h0m-.9 3.1h0m-.3-.1h0m-3-1.3h0m-1.1 0h0m0 .8h0m-13.7-.3h0m-.1-.7h0m-.8 1.9h0m-1.1 .5h0m-67.3 3.1h0m6.6-1.4h0m47.3 1.1h0m8.8-1.7h0m4.1 1.7h0m16.1-1.4h0m3.5 .8h0m.8-1.3h0m-1 3.1h0m-.1 .4h0m-5.2 .2h0m-.4 1h0m-.9 .1h0m-10.5-.5h0m-.7-1.9h0m-60.4 2h0m-2 .2h0m-.7 0h0m-1-.7h0m-3.1 2.8h0m3.4 .8h0m2.1-1.2h0m47 .3h0m1 .6h0m.6 .3h0m1.4 .5h0m9.9-1.7h0m.3 .8h0m2.7 .7h0m.3-.4h0m2 .4h0m.1-2.4h0m1.3 .3h0m1 .1h0m3.1 0h0m11.1-.1h0m1.6 2.3h0m3.9-.4h0m-.2 2h0m-.5 .2h0m-19.2-1h0m-1.9 1.8h0m0-1.4h0m-.3-.5h0m-1.5 1h0m-.4-.3h0m-3.5-.9h0m-.1 1.3h0m-2.9-.6h0m-.4 2.1h0m-1-1.7h0m-1.1-1.1h0m-1.8 1h0m-.6-.2h0m-1-.2h0m-.2 1.6h0m-2.1 .6h0m-1.4-1.3h0m-.1-1.6h0m-44.9 1.2h0m-1.1 0h0m-.1 1.7h0m-1.4-.4h0m-2.8 1.1h0m2.8 .1h0m3.6 2.2h0m1.6-.5h0m0 .1h0m1.8 .4h0m1.9-.5h0m1.1 .3h0m37.4-2.1h0m2.9-.3h0m2.6 1.7h0m2.8-.1h0m1 .8h0m.1-.7h0m2 .3h0m.8-2h0m.6 .3h0m2.6-.3h0m23.7 .5h0m1.5 .7h0m3.4 1.6h0m-37.7 2.8h0m-2.8-1.1h0m-.5-1.2h0m-.8 1.1h0m-.2-.4h0m-.1 .5h0m-2.8 .8h0m-19.7-.9h0m-2.6-.8h0m-5.1 1.5h0m-2.3-1.6h0m-1.5 1.2h0m-.2-1.2h0m-2.1-.6h0m-.7 3.2h0m10.8-.4h0m2.2 2.1h0m.7-1.4h0m.7-.7h0m4.8 2.5h0m.5-2.4h0m4.7 1.4h0m3.1 .5h0m.3-.8h0m10.8 1.1h0m35.9-1.9h0m6.1 2.1h0m1.4-.7h0m5.3 2.5h0m-5.4-.4h0m-1.8-.2h0m-37.9 .4h0m-2.4 .8h0m-1.1-1.4h0m-10.3 .5h0m-1.4 1.4h0m12.5 2.2h0m.3 1.1h0m1.6-1.2h0m1.3-.3h0m37.5 1.5h0m4.3-2.2h0m1.9 4.3h0m-2-1.5h0m-1.8 0h0m-40.7 1.6h0m-.6-.3h0m-.2-1.3h0m-3.9 3.5h0m.5 .2h0m1-.1h0m.4-.4h0m1.5-.1h0m.7 2.3h0m.2-1h0m46.8-.8h0m1.3 .7h0m3.4 4h0m-2.9 .1h0m-1.7-2.4h0m-46 2.6h0m0-1.4h0m0 .5h0m-.8-.7h0m-.3-.4h0m-.5 1h0m-.1-.9h0m-.3 .3h0m-.2-.3h0m-1.6 4h0m1.1-1.3h0m0 .3h0m.3 1.8h0m.2-.7h0m0-1.1h0m.1 1.4h0m0-2.4h0m.3 1h0m.3-.6h0m.1 2.2h0m.3-2.6h0m.1 1.3h0m.2 .3h0m.4 1.3h0m.4-.7h0m.3-.3h0m.1 1h0m60.6 2.5h0m-60.9-2.1h0m-.1 .1h0m-.5-.3h0m-.8-.1h0m58.8 4.8h0m2.3 1.1h0m2.2-1.2h0m.2-.9h0m2.1 .1h0m-1.2 4.4h0m-1.9-1.2h0m-.1 .4h0m-.2 2.9h0" stroke="#5AB8B0" stroke-width="1.4" stroke-linecap="round"/>
<path d="M541.5 1055.3h0m-.6-.2h0m-.1 .6h0m-.6-2.2h0m-1.9 2.2h0m-.1-1.9h0m-.3 1.2h0m-.4-.9h0m-.2 .3h0m-.7 .9h0m-.1-1.9h0m-1.6 1.6h0m-.7 .3h0m-.7 .4h0m-.2 2.9h0m0-.1h0m.2-1.9h0m0 .3h0m0-.7h0m.3 .9h0m.2-.3h0m.1 1.8h0m.2-2h0m0-.1h0m.2 2.1h0m0 0h0m.5-2h0m.4 1.5h0m.2-1.5h0m.9 2.3h0m.1 0h0m.8-2.1h0m.1-.2h0m.1 1.2h0m.3 0h0m0-1.2h0m.2-.3h0m.4 1.3h0m.2-.2h0m.7 .2h0m0 .3h0m.6 .5h0m.2-2h0m.3 1.1h0m.4 .7h0m.1-.3h0m.4 .8h0m1-2.2h0m.1-.3h0m.4 1.8h0m76.3-1.1h0m4.3-.9h0m1.7 2.5h0m2.9 3.4h0m-5.1-2.1h0m-79-.5h0m-.4 2.3h0m-.7-1.2h0m0 .1h0m-.2-.5h0m-.3 .8h0m-.4 1.1h0m-.3-1h0m-.2-1.6h0m-.9 0h0m-.6 1.1h0m-.2 1.5h0m-.2-.1h0m0-2.2h0m-.1 .7h0m-.4-.3h0m-.5 .5h0m-.6 .7h0m-.1-.6h0m-.2-.9h0m-.3-.3h0m-.1 .7h0m-.4-.3h0m-.1 1.1h0m-.2-.3h0m-1.1-1.5h0m0 .6h0m-.8-.7h0m-.6 .1h0m-.2 1.7h0m-.2-.4h0m-.2-.9h0m-.4 .6h0m0 1.4h0m-.2-2.5h0m-.5 2.1h0m0 2.6h0m.2-1.4h0m.4 0h0m1.4 .3h0m0 .9h0m.7 1.4h0m1-2.4h0m.3 1.2h0m.2-.2h0m.5 0h0m0 1.4h0m.3-1h0m.3-1.9h0m.2 1.8h0m.8-1.6h0m1 1.6h0m1.2-.6h0m.5-.6h0m.1 1.9h0m.2-2.4h0m0 .5h0m.5-.2h0m.3 .3h0m.4-.5h0m84.6 2.3h0m-54.7 3.4h0m-20.7-2.8h0m-.2 2.7h0m-6.7-.1h0m-3.3-2h0m-.7 .5h0m-1.1-.3h0m-1 1.3h0m-.1-1.4h0m-.3 0h0m-.4 .2h0m0 1.3h0m-.1 0h0m-.7-2.1h0m-.4 .1h0m-.9 1.6h0m-.3-1.7h0m-.6 1.2h0m-.3-1.1h0m24.8 5.1h0m13.8-2.3h0m2.8 2.1h0m1.7-1.6h0m6.6 .9h0m45.2 .7h0m3.8-1h0m2.8 3.1h0m-2.2-.2h0m-48-.9h0m48.7 5.1h0m2.8 .6h0m3.6 2.5h0m-3.5-.4h0m-1.5-1.3h0m-2.8 .4h0m6.5 4.5h0m.3-1.5h0m1.8 3.1h0m-1.6 1.1h0m2.5 3.2h0m0-.2h0m.6 .3h0m10.5-.3h0m1.2-.2h0m.6 .3h0m.8-.3h0m.4-.4h0m.2 .7h0m.2-1.3h0m.3 1.5h0m3 3.1h0m-.5-.9h0m-.6-.2h0m-.3-.1h0m-1.3 .5h0m-.4-.6h0m-.2 .4h0m-.2 .8h0m-.3 0h0m-.4-2.6h0m-.7 2.2h0m-.2-2.2h0m-.1 1.7h0m-.4-.8h0m-.7 .3h0m-.4 1.7h0m-.7-1.6h0m0 .6h0m-.1 .2h0m-10.2-1.9h0m-.4 2.4h0m-1-2.5h0m-.3 3.7h0m.2 2.1h0m.1-1.1h0m0 .1h0m.2-1h0m0-.1h0m.5 .4h0m.4-.2h0m.1 1.5h0m.3-1.8h0m.6 1.3h0m0-1.4h0m.1 1.2h0m.7-.5h0m6.9 .4h0m.9-.3h0m.1 1.5h0m.1-2.6h0m.6 1.3h0m.2 1.1h0m.5-2.6h0m0 1.3h0m.4-.3h0m.3 1.6h0m.3-2.2h0m.3 1.6h0m.5-.5h0m.2 .3h0m.2-1.4h0m.5 1h0m.1 .7h0m.3-.6h0m.4-.6h0m.5-.1h0m.2-.4h0m0 2.1h0m.8-.1h0m.5-.8h0m0-.3h0m.2 1.1h0m0-2.3h0m.1 2h0m.5 .5h0m.5-.5h0m.5 .4h0m-.4 1.8h0m-.5-.8h0m-.1-.2h0m-.5 .7h0m-.1-1h0m-.9 1.4h0m0-1.4h0m-.1 .3h0m-.1-.1h0m-.1 .6h0m-.1-.5h0m-.1 .6h0m-.3-.9h0m0 1.1h0m0-.1h0m-.4 1.6h0m-.4 .1h0m-.6 .1h0m-.3-2.9h0m-1.1 1.3h0m-.3 .7h0m-.6 .6h0m-.1-.6h0m-.2 .9h0m-1-1h0m-.3 .5h0m0-.1h0m-.4-.8h0m-6.7 .7h0m-.6 .5h0m0 0h0m-.1 0h0m-.2-2.3h0m-.1 2.5h0m-.5-.3h0m-.8-.6h0m0-1.8h0m-.2 2.4h0m-.3-.4h0m-.1-.1h0m-.5 .6h0m-.1-.4h0m0-1.3h0m-1 1.3h0m-.1 .1h0m.6 1h0m.7-.4h0m0 2h0m.3-1.9h0m.5 .3h0m.1 1.4h0m1.1-.8h0m9.7-.9h0m.2 0h0m.3 1.2h0m1.8-1h0m.4 .3h0m.4 2.3h0m.2-.7h0m.1-1.6h0m.2 .8h0m.2 .1h0m.2-.7h0m.1 .2h0m.4 1.1h0m0-.3h0m.3-.1h0m-1 1.5h0m-.5-.1h0" stroke="#8E9896" stroke-width="1.4" stroke-linecap="round"/>
<path d="M602.1 1048.9h0m-4 .3h0m-2.7 1.4h0m10.3 2.2h0m-3.4 1.8h0m-2.5 .2h0m-4.1-.7h0m-1.4 1.3h0m-7.2 .1h0m2.9 2.2h0m5.2-.6h0m4.9 0h0m-.2 3.8h0m-3.4-.1h0m-5.7 0h0m-.5 0h0m-2-.2h0m.8 4.2h0m2.2-.3h0m.5 3.1h0m-7.7 0h0m-7.6-.9h0m-.1 1h0m-11.5-1.7h0m-3.4 .4h0m-1.2 .6h0m-.5 .1h0m-.3-.6h0m-3.6-1h0m-4.5 1.2h0m-1.3-1.2h0m-1.9 .5h0m-1.2-.7h0m-.4 1.2h0m3.3 1.8h0m4.7 .8h0m6.1-.9h0m1.8 1h0m3.8 .5h0m.5-1.6h0m10.6 1.3h0m4.2-.6h0m2.9 .8h0m3.5 .9h0m2.3 .2h0m.1-2.4h0m.7 1.6h0m.6-1h0m.9 3.4h0m-1-1h0m-1.7 2.4h0m-2.4-1.4h0m3.5 2.1h0m1.3 4.6h0m-.8-.9h0m0-.3h0m-.7-.8h0m-.1 3.6h0m2.2 2h0m1.9-.4h0m.3 3.6h0m0-.2h0m-1.4-1.6h0m-.2 .9h0m-.3-.6h0m-1-.6h0m-.1 1.8h0m-.4 .2h0m0-.6h0m-.4 3.2h0m.3 .5h0m.4-.4h0m.3-.6h0m1.3-.7h0m.2 1.8h0m.1-.3h0m.1-.9h0m0-.5h0m0 .4h0m.2-.6h0m.4 1.6h0m.2-.9h0m-2.1 2.4h0" stroke="#B07CC8" stroke-width="1.4" stroke-linecap="round"/>
<path d="M635.5 1002.6h0m2.8 3.5h0m-2.3 0h0m-6.5 1.1h0m3.3 3.5h0m.1-2.6h0m1.3 .5h0m.4 1.3h0m.9 0h0m1.4 .6h0m2.5-1.6h0m.4-.6h0m-1.7 4.3h0m-4.8-.5h0m-.5 1.4h0m-1.2-1.3h0m3.3 2.3h0m1.1 1.2h0m1.8-.8h0m-5.6 2.1h0m-2.6 3.8h0m-5 11.9h0m-3.3 7.6h0m0-.1h0m2.4 .5h0m1.6 0h0m-2 3.8h0m-6.4 7.2h0" stroke="#E8935A" stroke-width="1.4" stroke-linecap="round"/>
<path d="M632.3 1004.9h0m.3-1.7h0m.9-1.1h0m.3 2.2h0m.2-.3h0m1 0h0m0 .9h0m.2-1.6h0m.9 .6h0m.1-.9h0m.4-.1h0m.2 .9h0m.8 .5h0m2.4 2.7h0m-.2 .8h0m-1-1.4h0m-.5 .1h0m-.2-1.4h0m0 1.7h0m-1.7 .1h0m-.1 .5h0m-.3-1h0m0-.7h0m-.1 .3h0m-.1-.3h0m0 0h0m-.6 .2h0m-.2 .4h0m-.5-.3h0m-.1-.8h0m0-.1h0m-.1 1.6h0m-.1 .8h0m-1.1-.7h0m-.1 1.1h0m-.2-1h0m-.1 .3h0m0 0h0m-.8 .2h0m-.2-1.4h0m-.5 1.7h0m0-2.7h0m-.4 2.4h0m-.1-1.5h0m-1 1.5h0m-.2-.4h0m-.3 1.1h0m.2-.1h0m.2 1.8h0m.4-1.6h0m.3 2.7h0m.4 0h0m.5-1.3h0m.5 .1h0m0 .1h0m.8-.9h0m.2 1.7h0m.6-2.4h0m.2 .2h0m1.2 1.6h0m.4 0h0m.5-1.3h0m.3-.4h0m.1-.3h0m.2 2.4h0m.1 .5h0m.8-.8h0m.6-.8h0m.8 1.3h0m.1-1.3h0m.1 .9h0m.6-1.8h0m.1-.2h0m.7-.1h0m-.3 3.9h0m-1.8-.7h0m-.4 1.8h0m-.1-.7h0m-.3-.7h0m-.1 1.5h0m-.1-2h0m-.4-.1h0m-.7 1.8h0m-.8-1.5h0m-.6-.1h0m-.4 2.4h0m-.2-1h0m-.2 .8h0m-.5-.8h0m-.2 .5h0m-.3 .4h0m0-1.2h0m-.2-1.4h0m-.1 1.8h0m-.5-.3h0m-.5-.4h0m-.1 .5h0m-.3-1.4h0m-.4 0h0m-.6 .8h0m.1 4.6h0m1.6-.4h0m2-1.6h0m0-.1h0m1.7 .1h0m.3 .9h0m2.4-1.2h0m-9 5.2h0m-.2 .9h0m1.8 .4h0m-4 6h0m.6-.5h0m3.5 .4h0m.6 2.2h0m.5-1.2h0m.1-1.6h0m.8 1.6h0m0-1.3h0m0 0h0m.2 .2h0m1.1 2.2h0m.2-1.3h0m.2-1.2h0m.7 .8h0m.2-.6h0m.7-.1h0m1.4 2.2h0m.9-.1h0m-.8 1.4h0m-1.3 .1h0m-.4-.5h0m-.1-.2h0m-.2-.1h0m-.3 .3h0m-.3 1h0m-.1-1.2h0m-1.2 .9h0m-.4-1.2h0m-.3 1h0m-.5 1h0m-.2-1.9h0m-.1 1.3h0m-.1-1.1h0m0 1.6h0m-.1-.8h0m-.7-.8h0m-.4-.1h0m-3.7 2.3h0m-.4-.8h0m-1.6-.2h0m-.8-.8h0m1.5 2.4h0m.3 .5h0m.4-.2h0m-1.4 3.6h0m-.5 1.8h0m-14.4 2.6h0m1.6-1.6h0m.3 .8h0m1.5-.2h0m0 .7h0m.2 .8h0m.1-.5h0m2.1-2.1h0m6.2-.1h0m2.1 .1h0m2.4 2.2h0m-3 1.5h0m-8.3 1.1h0m-.2-1.1h0m-.3-.6h0m-3.4 .8h0m-1.7-1.2h0m-72.1 5h0m.1-.1h0m75.2-.9h0m.8-1h0m1.6 1h0m.2-.6h0m.1 2.5h0m2.1-2.8h0m2.9 2.7h0m0-1.9h0m.6 1.7h0m1.1-1h0m-.4 1.7h0m-.9 1.5h0m-.6-1h0m-2 .6h0m-1 .9h0m-15.7-.8h0m-3.4 .1h0m-56.5-1.6h0m-2.5 4.9h0m47.6 .2h0m.4 .3h0m.1-.4h0m.1 .3h0m7.6-1.7h0m3 .8h0m1.5 1.1h0m15.3 .1h0m3.3-1.4h0m1 .4h0m.3-.6h0m.5-.3h0m2.1 3.5h0m-.3 1.6h0m-1.6-2.8h0m-.5 .9h0m-3.5 .7h0m-.4 .7h0m-12.2 .5h0m-1-2.2h0m-2.3-.5h0m-2.3 .2h0m-.8 1.1h0m-57.3 .5h0m-4.5-.2h0m-2.4 2.5h0m2 1.5h0m.1-1.5h0m1.2 1.1h0m.1-1.6h0m1.5 1.8h0m1.5-.7h0m.1-.8h0m.5-.2h0m.2 .5h0m53.9-.5h0m4.4 1.3h0m3.3-2h0m.3 2.8h0m.5 0h0m1.5-2.9h0m.4 1.2h0m.5 .5h0m15.5-.7h0m.6-.2h0m.2-.6h0m1 1.2h0m1.2 1.3h0m4.5 2.7h0m-3.5-.1h0m-2.1 .3h0m-.3 .1h0m-13.6-2h0m-7.7 .2h0m-.5 .2h0m-.7-.1h0m-.1 0h0m-2 .8h0m-.8 .1h0m-3.9 .4h0m-.2-.9h0m-50.7 .8h0m-1.7-1.6h0m-.2 .1h0m-.2 1.4h0m-.9-.5h0m-.8 .1h0m-.7-1.2h0m-1.4 .2h0m-1.2 3.8h0m.2-1.4h0m.2 .7h0m.3 2.1h0m.6-2.2h0m.2 1.6h0m1 .6h0m2.7-.6h0m4.8 .2h0m43.9-.6h0m4-1.5h0m.4 .4h0m1.3 1.2h0m.4-.1h0m1.1-1.7h0m29.4 2.7h0m.4-.3h0m.7-2.1h0m.4 .7h0m.2 1.4h0m.8-1.7h0m.3-.3h0m.5 2.2h0m.5 .1h0m1.6 2h0m-.1-1.5h0m-.5 .7h0m-2.3 .4h0m-1.8 .4h0m-31.9-1.8h0m-2.2 2.2h0m-1.6 .5h0m-.3-.9h0m-1.5-1.7h0m-3.9 2h0m-3.8-.5h0m-2 .9h0m-9.6-.5h0m-1.6 .1h0m-8.3 .7h0m-2.2-2.7h0m0 2.5h0m-.6-2.4h0m-1.6 2.3h0m-.6-2.1h0m-3.9-.4h0m-1.6 1.1h0m-1.2 .4h0m-2.5-.7h0m-7.5 .7h0m-.8-1.2h0m-.5-.3h0m9.4 3.2h0m2.7-.2h0m3.8 1.2h0m7.8-.4h0m.2 .1h0m1.5-.7h0m0-.1h0m3.3 2.3h0m4.3-1.9h0m1 2.1h0m2.9-2.4h0m0 .5h0m.1 1.2h0m.1-1.8h0m1.5 .1h0m1.6 .7h0m.2 0h0m.2-.2h0m.8 1.3h0m10.2-2h0m.7 1.1h0m2.9-.8h0m40.5 1.3h0m1.3 1h0m2.7 1.4h0m0 .8h0m-1 .4h0m-3.7-.2h0m-1 .5h0m-39.1 .2h0m-.4-1.5h0m-.3-.3h0m0 1.3h0m0-2.1h0m-11.9 .6h0m-8.2 1.8h0m63.9 1.7h0m1.6-.1h0m.7-.4h0m.8 .1h0m1 1.7h0m-.9 .5h0m-.1 .8h0m-1.7-.2h0m-43.3-.5h0m-.1 2.2h0m-.4 .4h0m-2-1.5h0m.5 3.1h0m2.3 1.5h0m.5-.3h0m45-.7h0m2.1-.7h0m4.4 4.7h0m-3.2-1.3h0m-.3-.3h0m-1.2-.6h0m-.1 .7h0m-.6 0h0m-47.5 1.3h0m1.6 3h0m57 .1h0m2.9 2.7h0m-3.4-1.1h0m-1.3-.5h0m-.2-.7h0m-6.9 .8h0" stroke="#F07B62" stroke-width="1.4" stroke-linecap="round"/>
<path d="M633.6 1017.8h0m-2.5 .2h0m-4.8 8h0m.1 9.8h0m-12.8 1.2h0m-2 3.1h0m3.3-.8h0m1.8 1h0m7 1.4h0m-8.6-.7h0m-.3 1.9h0m-1.8 .6h0m-72.6-1.9h0m.5 2.7h0m75 .7h0m.3-.9h0m.8 2.3h0m.6 .4h0m5-.4h0m1-1.6h0m-5.9 5.1h0m-2.6-1.4h0m-.5-1.4h0m-12.5 2.7h0m-.4-.5h0m-1.5 .5h0m-59.4-.5h0m-3.5-1.6h0m.8 3.9h0m1.7-.3h0m58.5-1h0m1.3 1.7h0m0-.5h0m.5-1h0m20.9 0h0m2.2 3h0m-3.7-.2h0m-1.7 2.2h0m-12.9-1.4h0m-.6 1.6h0m-2-2.7h0m-.6 1.1h0m-1.8 1h0m-.4-1.4h0m-1 .1h0m-.1 .1h0m-.1-.1h0m-3.9 1.9h0m-1.1-.6h0m-.6 .3h0m-5.4-1.5h0m-.5-.1h0m-.3 .1h0m-44.7 1.5h0m-2.7-1.2h0m-.6 .2h0m-2.5 .8h0m-1.5-.2h0m55.5 2.7h0m0 .9h0m2.9-1.2h0m4.2-.8h0m1.2 1h0m3.5 .4h0m.2-1.6h0m.9 2.3h0m.6-.5h0m.3 .4h0m3.7-.9h0m6.5-.8h0m7.2 1.6h0m1.4-1.2h0m1.2-.3h0m1.1 .7h0m7.2 3.7h0m-25.6-2.4h0m-1.4 1.6h0m-.2-.5h0m-1.3 .1h0m-1.2-1.1h0m-.9 1.1h0m-.4 .5h0m-1 .9h0m-.7-2.6h0m-.7 .2h0m-.5 1.8h0m-1.1 .7h0m-1.7 .1h0m-5.2-2.2h0m-1.7 1h0m-40.7 4.3h0m38.6-1.6h0m.2 1h0m1.5 .2h0m2.2-.8h0m0-1.2h0m.3 1.6h0m1.2-1.2h0m.2 .4h0m.1-.2h0m1.8 1.8h0m1.2-.2h0m0-2.5h0m1.2 2.3h0m1.4-.2h0m.5-1.8h0m0 1.1h0m.4-1.1h0m.4 .2h0m1.1-.6h0m2.2 .2h0m20.3 .3h0m2.4 .4h0m2.7 0h0m1.6 1.9h0m2.8-.3h0m-3.6 2.9h0m-35.6-2.4h0m-.4 .5h0m-2.7 .9h0m-.7 1.1h0m-2-1h0m-.3-.8h0m-1 .3h0m-.5 1.1h0m-6.1 0h0m-14.8-.1h0m-2.6-2.1h0m-2.6 .8h0m-1.8 1.9h0m-.7-.8h0m-.3-1h0m-1.6 .4h0m-.2 .1h0m-2.9-.9h0m-3.7 .8h0m-.7 .4h0m-6.8-1.4h0m-3.8 .4h0m15.2 3.6h0m8.2 .2h0m9.1 .5h0m1.9-1.9h0m3.3 .3h0m4.1-.3h0m2.9 1.2h0m3.2-1h0m1 .5h0m2.1 2h0m.7 0h0m.5-2.5h0m.5 2h0m1.4-.7h0m.7-.5h0m0 1h0m1.1-1.3h0m40.1-.2h0m1.7 1.8h0m-42.7 2.9h0m-.2-1.2h0m-1.5-.4h0m-18.4-.6h0m-13.7 .1h0m-.6 1.2h0m32.3 3.4h0m.6-1.8h0m1.3 2.9h0m0-1h0m1.1-1.9h0m0 1.2h0m.2-.2h0m41.1 0h0m2.2-.8h0m-1.4 4.3h0m-39.7 1.2h0m-2.1-1.6h0m-.9-.3h0m-.4 1.3h0m.9 3.5h0m47.2-1.9h0m2.3 .1h0m1.7 2.7h0m-3 .5h0m-1.7-.4h0m-44.2-.2h0m-.1 .7h0m-.5 .9h0m-1.6 .4h0m-1.6-.1h0m0-.6h0m-.3 1.8h0m1.1-.3h0m.4 1.8h0m.6-.8h0m.4 1.5h0m.4-.1h0m.6-1.7h0m.1 1.4h0m.1 .1h0m.1-.1h0m1.4-1.9h0m48.9-.1h0m5.8 3.4h0m-1.8 1.8h0m-55-2.1h0m-.3-.1h0m62 3.7h0m.2-.1h0m1.3-.2h0m2.9 1.7h0m-.8 3.5h0m-.8-2.9h0m-2.2 .9h0m-1.7 1.2h0m-.7 .8h0m4.5 1.7h0" stroke="#5AB8B0" stroke-width="1.4" stroke-linecap="round"/>
<path d="M542 1055.3h0m-.8-.3h0m-.2 .7h0m-.2-.4h0m-1-1.4h0m-.1 .6h0m-.2-1.4h0m-.3 2.3h0m-.9-2.1h0m-.2 1.6h0m-.1 .9h0m-.3-.9h0m-.4 .4h0m-1.1 .2h0m-.8-1.7h0m0 .1h0m-.2 1h0m-.5-.1h0m-.2 .8h0m-2.1 2.3h0m.7-.1h0m1-1.6h0m0 1.3h0m.3 .9h0m1.2-.8h0m.1 .9h0m0-.7h0m.1-.1h0m.7-1.6h0m.5 0h0m.2 1.4h0m.5-.3h0m.1-.8h0m.1 2h0m1.8-.4h0m.6-.5h0m0-1.1h0m.9 2.1h0m.4-1.5h0m.4 1.4h0m.5-.4h0m.3-1.1h0m73.5-.2h0m11.8 1.9h0m-2.5 2.7h0m-1.4 .2h0m-.7 .2h0m-79.9 .2h0m-.4-.6h0m-.2 .5h0m-.3-1h0m-.1 .5h0m0 .3h0m-.1-.4h0m-.2-1.6h0m-.4 2.2h0m-.2-2.5h0m-1.7 .8h0m-.5 1.5h0m-.1 0h0m-.3 0h0m-.1-.6h0m-.3 .2h0m-.9 .1h0m-.4 .1h0m0-2.4h0m-.3 1.7h0m-.4 .2h0m-.3 .2h0m0 .3h0m-.6-1.4h0m-.1 1.5h0m-.1-1h0m-.2 .9h0m-.1-1h0m-.1 .3h0m-.1-.7h0m-1.2-.8h0m-.5 1.5h0m-.4-.7h0m.6 3.7h0m.1-.5h0m.4 1.6h0m0-2.8h0m0 1.5h0m0-.6h0m.1 1.3h0m.5-1.3h0m0 1.6h0m2-1.6h0m.7 .2h0m.1 1.7h0m.1-.8h0m.4-1h0m.2 1.3h0m0 .2h0m.6-1.5h0m.6-1h0m.4 .8h0m1.3 .3h0m.4 .4h0m0 .3h0m.1 .8h0m.1 .2h0m.2-2.5h0m.7 1h0m0-1h0m84.4 1.6h0m1.1 .5h0m6.4-.6h0m-3.2 3h0m-.9-1.6h0m-1.4-.2h0m-2.5 1h0m-43.3 1.3h0m-8.3 .2h0m-12.3-.1h0m-5.6-.7h0m-1.1-.4h0m-4.8-.2h0m-10.6-.4h0m-.7 1h0m-.1-1.6h0m-.9 1h0m-.4 .5h0m-.4-1.5h0m-.2 .7h0m-.9-.4h0m-.1-.1h0m-.3-.3h0m-.1 2.1h0m-.6-1.6h0m-.5-.5h0m11.6 5.1h0m2.3-1.4h0m16.3 1.3h0m17.5-1.3h0m0 1.5h0m4.7-1h0m44.1 1.5h0m1.1-1h0m3.9 .3h0m.2 2.6h0m-1.9-.3h0m-.9 3.2h0m1.7 1.2h0m1.2 1.1h0m-.6 1.2h0m3.9 3.9h0m1.1 .1h0m-3.8 .1h0m2.9 4h0m1 .2h0m.3 .3h0m0-1.4h0m.8 .1h0m.3 1.2h0m.3 1.3h0m10.5 .1h0m.2-.4h0m.9-.4h0m.4-.2h0m.4 .7h0m.9-.6h0m.4-1.2h0m.1 1.8h0m.6-.6h0m0 0h0m.4 0h0m2.7 3.6h0m-1.3-.1h0m-.3 .1h0m-.3-.7h0m-.1-1.2h0m-.3 1.1h0m-.7 .1h0m-.1-.2h0m-.2-1.2h0m-.3-.2h0m-.6 .1h0m0 1.3h0m-.1 .3h0m-.1-1.5h0m-.3-.4h0m-.2 2.2h0m-.1 .5h0m0-1.5h0m-.5-.3h0m-.7 .4h0m0-.2h0m-.2-.7h0m0 .1h0m-.1 1.9h0m-.3 0h0m0 .4h0m-.6-1.6h0m-10.2 1.1h0m-.4 .4h0m-.1-.1h0m-1.6 2.7h0m.3-.1h0m.6-1.1h0m.2-.9h0m.4 .7h0m.2-.6h0m.6 1.4h0m.7-1.5h0m.9 1.3h0m6.8 .3h0m.1 .6h0m.9 0h0m.3-2h0m.7-.3h0m0 2.3h0m.4 0h0m.3-1.5h0m.2-.3h0m.1 1.9h0m.3-.8h0m.1 .4h0m.4-.4h0m.1-1.6h0m.1 .7h0m.1-.3h0m1.3 1.3h0m0-1.5h0m.7 1h0m.3-.4h0m0 1.6h0m.2 .3h0m.2-.6h0m.1 .5h0m.2-1.9h0m.1 .7h0m1.3-1.5h0m.5 2.3h0m0-1.6h0m.2 .6h0m.1-.8h0m.2 1.4h0m-.4 3.7h0m-.1-1.2h0m-.8-1.4h0m-.1 2.2h0m-.1-1.2h0m-.5-.2h0m-.1 1.1h0m-.2-.4h0m-.5 .7h0m-.2-1.4h0m-.2 1.7h0m-.3-2.3h0m-.9 1.3h0m-.3 .5h0m-.2 .7h0m-.4-1h0m-.4 .4h0m-.3-.4h0m-.1-.3h0m0-1.2h0m-.2 1.8h0m0-1.2h0m-.2-.2h0m-.1 1.8h0m-.7-.3h0m-9.3 .7h0m-.2-.3h0m-.1-.3h0m-.1-.5h0m-.1-.8h0m-1 1.2h0m-.3-2.2h0m-.1 1.3h0m-.2 1h0m0-1.8h0m-.1-.5h0m-.4 .9h0m-.1 .6h0m-.5 1.3h0m-.3-1.2h0m-.3 .6h0m.5 1.3h0m1.4 1.5h0m.2-1.4h0m.5 1.1h0m.4-.5h0m.4-.6h0m9.8-.3h0m.1 1.3h0m.3-.8h0m.2-.7h0m.4-.1h0m.1 .9h0m0-.5h0m.4-.2h0m.2-.2h0m.4 2.6h0m.6-2h0m.4-.1h0m.2 1.2h0m.2-.5h0m.4-1.2h0m.2 1.1h0m0-.2h0m.4 1.2h0m0-.4h0m.1-.5h0m.5 .5h0m.1-.1h0m.3-.5h0m.2-.7h0m-4.8 2.6h0" stroke="#8E9896" stroke-width="1.4" stroke-linecap="round"/>
<path d="M601.6 1052.5h0m-6.1 2.5h0m-1.2 .3h0m-1.6-.3h0m-.2-.6h0m2.4 4.1h0m3 .4h0m3.5-1.2h0m-2.1 3h0m-5.9-.9h0m-3.5-.1h0m2.4 4.9h0m.9 1.1h0m-1.4 2.1h0m-.1-2.4h0m-1.7 .3h0m-1.5-.4h0m-2.1 2.6h0m-15-1.2h0m-4.8 .6h0m-1.1 .4h0m-.2-.1h0m-3.9-.4h0m-11.9-2.1h0m-.1 2.8h0m-2.8-.7h0m21.2 2.1h0m2.6-.9h0m19.3 .4h0m1.8 .2h0m.5 1.8h0m-.1 3h0m0 .1h0m-.6-.7h0m-.1-1.5h0m-.8 .4h0m-.2 .8h0m-.5-1.6h0m-.5 .8h0m-17.4-.7h0m-.5 1.3h0m21.4 1.6h0m.1 1.7h0m-2.2 3.1h0m0 3.4h0m2-2.1h0m2.6 5.3h0m-.6-.6h0m-1.8-2h0m-.2 1.3h0m-1-.7h0m0 1.4h0m-.7-1.7h0m0-.4h0m-.3 3.4h0m.2 .4h0m.9 2.1h0m.1-1.6h0m.4 0h0m.5 .1h0m0 1.3h0m1.5-1.5h0m.2 1.3h0m.5-1.2h0m.1-.4h0m1 2.3h0m-2.8 .2h0m-.4 .1h0" stroke="#B07CC8" stroke-width="1.4" stroke-linecap="round"/>
<path d="M632.7 1003.1h0m.5 .9h0m1.4 .5h0m3.7 2.8h0m-2.5-1.8h0m-1.2 1.7h0m-2.3 .1h0m-.3 .6h0m-.5-2h0m-.4 1.9h0m-.3-.9h0m-.6 .7h0m-.3-2.5h0m0 4.2h0m.9 .1h0m2.3 1.2h0m.9-2h0m1.3 .9h0m1.8 1.3h0m2 2.7h0m-1.1-2.3h0m-.5 .3h0m-.7 .3h0m-3.3 0h0m-.8 1.1h0m-.2-1.4h0m-1.5 .4h0m-.3 .5h0m.9 2.5h0m-2.2 4.3h0m-1.6 3.6h0m1.2 1h0m-1 4.6h0m-.2 1.9h0m-1.4 1.1h0m-2.6 2.2h0m1.7 1.1h0m-5.2 12.7h0m-.8 3.8h0" stroke="#E8935A" stroke-width="1.4" stroke-linecap="round"/>
<path d="M541.7 1063.2Q565.3 1067.9 590.6 1067Q603.3 1056.9 619.6 1053.3L633.9 1008.4M619.6 1053.3L640.8 1082.9L654.3 1092.9M640.8 1082.9L642.8 1090.4M590.6 1067L592.1 1070.4" fill="none" stroke="#222" stroke-width=".8"/>
<path d="M523.9 996.3V1106.6H666.6" fill="none" stroke="#444" stroke-width=".8"/>
<text x="521.3" y="1027.5" text-anchor="end" class="th">5</text>
<text x="521.3" y="1063" text-anchor="end" class="th">0</text>
<text x="521.3" y="1098.5" text-anchor="end" class="th">-5</text>
<text x="557.4" y="1118" text-anchor="middle" class="th">-10</text>
<text x="609.6" y="1118" text-anchor="middle" class="th">0</text>
<text x="661.8" y="1118" text-anchor="middle" class="th">10</text>
<path d="M521.7 1024.5H523.9M521.7 1059.9H523.9M521.7 1095.4H523.9M557.4 1106.6V1108.8M609.6 1106.6V1108.8M661.8 1106.6V1108.8" stroke="#444" stroke-width=".8"/>
<text x="606.2" y="1126" text-anchor="middle" class="th">Component 1</text>
<text transform="translate(513.3 1061.8) rotate(-90)" text-anchor="middle" class="th">Component 2</text>
<text x="591.7" y="984.6" text-anchor="middle" class="ht">TCR clonotypes</text>
<path d="M27.9 994.8h0" stroke="#F8766D" stroke-width="4.2" stroke-linecap="round"/>
<text x="32.6" y="998" class="hl">Naive CD4<tspan font-size="5" dy="-3">+</tspan><tspan dy="3"> T cells</tspan></text>
<path d="M27.9 1005.1h0" stroke="#00BFC4" stroke-width="4.2" stroke-linecap="round"/>
<text x="32.6" y="1008.4" class="hl">Tregs</text>
<path d="M27.9 1015.5h0" stroke="#7CAE00" stroke-width="4.2" stroke-linecap="round"/>
<text x="32.6" y="1018.7" class="hl">Other reactive T cells</text>
<path d="M27.9 1025.8h0" stroke="#C77CFF" stroke-width="4.2" stroke-linecap="round"/>
<text x="32.6" y="1029" class="hl">Tumor cells</text>
<text x="227.3" y="997.2" class="hl">Pseudotime</text>
<defs><linearGradient id="psg" x1="0" x2="1" y1="0" y2="0"><stop offset="0" stop-color="#0A2240"/><stop offset=".48" stop-color="#2089E6"/><stop offset="1" stop-color="#D2E9FB"/></linearGradient></defs>
<rect x="231.6" y="999.5" width="31.7" height="4.3" fill="url(#psg)"/>
<text x="231.3" y="1007.4" text-anchor="middle" class="tn2">0</text>
<text x="238.8" y="1007.4" text-anchor="middle" class="tn2">5</text>
<text x="246.3" y="1007.4" text-anchor="middle" class="tn2">10</text>
<text x="253.8" y="1007.4" text-anchor="middle" class="tn2">15</text>
<text x="261.3" y="1007.4" text-anchor="middle" class="tn2">20</text>
<path d="M243.2 1088.4C243 1079 236 1076 225 1077.2S215 1079.3 213.2 1080M247.4 1044C262 1043 272 1038 278 1030S283 1015 282.8 1009.5M258 1075.7C257.5 1067 263 1063.5 270 1063.6S280 1065.5 282.6 1068.6" fill="none" stroke="#1a1a1a" stroke-width="1.15" stroke-dasharray="2 1.3"/>
<path d="M210.8 1080.8l4.2 -3l.3 4.2zM282.9 1005.6l-2.3 4.2h4.4zM284.6 1071l-4.2 -1.3l2.8 -3z" fill="#fff" stroke="#1a1a1a" stroke-width=".8"/>
<circle cx="229.9" cy="1082.1" r="3.1" fill="none" stroke="#333" stroke-width=".6"/>
<text x="229.9" y="1083.8" text-anchor="middle" class="cn">1</text>
<circle cx="267.1" cy="1028.1" r="3.1" fill="none" stroke="#333" stroke-width=".6"/>
<text x="267.1" y="1029.8" text-anchor="middle" class="cn">2</text>
<circle cx="269.7" cy="1068.7" r="3.1" fill="none" stroke="#333" stroke-width=".6"/>
<text x="269.7" y="1070.4" text-anchor="middle" class="cn">3</text>
<path d="M387.9 995.6h0" stroke="#A457B8" stroke-width="4.4" stroke-linecap="round"/><path d="M387.9 1007.7h0" stroke="#4DAF4A" stroke-width="4.4" stroke-linecap="round"/>
<text x="392.1" y="998.8" class="hl">T<tspan font-size="4.6" dy="1.8">CM</tspan><tspan dy="-1.8"> group</tspan></text>
<text x="392.1" y="1010.9" class="hl">T<tspan font-size="4.6" dy="1.8">CyEM</tspan><tspan dy="-1.8"> group</tspan></text>
<ellipse cx="543.1" cy="1001.5" rx="4.6" ry="3.2" fill="none" stroke="#111" stroke-width="1" stroke-dasharray="1.8 1.2"/>
<text x="552.8" y="1004.6" class="hl">TCR-loss cells</text>
<ellipse cx="536.3" cy="1060.8" rx="9" ry="10.6" fill="none" stroke="#111" stroke-width="1" stroke-dasharray="1.8 1.2"/>
<ellipse cx="657" cy="1095.5" rx="6.8" ry="9.8" fill="none" stroke="#111" stroke-width="1" stroke-dasharray="1.8 1.2"/>
<ellipse cx="642.4" cy="1097.4" rx="5.2" ry="8" fill="none" stroke="#111" stroke-width="1" stroke-dasharray="1.8 1.2"/>
</svg>
</body></html>
